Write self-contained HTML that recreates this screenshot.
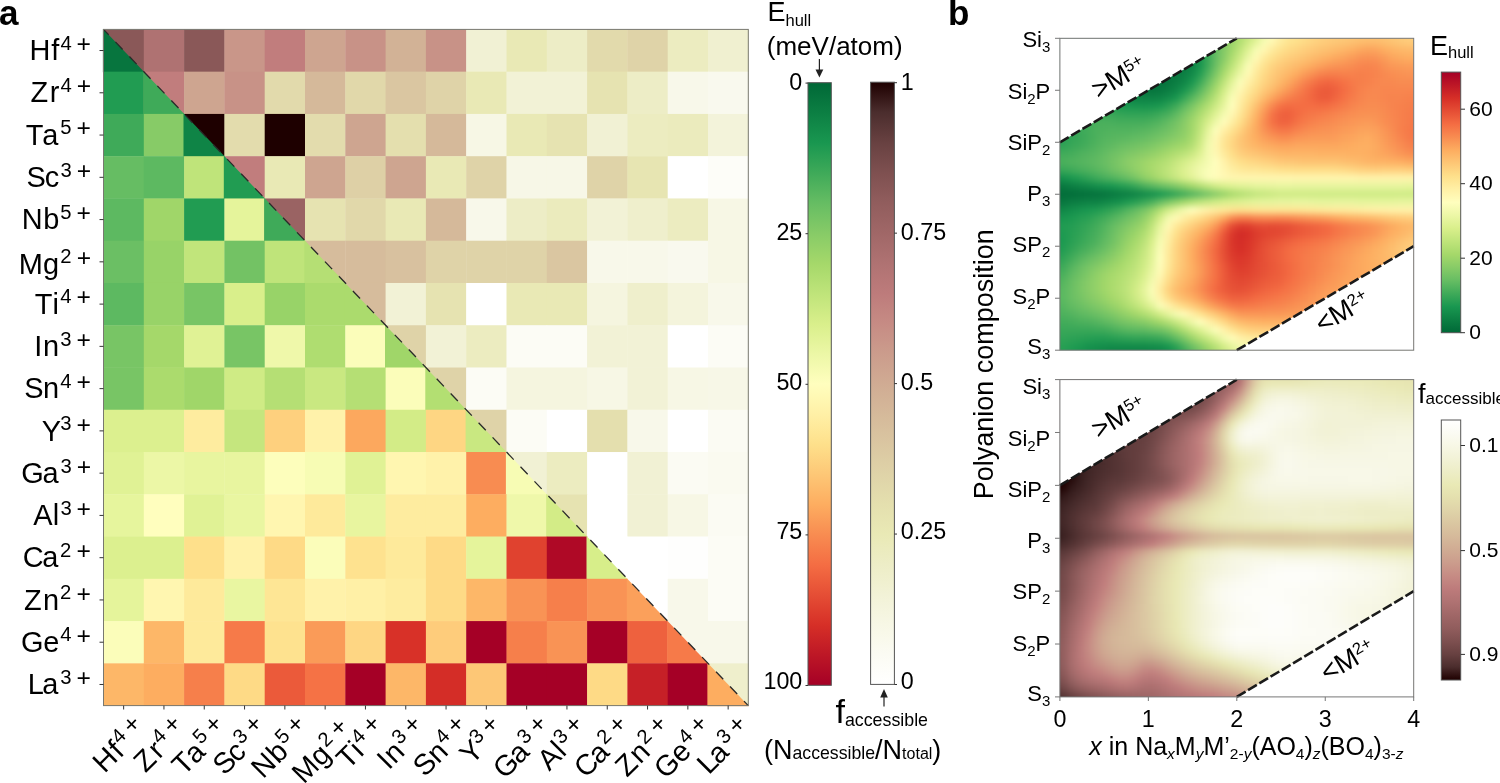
<!DOCTYPE html>
<html><head><meta charset="utf-8"><style>
html,body{margin:0;padding:0;background:#fff;width:1500px;height:783px;overflow:hidden}
svg{display:block;font-family:"Liberation Sans",sans-serif;will-change:transform}
.tl{font-size:27px;fill:#000}
.sp{font-size:19px}
.tk{stroke:#333;stroke-width:1;fill:none}
.cb{font-size:23.3px;fill:#000}
.bl{font-size:22px;fill:#000}
.sb{font-size:15px}
</style></head><body>
<svg width="1500" height="783" viewBox="0 0 1500 783">
<defs><linearGradient id="gE" x1="0" y1="0" x2="0" y2="1"><stop offset="0" stop-color="#006837"/><stop offset="0.05" stop-color="#0c7f43"/><stop offset="0.1" stop-color="#199750"/><stop offset="0.15" stop-color="#3faa59"/><stop offset="0.2" stop-color="#66bd63"/><stop offset="0.25" stop-color="#87cb67"/><stop offset="0.3" stop-color="#a5d86a"/><stop offset="0.35" stop-color="#bfe47a"/><stop offset="0.4" stop-color="#d9ef8b"/><stop offset="0.45" stop-color="#ecf7a6"/><stop offset="0.5" stop-color="#fffebe"/><stop offset="0.55" stop-color="#fff0a6"/><stop offset="0.6" stop-color="#fee08b"/><stop offset="0.65" stop-color="#fdc776"/><stop offset="0.7" stop-color="#fdad60"/><stop offset="0.75" stop-color="#f88c51"/><stop offset="0.8" stop-color="#f46d43"/><stop offset="0.85" stop-color="#e54e35"/><stop offset="0.9" stop-color="#d62f27"/><stop offset="0.95" stop-color="#bd1726"/><stop offset="1" stop-color="#a50026"/></linearGradient><linearGradient id="gF" x1="0" y1="0" x2="0" y2="1"><stop offset="0" stop-color="#1e0000"/><stop offset="0.05" stop-color="#4b2d2d"/><stop offset="0.1" stop-color="#684141"/><stop offset="0.15" stop-color="#7e5050"/><stop offset="0.2" stop-color="#915d5d"/><stop offset="0.25" stop-color="#a06767"/><stop offset="0.3" stop-color="#af7272"/><stop offset="0.35" stop-color="#bd7b7b"/><stop offset="0.4" stop-color="#c68b84"/><stop offset="0.45" stop-color="#cb9c8c"/><stop offset="0.5" stop-color="#d0ab93"/><stop offset="0.55" stop-color="#d5b99a"/><stop offset="0.6" stop-color="#dac6a1"/><stop offset="0.65" stop-color="#dfd3a8"/><stop offset="0.7" stop-color="#e4dfae"/><stop offset="0.75" stop-color="#e9e9b5"/><stop offset="0.8" stop-color="#ededc6"/><stop offset="0.85" stop-color="#f2f2d6"/><stop offset="0.9" stop-color="#f7f7e5"/><stop offset="0.95" stop-color="#fbfbf3"/><stop offset="1" stop-color="#ffffff"/></linearGradient><linearGradient id="gE2" x1="0" y1="0" x2="0" y2="1"><stop offset="0" stop-color="#a50026"/><stop offset="0.05" stop-color="#bd1726"/><stop offset="0.1" stop-color="#d62f27"/><stop offset="0.15" stop-color="#e54e35"/><stop offset="0.2" stop-color="#f46d43"/><stop offset="0.25" stop-color="#f88c51"/><stop offset="0.3" stop-color="#fdad60"/><stop offset="0.35" stop-color="#fdc776"/><stop offset="0.4" stop-color="#fee08b"/><stop offset="0.45" stop-color="#fff0a6"/><stop offset="0.5" stop-color="#fffebe"/><stop offset="0.55" stop-color="#ecf7a6"/><stop offset="0.6" stop-color="#d9ef8b"/><stop offset="0.65" stop-color="#bfe47a"/><stop offset="0.7" stop-color="#a5d86a"/><stop offset="0.75" stop-color="#87cb67"/><stop offset="0.8" stop-color="#66bd63"/><stop offset="0.85" stop-color="#3faa59"/><stop offset="0.9" stop-color="#199750"/><stop offset="0.95" stop-color="#0c7f43"/><stop offset="1" stop-color="#006837"/></linearGradient><linearGradient id="gF2" x1="0" y1="0" x2="0" y2="1"><stop offset="0" stop-color="#ffffff"/><stop offset="0.05" stop-color="#fbfbf3"/><stop offset="0.1" stop-color="#f7f7e5"/><stop offset="0.15" stop-color="#f2f2d6"/><stop offset="0.2" stop-color="#ededc6"/><stop offset="0.25" stop-color="#e9e9b5"/><stop offset="0.3" stop-color="#e4dfae"/><stop offset="0.35" stop-color="#dfd3a8"/><stop offset="0.4" stop-color="#dac6a1"/><stop offset="0.45" stop-color="#d5b99a"/><stop offset="0.5" stop-color="#d0ab93"/><stop offset="0.55" stop-color="#cb9c8c"/><stop offset="0.6" stop-color="#c68b84"/><stop offset="0.65" stop-color="#bd7b7b"/><stop offset="0.7" stop-color="#af7272"/><stop offset="0.75" stop-color="#a06767"/><stop offset="0.8" stop-color="#915d5d"/><stop offset="0.85" stop-color="#7e5050"/><stop offset="0.9" stop-color="#684141"/><stop offset="0.95" stop-color="#4b2d2d"/><stop offset="1" stop-color="#1e0000"/></linearGradient>
<filter id="bl" x="-5%" y="-5%" width="110%" height="110%" color-interpolation-filters="sRGB"><feGaussianBlur stdDeviation="3"/></filter>
<clipPath id="cpt"><rect x="1059.9" y="38.3" width="353.8" height="311.9"/></clipPath>
<clipPath id="cpb"><rect x="1059.9" y="379.6" width="353.8" height="317.3"/></clipPath>
</defs>
<text x="-1" y="24.5" style="font-size:35px;font-weight:bold">a</text>
<text x="948" y="24.5" style="font-size:35px;font-weight:bold">b</text>

<g><rect x="103.5" y="29.4" width="40.7" height="42.66" fill="#8a5858"/>
<path d="M102.9 28.8L144.4 72.26L102.9 72.26Z" fill="#07753e"/>
<rect x="143.8" y="29.4" width="40.7" height="42.66" fill="#af7272"/>
<rect x="184.1" y="29.4" width="40.7" height="42.66" fill="#8a5858"/>
<rect x="224.4" y="29.4" width="40.7" height="42.66" fill="#c99689"/>
<rect x="264.7" y="29.4" width="40.7" height="42.66" fill="#c17d7d"/>
<rect x="305" y="29.4" width="40.7" height="42.66" fill="#cea590"/>
<rect x="345.3" y="29.4" width="40.7" height="42.66" fill="#c89287"/>
<rect x="385.6" y="29.4" width="40.7" height="42.66" fill="#d2b296"/>
<rect x="425.9" y="29.4" width="40.7" height="42.66" fill="#c89287"/>
<rect x="466.2" y="29.4" width="40.7" height="42.66" fill="#f1f1d4"/>
<rect x="506.5" y="29.4" width="40.7" height="42.66" fill="#e9e9b5"/>
<rect x="546.8" y="29.4" width="40.7" height="42.66" fill="#ededc6"/>
<rect x="587.1" y="29.4" width="40.7" height="42.66" fill="#e2daac"/>
<rect x="627.4" y="29.4" width="40.7" height="42.66" fill="#dfd3a8"/>
<rect x="667.7" y="29.4" width="40.7" height="42.66" fill="#ececc0"/>
<rect x="708" y="29.4" width="40.7" height="42.66" fill="#f0f0d0"/>
<rect x="103.5" y="71.66" width="40.7" height="42.66" fill="#219c52"/>
<rect x="143.8" y="71.66" width="40.7" height="42.66" fill="#c17d7d"/>
<path d="M143.2 71.06L184.7 114.52L143.2 114.52Z" fill="#3faa59"/>
<rect x="184.1" y="71.66" width="40.7" height="42.66" fill="#cea590"/>
<rect x="224.4" y="71.66" width="40.7" height="42.66" fill="#c89287"/>
<rect x="264.7" y="71.66" width="40.7" height="42.66" fill="#e2daac"/>
<rect x="305" y="71.66" width="40.7" height="42.66" fill="#d5b99a"/>
<rect x="345.3" y="71.66" width="40.7" height="42.66" fill="#e1d8aa"/>
<rect x="385.6" y="71.66" width="40.7" height="42.66" fill="#dac6a1"/>
<rect x="425.9" y="71.66" width="40.7" height="42.66" fill="#dfd3a8"/>
<rect x="466.2" y="71.66" width="40.7" height="42.66" fill="#e9e9b5"/>
<rect x="506.5" y="71.66" width="40.7" height="42.66" fill="#f2f2d6"/>
<rect x="546.8" y="71.66" width="40.7" height="42.66" fill="#f2f2d6"/>
<rect x="587.1" y="71.66" width="40.7" height="42.66" fill="#e6e3b1"/>
<rect x="627.4" y="71.66" width="40.7" height="42.66" fill="#ededc6"/>
<rect x="667.7" y="71.66" width="40.7" height="42.66" fill="#f8f8ea"/>
<rect x="708" y="71.66" width="40.7" height="42.66" fill="#f9f9ee"/>
<rect x="103.5" y="113.93" width="40.7" height="42.66" fill="#3faa59"/>
<rect x="143.8" y="113.93" width="40.7" height="42.66" fill="#87cb67"/>
<rect x="184.1" y="113.93" width="40.7" height="42.66" fill="#1e0000"/>
<path d="M183.5 113.33L225 156.79L183.5 156.79Z" fill="#0f8446"/>
<rect x="224.4" y="113.93" width="40.7" height="42.66" fill="#e3dcad"/>
<rect x="264.7" y="113.93" width="40.7" height="42.66" fill="#1e0000"/>
<rect x="305" y="113.93" width="40.7" height="42.66" fill="#e3dcad"/>
<rect x="345.3" y="113.93" width="40.7" height="42.66" fill="#cea590"/>
<rect x="385.6" y="113.93" width="40.7" height="42.66" fill="#e4dfae"/>
<rect x="425.9" y="113.93" width="40.7" height="42.66" fill="#d5b99a"/>
<rect x="466.2" y="113.93" width="40.7" height="42.66" fill="#f7f7e5"/>
<rect x="506.5" y="113.93" width="40.7" height="42.66" fill="#e9e9b5"/>
<rect x="546.8" y="113.93" width="40.7" height="42.66" fill="#e6e3b1"/>
<rect x="587.1" y="113.93" width="40.7" height="42.66" fill="#f1f1d4"/>
<rect x="627.4" y="113.93" width="40.7" height="42.66" fill="#ececc0"/>
<rect x="667.7" y="113.93" width="40.7" height="42.66" fill="#ebebbd"/>
<rect x="708" y="113.93" width="40.7" height="42.66" fill="#f3f3da"/>
<rect x="103.5" y="156.19" width="40.7" height="42.66" fill="#66bd63"/>
<rect x="143.8" y="156.19" width="40.7" height="42.66" fill="#5db961"/>
<rect x="184.1" y="156.19" width="40.7" height="42.66" fill="#bfe47a"/>
<rect x="224.4" y="156.19" width="40.7" height="42.66" fill="#c17d7d"/>
<path d="M223.8 155.59L265.3 199.05L223.8 199.05Z" fill="#219c52"/>
<rect x="264.7" y="156.19" width="40.7" height="42.66" fill="#e9e9b5"/>
<rect x="305" y="156.19" width="40.7" height="42.66" fill="#cea590"/>
<rect x="345.3" y="156.19" width="40.7" height="42.66" fill="#ded0a6"/>
<rect x="385.6" y="156.19" width="40.7" height="42.66" fill="#cea590"/>
<rect x="425.9" y="156.19" width="40.7" height="42.66" fill="#e9e9b5"/>
<rect x="466.2" y="156.19" width="40.7" height="42.66" fill="#dfd3a8"/>
<rect x="506.5" y="156.19" width="40.7" height="42.66" fill="#f7f7e7"/>
<rect x="546.8" y="156.19" width="40.7" height="42.66" fill="#f7f7e7"/>
<rect x="587.1" y="156.19" width="40.7" height="42.66" fill="#dfd3a8"/>
<rect x="627.4" y="156.19" width="40.7" height="42.66" fill="#e7e5b2"/>
<rect x="667.7" y="156.19" width="40.7" height="42.66" fill="#ffffff"/>
<rect x="708" y="156.19" width="40.7" height="42.66" fill="#fdfdf8"/>
<rect x="103.5" y="198.45" width="40.7" height="42.66" fill="#5db961"/>
<rect x="143.8" y="198.45" width="40.7" height="42.66" fill="#a0d669"/>
<rect x="184.1" y="198.45" width="40.7" height="42.66" fill="#219c52"/>
<rect x="224.4" y="198.45" width="40.7" height="42.66" fill="#e5f49b"/>
<rect x="264.7" y="198.45" width="40.7" height="42.66" fill="#9a6363"/>
<path d="M264.1 197.85L305.6 241.31L264.1 241.31Z" fill="#3faa59"/>
<rect x="305" y="198.45" width="40.7" height="42.66" fill="#e6e3b1"/>
<rect x="345.3" y="198.45" width="40.7" height="42.66" fill="#e1d8aa"/>
<rect x="385.6" y="198.45" width="40.7" height="42.66" fill="#e9e9b5"/>
<rect x="425.9" y="198.45" width="40.7" height="42.66" fill="#d5b99a"/>
<rect x="466.2" y="198.45" width="40.7" height="42.66" fill="#f8f8ea"/>
<rect x="506.5" y="198.45" width="40.7" height="42.66" fill="#ededc6"/>
<rect x="546.8" y="198.45" width="40.7" height="42.66" fill="#ebebbd"/>
<rect x="587.1" y="198.45" width="40.7" height="42.66" fill="#f2f2d6"/>
<rect x="627.4" y="198.45" width="40.7" height="42.66" fill="#efefcc"/>
<rect x="667.7" y="198.45" width="40.7" height="42.66" fill="#ececc0"/>
<rect x="708" y="198.45" width="40.7" height="42.66" fill="#f7f7e5"/>
<rect x="103.5" y="240.71" width="40.7" height="42.66" fill="#6bbf64"/>
<rect x="143.8" y="240.71" width="40.7" height="42.66" fill="#98d368"/>
<rect x="184.1" y="240.71" width="40.7" height="42.66" fill="#c1e57b"/>
<rect x="224.4" y="240.71" width="40.7" height="42.66" fill="#73c264"/>
<rect x="264.7" y="240.71" width="40.7" height="42.66" fill="#bfe47a"/>
<rect x="305" y="240.71" width="40.7" height="42.66" fill="#d6bc9c"/>
<path d="M304.4 240.11L345.9 283.58L304.4 283.58Z" fill="#b5df74"/>
<rect x="345.3" y="240.71" width="40.7" height="42.66" fill="#d6bc9c"/>
<rect x="385.6" y="240.71" width="40.7" height="42.66" fill="#d8c19f"/>
<rect x="425.9" y="240.71" width="40.7" height="42.66" fill="#dfd3a8"/>
<rect x="466.2" y="240.71" width="40.7" height="42.66" fill="#dfd3a8"/>
<rect x="506.5" y="240.71" width="40.7" height="42.66" fill="#dfd3a8"/>
<rect x="546.8" y="240.71" width="40.7" height="42.66" fill="#dac6a1"/>
<rect x="587.1" y="240.71" width="40.7" height="42.66" fill="#f8f8ea"/>
<rect x="627.4" y="240.71" width="40.7" height="42.66" fill="#f8f8ea"/>
<rect x="667.7" y="240.71" width="40.7" height="42.66" fill="#f9f9ee"/>
<rect x="708" y="240.71" width="40.7" height="42.66" fill="#f7f7e5"/>
<rect x="103.5" y="282.98" width="40.7" height="42.66" fill="#5db961"/>
<rect x="143.8" y="282.98" width="40.7" height="42.66" fill="#98d368"/>
<rect x="184.1" y="282.98" width="40.7" height="42.66" fill="#78c565"/>
<rect x="224.4" y="282.98" width="40.7" height="42.66" fill="#d9ef8b"/>
<rect x="264.7" y="282.98" width="40.7" height="42.66" fill="#98d368"/>
<rect x="305" y="282.98" width="40.7" height="42.66" fill="#abdb6d"/>
<rect x="345.3" y="282.98" width="40.7" height="42.66" fill="#d6bc9c"/>
<path d="M344.7 282.38L386.2 325.84L344.7 325.84Z" fill="#abdb6d"/>
<rect x="385.6" y="282.98" width="40.7" height="42.66" fill="#f2f2d6"/>
<rect x="425.9" y="282.98" width="40.7" height="42.66" fill="#e6e3b1"/>
<rect x="466.2" y="282.98" width="40.7" height="42.66" fill="#ffffff"/>
<rect x="506.5" y="282.98" width="40.7" height="42.66" fill="#e9e9b5"/>
<rect x="546.8" y="282.98" width="40.7" height="42.66" fill="#e9e9b5"/>
<rect x="587.1" y="282.98" width="40.7" height="42.66" fill="#f5f5df"/>
<rect x="627.4" y="282.98" width="40.7" height="42.66" fill="#efefcc"/>
<rect x="667.7" y="282.98" width="40.7" height="42.66" fill="#f4f4dc"/>
<rect x="708" y="282.98" width="40.7" height="42.66" fill="#f8f8ea"/>
<rect x="103.5" y="325.24" width="40.7" height="42.66" fill="#78c565"/>
<rect x="143.8" y="325.24" width="40.7" height="42.66" fill="#a5d86a"/>
<rect x="184.1" y="325.24" width="40.7" height="42.66" fill="#e0f295"/>
<rect x="224.4" y="325.24" width="40.7" height="42.66" fill="#78c565"/>
<rect x="264.7" y="325.24" width="40.7" height="42.66" fill="#eff8aa"/>
<rect x="305" y="325.24" width="40.7" height="42.66" fill="#afdd70"/>
<rect x="345.3" y="325.24" width="40.7" height="42.66" fill="#fbfdba"/>
<rect x="385.6" y="325.24" width="40.7" height="42.66" fill="#dfd3a8"/>
<path d="M385 324.64L426.5 368.1L385 368.1Z" fill="#a0d669"/>
<rect x="425.9" y="325.24" width="40.7" height="42.66" fill="#f2f2d6"/>
<rect x="466.2" y="325.24" width="40.7" height="42.66" fill="#ececc0"/>
<rect x="506.5" y="325.24" width="40.7" height="42.66" fill="#fcfcf5"/>
<rect x="546.8" y="325.24" width="40.7" height="42.66" fill="#fcfcf5"/>
<rect x="587.1" y="325.24" width="40.7" height="42.66" fill="#f2f2d6"/>
<rect x="627.4" y="325.24" width="40.7" height="42.66" fill="#f2f2d6"/>
<rect x="667.7" y="325.24" width="40.7" height="42.66" fill="#ffffff"/>
<rect x="708" y="325.24" width="40.7" height="42.66" fill="#fcfcf5"/>
<rect x="103.5" y="367.5" width="40.7" height="42.66" fill="#78c565"/>
<rect x="143.8" y="367.5" width="40.7" height="42.66" fill="#abdb6d"/>
<rect x="184.1" y="367.5" width="40.7" height="42.66" fill="#a0d669"/>
<rect x="224.4" y="367.5" width="40.7" height="42.66" fill="#cfeb85"/>
<rect x="264.7" y="367.5" width="40.7" height="42.66" fill="#b5df74"/>
<rect x="305" y="367.5" width="40.7" height="42.66" fill="#c9e881"/>
<rect x="345.3" y="367.5" width="40.7" height="42.66" fill="#b5df74"/>
<rect x="385.6" y="367.5" width="40.7" height="42.66" fill="#fbfdba"/>
<rect x="425.9" y="367.5" width="40.7" height="42.66" fill="#dfd3a8"/>
<path d="M425.3 366.9L466.8 410.36L425.3 410.36Z" fill="#b3df72"/>
<rect x="466.2" y="367.5" width="40.7" height="42.66" fill="#fcfcf5"/>
<rect x="506.5" y="367.5" width="40.7" height="42.66" fill="#f5f5df"/>
<rect x="546.8" y="367.5" width="40.7" height="42.66" fill="#f5f5df"/>
<rect x="587.1" y="367.5" width="40.7" height="42.66" fill="#f7f7e5"/>
<rect x="627.4" y="367.5" width="40.7" height="42.66" fill="#f2f2d6"/>
<rect x="667.7" y="367.5" width="40.7" height="42.66" fill="#f7f7e5"/>
<rect x="708" y="367.5" width="40.7" height="42.66" fill="#f7f7e7"/>
<rect x="103.5" y="409.76" width="40.7" height="42.66" fill="#dcf08f"/>
<rect x="143.8" y="409.76" width="40.7" height="42.66" fill="#dcf08f"/>
<rect x="184.1" y="409.76" width="40.7" height="42.66" fill="#feec9f"/>
<rect x="224.4" y="409.76" width="40.7" height="42.66" fill="#c5e67e"/>
<rect x="264.7" y="409.76" width="40.7" height="42.66" fill="#fed07e"/>
<rect x="305" y="409.76" width="40.7" height="42.66" fill="#fff2aa"/>
<rect x="345.3" y="409.76" width="40.7" height="42.66" fill="#fca85e"/>
<rect x="385.6" y="409.76" width="40.7" height="42.66" fill="#d3ec87"/>
<rect x="425.9" y="409.76" width="40.7" height="42.66" fill="#fed683"/>
<rect x="466.2" y="409.76" width="40.7" height="42.66" fill="#dfd3a8"/>
<path d="M465.6 409.16L507.1 452.62L465.6 452.62Z" fill="#c9e881"/>
<rect x="506.5" y="409.76" width="40.7" height="42.66" fill="#fcfcf5"/>
<rect x="546.8" y="409.76" width="40.7" height="42.66" fill="#ffffff"/>
<rect x="587.1" y="409.76" width="40.7" height="42.66" fill="#e4dfae"/>
<rect x="627.4" y="409.76" width="40.7" height="42.66" fill="#f8f8ea"/>
<rect x="667.7" y="409.76" width="40.7" height="42.66" fill="#ffffff"/>
<rect x="708" y="409.76" width="40.7" height="42.66" fill="#fbfbf3"/>
<rect x="103.5" y="452.02" width="40.7" height="42.66" fill="#e0f295"/>
<rect x="143.8" y="452.02" width="40.7" height="42.66" fill="#ecf7a6"/>
<rect x="184.1" y="452.02" width="40.7" height="42.66" fill="#e8f59f"/>
<rect x="224.4" y="452.02" width="40.7" height="42.66" fill="#e8f59f"/>
<rect x="264.7" y="452.02" width="40.7" height="42.66" fill="#fdfebc"/>
<rect x="305" y="452.02" width="40.7" height="42.66" fill="#f7fcb4"/>
<rect x="345.3" y="452.02" width="40.7" height="42.66" fill="#e0f295"/>
<rect x="385.6" y="452.02" width="40.7" height="42.66" fill="#fff6b0"/>
<rect x="425.9" y="452.02" width="40.7" height="42.66" fill="#fff2aa"/>
<rect x="466.2" y="452.02" width="40.7" height="42.66" fill="#f88c51"/>
<rect x="506.5" y="452.02" width="40.7" height="42.66" fill="#f1f1d4"/>
<path d="M505.9 451.42L547.4 494.89L505.9 494.89Z" fill="#f7fcb4"/>
<rect x="546.8" y="452.02" width="40.7" height="42.66" fill="#ececc0"/>
<rect x="587.1" y="452.02" width="40.7" height="42.66" fill="#ffffff"/>
<rect x="627.4" y="452.02" width="40.7" height="42.66" fill="#f1f1d4"/>
<rect x="667.7" y="452.02" width="40.7" height="42.66" fill="#fbfbf3"/>
<rect x="708" y="452.02" width="40.7" height="42.66" fill="#fafaf0"/>
<rect x="103.5" y="494.29" width="40.7" height="42.66" fill="#e6f59d"/>
<rect x="143.8" y="494.29" width="40.7" height="42.66" fill="#fffebe"/>
<rect x="184.1" y="494.29" width="40.7" height="42.66" fill="#e0f295"/>
<rect x="224.4" y="494.29" width="40.7" height="42.66" fill="#e9f6a1"/>
<rect x="264.7" y="494.29" width="40.7" height="42.66" fill="#fff6b0"/>
<rect x="305" y="494.29" width="40.7" height="42.66" fill="#feea9b"/>
<rect x="345.3" y="494.29" width="40.7" height="42.66" fill="#e8f59f"/>
<rect x="385.6" y="494.29" width="40.7" height="42.66" fill="#feec9f"/>
<rect x="425.9" y="494.29" width="40.7" height="42.66" fill="#feec9f"/>
<rect x="466.2" y="494.29" width="40.7" height="42.66" fill="#fdad60"/>
<rect x="506.5" y="494.29" width="40.7" height="42.66" fill="#eff8aa"/>
<rect x="546.8" y="494.29" width="40.7" height="42.66" fill="#e6e3b1"/>
<path d="M546.2 493.69L587.7 537.15L546.2 537.15Z" fill="#d3ec87"/>
<rect x="587.1" y="494.29" width="40.7" height="42.66" fill="#ffffff"/>
<rect x="627.4" y="494.29" width="40.7" height="42.66" fill="#f1f1d4"/>
<rect x="667.7" y="494.29" width="40.7" height="42.66" fill="#f7f7e5"/>
<rect x="708" y="494.29" width="40.7" height="42.66" fill="#fbfbf3"/>
<rect x="103.5" y="536.55" width="40.7" height="42.66" fill="#dcf08f"/>
<rect x="143.8" y="536.55" width="40.7" height="42.66" fill="#dcf08f"/>
<rect x="184.1" y="536.55" width="40.7" height="42.66" fill="#fee08b"/>
<rect x="224.4" y="536.55" width="40.7" height="42.66" fill="#fff2aa"/>
<rect x="264.7" y="536.55" width="40.7" height="42.66" fill="#feda86"/>
<rect x="305" y="536.55" width="40.7" height="42.66" fill="#fbfdba"/>
<rect x="345.3" y="536.55" width="40.7" height="42.66" fill="#fee28f"/>
<rect x="385.6" y="536.55" width="40.7" height="42.66" fill="#feea9b"/>
<rect x="425.9" y="536.55" width="40.7" height="42.66" fill="#feda86"/>
<rect x="466.2" y="536.55" width="40.7" height="42.66" fill="#e5f49b"/>
<rect x="506.5" y="536.55" width="40.7" height="42.66" fill="#e0422f"/>
<rect x="546.8" y="536.55" width="40.7" height="42.66" fill="#af0926"/>
<rect x="587.1" y="536.55" width="40.7" height="42.66" fill="#ffffff"/>
<path d="M586.5 535.95L628 579.41L586.5 579.41Z" fill="#d7ee8a"/>
<rect x="627.4" y="536.55" width="40.7" height="42.66" fill="#ffffff"/>
<rect x="667.7" y="536.55" width="40.7" height="42.66" fill="#fefefd"/>
<rect x="708" y="536.55" width="40.7" height="42.66" fill="#fcfcf5"/>
<rect x="103.5" y="578.81" width="40.7" height="42.66" fill="#e5f49b"/>
<rect x="143.8" y="578.81" width="40.7" height="42.66" fill="#fff6b0"/>
<rect x="184.1" y="578.81" width="40.7" height="42.66" fill="#feea9b"/>
<rect x="224.4" y="578.81" width="40.7" height="42.66" fill="#e9f6a1"/>
<rect x="264.7" y="578.81" width="40.7" height="42.66" fill="#fee695"/>
<rect x="305" y="578.81" width="40.7" height="42.66" fill="#fff2aa"/>
<rect x="345.3" y="578.81" width="40.7" height="42.66" fill="#fff0a6"/>
<rect x="385.6" y="578.81" width="40.7" height="42.66" fill="#feec9f"/>
<rect x="425.9" y="578.81" width="40.7" height="42.66" fill="#feda86"/>
<rect x="466.2" y="578.81" width="40.7" height="42.66" fill="#fdb768"/>
<rect x="506.5" y="578.81" width="40.7" height="42.66" fill="#f99355"/>
<rect x="546.8" y="578.81" width="40.7" height="42.66" fill="#f67f4b"/>
<rect x="587.1" y="578.81" width="40.7" height="42.66" fill="#f99355"/>
<rect x="627.4" y="578.81" width="40.7" height="42.66" fill="#ffffff"/>
<path d="M626.8 578.21L668.3 621.68L626.8 621.68Z" fill="#fba05b"/>
<rect x="667.7" y="578.81" width="40.7" height="42.66" fill="#f8f8ea"/>
<rect x="708" y="578.81" width="40.7" height="42.66" fill="#fcfcf5"/>
<rect x="103.5" y="621.08" width="40.7" height="42.66" fill="#fbfdba"/>
<rect x="143.8" y="621.08" width="40.7" height="42.66" fill="#fdb768"/>
<rect x="184.1" y="621.08" width="40.7" height="42.66" fill="#feea9b"/>
<rect x="224.4" y="621.08" width="40.7" height="42.66" fill="#f67a49"/>
<rect x="264.7" y="621.08" width="40.7" height="42.66" fill="#fee28f"/>
<rect x="305" y="621.08" width="40.7" height="42.66" fill="#fa9b58"/>
<rect x="345.3" y="621.08" width="40.7" height="42.66" fill="#fed683"/>
<rect x="385.6" y="621.08" width="40.7" height="42.66" fill="#d83128"/>
<rect x="425.9" y="621.08" width="40.7" height="42.66" fill="#fecc7b"/>
<rect x="466.2" y="621.08" width="40.7" height="42.66" fill="#a50026"/>
<rect x="506.5" y="621.08" width="40.7" height="42.66" fill="#f67f4b"/>
<rect x="546.8" y="621.08" width="40.7" height="42.66" fill="#f99355"/>
<rect x="587.1" y="621.08" width="40.7" height="42.66" fill="#a50026"/>
<rect x="627.4" y="621.08" width="40.7" height="42.66" fill="#ee613e"/>
<rect x="667.7" y="621.08" width="40.7" height="42.66" fill="#f8f8ea"/>
<path d="M667.1 620.48L708.6 663.94L667.1 663.94Z" fill="#f67a49"/>
<rect x="708" y="621.08" width="40.7" height="42.66" fill="#f8f8ea"/>
<rect x="103.5" y="663.34" width="40.7" height="42.66" fill="#fdb768"/>
<rect x="143.8" y="663.34" width="40.7" height="42.66" fill="#fdad60"/>
<rect x="184.1" y="663.34" width="40.7" height="42.66" fill="#f67f4b"/>
<rect x="224.4" y="663.34" width="40.7" height="42.66" fill="#feda86"/>
<rect x="264.7" y="663.34" width="40.7" height="42.66" fill="#eb5a3a"/>
<rect x="305" y="663.34" width="40.7" height="42.66" fill="#f57245"/>
<rect x="345.3" y="663.34" width="40.7" height="42.66" fill="#a50026"/>
<rect x="385.6" y="663.34" width="40.7" height="42.66" fill="#fdb768"/>
<rect x="425.9" y="663.34" width="40.7" height="42.66" fill="#d42d27"/>
<rect x="466.2" y="663.34" width="40.7" height="42.66" fill="#fdc776"/>
<rect x="506.5" y="663.34" width="40.7" height="42.66" fill="#a50026"/>
<rect x="546.8" y="663.34" width="40.7" height="42.66" fill="#a50026"/>
<rect x="587.1" y="663.34" width="40.7" height="42.66" fill="#feda86"/>
<rect x="627.4" y="663.34" width="40.7" height="42.66" fill="#c62027"/>
<rect x="667.7" y="663.34" width="40.7" height="42.66" fill="#a50026"/>
<rect x="708" y="663.34" width="40.7" height="42.66" fill="#efefcc"/>
<path d="M707.4 662.74L748.9 706.2L707.4 706.2Z" fill="#fdad60"/></g>
<path d="M103.5 29.4L748.3 705.6" stroke="#2a2a2a" stroke-width="1.3" stroke-dasharray="10.4 9.84" stroke-dashoffset="2.94" fill="none"/>
<rect x="103.5" y="29.4" width="644.8" height="676.2" fill="none" stroke="#787870" stroke-width="1"/>
<text transform="translate(29.61 60.9)"><tspan x="-0.2" y="-0.88" style="font-size:28.94px">H</tspan><tspan x="21.63" y="-0.88" style="font-size:28.94px">f</tspan><tspan x="30.78" y="-11.22" style="font-size:20.26px">4</tspan><tspan x="47.01" y="-9.02" style="font-size:24.63px">+</tspan></text>
<text transform="translate(29.89 103.17)"><tspan x="0.5" y="-0.88" style="font-size:28.94px">Z</tspan><tspan x="19.99" y="-0.88" style="font-size:28.94px">r</tspan><tspan x="30.57" y="-11.22" style="font-size:20.26px">4</tspan><tspan x="46.8" y="-9.02" style="font-size:24.63px">+</tspan></text>
<text transform="translate(26.34 145.43)"><tspan x="-0.49" y="-0.88" style="font-size:28.94px">T</tspan><tspan x="15.94" y="-0.88" style="font-size:28.94px">a</tspan><tspan x="33.97" y="-11.22" style="font-size:20.26px">5</tspan><tspan x="50.27" y="-9.02" style="font-size:24.63px">+</tspan></text>
<text transform="translate(27.43 187.69)"><tspan x="-0.85" y="-0.63" style="font-size:28.94px">S</tspan><tspan x="17.24" y="-0.63" style="font-size:28.94px">c</tspan><tspan x="33.01" y="-10.97" style="font-size:20.26px">3</tspan><tspan x="49.21" y="-8.77" style="font-size:24.63px">+</tspan></text>
<text transform="translate(21.97 229.95)"><tspan x="-0.25" y="-0.88" style="font-size:28.94px">N</tspan><tspan x="21.17" y="-0.88" style="font-size:28.94px">b</tspan><tspan x="38.31" y="-11.22" style="font-size:20.26px">5</tspan><tspan x="54.61" y="-9.02" style="font-size:24.63px">+</tspan></text>
<text transform="translate(18.97 274.27)"><tspan x="-0.27" y="-0.63" style="font-size:28.94px">M</tspan><tspan x="23.96" y="-0.63" style="font-size:28.94px">g</tspan><tspan x="41.26" y="-10.97" style="font-size:20.26px">2</tspan><tspan x="57.74" y="-8.77" style="font-size:24.63px">+</tspan></text>
<text transform="translate(35.35 314.48)"><tspan x="-0.49" y="-0.88" style="font-size:28.94px">T</tspan><tspan x="17.23" y="-0.88" style="font-size:28.94px">i</tspan><tspan x="24.91" y="-11.22" style="font-size:20.26px">4</tspan><tspan x="41.15" y="-9.02" style="font-size:24.63px">+</tspan></text>
<text transform="translate(34.26 356.74)"><tspan x="0.01" y="-0.63" style="font-size:28.94px">I</tspan><tspan x="8.71" y="-0.63" style="font-size:28.94px">n</tspan><tspan x="26.03" y="-10.97" style="font-size:20.26px">3</tspan><tspan x="42.24" y="-8.77" style="font-size:24.63px">+</tspan></text>
<text transform="translate(24.97 399)"><tspan x="-0.85" y="-0.88" style="font-size:28.94px">S</tspan><tspan x="17.97" y="-0.88" style="font-size:28.94px">n</tspan><tspan x="35.27" y="-11.22" style="font-size:20.26px">4</tspan><tspan x="51.5" y="-9.02" style="font-size:24.63px">+</tspan></text>
<text transform="translate(42.99 441.27)"><tspan x="-1.32" y="-0.63" style="font-size:28.94px">Y</tspan><tspan x="17.37" y="-10.97" style="font-size:20.26px">3</tspan><tspan x="33.58" y="-8.77" style="font-size:24.63px">+</tspan></text>
<text transform="translate(21.97 483.53)"><tspan x="-0.67" y="-0.63" style="font-size:28.94px">G</tspan><tspan x="20.41" y="-0.63" style="font-size:28.94px">a</tspan><tspan x="38.54" y="-10.97" style="font-size:20.26px">3</tspan><tspan x="54.74" y="-8.77" style="font-size:24.63px">+</tspan></text>
<text transform="translate(33.44 525.79)"><tspan x="-0.31" y="-0.63" style="font-size:28.94px">A</tspan><tspan x="19.22" y="-0.63" style="font-size:28.94px">l</tspan><tspan x="26.94" y="-10.97" style="font-size:20.26px">3</tspan><tspan x="43.14" y="-8.77" style="font-size:24.63px">+</tspan></text>
<text transform="translate(23.88 568.05)"><tspan x="-1.08" y="-0.63" style="font-size:28.94px">C</tspan><tspan x="18.32" y="-0.63" style="font-size:28.94px">a</tspan><tspan x="36.17" y="-10.97" style="font-size:20.26px">2</tspan><tspan x="52.66" y="-8.77" style="font-size:24.63px">+</tspan></text>
<text transform="translate(23.61 610.32)"><tspan x="0.5" y="-0.63" style="font-size:28.94px">Z</tspan><tspan x="19.35" y="-0.63" style="font-size:28.94px">n</tspan><tspan x="36.39" y="-10.97" style="font-size:20.26px">2</tspan><tspan x="52.87" y="-8.77" style="font-size:24.63px">+</tspan></text>
<text transform="translate(21.7 652.58)"><tspan x="-0.67" y="-0.88" style="font-size:28.94px">G</tspan><tspan x="21.52" y="-0.88" style="font-size:28.94px">e</tspan><tspan x="38.58" y="-11.22" style="font-size:20.26px">4</tspan><tspan x="54.81" y="-9.02" style="font-size:24.63px">+</tspan></text>
<text transform="translate(27.7 694.84)"><tspan x="0.12" y="-0.63" style="font-size:28.94px">L</tspan><tspan x="14.47" y="-0.63" style="font-size:28.94px">a</tspan><tspan x="32.61" y="-10.97" style="font-size:20.26px">3</tspan><tspan x="48.81" y="-8.77" style="font-size:24.63px">+</tspan></text>
<path d="M99.5 50.53H103.5" class="tk"/>
<path d="M99.5 92.79H103.5" class="tk"/>
<path d="M99.5 135.06H103.5" class="tk"/>
<path d="M99.5 177.32H103.5" class="tk"/>
<path d="M99.5 219.58H103.5" class="tk"/>
<path d="M99.5 261.84H103.5" class="tk"/>
<path d="M99.5 304.11H103.5" class="tk"/>
<path d="M99.5 346.37H103.5" class="tk"/>
<path d="M99.5 388.63H103.5" class="tk"/>
<path d="M99.5 430.89H103.5" class="tk"/>
<path d="M99.5 473.16H103.5" class="tk"/>
<path d="M99.5 515.42H103.5" class="tk"/>
<path d="M99.5 557.68H103.5" class="tk"/>
<path d="M99.5 599.94H103.5" class="tk"/>
<path d="M99.5 642.21H103.5" class="tk"/>
<path d="M99.5 684.47H103.5" class="tk"/>
<text transform="translate(105.33 774.56) rotate(-45)"><tspan x="-0.2" y="-0.88" style="font-size:28.94px">H</tspan><tspan x="21.63" y="-0.88" style="font-size:28.94px">f</tspan><tspan x="30.78" y="-11.22" style="font-size:20.26px">4</tspan><tspan x="47.01" y="-9.02" style="font-size:24.63px">+</tspan></text>
<text transform="translate(145.73 774.37) rotate(-45)"><tspan x="0.5" y="-0.88" style="font-size:28.94px">Z</tspan><tspan x="19.99" y="-0.88" style="font-size:28.94px">r</tspan><tspan x="30.57" y="-11.22" style="font-size:20.26px">4</tspan><tspan x="46.8" y="-9.02" style="font-size:24.63px">+</tspan></text>
<text transform="translate(184.77 776.88) rotate(-45)"><tspan x="-0.49" y="-0.88" style="font-size:28.94px">T</tspan><tspan x="15.94" y="-0.88" style="font-size:28.94px">a</tspan><tspan x="33.97" y="-11.22" style="font-size:20.26px">5</tspan><tspan x="50.27" y="-9.02" style="font-size:24.63px">+</tspan></text>
<text transform="translate(225.46 776.11) rotate(-45)"><tspan x="-0.85" y="-0.63" style="font-size:28.94px">S</tspan><tspan x="17.24" y="-0.63" style="font-size:28.94px">c</tspan><tspan x="33.01" y="-10.97" style="font-size:20.26px">3</tspan><tspan x="49.21" y="-8.77" style="font-size:24.63px">+</tspan></text>
<text transform="translate(263.83 779.97) rotate(-45)"><tspan x="-0.25" y="-0.88" style="font-size:28.94px">N</tspan><tspan x="21.17" y="-0.88" style="font-size:28.94px">b</tspan><tspan x="38.31" y="-11.22" style="font-size:20.26px">5</tspan><tspan x="54.61" y="-9.02" style="font-size:24.63px">+</tspan></text>
<text transform="translate(304.49 784.99) rotate(-45)"><tspan x="-0.27" y="-0.63" style="font-size:28.94px">M</tspan><tspan x="23.96" y="-0.63" style="font-size:28.94px">g</tspan><tspan x="41.26" y="-10.97" style="font-size:20.26px">2</tspan><tspan x="57.74" y="-8.77" style="font-size:24.63px">+</tspan></text>
<text transform="translate(349.16 770.51) rotate(-45)"><tspan x="-0.49" y="-0.88" style="font-size:28.94px">T</tspan><tspan x="17.23" y="-0.88" style="font-size:28.94px">i</tspan><tspan x="24.91" y="-11.22" style="font-size:20.26px">4</tspan><tspan x="41.15" y="-9.02" style="font-size:24.63px">+</tspan></text>
<text transform="translate(389.07 771.28) rotate(-45)"><tspan x="0.01" y="-0.63" style="font-size:28.94px">I</tspan><tspan x="8.71" y="-0.63" style="font-size:28.94px">n</tspan><tspan x="26.03" y="-10.97" style="font-size:20.26px">3</tspan><tspan x="42.24" y="-8.77" style="font-size:24.63px">+</tspan></text>
<text transform="translate(426.09 777.84) rotate(-45)"><tspan x="-0.85" y="-0.88" style="font-size:28.94px">S</tspan><tspan x="17.97" y="-0.88" style="font-size:28.94px">n</tspan><tspan x="35.27" y="-11.22" style="font-size:20.26px">4</tspan><tspan x="51.5" y="-9.02" style="font-size:24.63px">+</tspan></text>
<text transform="translate(472.76 765.1) rotate(-45)"><tspan x="-1.32" y="-0.63" style="font-size:28.94px">Y</tspan><tspan x="17.37" y="-10.97" style="font-size:20.26px">3</tspan><tspan x="33.58" y="-8.77" style="font-size:24.63px">+</tspan></text>
<text transform="translate(505.63 779.97) rotate(-45)"><tspan x="-0.67" y="-0.63" style="font-size:28.94px">G</tspan><tspan x="20.41" y="-0.63" style="font-size:28.94px">a</tspan><tspan x="38.54" y="-10.97" style="font-size:20.26px">3</tspan><tspan x="54.74" y="-8.77" style="font-size:24.63px">+</tspan></text>
<text transform="translate(549.98 771.86) rotate(-45)"><tspan x="-0.31" y="-0.63" style="font-size:28.94px">A</tspan><tspan x="19.22" y="-0.63" style="font-size:28.94px">l</tspan><tspan x="26.94" y="-10.97" style="font-size:20.26px">3</tspan><tspan x="43.14" y="-8.77" style="font-size:24.63px">+</tspan></text>
<text transform="translate(586.9 778.62) rotate(-45)"><tspan x="-1.08" y="-0.63" style="font-size:28.94px">C</tspan><tspan x="18.32" y="-0.63" style="font-size:28.94px">a</tspan><tspan x="36.17" y="-10.97" style="font-size:20.26px">2</tspan><tspan x="52.66" y="-8.77" style="font-size:24.63px">+</tspan></text>
<text transform="translate(627.11 778.81) rotate(-45)"><tspan x="0.5" y="-0.63" style="font-size:28.94px">Z</tspan><tspan x="19.35" y="-0.63" style="font-size:28.94px">n</tspan><tspan x="36.39" y="-10.97" style="font-size:20.26px">2</tspan><tspan x="52.87" y="-8.77" style="font-size:24.63px">+</tspan></text>
<text transform="translate(666.73 780.16) rotate(-45)"><tspan x="-0.67" y="-0.88" style="font-size:28.94px">G</tspan><tspan x="21.52" y="-0.88" style="font-size:28.94px">e</tspan><tspan x="38.58" y="-11.22" style="font-size:20.26px">4</tspan><tspan x="54.81" y="-9.02" style="font-size:24.63px">+</tspan></text>
<text transform="translate(709.15 775.91) rotate(-45)"><tspan x="0.12" y="-0.63" style="font-size:28.94px">L</tspan><tspan x="14.47" y="-0.63" style="font-size:28.94px">a</tspan><tspan x="32.61" y="-10.97" style="font-size:20.26px">3</tspan><tspan x="48.81" y="-8.77" style="font-size:24.63px">+</tspan></text>
<path d="M123.65 705.6V709.5" class="tk"/>
<path d="M163.95 705.6V709.5" class="tk"/>
<path d="M204.25 705.6V709.5" class="tk"/>
<path d="M244.55 705.6V709.5" class="tk"/>
<path d="M284.85 705.6V709.5" class="tk"/>
<path d="M325.15 705.6V709.5" class="tk"/>
<path d="M365.45 705.6V709.5" class="tk"/>
<path d="M405.75 705.6V709.5" class="tk"/>
<path d="M446.05 705.6V709.5" class="tk"/>
<path d="M486.35 705.6V709.5" class="tk"/>
<path d="M526.65 705.6V709.5" class="tk"/>
<path d="M566.95 705.6V709.5" class="tk"/>
<path d="M607.25 705.6V709.5" class="tk"/>
<path d="M647.55 705.6V709.5" class="tk"/>
<path d="M687.85 705.6V709.5" class="tk"/>
<path d="M728.15 705.6V709.5" class="tk"/>
<rect x="808" y="82.7" width="23.3" height="602.6" fill="url(#gE)" stroke="#555" stroke-width="1"/>
<rect x="870.6" y="82.2" width="23.8" height="602.2" fill="url(#gF)" stroke="#555" stroke-width="1"/>
<path d="M805.5 83.1H808" class="tk"/>
<text x="802.3" y="90.1" text-anchor="end" class="cb">0</text>
<path d="M805.5 233.7H808" class="tk"/>
<text x="802.3" y="239.85" text-anchor="end" class="cb">25</text>
<path d="M805.5 384.3H808" class="tk"/>
<text x="802.3" y="389.6" text-anchor="end" class="cb">50</text>
<path d="M805.5 534.9H808" class="tk"/>
<text x="802.3" y="539.35" text-anchor="end" class="cb">75</text>
<path d="M805.5 685.5H808" class="tk"/>
<text x="802.3" y="689.1" text-anchor="end" class="cb">100</text>
<path d="M894.4 82.7H897" class="tk"/>
<text x="900.8" y="90.1" class="cb">1</text>
<path d="M894.4 233.15H897" class="tk"/>
<text x="900.8" y="239.85" class="cb">0.75</text>
<path d="M894.4 383.6H897" class="tk"/>
<text x="900.8" y="389.6" class="cb">0.5</text>
<path d="M894.4 534.05H897" class="tk"/>
<text x="900.8" y="539.35" class="cb">0.25</text>
<path d="M894.4 684.5H897" class="tk"/>
<text x="900.8" y="689.1" class="cb">0</text>
<text x="767.5" y="21.4" style="font-size:27px">E<tspan style="font-size:16.5px" dy="4.6">hull</tspan></text>
<text x="766.8" y="55.2" style="font-size:26px">(meV/atom)</text>
<path d="M819.4 59V74" stroke="#222" stroke-width="1.2"/><path d="M815.5 69.5L819.4 77.5L823.3 69.5Z" fill="#222"/>
<path d="M884 706.5V693" stroke="#222" stroke-width="1.2"/><path d="M880.2 697.5L884 689L887.8 697.5Z" fill="#222"/>
<text x="835.5" y="722.7" style="font-size:34px">f<tspan style="font-size:17.8px" dy="2.8">accessible</tspan></text>
<text x="764" y="758.6" style="font-size:27px">(N<tspan style="font-size:17.7px">accessible</tspan>/N<tspan style="font-size:16px">total</tspan>)</text>
<g clip-path="url(#cpt)"><g filter="url(#bl)"><rect x="1036" y="14" width="9" height="9" fill="#0c7f43"/>
<rect x="1044" y="14" width="9" height="9" fill="#0c7f43"/>
<rect x="1052" y="14" width="9" height="9" fill="#0c7f43"/>
<rect x="1060" y="14" width="9" height="9" fill="#0c7f43"/>
<rect x="1068" y="14" width="9" height="9" fill="#0c7f43"/>
<rect x="1076" y="14" width="9" height="9" fill="#0c7f43"/>
<rect x="1084" y="14" width="9" height="9" fill="#0c7f43"/>
<rect x="1092" y="14" width="9" height="9" fill="#0c7f43"/>
<rect x="1100" y="14" width="9" height="9" fill="#0c7f43"/>
<rect x="1108" y="14" width="9" height="9" fill="#0c7f43"/>
<rect x="1116" y="14" width="9" height="9" fill="#0c7f43"/>
<rect x="1124" y="14" width="9" height="9" fill="#0c7f43"/>
<rect x="1132" y="14" width="9" height="9" fill="#0c7f43"/>
<rect x="1140" y="14" width="9" height="9" fill="#0c7f43"/>
<rect x="1148" y="14" width="9" height="9" fill="#0d8044"/>
<rect x="1156" y="14" width="9" height="9" fill="#0f8446"/>
<rect x="1164" y="14" width="9" height="9" fill="#138c4a"/>
<rect x="1172" y="14" width="9" height="9" fill="#18954f"/>
<rect x="1180" y="14" width="9" height="9" fill="#279f53"/>
<rect x="1188" y="14" width="9" height="9" fill="#3ca959"/>
<rect x="1196" y="14" width="9" height="9" fill="#51b35e"/>
<rect x="1204" y="14" width="9" height="9" fill="#63bc62"/>
<rect x="1212" y="14" width="9" height="9" fill="#75c465"/>
<rect x="1220" y="14" width="9" height="9" fill="#87cb67"/>
<rect x="1228" y="14" width="9" height="9" fill="#98d368"/>
<rect x="1236" y="14" width="9" height="9" fill="#addc6f"/>
<rect x="1244" y="14" width="9" height="9" fill="#c3e67d"/>
<rect x="1252" y="14" width="9" height="9" fill="#d9ef8b"/>
<rect x="1260" y="14" width="9" height="9" fill="#ecf7a6"/>
<rect x="1268" y="14" width="9" height="9" fill="#fffebe"/>
<rect x="1276" y="14" width="9" height="9" fill="#fff1a8"/>
<rect x="1284" y="14" width="9" height="9" fill="#fee999"/>
<rect x="1292" y="14" width="9" height="9" fill="#fee491"/>
<rect x="1300" y="14" width="9" height="9" fill="#fee08b"/>
<rect x="1308" y="14" width="9" height="9" fill="#fed884"/>
<rect x="1316" y="14" width="9" height="9" fill="#fed481"/>
<rect x="1324" y="14" width="9" height="9" fill="#fed07e"/>
<rect x="1332" y="14" width="9" height="9" fill="#fece7c"/>
<rect x="1340" y="14" width="9" height="9" fill="#fecc7b"/>
<rect x="1348" y="14" width="9" height="9" fill="#feca79"/>
<rect x="1356" y="14" width="9" height="9" fill="#fec877"/>
<rect x="1364" y="14" width="9" height="9" fill="#fdc776"/>
<rect x="1372" y="14" width="9" height="9" fill="#fdc776"/>
<rect x="1380" y="14" width="9" height="9" fill="#fec877"/>
<rect x="1388" y="14" width="9" height="9" fill="#fecc7b"/>
<rect x="1396" y="14" width="9" height="9" fill="#fece7c"/>
<rect x="1404" y="14" width="9" height="9" fill="#fed27f"/>
<rect x="1412" y="14" width="9" height="9" fill="#fed683"/>
<rect x="1420" y="14" width="9" height="9" fill="#fed683"/>
<rect x="1428" y="14" width="9" height="9" fill="#fed683"/>
<rect x="1436" y="14" width="9" height="9" fill="#fed683"/>
<rect x="1036" y="22" width="9" height="9" fill="#0c7f43"/>
<rect x="1044" y="22" width="9" height="9" fill="#0c7f43"/>
<rect x="1052" y="22" width="9" height="9" fill="#0c7f43"/>
<rect x="1060" y="22" width="9" height="9" fill="#0c7f43"/>
<rect x="1068" y="22" width="9" height="9" fill="#0c7f43"/>
<rect x="1076" y="22" width="9" height="9" fill="#0c7f43"/>
<rect x="1084" y="22" width="9" height="9" fill="#0c7f43"/>
<rect x="1092" y="22" width="9" height="9" fill="#0c7f43"/>
<rect x="1100" y="22" width="9" height="9" fill="#0c7f43"/>
<rect x="1108" y="22" width="9" height="9" fill="#0c7f43"/>
<rect x="1116" y="22" width="9" height="9" fill="#0c7f43"/>
<rect x="1124" y="22" width="9" height="9" fill="#0c7f43"/>
<rect x="1132" y="22" width="9" height="9" fill="#0c7f43"/>
<rect x="1140" y="22" width="9" height="9" fill="#0c7f43"/>
<rect x="1148" y="22" width="9" height="9" fill="#0d8044"/>
<rect x="1156" y="22" width="9" height="9" fill="#0f8446"/>
<rect x="1164" y="22" width="9" height="9" fill="#138c4a"/>
<rect x="1172" y="22" width="9" height="9" fill="#18954f"/>
<rect x="1180" y="22" width="9" height="9" fill="#279f53"/>
<rect x="1188" y="22" width="9" height="9" fill="#3ca959"/>
<rect x="1196" y="22" width="9" height="9" fill="#51b35e"/>
<rect x="1204" y="22" width="9" height="9" fill="#63bc62"/>
<rect x="1212" y="22" width="9" height="9" fill="#75c465"/>
<rect x="1220" y="22" width="9" height="9" fill="#87cb67"/>
<rect x="1228" y="22" width="9" height="9" fill="#98d368"/>
<rect x="1236" y="22" width="9" height="9" fill="#addc6f"/>
<rect x="1244" y="22" width="9" height="9" fill="#c3e67d"/>
<rect x="1252" y="22" width="9" height="9" fill="#d9ef8b"/>
<rect x="1260" y="22" width="9" height="9" fill="#ecf7a6"/>
<rect x="1268" y="22" width="9" height="9" fill="#fffebe"/>
<rect x="1276" y="22" width="9" height="9" fill="#fff1a8"/>
<rect x="1284" y="22" width="9" height="9" fill="#fee999"/>
<rect x="1292" y="22" width="9" height="9" fill="#fee491"/>
<rect x="1300" y="22" width="9" height="9" fill="#fee08b"/>
<rect x="1308" y="22" width="9" height="9" fill="#fed884"/>
<rect x="1316" y="22" width="9" height="9" fill="#fed481"/>
<rect x="1324" y="22" width="9" height="9" fill="#fed07e"/>
<rect x="1332" y="22" width="9" height="9" fill="#fece7c"/>
<rect x="1340" y="22" width="9" height="9" fill="#fecc7b"/>
<rect x="1348" y="22" width="9" height="9" fill="#feca79"/>
<rect x="1356" y="22" width="9" height="9" fill="#fec877"/>
<rect x="1364" y="22" width="9" height="9" fill="#fdc776"/>
<rect x="1372" y="22" width="9" height="9" fill="#fdc776"/>
<rect x="1380" y="22" width="9" height="9" fill="#fec877"/>
<rect x="1388" y="22" width="9" height="9" fill="#fecc7b"/>
<rect x="1396" y="22" width="9" height="9" fill="#fece7c"/>
<rect x="1404" y="22" width="9" height="9" fill="#fed27f"/>
<rect x="1412" y="22" width="9" height="9" fill="#fed683"/>
<rect x="1420" y="22" width="9" height="9" fill="#fed683"/>
<rect x="1428" y="22" width="9" height="9" fill="#fed683"/>
<rect x="1436" y="22" width="9" height="9" fill="#fed683"/>
<rect x="1036" y="30" width="9" height="9" fill="#0c7f43"/>
<rect x="1044" y="30" width="9" height="9" fill="#0c7f43"/>
<rect x="1052" y="30" width="9" height="9" fill="#0c7f43"/>
<rect x="1060" y="30" width="9" height="9" fill="#0c7f43"/>
<rect x="1068" y="30" width="9" height="9" fill="#0c7f43"/>
<rect x="1076" y="30" width="9" height="9" fill="#0c7f43"/>
<rect x="1084" y="30" width="9" height="9" fill="#0c7f43"/>
<rect x="1092" y="30" width="9" height="9" fill="#0c7f43"/>
<rect x="1100" y="30" width="9" height="9" fill="#0c7f43"/>
<rect x="1108" y="30" width="9" height="9" fill="#0c7f43"/>
<rect x="1116" y="30" width="9" height="9" fill="#0c7f43"/>
<rect x="1124" y="30" width="9" height="9" fill="#0c7f43"/>
<rect x="1132" y="30" width="9" height="9" fill="#0c7f43"/>
<rect x="1140" y="30" width="9" height="9" fill="#0c7f43"/>
<rect x="1148" y="30" width="9" height="9" fill="#0d8044"/>
<rect x="1156" y="30" width="9" height="9" fill="#0f8446"/>
<rect x="1164" y="30" width="9" height="9" fill="#138c4a"/>
<rect x="1172" y="30" width="9" height="9" fill="#18954f"/>
<rect x="1180" y="30" width="9" height="9" fill="#279f53"/>
<rect x="1188" y="30" width="9" height="9" fill="#3ca959"/>
<rect x="1196" y="30" width="9" height="9" fill="#51b35e"/>
<rect x="1204" y="30" width="9" height="9" fill="#63bc62"/>
<rect x="1212" y="30" width="9" height="9" fill="#75c465"/>
<rect x="1220" y="30" width="9" height="9" fill="#87cb67"/>
<rect x="1228" y="30" width="9" height="9" fill="#98d368"/>
<rect x="1236" y="30" width="9" height="9" fill="#addc6f"/>
<rect x="1244" y="30" width="9" height="9" fill="#c3e67d"/>
<rect x="1252" y="30" width="9" height="9" fill="#d9ef8b"/>
<rect x="1260" y="30" width="9" height="9" fill="#ecf7a6"/>
<rect x="1268" y="30" width="9" height="9" fill="#fffebe"/>
<rect x="1276" y="30" width="9" height="9" fill="#fff1a8"/>
<rect x="1284" y="30" width="9" height="9" fill="#fee999"/>
<rect x="1292" y="30" width="9" height="9" fill="#fee491"/>
<rect x="1300" y="30" width="9" height="9" fill="#fee08b"/>
<rect x="1308" y="30" width="9" height="9" fill="#fed884"/>
<rect x="1316" y="30" width="9" height="9" fill="#fed481"/>
<rect x="1324" y="30" width="9" height="9" fill="#fed07e"/>
<rect x="1332" y="30" width="9" height="9" fill="#fece7c"/>
<rect x="1340" y="30" width="9" height="9" fill="#fecc7b"/>
<rect x="1348" y="30" width="9" height="9" fill="#feca79"/>
<rect x="1356" y="30" width="9" height="9" fill="#fec877"/>
<rect x="1364" y="30" width="9" height="9" fill="#fdc776"/>
<rect x="1372" y="30" width="9" height="9" fill="#fdc776"/>
<rect x="1380" y="30" width="9" height="9" fill="#fec877"/>
<rect x="1388" y="30" width="9" height="9" fill="#fecc7b"/>
<rect x="1396" y="30" width="9" height="9" fill="#fece7c"/>
<rect x="1404" y="30" width="9" height="9" fill="#fed27f"/>
<rect x="1412" y="30" width="9" height="9" fill="#fed683"/>
<rect x="1420" y="30" width="9" height="9" fill="#fed683"/>
<rect x="1428" y="30" width="9" height="9" fill="#fed683"/>
<rect x="1436" y="30" width="9" height="9" fill="#fed683"/>
<rect x="1036" y="38" width="9" height="9" fill="#0d8044"/>
<rect x="1044" y="38" width="9" height="9" fill="#0d8044"/>
<rect x="1052" y="38" width="9" height="9" fill="#0d8044"/>
<rect x="1060" y="38" width="9" height="9" fill="#0d8044"/>
<rect x="1068" y="38" width="9" height="9" fill="#0d8044"/>
<rect x="1076" y="38" width="9" height="9" fill="#0d8044"/>
<rect x="1084" y="38" width="9" height="9" fill="#0d8044"/>
<rect x="1092" y="38" width="9" height="9" fill="#0d8044"/>
<rect x="1100" y="38" width="9" height="9" fill="#0d8044"/>
<rect x="1108" y="38" width="9" height="9" fill="#0d8044"/>
<rect x="1116" y="38" width="9" height="9" fill="#0d8044"/>
<rect x="1124" y="38" width="9" height="9" fill="#0d8044"/>
<rect x="1132" y="38" width="9" height="9" fill="#0c7f43"/>
<rect x="1140" y="38" width="9" height="9" fill="#0c7f43"/>
<rect x="1148" y="38" width="9" height="9" fill="#0d8044"/>
<rect x="1156" y="38" width="9" height="9" fill="#0e8245"/>
<rect x="1164" y="38" width="9" height="9" fill="#118848"/>
<rect x="1172" y="38" width="9" height="9" fill="#148e4b"/>
<rect x="1180" y="38" width="9" height="9" fill="#199750"/>
<rect x="1188" y="38" width="9" height="9" fill="#2aa054"/>
<rect x="1196" y="38" width="9" height="9" fill="#3faa59"/>
<rect x="1204" y="38" width="9" height="9" fill="#57b65f"/>
<rect x="1212" y="38" width="9" height="9" fill="#6ec064"/>
<rect x="1220" y="38" width="9" height="9" fill="#84ca66"/>
<rect x="1228" y="38" width="9" height="9" fill="#9bd469"/>
<rect x="1236" y="38" width="9" height="9" fill="#b3df72"/>
<rect x="1244" y="38" width="9" height="9" fill="#cdea83"/>
<rect x="1252" y="38" width="9" height="9" fill="#e3f399"/>
<rect x="1260" y="38" width="9" height="9" fill="#f7fcb4"/>
<rect x="1268" y="38" width="9" height="9" fill="#fff7b2"/>
<rect x="1276" y="38" width="9" height="9" fill="#feec9f"/>
<rect x="1284" y="38" width="9" height="9" fill="#fee491"/>
<rect x="1292" y="38" width="9" height="9" fill="#fee08b"/>
<rect x="1300" y="38" width="9" height="9" fill="#feda86"/>
<rect x="1308" y="38" width="9" height="9" fill="#fed481"/>
<rect x="1316" y="38" width="9" height="9" fill="#fece7c"/>
<rect x="1324" y="38" width="9" height="9" fill="#feca79"/>
<rect x="1332" y="38" width="9" height="9" fill="#fdc776"/>
<rect x="1340" y="38" width="9" height="9" fill="#fdc574"/>
<rect x="1348" y="38" width="9" height="9" fill="#fdc171"/>
<rect x="1356" y="38" width="9" height="9" fill="#fdbd6d"/>
<rect x="1364" y="38" width="9" height="9" fill="#fdbb6c"/>
<rect x="1372" y="38" width="9" height="9" fill="#fdbb6c"/>
<rect x="1380" y="38" width="9" height="9" fill="#fdbf6f"/>
<rect x="1388" y="38" width="9" height="9" fill="#fdc372"/>
<rect x="1396" y="38" width="9" height="9" fill="#fdc776"/>
<rect x="1404" y="38" width="9" height="9" fill="#feca79"/>
<rect x="1412" y="38" width="9" height="9" fill="#fecc7b"/>
<rect x="1420" y="38" width="9" height="9" fill="#fecc7b"/>
<rect x="1428" y="38" width="9" height="9" fill="#fecc7b"/>
<rect x="1436" y="38" width="9" height="9" fill="#fecc7b"/>
<rect x="1036" y="46" width="9" height="9" fill="#0d8044"/>
<rect x="1044" y="46" width="9" height="9" fill="#0d8044"/>
<rect x="1052" y="46" width="9" height="9" fill="#0d8044"/>
<rect x="1060" y="46" width="9" height="9" fill="#0d8044"/>
<rect x="1068" y="46" width="9" height="9" fill="#0d8044"/>
<rect x="1076" y="46" width="9" height="9" fill="#0d8044"/>
<rect x="1084" y="46" width="9" height="9" fill="#0d8044"/>
<rect x="1092" y="46" width="9" height="9" fill="#0d8044"/>
<rect x="1100" y="46" width="9" height="9" fill="#0e8245"/>
<rect x="1108" y="46" width="9" height="9" fill="#0e8245"/>
<rect x="1116" y="46" width="9" height="9" fill="#0e8245"/>
<rect x="1124" y="46" width="9" height="9" fill="#0d8044"/>
<rect x="1132" y="46" width="9" height="9" fill="#0d8044"/>
<rect x="1140" y="46" width="9" height="9" fill="#0c7f43"/>
<rect x="1148" y="46" width="9" height="9" fill="#0c7f43"/>
<rect x="1156" y="46" width="9" height="9" fill="#0d8044"/>
<rect x="1164" y="46" width="9" height="9" fill="#0e8245"/>
<rect x="1172" y="46" width="9" height="9" fill="#0f8446"/>
<rect x="1180" y="46" width="9" height="9" fill="#118848"/>
<rect x="1188" y="46" width="9" height="9" fill="#15904c"/>
<rect x="1196" y="46" width="9" height="9" fill="#249d53"/>
<rect x="1204" y="46" width="9" height="9" fill="#42ac5a"/>
<rect x="1212" y="46" width="9" height="9" fill="#66bd63"/>
<rect x="1220" y="46" width="9" height="9" fill="#84ca66"/>
<rect x="1228" y="46" width="9" height="9" fill="#a2d76a"/>
<rect x="1236" y="46" width="9" height="9" fill="#c1e57b"/>
<rect x="1244" y="46" width="9" height="9" fill="#dff293"/>
<rect x="1252" y="46" width="9" height="9" fill="#f7fcb4"/>
<rect x="1260" y="46" width="9" height="9" fill="#fff7b2"/>
<rect x="1268" y="46" width="9" height="9" fill="#feeb9d"/>
<rect x="1276" y="46" width="9" height="9" fill="#fee28f"/>
<rect x="1284" y="46" width="9" height="9" fill="#feda86"/>
<rect x="1292" y="46" width="9" height="9" fill="#fed481"/>
<rect x="1300" y="46" width="9" height="9" fill="#fece7c"/>
<rect x="1308" y="46" width="9" height="9" fill="#fec877"/>
<rect x="1316" y="46" width="9" height="9" fill="#fdc372"/>
<rect x="1324" y="46" width="9" height="9" fill="#fdbf6f"/>
<rect x="1332" y="46" width="9" height="9" fill="#fdb96a"/>
<rect x="1340" y="46" width="9" height="9" fill="#fdb567"/>
<rect x="1348" y="46" width="9" height="9" fill="#fdaf62"/>
<rect x="1356" y="46" width="9" height="9" fill="#fca85e"/>
<rect x="1364" y="46" width="9" height="9" fill="#fba35c"/>
<rect x="1372" y="46" width="9" height="9" fill="#fca55d"/>
<rect x="1380" y="46" width="9" height="9" fill="#fdad60"/>
<rect x="1388" y="46" width="9" height="9" fill="#fdb365"/>
<rect x="1396" y="46" width="9" height="9" fill="#fdb768"/>
<rect x="1404" y="46" width="9" height="9" fill="#fdb96a"/>
<rect x="1412" y="46" width="9" height="9" fill="#fdbb6c"/>
<rect x="1420" y="46" width="9" height="9" fill="#fdbb6c"/>
<rect x="1428" y="46" width="9" height="9" fill="#fdbb6c"/>
<rect x="1436" y="46" width="9" height="9" fill="#fdbb6c"/>
<rect x="1036" y="54" width="9" height="9" fill="#0d8044"/>
<rect x="1044" y="54" width="9" height="9" fill="#0d8044"/>
<rect x="1052" y="54" width="9" height="9" fill="#0d8044"/>
<rect x="1060" y="54" width="9" height="9" fill="#0d8044"/>
<rect x="1068" y="54" width="9" height="9" fill="#0d8044"/>
<rect x="1076" y="54" width="9" height="9" fill="#0d8044"/>
<rect x="1084" y="54" width="9" height="9" fill="#0d8044"/>
<rect x="1092" y="54" width="9" height="9" fill="#0d8044"/>
<rect x="1100" y="54" width="9" height="9" fill="#0d8044"/>
<rect x="1108" y="54" width="9" height="9" fill="#0d8044"/>
<rect x="1116" y="54" width="9" height="9" fill="#0d8044"/>
<rect x="1124" y="54" width="9" height="9" fill="#0d8044"/>
<rect x="1132" y="54" width="9" height="9" fill="#0c7f43"/>
<rect x="1140" y="54" width="9" height="9" fill="#0b7d42"/>
<rect x="1148" y="54" width="9" height="9" fill="#0b7d42"/>
<rect x="1156" y="54" width="9" height="9" fill="#0b7d42"/>
<rect x="1164" y="54" width="9" height="9" fill="#0b7d42"/>
<rect x="1172" y="54" width="9" height="9" fill="#0b7d42"/>
<rect x="1180" y="54" width="9" height="9" fill="#0c7f43"/>
<rect x="1188" y="54" width="9" height="9" fill="#0f8446"/>
<rect x="1196" y="54" width="9" height="9" fill="#18954f"/>
<rect x="1204" y="54" width="9" height="9" fill="#3ca959"/>
<rect x="1212" y="54" width="9" height="9" fill="#66bd63"/>
<rect x="1220" y="54" width="9" height="9" fill="#89cc67"/>
<rect x="1228" y="54" width="9" height="9" fill="#afdd70"/>
<rect x="1236" y="54" width="9" height="9" fill="#cfeb85"/>
<rect x="1244" y="54" width="9" height="9" fill="#ecf7a6"/>
<rect x="1252" y="54" width="9" height="9" fill="#fffab6"/>
<rect x="1260" y="54" width="9" height="9" fill="#feeb9d"/>
<rect x="1268" y="54" width="9" height="9" fill="#fee18d"/>
<rect x="1276" y="54" width="9" height="9" fill="#fed683"/>
<rect x="1284" y="54" width="9" height="9" fill="#fece7c"/>
<rect x="1292" y="54" width="9" height="9" fill="#fec877"/>
<rect x="1300" y="54" width="9" height="9" fill="#fdc372"/>
<rect x="1308" y="54" width="9" height="9" fill="#fdbb6c"/>
<rect x="1316" y="54" width="9" height="9" fill="#fdb567"/>
<rect x="1324" y="54" width="9" height="9" fill="#fdaf62"/>
<rect x="1332" y="54" width="9" height="9" fill="#fca85e"/>
<rect x="1340" y="54" width="9" height="9" fill="#fba35c"/>
<rect x="1348" y="54" width="9" height="9" fill="#fa9b58"/>
<rect x="1356" y="54" width="9" height="9" fill="#f99355"/>
<rect x="1364" y="54" width="9" height="9" fill="#f99153"/>
<rect x="1372" y="54" width="9" height="9" fill="#f99355"/>
<rect x="1380" y="54" width="9" height="9" fill="#fa9b58"/>
<rect x="1388" y="54" width="9" height="9" fill="#fca55d"/>
<rect x="1396" y="54" width="9" height="9" fill="#fcaa5f"/>
<rect x="1404" y="54" width="9" height="9" fill="#fdad60"/>
<rect x="1412" y="54" width="9" height="9" fill="#fdad60"/>
<rect x="1420" y="54" width="9" height="9" fill="#fdad60"/>
<rect x="1428" y="54" width="9" height="9" fill="#fdad60"/>
<rect x="1436" y="54" width="9" height="9" fill="#fdad60"/>
<rect x="1036" y="62" width="9" height="9" fill="#0c7f43"/>
<rect x="1044" y="62" width="9" height="9" fill="#0c7f43"/>
<rect x="1052" y="62" width="9" height="9" fill="#0c7f43"/>
<rect x="1060" y="62" width="9" height="9" fill="#0c7f43"/>
<rect x="1068" y="62" width="9" height="9" fill="#0c7f43"/>
<rect x="1076" y="62" width="9" height="9" fill="#0c7f43"/>
<rect x="1084" y="62" width="9" height="9" fill="#0c7f43"/>
<rect x="1092" y="62" width="9" height="9" fill="#0c7f43"/>
<rect x="1100" y="62" width="9" height="9" fill="#0c7f43"/>
<rect x="1108" y="62" width="9" height="9" fill="#0c7f43"/>
<rect x="1116" y="62" width="9" height="9" fill="#0c7f43"/>
<rect x="1124" y="62" width="9" height="9" fill="#0c7f43"/>
<rect x="1132" y="62" width="9" height="9" fill="#0b7d42"/>
<rect x="1140" y="62" width="9" height="9" fill="#0a7b41"/>
<rect x="1148" y="62" width="9" height="9" fill="#097940"/>
<rect x="1156" y="62" width="9" height="9" fill="#097940"/>
<rect x="1164" y="62" width="9" height="9" fill="#097940"/>
<rect x="1172" y="62" width="9" height="9" fill="#097940"/>
<rect x="1180" y="62" width="9" height="9" fill="#0a7b41"/>
<rect x="1188" y="62" width="9" height="9" fill="#0e8245"/>
<rect x="1196" y="62" width="9" height="9" fill="#18954f"/>
<rect x="1204" y="62" width="9" height="9" fill="#3faa59"/>
<rect x="1212" y="62" width="9" height="9" fill="#6ec064"/>
<rect x="1220" y="62" width="9" height="9" fill="#98d368"/>
<rect x="1228" y="62" width="9" height="9" fill="#bde379"/>
<rect x="1236" y="62" width="9" height="9" fill="#dff293"/>
<rect x="1244" y="62" width="9" height="9" fill="#fafdb8"/>
<rect x="1252" y="62" width="9" height="9" fill="#fff0a6"/>
<rect x="1260" y="62" width="9" height="9" fill="#fee28f"/>
<rect x="1268" y="62" width="9" height="9" fill="#fed481"/>
<rect x="1276" y="62" width="9" height="9" fill="#feca79"/>
<rect x="1284" y="62" width="9" height="9" fill="#fdc372"/>
<rect x="1292" y="62" width="9" height="9" fill="#fdbb6c"/>
<rect x="1300" y="62" width="9" height="9" fill="#fdb365"/>
<rect x="1308" y="62" width="9" height="9" fill="#fcaa5f"/>
<rect x="1316" y="62" width="9" height="9" fill="#fba05b"/>
<rect x="1324" y="62" width="9" height="9" fill="#fa9857"/>
<rect x="1332" y="62" width="9" height="9" fill="#f99355"/>
<rect x="1340" y="62" width="9" height="9" fill="#f99153"/>
<rect x="1348" y="62" width="9" height="9" fill="#f88c51"/>
<rect x="1356" y="62" width="9" height="9" fill="#f8864f"/>
<rect x="1364" y="62" width="9" height="9" fill="#f7844e"/>
<rect x="1372" y="62" width="9" height="9" fill="#f8864f"/>
<rect x="1380" y="62" width="9" height="9" fill="#f99153"/>
<rect x="1388" y="62" width="9" height="9" fill="#fa9857"/>
<rect x="1396" y="62" width="9" height="9" fill="#fa9b58"/>
<rect x="1404" y="62" width="9" height="9" fill="#fb9d59"/>
<rect x="1412" y="62" width="9" height="9" fill="#fb9d59"/>
<rect x="1420" y="62" width="9" height="9" fill="#fb9d59"/>
<rect x="1428" y="62" width="9" height="9" fill="#fb9d59"/>
<rect x="1436" y="62" width="9" height="9" fill="#fb9d59"/>
<rect x="1036" y="70" width="9" height="9" fill="#0b7d42"/>
<rect x="1044" y="70" width="9" height="9" fill="#0b7d42"/>
<rect x="1052" y="70" width="9" height="9" fill="#0b7d42"/>
<rect x="1060" y="70" width="9" height="9" fill="#0b7d42"/>
<rect x="1068" y="70" width="9" height="9" fill="#0b7d42"/>
<rect x="1076" y="70" width="9" height="9" fill="#0b7d42"/>
<rect x="1084" y="70" width="9" height="9" fill="#0b7d42"/>
<rect x="1092" y="70" width="9" height="9" fill="#0a7b41"/>
<rect x="1100" y="70" width="9" height="9" fill="#0a7b41"/>
<rect x="1108" y="70" width="9" height="9" fill="#0a7b41"/>
<rect x="1116" y="70" width="9" height="9" fill="#0a7b41"/>
<rect x="1124" y="70" width="9" height="9" fill="#0a7b41"/>
<rect x="1132" y="70" width="9" height="9" fill="#097940"/>
<rect x="1140" y="70" width="9" height="9" fill="#07753e"/>
<rect x="1148" y="70" width="9" height="9" fill="#07753e"/>
<rect x="1156" y="70" width="9" height="9" fill="#07753e"/>
<rect x="1164" y="70" width="9" height="9" fill="#08773f"/>
<rect x="1172" y="70" width="9" height="9" fill="#097940"/>
<rect x="1180" y="70" width="9" height="9" fill="#0c7f43"/>
<rect x="1188" y="70" width="9" height="9" fill="#128a49"/>
<rect x="1196" y="70" width="9" height="9" fill="#249d53"/>
<rect x="1204" y="70" width="9" height="9" fill="#51b35e"/>
<rect x="1212" y="70" width="9" height="9" fill="#7fc866"/>
<rect x="1220" y="70" width="9" height="9" fill="#abdb6d"/>
<rect x="1228" y="70" width="9" height="9" fill="#d1ec86"/>
<rect x="1236" y="70" width="9" height="9" fill="#ecf7a6"/>
<rect x="1244" y="70" width="9" height="9" fill="#fffab6"/>
<rect x="1252" y="70" width="9" height="9" fill="#feea9b"/>
<rect x="1260" y="70" width="9" height="9" fill="#feda86"/>
<rect x="1268" y="70" width="9" height="9" fill="#fecc7b"/>
<rect x="1276" y="70" width="9" height="9" fill="#fdc171"/>
<rect x="1284" y="70" width="9" height="9" fill="#fdb768"/>
<rect x="1292" y="70" width="9" height="9" fill="#fdad60"/>
<rect x="1300" y="70" width="9" height="9" fill="#fb9d59"/>
<rect x="1308" y="70" width="9" height="9" fill="#f99153"/>
<rect x="1316" y="70" width="9" height="9" fill="#f7844e"/>
<rect x="1324" y="70" width="9" height="9" fill="#f67f4b"/>
<rect x="1332" y="70" width="9" height="9" fill="#f67f4b"/>
<rect x="1340" y="70" width="9" height="9" fill="#f7814c"/>
<rect x="1348" y="70" width="9" height="9" fill="#f7814c"/>
<rect x="1356" y="70" width="9" height="9" fill="#f67f4b"/>
<rect x="1364" y="70" width="9" height="9" fill="#f7814c"/>
<rect x="1372" y="70" width="9" height="9" fill="#f7844e"/>
<rect x="1380" y="70" width="9" height="9" fill="#f88950"/>
<rect x="1388" y="70" width="9" height="9" fill="#f98e52"/>
<rect x="1396" y="70" width="9" height="9" fill="#f99153"/>
<rect x="1404" y="70" width="9" height="9" fill="#f99355"/>
<rect x="1412" y="70" width="9" height="9" fill="#f99355"/>
<rect x="1420" y="70" width="9" height="9" fill="#f99355"/>
<rect x="1428" y="70" width="9" height="9" fill="#f99355"/>
<rect x="1436" y="70" width="9" height="9" fill="#f99355"/>
<rect x="1036" y="78" width="9" height="9" fill="#0a7b41"/>
<rect x="1044" y="78" width="9" height="9" fill="#0a7b41"/>
<rect x="1052" y="78" width="9" height="9" fill="#0a7b41"/>
<rect x="1060" y="78" width="9" height="9" fill="#0b7d42"/>
<rect x="1068" y="78" width="9" height="9" fill="#0b7d42"/>
<rect x="1076" y="78" width="9" height="9" fill="#0a7b41"/>
<rect x="1084" y="78" width="9" height="9" fill="#097940"/>
<rect x="1092" y="78" width="9" height="9" fill="#08773f"/>
<rect x="1100" y="78" width="9" height="9" fill="#08773f"/>
<rect x="1108" y="78" width="9" height="9" fill="#08773f"/>
<rect x="1116" y="78" width="9" height="9" fill="#08773f"/>
<rect x="1124" y="78" width="9" height="9" fill="#08773f"/>
<rect x="1132" y="78" width="9" height="9" fill="#07753e"/>
<rect x="1140" y="78" width="9" height="9" fill="#05713c"/>
<rect x="1148" y="78" width="9" height="9" fill="#05713c"/>
<rect x="1156" y="78" width="9" height="9" fill="#05713c"/>
<rect x="1164" y="78" width="9" height="9" fill="#07753e"/>
<rect x="1172" y="78" width="9" height="9" fill="#0b7d42"/>
<rect x="1180" y="78" width="9" height="9" fill="#108647"/>
<rect x="1188" y="78" width="9" height="9" fill="#199750"/>
<rect x="1196" y="78" width="9" height="9" fill="#3ca959"/>
<rect x="1204" y="78" width="9" height="9" fill="#69be63"/>
<rect x="1212" y="78" width="9" height="9" fill="#96d268"/>
<rect x="1220" y="78" width="9" height="9" fill="#bfe47a"/>
<rect x="1228" y="78" width="9" height="9" fill="#e3f399"/>
<rect x="1236" y="78" width="9" height="9" fill="#fbfdba"/>
<rect x="1244" y="78" width="9" height="9" fill="#fff1a8"/>
<rect x="1252" y="78" width="9" height="9" fill="#fee593"/>
<rect x="1260" y="78" width="9" height="9" fill="#fed481"/>
<rect x="1268" y="78" width="9" height="9" fill="#fdc776"/>
<rect x="1276" y="78" width="9" height="9" fill="#fdb96a"/>
<rect x="1284" y="78" width="9" height="9" fill="#fcaa5f"/>
<rect x="1292" y="78" width="9" height="9" fill="#fa9857"/>
<rect x="1300" y="78" width="9" height="9" fill="#f8864f"/>
<rect x="1308" y="78" width="9" height="9" fill="#f57748"/>
<rect x="1316" y="78" width="9" height="9" fill="#f36b42"/>
<rect x="1324" y="78" width="9" height="9" fill="#f16640"/>
<rect x="1332" y="78" width="9" height="9" fill="#f36b42"/>
<rect x="1340" y="78" width="9" height="9" fill="#f57245"/>
<rect x="1348" y="78" width="9" height="9" fill="#f67a49"/>
<rect x="1356" y="78" width="9" height="9" fill="#f67f4b"/>
<rect x="1364" y="78" width="9" height="9" fill="#f7814c"/>
<rect x="1372" y="78" width="9" height="9" fill="#f8864f"/>
<rect x="1380" y="78" width="9" height="9" fill="#f88950"/>
<rect x="1388" y="78" width="9" height="9" fill="#f88950"/>
<rect x="1396" y="78" width="9" height="9" fill="#f88c51"/>
<rect x="1404" y="78" width="9" height="9" fill="#f88c51"/>
<rect x="1412" y="78" width="9" height="9" fill="#f88c51"/>
<rect x="1420" y="78" width="9" height="9" fill="#f88c51"/>
<rect x="1428" y="78" width="9" height="9" fill="#f88c51"/>
<rect x="1436" y="78" width="9" height="9" fill="#f88c51"/>
<rect x="1036" y="86" width="9" height="9" fill="#0c7f43"/>
<rect x="1044" y="86" width="9" height="9" fill="#0c7f43"/>
<rect x="1052" y="86" width="9" height="9" fill="#0c7f43"/>
<rect x="1060" y="86" width="9" height="9" fill="#0d8044"/>
<rect x="1068" y="86" width="9" height="9" fill="#0d8044"/>
<rect x="1076" y="86" width="9" height="9" fill="#0c7f43"/>
<rect x="1084" y="86" width="9" height="9" fill="#0c7f43"/>
<rect x="1092" y="86" width="9" height="9" fill="#0b7d42"/>
<rect x="1100" y="86" width="9" height="9" fill="#0a7b41"/>
<rect x="1108" y="86" width="9" height="9" fill="#0a7b41"/>
<rect x="1116" y="86" width="9" height="9" fill="#0a7b41"/>
<rect x="1124" y="86" width="9" height="9" fill="#0a7b41"/>
<rect x="1132" y="86" width="9" height="9" fill="#097940"/>
<rect x="1140" y="86" width="9" height="9" fill="#07753e"/>
<rect x="1148" y="86" width="9" height="9" fill="#07753e"/>
<rect x="1156" y="86" width="9" height="9" fill="#08773f"/>
<rect x="1164" y="86" width="9" height="9" fill="#0b7d42"/>
<rect x="1172" y="86" width="9" height="9" fill="#108647"/>
<rect x="1180" y="86" width="9" height="9" fill="#18954f"/>
<rect x="1188" y="86" width="9" height="9" fill="#33a456"/>
<rect x="1196" y="86" width="9" height="9" fill="#5ab760"/>
<rect x="1204" y="86" width="9" height="9" fill="#82c966"/>
<rect x="1212" y="86" width="9" height="9" fill="#abdb6d"/>
<rect x="1220" y="86" width="9" height="9" fill="#d1ec86"/>
<rect x="1228" y="86" width="9" height="9" fill="#eff8aa"/>
<rect x="1236" y="86" width="9" height="9" fill="#fff8b4"/>
<rect x="1244" y="86" width="9" height="9" fill="#feea9b"/>
<rect x="1252" y="86" width="9" height="9" fill="#fedc88"/>
<rect x="1260" y="86" width="9" height="9" fill="#feca79"/>
<rect x="1268" y="86" width="9" height="9" fill="#fdbb6c"/>
<rect x="1276" y="86" width="9" height="9" fill="#fcaa5f"/>
<rect x="1284" y="86" width="9" height="9" fill="#fa9857"/>
<rect x="1292" y="86" width="9" height="9" fill="#f8864f"/>
<rect x="1300" y="86" width="9" height="9" fill="#f57748"/>
<rect x="1308" y="86" width="9" height="9" fill="#f26841"/>
<rect x="1316" y="86" width="9" height="9" fill="#ec5c3b"/>
<rect x="1324" y="86" width="9" height="9" fill="#eb5a3a"/>
<rect x="1332" y="86" width="9" height="9" fill="#ee613e"/>
<rect x="1340" y="86" width="9" height="9" fill="#f46d43"/>
<rect x="1348" y="86" width="9" height="9" fill="#f57748"/>
<rect x="1356" y="86" width="9" height="9" fill="#f7814c"/>
<rect x="1364" y="86" width="9" height="9" fill="#f8864f"/>
<rect x="1372" y="86" width="9" height="9" fill="#f88950"/>
<rect x="1380" y="86" width="9" height="9" fill="#f8864f"/>
<rect x="1388" y="86" width="9" height="9" fill="#f8864f"/>
<rect x="1396" y="86" width="9" height="9" fill="#f8864f"/>
<rect x="1404" y="86" width="9" height="9" fill="#f8864f"/>
<rect x="1412" y="86" width="9" height="9" fill="#f8864f"/>
<rect x="1420" y="86" width="9" height="9" fill="#f8864f"/>
<rect x="1428" y="86" width="9" height="9" fill="#f8864f"/>
<rect x="1436" y="86" width="9" height="9" fill="#f8864f"/>
<rect x="1036" y="94" width="9" height="9" fill="#118848"/>
<rect x="1044" y="94" width="9" height="9" fill="#118848"/>
<rect x="1052" y="94" width="9" height="9" fill="#118848"/>
<rect x="1060" y="94" width="9" height="9" fill="#128a49"/>
<rect x="1068" y="94" width="9" height="9" fill="#128a49"/>
<rect x="1076" y="94" width="9" height="9" fill="#128a49"/>
<rect x="1084" y="94" width="9" height="9" fill="#128a49"/>
<rect x="1092" y="94" width="9" height="9" fill="#118848"/>
<rect x="1100" y="94" width="9" height="9" fill="#118848"/>
<rect x="1108" y="94" width="9" height="9" fill="#108647"/>
<rect x="1116" y="94" width="9" height="9" fill="#108647"/>
<rect x="1124" y="94" width="9" height="9" fill="#0f8446"/>
<rect x="1132" y="94" width="9" height="9" fill="#0e8245"/>
<rect x="1140" y="94" width="9" height="9" fill="#0e8245"/>
<rect x="1148" y="94" width="9" height="9" fill="#0e8245"/>
<rect x="1156" y="94" width="9" height="9" fill="#0f8446"/>
<rect x="1164" y="94" width="9" height="9" fill="#138c4a"/>
<rect x="1172" y="94" width="9" height="9" fill="#199750"/>
<rect x="1180" y="94" width="9" height="9" fill="#36a657"/>
<rect x="1188" y="94" width="9" height="9" fill="#57b65f"/>
<rect x="1196" y="94" width="9" height="9" fill="#78c565"/>
<rect x="1204" y="94" width="9" height="9" fill="#9bd469"/>
<rect x="1212" y="94" width="9" height="9" fill="#bde379"/>
<rect x="1220" y="94" width="9" height="9" fill="#dff293"/>
<rect x="1228" y="94" width="9" height="9" fill="#fafdb8"/>
<rect x="1236" y="94" width="9" height="9" fill="#fff1a8"/>
<rect x="1244" y="94" width="9" height="9" fill="#fee28f"/>
<rect x="1252" y="94" width="9" height="9" fill="#fed07e"/>
<rect x="1260" y="94" width="9" height="9" fill="#fdbb6c"/>
<rect x="1268" y="94" width="9" height="9" fill="#fca55d"/>
<rect x="1276" y="94" width="9" height="9" fill="#f99153"/>
<rect x="1284" y="94" width="9" height="9" fill="#f7814c"/>
<rect x="1292" y="94" width="9" height="9" fill="#f57748"/>
<rect x="1300" y="94" width="9" height="9" fill="#f47044"/>
<rect x="1308" y="94" width="9" height="9" fill="#f16640"/>
<rect x="1316" y="94" width="9" height="9" fill="#ec5c3b"/>
<rect x="1324" y="94" width="9" height="9" fill="#ec5c3b"/>
<rect x="1332" y="94" width="9" height="9" fill="#f16640"/>
<rect x="1340" y="94" width="9" height="9" fill="#f57245"/>
<rect x="1348" y="94" width="9" height="9" fill="#f67c4a"/>
<rect x="1356" y="94" width="9" height="9" fill="#f7844e"/>
<rect x="1364" y="94" width="9" height="9" fill="#f88950"/>
<rect x="1372" y="94" width="9" height="9" fill="#f88950"/>
<rect x="1380" y="94" width="9" height="9" fill="#f8864f"/>
<rect x="1388" y="94" width="9" height="9" fill="#f7844e"/>
<rect x="1396" y="94" width="9" height="9" fill="#f7844e"/>
<rect x="1404" y="94" width="9" height="9" fill="#f7814c"/>
<rect x="1412" y="94" width="9" height="9" fill="#f7814c"/>
<rect x="1420" y="94" width="9" height="9" fill="#f7814c"/>
<rect x="1428" y="94" width="9" height="9" fill="#f7814c"/>
<rect x="1436" y="94" width="9" height="9" fill="#f7814c"/>
<rect x="1036" y="102" width="9" height="9" fill="#18954f"/>
<rect x="1044" y="102" width="9" height="9" fill="#18954f"/>
<rect x="1052" y="102" width="9" height="9" fill="#18954f"/>
<rect x="1060" y="102" width="9" height="9" fill="#199750"/>
<rect x="1068" y="102" width="9" height="9" fill="#1b9950"/>
<rect x="1076" y="102" width="9" height="9" fill="#1e9a51"/>
<rect x="1084" y="102" width="9" height="9" fill="#219c52"/>
<rect x="1092" y="102" width="9" height="9" fill="#219c52"/>
<rect x="1100" y="102" width="9" height="9" fill="#1e9a51"/>
<rect x="1108" y="102" width="9" height="9" fill="#1e9a51"/>
<rect x="1116" y="102" width="9" height="9" fill="#1b9950"/>
<rect x="1124" y="102" width="9" height="9" fill="#199750"/>
<rect x="1132" y="102" width="9" height="9" fill="#18954f"/>
<rect x="1140" y="102" width="9" height="9" fill="#17934e"/>
<rect x="1148" y="102" width="9" height="9" fill="#18954f"/>
<rect x="1156" y="102" width="9" height="9" fill="#1b9950"/>
<rect x="1164" y="102" width="9" height="9" fill="#2aa054"/>
<rect x="1172" y="102" width="9" height="9" fill="#3faa59"/>
<rect x="1180" y="102" width="9" height="9" fill="#5db961"/>
<rect x="1188" y="102" width="9" height="9" fill="#7ac665"/>
<rect x="1196" y="102" width="9" height="9" fill="#98d368"/>
<rect x="1204" y="102" width="9" height="9" fill="#b3df72"/>
<rect x="1212" y="102" width="9" height="9" fill="#cfeb85"/>
<rect x="1220" y="102" width="9" height="9" fill="#e8f59f"/>
<rect x="1228" y="102" width="9" height="9" fill="#fffebe"/>
<rect x="1236" y="102" width="9" height="9" fill="#feeda1"/>
<rect x="1244" y="102" width="9" height="9" fill="#feda86"/>
<rect x="1252" y="102" width="9" height="9" fill="#fdc171"/>
<rect x="1260" y="102" width="9" height="9" fill="#fca55d"/>
<rect x="1268" y="102" width="9" height="9" fill="#f88950"/>
<rect x="1276" y="102" width="9" height="9" fill="#f57245"/>
<rect x="1284" y="102" width="9" height="9" fill="#f36b42"/>
<rect x="1292" y="102" width="9" height="9" fill="#f46d43"/>
<rect x="1300" y="102" width="9" height="9" fill="#f46d43"/>
<rect x="1308" y="102" width="9" height="9" fill="#f46d43"/>
<rect x="1316" y="102" width="9" height="9" fill="#f36b42"/>
<rect x="1324" y="102" width="9" height="9" fill="#f46d43"/>
<rect x="1332" y="102" width="9" height="9" fill="#f57547"/>
<rect x="1340" y="102" width="9" height="9" fill="#f67c4a"/>
<rect x="1348" y="102" width="9" height="9" fill="#f7844e"/>
<rect x="1356" y="102" width="9" height="9" fill="#f88950"/>
<rect x="1364" y="102" width="9" height="9" fill="#f88c51"/>
<rect x="1372" y="102" width="9" height="9" fill="#f88c51"/>
<rect x="1380" y="102" width="9" height="9" fill="#f88950"/>
<rect x="1388" y="102" width="9" height="9" fill="#f7844e"/>
<rect x="1396" y="102" width="9" height="9" fill="#f7814c"/>
<rect x="1404" y="102" width="9" height="9" fill="#f67f4b"/>
<rect x="1412" y="102" width="9" height="9" fill="#f67c4a"/>
<rect x="1420" y="102" width="9" height="9" fill="#f67c4a"/>
<rect x="1428" y="102" width="9" height="9" fill="#f67c4a"/>
<rect x="1436" y="102" width="9" height="9" fill="#f67c4a"/>
<rect x="1036" y="110" width="9" height="9" fill="#249d53"/>
<rect x="1044" y="110" width="9" height="9" fill="#249d53"/>
<rect x="1052" y="110" width="9" height="9" fill="#249d53"/>
<rect x="1060" y="110" width="9" height="9" fill="#279f53"/>
<rect x="1068" y="110" width="9" height="9" fill="#2da155"/>
<rect x="1076" y="110" width="9" height="9" fill="#33a456"/>
<rect x="1084" y="110" width="9" height="9" fill="#36a657"/>
<rect x="1092" y="110" width="9" height="9" fill="#39a758"/>
<rect x="1100" y="110" width="9" height="9" fill="#39a758"/>
<rect x="1108" y="110" width="9" height="9" fill="#39a758"/>
<rect x="1116" y="110" width="9" height="9" fill="#33a456"/>
<rect x="1124" y="110" width="9" height="9" fill="#30a356"/>
<rect x="1132" y="110" width="9" height="9" fill="#30a356"/>
<rect x="1140" y="110" width="9" height="9" fill="#30a356"/>
<rect x="1148" y="110" width="9" height="9" fill="#33a456"/>
<rect x="1156" y="110" width="9" height="9" fill="#3ca959"/>
<rect x="1164" y="110" width="9" height="9" fill="#48ae5c"/>
<rect x="1172" y="110" width="9" height="9" fill="#5db961"/>
<rect x="1180" y="110" width="9" height="9" fill="#78c565"/>
<rect x="1188" y="110" width="9" height="9" fill="#91d068"/>
<rect x="1196" y="110" width="9" height="9" fill="#addc6f"/>
<rect x="1204" y="110" width="9" height="9" fill="#c7e77f"/>
<rect x="1212" y="110" width="9" height="9" fill="#e0f295"/>
<rect x="1220" y="110" width="9" height="9" fill="#f4fab0"/>
<rect x="1228" y="110" width="9" height="9" fill="#fff8b4"/>
<rect x="1236" y="110" width="9" height="9" fill="#fee797"/>
<rect x="1244" y="110" width="9" height="9" fill="#fed07e"/>
<rect x="1252" y="110" width="9" height="9" fill="#fdb567"/>
<rect x="1260" y="110" width="9" height="9" fill="#fa9656"/>
<rect x="1268" y="110" width="9" height="9" fill="#f57547"/>
<rect x="1276" y="110" width="9" height="9" fill="#ef633f"/>
<rect x="1284" y="110" width="9" height="9" fill="#ed5f3c"/>
<rect x="1292" y="110" width="9" height="9" fill="#f26841"/>
<rect x="1300" y="110" width="9" height="9" fill="#f57245"/>
<rect x="1308" y="110" width="9" height="9" fill="#f57748"/>
<rect x="1316" y="110" width="9" height="9" fill="#f67a49"/>
<rect x="1324" y="110" width="9" height="9" fill="#f67f4b"/>
<rect x="1332" y="110" width="9" height="9" fill="#f7844e"/>
<rect x="1340" y="110" width="9" height="9" fill="#f88950"/>
<rect x="1348" y="110" width="9" height="9" fill="#f98e52"/>
<rect x="1356" y="110" width="9" height="9" fill="#f99153"/>
<rect x="1364" y="110" width="9" height="9" fill="#f99153"/>
<rect x="1372" y="110" width="9" height="9" fill="#f99153"/>
<rect x="1380" y="110" width="9" height="9" fill="#f88c51"/>
<rect x="1388" y="110" width="9" height="9" fill="#f8864f"/>
<rect x="1396" y="110" width="9" height="9" fill="#f7814c"/>
<rect x="1404" y="110" width="9" height="9" fill="#f67c4a"/>
<rect x="1412" y="110" width="9" height="9" fill="#f67a49"/>
<rect x="1420" y="110" width="9" height="9" fill="#f67a49"/>
<rect x="1428" y="110" width="9" height="9" fill="#f67a49"/>
<rect x="1436" y="110" width="9" height="9" fill="#f67a49"/>
<rect x="1036" y="118" width="9" height="9" fill="#2aa054"/>
<rect x="1044" y="118" width="9" height="9" fill="#2aa054"/>
<rect x="1052" y="118" width="9" height="9" fill="#2aa054"/>
<rect x="1060" y="118" width="9" height="9" fill="#30a356"/>
<rect x="1068" y="118" width="9" height="9" fill="#36a657"/>
<rect x="1076" y="118" width="9" height="9" fill="#3ca959"/>
<rect x="1084" y="118" width="9" height="9" fill="#42ac5a"/>
<rect x="1092" y="118" width="9" height="9" fill="#48ae5c"/>
<rect x="1100" y="118" width="9" height="9" fill="#4bb05c"/>
<rect x="1108" y="118" width="9" height="9" fill="#48ae5c"/>
<rect x="1116" y="118" width="9" height="9" fill="#45ad5b"/>
<rect x="1124" y="118" width="9" height="9" fill="#45ad5b"/>
<rect x="1132" y="118" width="9" height="9" fill="#45ad5b"/>
<rect x="1140" y="118" width="9" height="9" fill="#45ad5b"/>
<rect x="1148" y="118" width="9" height="9" fill="#4bb05c"/>
<rect x="1156" y="118" width="9" height="9" fill="#54b45f"/>
<rect x="1164" y="118" width="9" height="9" fill="#63bc62"/>
<rect x="1172" y="118" width="9" height="9" fill="#73c264"/>
<rect x="1180" y="118" width="9" height="9" fill="#87cb67"/>
<rect x="1188" y="118" width="9" height="9" fill="#a0d669"/>
<rect x="1196" y="118" width="9" height="9" fill="#bbe278"/>
<rect x="1204" y="118" width="9" height="9" fill="#d9ef8b"/>
<rect x="1212" y="118" width="9" height="9" fill="#eef8a8"/>
<rect x="1220" y="118" width="9" height="9" fill="#fffdbc"/>
<rect x="1228" y="118" width="9" height="9" fill="#feefa3"/>
<rect x="1236" y="118" width="9" height="9" fill="#fee08b"/>
<rect x="1244" y="118" width="9" height="9" fill="#fdc776"/>
<rect x="1252" y="118" width="9" height="9" fill="#fdad60"/>
<rect x="1260" y="118" width="9" height="9" fill="#f98e52"/>
<rect x="1268" y="118" width="9" height="9" fill="#f57245"/>
<rect x="1276" y="118" width="9" height="9" fill="#ef633f"/>
<rect x="1284" y="118" width="9" height="9" fill="#ef633f"/>
<rect x="1292" y="118" width="9" height="9" fill="#f47044"/>
<rect x="1300" y="118" width="9" height="9" fill="#f67a49"/>
<rect x="1308" y="118" width="9" height="9" fill="#f7814c"/>
<rect x="1316" y="118" width="9" height="9" fill="#f8864f"/>
<rect x="1324" y="118" width="9" height="9" fill="#f88950"/>
<rect x="1332" y="118" width="9" height="9" fill="#f98e52"/>
<rect x="1340" y="118" width="9" height="9" fill="#f99355"/>
<rect x="1348" y="118" width="9" height="9" fill="#fa9656"/>
<rect x="1356" y="118" width="9" height="9" fill="#fa9857"/>
<rect x="1364" y="118" width="9" height="9" fill="#fa9b58"/>
<rect x="1372" y="118" width="9" height="9" fill="#fa9656"/>
<rect x="1380" y="118" width="9" height="9" fill="#f98e52"/>
<rect x="1388" y="118" width="9" height="9" fill="#f88950"/>
<rect x="1396" y="118" width="9" height="9" fill="#f7814c"/>
<rect x="1404" y="118" width="9" height="9" fill="#f67c4a"/>
<rect x="1412" y="118" width="9" height="9" fill="#f57748"/>
<rect x="1420" y="118" width="9" height="9" fill="#f57748"/>
<rect x="1428" y="118" width="9" height="9" fill="#f57748"/>
<rect x="1436" y="118" width="9" height="9" fill="#f57748"/>
<rect x="1036" y="126" width="9" height="9" fill="#279f53"/>
<rect x="1044" y="126" width="9" height="9" fill="#279f53"/>
<rect x="1052" y="126" width="9" height="9" fill="#279f53"/>
<rect x="1060" y="126" width="9" height="9" fill="#2aa054"/>
<rect x="1068" y="126" width="9" height="9" fill="#33a456"/>
<rect x="1076" y="126" width="9" height="9" fill="#3ca959"/>
<rect x="1084" y="126" width="9" height="9" fill="#42ac5a"/>
<rect x="1092" y="126" width="9" height="9" fill="#4bb05c"/>
<rect x="1100" y="126" width="9" height="9" fill="#4eb15d"/>
<rect x="1108" y="126" width="9" height="9" fill="#51b35e"/>
<rect x="1116" y="126" width="9" height="9" fill="#51b35e"/>
<rect x="1124" y="126" width="9" height="9" fill="#51b35e"/>
<rect x="1132" y="126" width="9" height="9" fill="#54b45f"/>
<rect x="1140" y="126" width="9" height="9" fill="#57b65f"/>
<rect x="1148" y="126" width="9" height="9" fill="#5db961"/>
<rect x="1156" y="126" width="9" height="9" fill="#66bd63"/>
<rect x="1164" y="126" width="9" height="9" fill="#70c164"/>
<rect x="1172" y="126" width="9" height="9" fill="#7dc765"/>
<rect x="1180" y="126" width="9" height="9" fill="#8ccd67"/>
<rect x="1188" y="126" width="9" height="9" fill="#a2d76a"/>
<rect x="1196" y="126" width="9" height="9" fill="#c1e57b"/>
<rect x="1204" y="126" width="9" height="9" fill="#e5f49b"/>
<rect x="1212" y="126" width="9" height="9" fill="#fdfebc"/>
<rect x="1220" y="126" width="9" height="9" fill="#fff0a6"/>
<rect x="1228" y="126" width="9" height="9" fill="#fee491"/>
<rect x="1236" y="126" width="9" height="9" fill="#fed27f"/>
<rect x="1244" y="126" width="9" height="9" fill="#fdbd6d"/>
<rect x="1252" y="126" width="9" height="9" fill="#fcaa5f"/>
<rect x="1260" y="126" width="9" height="9" fill="#f99355"/>
<rect x="1268" y="126" width="9" height="9" fill="#f7814c"/>
<rect x="1276" y="126" width="9" height="9" fill="#f57748"/>
<rect x="1284" y="126" width="9" height="9" fill="#f57748"/>
<rect x="1292" y="126" width="9" height="9" fill="#f7814c"/>
<rect x="1300" y="126" width="9" height="9" fill="#f88950"/>
<rect x="1308" y="126" width="9" height="9" fill="#f98e52"/>
<rect x="1316" y="126" width="9" height="9" fill="#f99153"/>
<rect x="1324" y="126" width="9" height="9" fill="#f99355"/>
<rect x="1332" y="126" width="9" height="9" fill="#fa9656"/>
<rect x="1340" y="126" width="9" height="9" fill="#fa9b58"/>
<rect x="1348" y="126" width="9" height="9" fill="#fb9d59"/>
<rect x="1356" y="126" width="9" height="9" fill="#fba35c"/>
<rect x="1364" y="126" width="9" height="9" fill="#fba35c"/>
<rect x="1372" y="126" width="9" height="9" fill="#fba05b"/>
<rect x="1380" y="126" width="9" height="9" fill="#fa9656"/>
<rect x="1388" y="126" width="9" height="9" fill="#f88c51"/>
<rect x="1396" y="126" width="9" height="9" fill="#f7814c"/>
<rect x="1404" y="126" width="9" height="9" fill="#f67a49"/>
<rect x="1412" y="126" width="9" height="9" fill="#f57547"/>
<rect x="1420" y="126" width="9" height="9" fill="#f57547"/>
<rect x="1428" y="126" width="9" height="9" fill="#f57547"/>
<rect x="1436" y="126" width="9" height="9" fill="#f57547"/>
<rect x="1036" y="134" width="9" height="9" fill="#249d53"/>
<rect x="1044" y="134" width="9" height="9" fill="#249d53"/>
<rect x="1052" y="134" width="9" height="9" fill="#249d53"/>
<rect x="1060" y="134" width="9" height="9" fill="#2aa054"/>
<rect x="1068" y="134" width="9" height="9" fill="#33a456"/>
<rect x="1076" y="134" width="9" height="9" fill="#39a758"/>
<rect x="1084" y="134" width="9" height="9" fill="#42ac5a"/>
<rect x="1092" y="134" width="9" height="9" fill="#4bb05c"/>
<rect x="1100" y="134" width="9" height="9" fill="#54b45f"/>
<rect x="1108" y="134" width="9" height="9" fill="#57b65f"/>
<rect x="1116" y="134" width="9" height="9" fill="#5ab760"/>
<rect x="1124" y="134" width="9" height="9" fill="#5db961"/>
<rect x="1132" y="134" width="9" height="9" fill="#63bc62"/>
<rect x="1140" y="134" width="9" height="9" fill="#66bd63"/>
<rect x="1148" y="134" width="9" height="9" fill="#6ec064"/>
<rect x="1156" y="134" width="9" height="9" fill="#75c465"/>
<rect x="1164" y="134" width="9" height="9" fill="#7fc866"/>
<rect x="1172" y="134" width="9" height="9" fill="#89cc67"/>
<rect x="1180" y="134" width="9" height="9" fill="#93d168"/>
<rect x="1188" y="134" width="9" height="9" fill="#a9da6c"/>
<rect x="1196" y="134" width="9" height="9" fill="#c9e881"/>
<rect x="1204" y="134" width="9" height="9" fill="#ecf7a6"/>
<rect x="1212" y="134" width="9" height="9" fill="#fff8b4"/>
<rect x="1220" y="134" width="9" height="9" fill="#fee797"/>
<rect x="1228" y="134" width="9" height="9" fill="#fed884"/>
<rect x="1236" y="134" width="9" height="9" fill="#fdc776"/>
<rect x="1244" y="134" width="9" height="9" fill="#fdb96a"/>
<rect x="1252" y="134" width="9" height="9" fill="#fdad60"/>
<rect x="1260" y="134" width="9" height="9" fill="#fba05b"/>
<rect x="1268" y="134" width="9" height="9" fill="#fa9656"/>
<rect x="1276" y="134" width="9" height="9" fill="#f98e52"/>
<rect x="1284" y="134" width="9" height="9" fill="#f98e52"/>
<rect x="1292" y="134" width="9" height="9" fill="#fa9656"/>
<rect x="1300" y="134" width="9" height="9" fill="#fa9857"/>
<rect x="1308" y="134" width="9" height="9" fill="#fa9b58"/>
<rect x="1316" y="134" width="9" height="9" fill="#fa9b58"/>
<rect x="1324" y="134" width="9" height="9" fill="#fa9b58"/>
<rect x="1332" y="134" width="9" height="9" fill="#fb9d59"/>
<rect x="1340" y="134" width="9" height="9" fill="#fba35c"/>
<rect x="1348" y="134" width="9" height="9" fill="#fca55d"/>
<rect x="1356" y="134" width="9" height="9" fill="#fcaa5f"/>
<rect x="1364" y="134" width="9" height="9" fill="#fdad60"/>
<rect x="1372" y="134" width="9" height="9" fill="#fca55d"/>
<rect x="1380" y="134" width="9" height="9" fill="#fa9b58"/>
<rect x="1388" y="134" width="9" height="9" fill="#f99153"/>
<rect x="1396" y="134" width="9" height="9" fill="#f8864f"/>
<rect x="1404" y="134" width="9" height="9" fill="#f67c4a"/>
<rect x="1412" y="134" width="9" height="9" fill="#f57748"/>
<rect x="1420" y="134" width="9" height="9" fill="#f57748"/>
<rect x="1428" y="134" width="9" height="9" fill="#f57748"/>
<rect x="1436" y="134" width="9" height="9" fill="#f57748"/>
<rect x="1036" y="142" width="9" height="9" fill="#2da155"/>
<rect x="1044" y="142" width="9" height="9" fill="#2da155"/>
<rect x="1052" y="142" width="9" height="9" fill="#2da155"/>
<rect x="1060" y="142" width="9" height="9" fill="#30a356"/>
<rect x="1068" y="142" width="9" height="9" fill="#39a758"/>
<rect x="1076" y="142" width="9" height="9" fill="#3faa59"/>
<rect x="1084" y="142" width="9" height="9" fill="#48ae5c"/>
<rect x="1092" y="142" width="9" height="9" fill="#51b35e"/>
<rect x="1100" y="142" width="9" height="9" fill="#5ab760"/>
<rect x="1108" y="142" width="9" height="9" fill="#60ba62"/>
<rect x="1116" y="142" width="9" height="9" fill="#69be63"/>
<rect x="1124" y="142" width="9" height="9" fill="#6ec064"/>
<rect x="1132" y="142" width="9" height="9" fill="#73c264"/>
<rect x="1140" y="142" width="9" height="9" fill="#78c565"/>
<rect x="1148" y="142" width="9" height="9" fill="#7fc866"/>
<rect x="1156" y="142" width="9" height="9" fill="#89cc67"/>
<rect x="1164" y="142" width="9" height="9" fill="#93d168"/>
<rect x="1172" y="142" width="9" height="9" fill="#9dd569"/>
<rect x="1180" y="142" width="9" height="9" fill="#a5d86a"/>
<rect x="1188" y="142" width="9" height="9" fill="#b5df74"/>
<rect x="1196" y="142" width="9" height="9" fill="#d3ec87"/>
<rect x="1204" y="142" width="9" height="9" fill="#f2faae"/>
<rect x="1212" y="142" width="9" height="9" fill="#fff6b0"/>
<rect x="1220" y="142" width="9" height="9" fill="#fee593"/>
<rect x="1228" y="142" width="9" height="9" fill="#fed683"/>
<rect x="1236" y="142" width="9" height="9" fill="#fdc776"/>
<rect x="1244" y="142" width="9" height="9" fill="#fdbd6d"/>
<rect x="1252" y="142" width="9" height="9" fill="#fdb567"/>
<rect x="1260" y="142" width="9" height="9" fill="#fdaf62"/>
<rect x="1268" y="142" width="9" height="9" fill="#fcaa5f"/>
<rect x="1276" y="142" width="9" height="9" fill="#fca55d"/>
<rect x="1284" y="142" width="9" height="9" fill="#fca55d"/>
<rect x="1292" y="142" width="9" height="9" fill="#fca85e"/>
<rect x="1300" y="142" width="9" height="9" fill="#fca85e"/>
<rect x="1308" y="142" width="9" height="9" fill="#fca85e"/>
<rect x="1316" y="142" width="9" height="9" fill="#fca85e"/>
<rect x="1324" y="142" width="9" height="9" fill="#fca85e"/>
<rect x="1332" y="142" width="9" height="9" fill="#fca85e"/>
<rect x="1340" y="142" width="9" height="9" fill="#fcaa5f"/>
<rect x="1348" y="142" width="9" height="9" fill="#fdad60"/>
<rect x="1356" y="142" width="9" height="9" fill="#fdaf62"/>
<rect x="1364" y="142" width="9" height="9" fill="#fdaf62"/>
<rect x="1372" y="142" width="9" height="9" fill="#fcaa5f"/>
<rect x="1380" y="142" width="9" height="9" fill="#fba05b"/>
<rect x="1388" y="142" width="9" height="9" fill="#fa9656"/>
<rect x="1396" y="142" width="9" height="9" fill="#f98e52"/>
<rect x="1404" y="142" width="9" height="9" fill="#f7844e"/>
<rect x="1412" y="142" width="9" height="9" fill="#f67f4b"/>
<rect x="1420" y="142" width="9" height="9" fill="#f67f4b"/>
<rect x="1428" y="142" width="9" height="9" fill="#f67f4b"/>
<rect x="1436" y="142" width="9" height="9" fill="#f67f4b"/>
<rect x="1036" y="150" width="9" height="9" fill="#3faa59"/>
<rect x="1044" y="150" width="9" height="9" fill="#3faa59"/>
<rect x="1052" y="150" width="9" height="9" fill="#3faa59"/>
<rect x="1060" y="150" width="9" height="9" fill="#42ac5a"/>
<rect x="1068" y="150" width="9" height="9" fill="#45ad5b"/>
<rect x="1076" y="150" width="9" height="9" fill="#4eb15d"/>
<rect x="1084" y="150" width="9" height="9" fill="#54b45f"/>
<rect x="1092" y="150" width="9" height="9" fill="#5ab760"/>
<rect x="1100" y="150" width="9" height="9" fill="#63bc62"/>
<rect x="1108" y="150" width="9" height="9" fill="#6ec064"/>
<rect x="1116" y="150" width="9" height="9" fill="#75c465"/>
<rect x="1124" y="150" width="9" height="9" fill="#7fc866"/>
<rect x="1132" y="150" width="9" height="9" fill="#84ca66"/>
<rect x="1140" y="150" width="9" height="9" fill="#8ccd67"/>
<rect x="1148" y="150" width="9" height="9" fill="#93d168"/>
<rect x="1156" y="150" width="9" height="9" fill="#9dd569"/>
<rect x="1164" y="150" width="9" height="9" fill="#a9da6c"/>
<rect x="1172" y="150" width="9" height="9" fill="#b3df72"/>
<rect x="1180" y="150" width="9" height="9" fill="#bde379"/>
<rect x="1188" y="150" width="9" height="9" fill="#cbe982"/>
<rect x="1196" y="150" width="9" height="9" fill="#dff293"/>
<rect x="1204" y="150" width="9" height="9" fill="#f4fab0"/>
<rect x="1212" y="150" width="9" height="9" fill="#fff8b4"/>
<rect x="1220" y="150" width="9" height="9" fill="#feeb9d"/>
<rect x="1228" y="150" width="9" height="9" fill="#fede89"/>
<rect x="1236" y="150" width="9" height="9" fill="#fed07e"/>
<rect x="1244" y="150" width="9" height="9" fill="#fec877"/>
<rect x="1252" y="150" width="9" height="9" fill="#fdc574"/>
<rect x="1260" y="150" width="9" height="9" fill="#fdbf6f"/>
<rect x="1268" y="150" width="9" height="9" fill="#fdbb6c"/>
<rect x="1276" y="150" width="9" height="9" fill="#fdb768"/>
<rect x="1284" y="150" width="9" height="9" fill="#fdb567"/>
<rect x="1292" y="150" width="9" height="9" fill="#fdb567"/>
<rect x="1300" y="150" width="9" height="9" fill="#fdb567"/>
<rect x="1308" y="150" width="9" height="9" fill="#fdb567"/>
<rect x="1316" y="150" width="9" height="9" fill="#fdb365"/>
<rect x="1324" y="150" width="9" height="9" fill="#fdb365"/>
<rect x="1332" y="150" width="9" height="9" fill="#fdb365"/>
<rect x="1340" y="150" width="9" height="9" fill="#fdb365"/>
<rect x="1348" y="150" width="9" height="9" fill="#fdb163"/>
<rect x="1356" y="150" width="9" height="9" fill="#fdb163"/>
<rect x="1364" y="150" width="9" height="9" fill="#fdaf62"/>
<rect x="1372" y="150" width="9" height="9" fill="#fcaa5f"/>
<rect x="1380" y="150" width="9" height="9" fill="#fca55d"/>
<rect x="1388" y="150" width="9" height="9" fill="#fba05b"/>
<rect x="1396" y="150" width="9" height="9" fill="#fa9857"/>
<rect x="1404" y="150" width="9" height="9" fill="#f99153"/>
<rect x="1412" y="150" width="9" height="9" fill="#f88c51"/>
<rect x="1420" y="150" width="9" height="9" fill="#f88c51"/>
<rect x="1428" y="150" width="9" height="9" fill="#f88c51"/>
<rect x="1436" y="150" width="9" height="9" fill="#f88c51"/>
<rect x="1036" y="158" width="9" height="9" fill="#4bb05c"/>
<rect x="1044" y="158" width="9" height="9" fill="#4bb05c"/>
<rect x="1052" y="158" width="9" height="9" fill="#4bb05c"/>
<rect x="1060" y="158" width="9" height="9" fill="#4bb05c"/>
<rect x="1068" y="158" width="9" height="9" fill="#51b35e"/>
<rect x="1076" y="158" width="9" height="9" fill="#54b45f"/>
<rect x="1084" y="158" width="9" height="9" fill="#5ab760"/>
<rect x="1092" y="158" width="9" height="9" fill="#60ba62"/>
<rect x="1100" y="158" width="9" height="9" fill="#69be63"/>
<rect x="1108" y="158" width="9" height="9" fill="#73c264"/>
<rect x="1116" y="158" width="9" height="9" fill="#7fc866"/>
<rect x="1124" y="158" width="9" height="9" fill="#8ccd67"/>
<rect x="1132" y="158" width="9" height="9" fill="#93d168"/>
<rect x="1140" y="158" width="9" height="9" fill="#9dd569"/>
<rect x="1148" y="158" width="9" height="9" fill="#a7d96b"/>
<rect x="1156" y="158" width="9" height="9" fill="#afdd70"/>
<rect x="1164" y="158" width="9" height="9" fill="#b9e176"/>
<rect x="1172" y="158" width="9" height="9" fill="#c7e77f"/>
<rect x="1180" y="158" width="9" height="9" fill="#d5ed88"/>
<rect x="1188" y="158" width="9" height="9" fill="#e0f295"/>
<rect x="1196" y="158" width="9" height="9" fill="#ebf7a3"/>
<rect x="1204" y="158" width="9" height="9" fill="#f5fbb2"/>
<rect x="1212" y="158" width="9" height="9" fill="#fffebe"/>
<rect x="1220" y="158" width="9" height="9" fill="#fff2aa"/>
<rect x="1228" y="158" width="9" height="9" fill="#fee797"/>
<rect x="1236" y="158" width="9" height="9" fill="#fee08b"/>
<rect x="1244" y="158" width="9" height="9" fill="#feda86"/>
<rect x="1252" y="158" width="9" height="9" fill="#fed683"/>
<rect x="1260" y="158" width="9" height="9" fill="#fed27f"/>
<rect x="1268" y="158" width="9" height="9" fill="#fece7c"/>
<rect x="1276" y="158" width="9" height="9" fill="#fec877"/>
<rect x="1284" y="158" width="9" height="9" fill="#fdc776"/>
<rect x="1292" y="158" width="9" height="9" fill="#fdc574"/>
<rect x="1300" y="158" width="9" height="9" fill="#fdc372"/>
<rect x="1308" y="158" width="9" height="9" fill="#fdc372"/>
<rect x="1316" y="158" width="9" height="9" fill="#fdc372"/>
<rect x="1324" y="158" width="9" height="9" fill="#fdc372"/>
<rect x="1332" y="158" width="9" height="9" fill="#fdc372"/>
<rect x="1340" y="158" width="9" height="9" fill="#fdbf6f"/>
<rect x="1348" y="158" width="9" height="9" fill="#fdbd6d"/>
<rect x="1356" y="158" width="9" height="9" fill="#fdb96a"/>
<rect x="1364" y="158" width="9" height="9" fill="#fdb567"/>
<rect x="1372" y="158" width="9" height="9" fill="#fdb365"/>
<rect x="1380" y="158" width="9" height="9" fill="#fdb365"/>
<rect x="1388" y="158" width="9" height="9" fill="#fdb163"/>
<rect x="1396" y="158" width="9" height="9" fill="#fdaf62"/>
<rect x="1404" y="158" width="9" height="9" fill="#fcaa5f"/>
<rect x="1412" y="158" width="9" height="9" fill="#fca85e"/>
<rect x="1420" y="158" width="9" height="9" fill="#fca85e"/>
<rect x="1428" y="158" width="9" height="9" fill="#fca85e"/>
<rect x="1436" y="158" width="9" height="9" fill="#fca85e"/>
<rect x="1036" y="166" width="9" height="9" fill="#36a657"/>
<rect x="1044" y="166" width="9" height="9" fill="#36a657"/>
<rect x="1052" y="166" width="9" height="9" fill="#36a657"/>
<rect x="1060" y="166" width="9" height="9" fill="#39a758"/>
<rect x="1068" y="166" width="9" height="9" fill="#3faa59"/>
<rect x="1076" y="166" width="9" height="9" fill="#48ae5c"/>
<rect x="1084" y="166" width="9" height="9" fill="#4eb15d"/>
<rect x="1092" y="166" width="9" height="9" fill="#57b65f"/>
<rect x="1100" y="166" width="9" height="9" fill="#60ba62"/>
<rect x="1108" y="166" width="9" height="9" fill="#6ec064"/>
<rect x="1116" y="166" width="9" height="9" fill="#78c565"/>
<rect x="1124" y="166" width="9" height="9" fill="#84ca66"/>
<rect x="1132" y="166" width="9" height="9" fill="#91d068"/>
<rect x="1140" y="166" width="9" height="9" fill="#9dd569"/>
<rect x="1148" y="166" width="9" height="9" fill="#a9da6c"/>
<rect x="1156" y="166" width="9" height="9" fill="#b5df74"/>
<rect x="1164" y="166" width="9" height="9" fill="#c1e57b"/>
<rect x="1172" y="166" width="9" height="9" fill="#cfeb85"/>
<rect x="1180" y="166" width="9" height="9" fill="#ddf191"/>
<rect x="1188" y="166" width="9" height="9" fill="#e8f59f"/>
<rect x="1196" y="166" width="9" height="9" fill="#f2faae"/>
<rect x="1204" y="166" width="9" height="9" fill="#fafdb8"/>
<rect x="1212" y="166" width="9" height="9" fill="#fffdbc"/>
<rect x="1220" y="166" width="9" height="9" fill="#fff6b0"/>
<rect x="1228" y="166" width="9" height="9" fill="#feefa3"/>
<rect x="1236" y="166" width="9" height="9" fill="#feea9b"/>
<rect x="1244" y="166" width="9" height="9" fill="#fee797"/>
<rect x="1252" y="166" width="9" height="9" fill="#fee797"/>
<rect x="1260" y="166" width="9" height="9" fill="#fee593"/>
<rect x="1268" y="166" width="9" height="9" fill="#fee491"/>
<rect x="1276" y="166" width="9" height="9" fill="#fee18d"/>
<rect x="1284" y="166" width="9" height="9" fill="#fee08b"/>
<rect x="1292" y="166" width="9" height="9" fill="#fede89"/>
<rect x="1300" y="166" width="9" height="9" fill="#fede89"/>
<rect x="1308" y="166" width="9" height="9" fill="#fede89"/>
<rect x="1316" y="166" width="9" height="9" fill="#fede89"/>
<rect x="1324" y="166" width="9" height="9" fill="#fede89"/>
<rect x="1332" y="166" width="9" height="9" fill="#fedc88"/>
<rect x="1340" y="166" width="9" height="9" fill="#feda86"/>
<rect x="1348" y="166" width="9" height="9" fill="#fed683"/>
<rect x="1356" y="166" width="9" height="9" fill="#fed27f"/>
<rect x="1364" y="166" width="9" height="9" fill="#fed07e"/>
<rect x="1372" y="166" width="9" height="9" fill="#fece7c"/>
<rect x="1380" y="166" width="9" height="9" fill="#fed07e"/>
<rect x="1388" y="166" width="9" height="9" fill="#fed07e"/>
<rect x="1396" y="166" width="9" height="9" fill="#fed07e"/>
<rect x="1404" y="166" width="9" height="9" fill="#fece7c"/>
<rect x="1412" y="166" width="9" height="9" fill="#fecc7b"/>
<rect x="1420" y="166" width="9" height="9" fill="#fecc7b"/>
<rect x="1428" y="166" width="9" height="9" fill="#fecc7b"/>
<rect x="1436" y="166" width="9" height="9" fill="#fecc7b"/>
<rect x="1036" y="174" width="9" height="9" fill="#148e4b"/>
<rect x="1044" y="174" width="9" height="9" fill="#148e4b"/>
<rect x="1052" y="174" width="9" height="9" fill="#148e4b"/>
<rect x="1060" y="174" width="9" height="9" fill="#16914d"/>
<rect x="1068" y="174" width="9" height="9" fill="#1b9950"/>
<rect x="1076" y="174" width="9" height="9" fill="#249d53"/>
<rect x="1084" y="174" width="9" height="9" fill="#30a356"/>
<rect x="1092" y="174" width="9" height="9" fill="#3ca959"/>
<rect x="1100" y="174" width="9" height="9" fill="#48ae5c"/>
<rect x="1108" y="174" width="9" height="9" fill="#51b35e"/>
<rect x="1116" y="174" width="9" height="9" fill="#5db961"/>
<rect x="1124" y="174" width="9" height="9" fill="#6bbf64"/>
<rect x="1132" y="174" width="9" height="9" fill="#7ac665"/>
<rect x="1140" y="174" width="9" height="9" fill="#8ecf67"/>
<rect x="1148" y="174" width="9" height="9" fill="#9dd569"/>
<rect x="1156" y="174" width="9" height="9" fill="#addc6f"/>
<rect x="1164" y="174" width="9" height="9" fill="#bbe278"/>
<rect x="1172" y="174" width="9" height="9" fill="#c9e881"/>
<rect x="1180" y="174" width="9" height="9" fill="#d9ef8b"/>
<rect x="1188" y="174" width="9" height="9" fill="#e3f399"/>
<rect x="1196" y="174" width="9" height="9" fill="#eff8aa"/>
<rect x="1204" y="174" width="9" height="9" fill="#fbfdba"/>
<rect x="1212" y="174" width="9" height="9" fill="#fffcba"/>
<rect x="1220" y="174" width="9" height="9" fill="#fff8b4"/>
<rect x="1228" y="174" width="9" height="9" fill="#fff6b0"/>
<rect x="1236" y="174" width="9" height="9" fill="#fff6b0"/>
<rect x="1244" y="174" width="9" height="9" fill="#fff6b0"/>
<rect x="1252" y="174" width="9" height="9" fill="#fff6b0"/>
<rect x="1260" y="174" width="9" height="9" fill="#fff6b0"/>
<rect x="1268" y="174" width="9" height="9" fill="#fff6b0"/>
<rect x="1276" y="174" width="9" height="9" fill="#fff6b0"/>
<rect x="1284" y="174" width="9" height="9" fill="#fff6b0"/>
<rect x="1292" y="174" width="9" height="9" fill="#fff5ae"/>
<rect x="1300" y="174" width="9" height="9" fill="#fff5ae"/>
<rect x="1308" y="174" width="9" height="9" fill="#fff5ae"/>
<rect x="1316" y="174" width="9" height="9" fill="#fff5ae"/>
<rect x="1324" y="174" width="9" height="9" fill="#fff5ae"/>
<rect x="1332" y="174" width="9" height="9" fill="#fff5ae"/>
<rect x="1340" y="174" width="9" height="9" fill="#fff5ae"/>
<rect x="1348" y="174" width="9" height="9" fill="#fff5ae"/>
<rect x="1356" y="174" width="9" height="9" fill="#fff3ac"/>
<rect x="1364" y="174" width="9" height="9" fill="#fff3ac"/>
<rect x="1372" y="174" width="9" height="9" fill="#fff3ac"/>
<rect x="1380" y="174" width="9" height="9" fill="#fff3ac"/>
<rect x="1388" y="174" width="9" height="9" fill="#fff3ac"/>
<rect x="1396" y="174" width="9" height="9" fill="#fff3ac"/>
<rect x="1404" y="174" width="9" height="9" fill="#fff3ac"/>
<rect x="1412" y="174" width="9" height="9" fill="#fff3ac"/>
<rect x="1420" y="174" width="9" height="9" fill="#fff3ac"/>
<rect x="1428" y="174" width="9" height="9" fill="#fff3ac"/>
<rect x="1436" y="174" width="9" height="9" fill="#fff3ac"/>
<rect x="1036" y="182" width="9" height="9" fill="#08773f"/>
<rect x="1044" y="182" width="9" height="9" fill="#08773f"/>
<rect x="1052" y="182" width="9" height="9" fill="#08773f"/>
<rect x="1060" y="182" width="9" height="9" fill="#097940"/>
<rect x="1068" y="182" width="9" height="9" fill="#0c7f43"/>
<rect x="1076" y="182" width="9" height="9" fill="#0f8446"/>
<rect x="1084" y="182" width="9" height="9" fill="#118848"/>
<rect x="1092" y="182" width="9" height="9" fill="#148e4b"/>
<rect x="1100" y="182" width="9" height="9" fill="#17934e"/>
<rect x="1108" y="182" width="9" height="9" fill="#199750"/>
<rect x="1116" y="182" width="9" height="9" fill="#219c52"/>
<rect x="1124" y="182" width="9" height="9" fill="#2aa054"/>
<rect x="1132" y="182" width="9" height="9" fill="#39a758"/>
<rect x="1140" y="182" width="9" height="9" fill="#4bb05c"/>
<rect x="1148" y="182" width="9" height="9" fill="#5ab760"/>
<rect x="1156" y="182" width="9" height="9" fill="#69be63"/>
<rect x="1164" y="182" width="9" height="9" fill="#75c465"/>
<rect x="1172" y="182" width="9" height="9" fill="#84ca66"/>
<rect x="1180" y="182" width="9" height="9" fill="#93d168"/>
<rect x="1188" y="182" width="9" height="9" fill="#a5d86a"/>
<rect x="1196" y="182" width="9" height="9" fill="#b5df74"/>
<rect x="1204" y="182" width="9" height="9" fill="#c5e67e"/>
<rect x="1212" y="182" width="9" height="9" fill="#d3ec87"/>
<rect x="1220" y="182" width="9" height="9" fill="#daf08d"/>
<rect x="1228" y="182" width="9" height="9" fill="#dff293"/>
<rect x="1236" y="182" width="9" height="9" fill="#e2f397"/>
<rect x="1244" y="182" width="9" height="9" fill="#e3f399"/>
<rect x="1252" y="182" width="9" height="9" fill="#e6f59d"/>
<rect x="1260" y="182" width="9" height="9" fill="#e6f59d"/>
<rect x="1268" y="182" width="9" height="9" fill="#e8f59f"/>
<rect x="1276" y="182" width="9" height="9" fill="#e9f6a1"/>
<rect x="1284" y="182" width="9" height="9" fill="#e9f6a1"/>
<rect x="1292" y="182" width="9" height="9" fill="#e8f59f"/>
<rect x="1300" y="182" width="9" height="9" fill="#e8f59f"/>
<rect x="1308" y="182" width="9" height="9" fill="#e8f59f"/>
<rect x="1316" y="182" width="9" height="9" fill="#e8f59f"/>
<rect x="1324" y="182" width="9" height="9" fill="#e8f59f"/>
<rect x="1332" y="182" width="9" height="9" fill="#e8f59f"/>
<rect x="1340" y="182" width="9" height="9" fill="#e8f59f"/>
<rect x="1348" y="182" width="9" height="9" fill="#e8f59f"/>
<rect x="1356" y="182" width="9" height="9" fill="#e8f59f"/>
<rect x="1364" y="182" width="9" height="9" fill="#e8f59f"/>
<rect x="1372" y="182" width="9" height="9" fill="#e8f59f"/>
<rect x="1380" y="182" width="9" height="9" fill="#e8f59f"/>
<rect x="1388" y="182" width="9" height="9" fill="#e8f59f"/>
<rect x="1396" y="182" width="9" height="9" fill="#e8f59f"/>
<rect x="1404" y="182" width="9" height="9" fill="#e6f59d"/>
<rect x="1412" y="182" width="9" height="9" fill="#e6f59d"/>
<rect x="1420" y="182" width="9" height="9" fill="#e6f59d"/>
<rect x="1428" y="182" width="9" height="9" fill="#e6f59d"/>
<rect x="1436" y="182" width="9" height="9" fill="#e6f59d"/>
<rect x="1036" y="190" width="9" height="9" fill="#026c39"/>
<rect x="1044" y="190" width="9" height="9" fill="#026c39"/>
<rect x="1052" y="190" width="9" height="9" fill="#026c39"/>
<rect x="1060" y="190" width="9" height="9" fill="#036e3a"/>
<rect x="1068" y="190" width="9" height="9" fill="#036e3a"/>
<rect x="1076" y="190" width="9" height="9" fill="#04703b"/>
<rect x="1084" y="190" width="9" height="9" fill="#05713c"/>
<rect x="1092" y="190" width="9" height="9" fill="#06733d"/>
<rect x="1100" y="190" width="9" height="9" fill="#07753e"/>
<rect x="1108" y="190" width="9" height="9" fill="#097940"/>
<rect x="1116" y="190" width="9" height="9" fill="#0b7d42"/>
<rect x="1124" y="190" width="9" height="9" fill="#0d8044"/>
<rect x="1132" y="190" width="9" height="9" fill="#0f8446"/>
<rect x="1140" y="190" width="9" height="9" fill="#128a49"/>
<rect x="1148" y="190" width="9" height="9" fill="#15904c"/>
<rect x="1156" y="190" width="9" height="9" fill="#199750"/>
<rect x="1164" y="190" width="9" height="9" fill="#249d53"/>
<rect x="1172" y="190" width="9" height="9" fill="#33a456"/>
<rect x="1180" y="190" width="9" height="9" fill="#42ac5a"/>
<rect x="1188" y="190" width="9" height="9" fill="#54b45f"/>
<rect x="1196" y="190" width="9" height="9" fill="#66bd63"/>
<rect x="1204" y="190" width="9" height="9" fill="#78c565"/>
<rect x="1212" y="190" width="9" height="9" fill="#89cc67"/>
<rect x="1220" y="190" width="9" height="9" fill="#98d368"/>
<rect x="1228" y="190" width="9" height="9" fill="#a9da6c"/>
<rect x="1236" y="190" width="9" height="9" fill="#b3df72"/>
<rect x="1244" y="190" width="9" height="9" fill="#bbe278"/>
<rect x="1252" y="190" width="9" height="9" fill="#c3e67d"/>
<rect x="1260" y="190" width="9" height="9" fill="#c7e77f"/>
<rect x="1268" y="190" width="9" height="9" fill="#cbe982"/>
<rect x="1276" y="190" width="9" height="9" fill="#cfeb85"/>
<rect x="1284" y="190" width="9" height="9" fill="#cfeb85"/>
<rect x="1292" y="190" width="9" height="9" fill="#cfeb85"/>
<rect x="1300" y="190" width="9" height="9" fill="#cfeb85"/>
<rect x="1308" y="190" width="9" height="9" fill="#cfeb85"/>
<rect x="1316" y="190" width="9" height="9" fill="#cfeb85"/>
<rect x="1324" y="190" width="9" height="9" fill="#cfeb85"/>
<rect x="1332" y="190" width="9" height="9" fill="#cfeb85"/>
<rect x="1340" y="190" width="9" height="9" fill="#cfeb85"/>
<rect x="1348" y="190" width="9" height="9" fill="#cfeb85"/>
<rect x="1356" y="190" width="9" height="9" fill="#cfeb85"/>
<rect x="1364" y="190" width="9" height="9" fill="#cfeb85"/>
<rect x="1372" y="190" width="9" height="9" fill="#cfeb85"/>
<rect x="1380" y="190" width="9" height="9" fill="#cfeb85"/>
<rect x="1388" y="190" width="9" height="9" fill="#cfeb85"/>
<rect x="1396" y="190" width="9" height="9" fill="#cfeb85"/>
<rect x="1404" y="190" width="9" height="9" fill="#cfeb85"/>
<rect x="1412" y="190" width="9" height="9" fill="#cfeb85"/>
<rect x="1420" y="190" width="9" height="9" fill="#cfeb85"/>
<rect x="1428" y="190" width="9" height="9" fill="#cfeb85"/>
<rect x="1436" y="190" width="9" height="9" fill="#cfeb85"/>
<rect x="1036" y="198" width="9" height="9" fill="#07753e"/>
<rect x="1044" y="198" width="9" height="9" fill="#07753e"/>
<rect x="1052" y="198" width="9" height="9" fill="#07753e"/>
<rect x="1060" y="198" width="9" height="9" fill="#08773f"/>
<rect x="1068" y="198" width="9" height="9" fill="#0b7d42"/>
<rect x="1076" y="198" width="9" height="9" fill="#0c7f43"/>
<rect x="1084" y="198" width="9" height="9" fill="#0e8245"/>
<rect x="1092" y="198" width="9" height="9" fill="#0e8245"/>
<rect x="1100" y="198" width="9" height="9" fill="#108647"/>
<rect x="1108" y="198" width="9" height="9" fill="#138c4a"/>
<rect x="1116" y="198" width="9" height="9" fill="#16914d"/>
<rect x="1124" y="198" width="9" height="9" fill="#1e9a51"/>
<rect x="1132" y="198" width="9" height="9" fill="#2aa054"/>
<rect x="1140" y="198" width="9" height="9" fill="#39a758"/>
<rect x="1148" y="198" width="9" height="9" fill="#4bb05c"/>
<rect x="1156" y="198" width="9" height="9" fill="#66bd63"/>
<rect x="1164" y="198" width="9" height="9" fill="#7dc765"/>
<rect x="1172" y="198" width="9" height="9" fill="#91d068"/>
<rect x="1180" y="198" width="9" height="9" fill="#a5d86a"/>
<rect x="1188" y="198" width="9" height="9" fill="#b5df74"/>
<rect x="1196" y="198" width="9" height="9" fill="#c1e57b"/>
<rect x="1204" y="198" width="9" height="9" fill="#c9e881"/>
<rect x="1212" y="198" width="9" height="9" fill="#d1ec86"/>
<rect x="1220" y="198" width="9" height="9" fill="#d9ef8b"/>
<rect x="1228" y="198" width="9" height="9" fill="#dcf08f"/>
<rect x="1236" y="198" width="9" height="9" fill="#dff293"/>
<rect x="1244" y="198" width="9" height="9" fill="#e2f397"/>
<rect x="1252" y="198" width="9" height="9" fill="#e5f49b"/>
<rect x="1260" y="198" width="9" height="9" fill="#e6f59d"/>
<rect x="1268" y="198" width="9" height="9" fill="#e6f59d"/>
<rect x="1276" y="198" width="9" height="9" fill="#e8f59f"/>
<rect x="1284" y="198" width="9" height="9" fill="#e8f59f"/>
<rect x="1292" y="198" width="9" height="9" fill="#e9f6a1"/>
<rect x="1300" y="198" width="9" height="9" fill="#e9f6a1"/>
<rect x="1308" y="198" width="9" height="9" fill="#e8f59f"/>
<rect x="1316" y="198" width="9" height="9" fill="#e6f59d"/>
<rect x="1324" y="198" width="9" height="9" fill="#e6f59d"/>
<rect x="1332" y="198" width="9" height="9" fill="#e8f59f"/>
<rect x="1340" y="198" width="9" height="9" fill="#e8f59f"/>
<rect x="1348" y="198" width="9" height="9" fill="#e8f59f"/>
<rect x="1356" y="198" width="9" height="9" fill="#e6f59d"/>
<rect x="1364" y="198" width="9" height="9" fill="#e6f59d"/>
<rect x="1372" y="198" width="9" height="9" fill="#e6f59d"/>
<rect x="1380" y="198" width="9" height="9" fill="#e6f59d"/>
<rect x="1388" y="198" width="9" height="9" fill="#e6f59d"/>
<rect x="1396" y="198" width="9" height="9" fill="#e8f59f"/>
<rect x="1404" y="198" width="9" height="9" fill="#e8f59f"/>
<rect x="1412" y="198" width="9" height="9" fill="#e8f59f"/>
<rect x="1420" y="198" width="9" height="9" fill="#e8f59f"/>
<rect x="1428" y="198" width="9" height="9" fill="#e8f59f"/>
<rect x="1436" y="198" width="9" height="9" fill="#e8f59f"/>
<rect x="1036" y="206" width="9" height="9" fill="#108647"/>
<rect x="1044" y="206" width="9" height="9" fill="#108647"/>
<rect x="1052" y="206" width="9" height="9" fill="#108647"/>
<rect x="1060" y="206" width="9" height="9" fill="#118848"/>
<rect x="1068" y="206" width="9" height="9" fill="#148e4b"/>
<rect x="1076" y="206" width="9" height="9" fill="#17934e"/>
<rect x="1084" y="206" width="9" height="9" fill="#199750"/>
<rect x="1092" y="206" width="9" height="9" fill="#1e9a51"/>
<rect x="1100" y="206" width="9" height="9" fill="#279f53"/>
<rect x="1108" y="206" width="9" height="9" fill="#33a456"/>
<rect x="1116" y="206" width="9" height="9" fill="#42ac5a"/>
<rect x="1124" y="206" width="9" height="9" fill="#54b45f"/>
<rect x="1132" y="206" width="9" height="9" fill="#66bd63"/>
<rect x="1140" y="206" width="9" height="9" fill="#78c565"/>
<rect x="1148" y="206" width="9" height="9" fill="#91d068"/>
<rect x="1156" y="206" width="9" height="9" fill="#b3df72"/>
<rect x="1164" y="206" width="9" height="9" fill="#d1ec86"/>
<rect x="1172" y="206" width="9" height="9" fill="#e5f49b"/>
<rect x="1180" y="206" width="9" height="9" fill="#f4fab0"/>
<rect x="1188" y="206" width="9" height="9" fill="#fffebe"/>
<rect x="1196" y="206" width="9" height="9" fill="#fff7b2"/>
<rect x="1204" y="206" width="9" height="9" fill="#fff1a8"/>
<rect x="1212" y="206" width="9" height="9" fill="#feec9f"/>
<rect x="1220" y="206" width="9" height="9" fill="#fee999"/>
<rect x="1228" y="206" width="9" height="9" fill="#fee593"/>
<rect x="1236" y="206" width="9" height="9" fill="#fee28f"/>
<rect x="1244" y="206" width="9" height="9" fill="#fee491"/>
<rect x="1252" y="206" width="9" height="9" fill="#fee593"/>
<rect x="1260" y="206" width="9" height="9" fill="#fee695"/>
<rect x="1268" y="206" width="9" height="9" fill="#fee695"/>
<rect x="1276" y="206" width="9" height="9" fill="#fee695"/>
<rect x="1284" y="206" width="9" height="9" fill="#fee695"/>
<rect x="1292" y="206" width="9" height="9" fill="#fee695"/>
<rect x="1300" y="206" width="9" height="9" fill="#fee797"/>
<rect x="1308" y="206" width="9" height="9" fill="#fee999"/>
<rect x="1316" y="206" width="9" height="9" fill="#feea9b"/>
<rect x="1324" y="206" width="9" height="9" fill="#feeb9d"/>
<rect x="1332" y="206" width="9" height="9" fill="#feec9f"/>
<rect x="1340" y="206" width="9" height="9" fill="#feec9f"/>
<rect x="1348" y="206" width="9" height="9" fill="#feeda1"/>
<rect x="1356" y="206" width="9" height="9" fill="#feefa3"/>
<rect x="1364" y="206" width="9" height="9" fill="#fff0a6"/>
<rect x="1372" y="206" width="9" height="9" fill="#fff1a8"/>
<rect x="1380" y="206" width="9" height="9" fill="#fff1a8"/>
<rect x="1388" y="206" width="9" height="9" fill="#fff2aa"/>
<rect x="1396" y="206" width="9" height="9" fill="#fff2aa"/>
<rect x="1404" y="206" width="9" height="9" fill="#fff2aa"/>
<rect x="1412" y="206" width="9" height="9" fill="#fff3ac"/>
<rect x="1420" y="206" width="9" height="9" fill="#fff3ac"/>
<rect x="1428" y="206" width="9" height="9" fill="#fff3ac"/>
<rect x="1436" y="206" width="9" height="9" fill="#fff3ac"/>
<rect x="1036" y="214" width="9" height="9" fill="#18954f"/>
<rect x="1044" y="214" width="9" height="9" fill="#18954f"/>
<rect x="1052" y="214" width="9" height="9" fill="#18954f"/>
<rect x="1060" y="214" width="9" height="9" fill="#18954f"/>
<rect x="1068" y="214" width="9" height="9" fill="#1b9950"/>
<rect x="1076" y="214" width="9" height="9" fill="#249d53"/>
<rect x="1084" y="214" width="9" height="9" fill="#2aa054"/>
<rect x="1092" y="214" width="9" height="9" fill="#36a657"/>
<rect x="1100" y="214" width="9" height="9" fill="#42ac5a"/>
<rect x="1108" y="214" width="9" height="9" fill="#51b35e"/>
<rect x="1116" y="214" width="9" height="9" fill="#60ba62"/>
<rect x="1124" y="214" width="9" height="9" fill="#70c164"/>
<rect x="1132" y="214" width="9" height="9" fill="#7dc765"/>
<rect x="1140" y="214" width="9" height="9" fill="#91d068"/>
<rect x="1148" y="214" width="9" height="9" fill="#afdd70"/>
<rect x="1156" y="214" width="9" height="9" fill="#d5ed88"/>
<rect x="1164" y="214" width="9" height="9" fill="#f2faae"/>
<rect x="1172" y="214" width="9" height="9" fill="#fffab6"/>
<rect x="1180" y="214" width="9" height="9" fill="#feefa3"/>
<rect x="1188" y="214" width="9" height="9" fill="#fee593"/>
<rect x="1196" y="214" width="9" height="9" fill="#fedc88"/>
<rect x="1204" y="214" width="9" height="9" fill="#fece7c"/>
<rect x="1212" y="214" width="9" height="9" fill="#fdbf6f"/>
<rect x="1220" y="214" width="9" height="9" fill="#fca85e"/>
<rect x="1228" y="214" width="9" height="9" fill="#f88c51"/>
<rect x="1236" y="214" width="9" height="9" fill="#f67f4b"/>
<rect x="1244" y="214" width="9" height="9" fill="#f67f4b"/>
<rect x="1252" y="214" width="9" height="9" fill="#f8864f"/>
<rect x="1260" y="214" width="9" height="9" fill="#f88950"/>
<rect x="1268" y="214" width="9" height="9" fill="#f88950"/>
<rect x="1276" y="214" width="9" height="9" fill="#f8864f"/>
<rect x="1284" y="214" width="9" height="9" fill="#f88950"/>
<rect x="1292" y="214" width="9" height="9" fill="#f98e52"/>
<rect x="1300" y="214" width="9" height="9" fill="#f99355"/>
<rect x="1308" y="214" width="9" height="9" fill="#fa9857"/>
<rect x="1316" y="214" width="9" height="9" fill="#fa9b58"/>
<rect x="1324" y="214" width="9" height="9" fill="#fba05b"/>
<rect x="1332" y="214" width="9" height="9" fill="#fca85e"/>
<rect x="1340" y="214" width="9" height="9" fill="#fdad60"/>
<rect x="1348" y="214" width="9" height="9" fill="#fdb365"/>
<rect x="1356" y="214" width="9" height="9" fill="#fdb567"/>
<rect x="1364" y="214" width="9" height="9" fill="#fdb96a"/>
<rect x="1372" y="214" width="9" height="9" fill="#fdbd6d"/>
<rect x="1380" y="214" width="9" height="9" fill="#fdc372"/>
<rect x="1388" y="214" width="9" height="9" fill="#fdc776"/>
<rect x="1396" y="214" width="9" height="9" fill="#feca79"/>
<rect x="1404" y="214" width="9" height="9" fill="#fecc7b"/>
<rect x="1412" y="214" width="9" height="9" fill="#fece7c"/>
<rect x="1420" y="214" width="9" height="9" fill="#fece7c"/>
<rect x="1428" y="214" width="9" height="9" fill="#fece7c"/>
<rect x="1436" y="214" width="9" height="9" fill="#fece7c"/>
<rect x="1036" y="222" width="9" height="9" fill="#1e9a51"/>
<rect x="1044" y="222" width="9" height="9" fill="#1e9a51"/>
<rect x="1052" y="222" width="9" height="9" fill="#1e9a51"/>
<rect x="1060" y="222" width="9" height="9" fill="#219c52"/>
<rect x="1068" y="222" width="9" height="9" fill="#249d53"/>
<rect x="1076" y="222" width="9" height="9" fill="#2da155"/>
<rect x="1084" y="222" width="9" height="9" fill="#36a657"/>
<rect x="1092" y="222" width="9" height="9" fill="#42ac5a"/>
<rect x="1100" y="222" width="9" height="9" fill="#51b35e"/>
<rect x="1108" y="222" width="9" height="9" fill="#63bc62"/>
<rect x="1116" y="222" width="9" height="9" fill="#73c264"/>
<rect x="1124" y="222" width="9" height="9" fill="#82c966"/>
<rect x="1132" y="222" width="9" height="9" fill="#91d068"/>
<rect x="1140" y="222" width="9" height="9" fill="#a2d76a"/>
<rect x="1148" y="222" width="9" height="9" fill="#c1e57b"/>
<rect x="1156" y="222" width="9" height="9" fill="#e6f59d"/>
<rect x="1164" y="222" width="9" height="9" fill="#fffab6"/>
<rect x="1172" y="222" width="9" height="9" fill="#fee999"/>
<rect x="1180" y="222" width="9" height="9" fill="#fedc88"/>
<rect x="1188" y="222" width="9" height="9" fill="#fece7c"/>
<rect x="1196" y="222" width="9" height="9" fill="#fdbf6f"/>
<rect x="1204" y="222" width="9" height="9" fill="#fdb163"/>
<rect x="1212" y="222" width="9" height="9" fill="#fa9656"/>
<rect x="1220" y="222" width="9" height="9" fill="#f47044"/>
<rect x="1228" y="222" width="9" height="9" fill="#e44c34"/>
<rect x="1236" y="222" width="9" height="9" fill="#dc3b2c"/>
<rect x="1244" y="222" width="9" height="9" fill="#dd3d2d"/>
<rect x="1252" y="222" width="9" height="9" fill="#e24731"/>
<rect x="1260" y="222" width="9" height="9" fill="#e44c34"/>
<rect x="1268" y="222" width="9" height="9" fill="#e34933"/>
<rect x="1276" y="222" width="9" height="9" fill="#e44c34"/>
<rect x="1284" y="222" width="9" height="9" fill="#e54e35"/>
<rect x="1292" y="222" width="9" height="9" fill="#e95538"/>
<rect x="1300" y="222" width="9" height="9" fill="#ec5c3b"/>
<rect x="1308" y="222" width="9" height="9" fill="#ee613e"/>
<rect x="1316" y="222" width="9" height="9" fill="#f16640"/>
<rect x="1324" y="222" width="9" height="9" fill="#f36b42"/>
<rect x="1332" y="222" width="9" height="9" fill="#f57547"/>
<rect x="1340" y="222" width="9" height="9" fill="#f67c4a"/>
<rect x="1348" y="222" width="9" height="9" fill="#f7844e"/>
<rect x="1356" y="222" width="9" height="9" fill="#f88950"/>
<rect x="1364" y="222" width="9" height="9" fill="#f98e52"/>
<rect x="1372" y="222" width="9" height="9" fill="#fa9656"/>
<rect x="1380" y="222" width="9" height="9" fill="#fba05b"/>
<rect x="1388" y="222" width="9" height="9" fill="#fcaa5f"/>
<rect x="1396" y="222" width="9" height="9" fill="#fdb163"/>
<rect x="1404" y="222" width="9" height="9" fill="#fdb768"/>
<rect x="1412" y="222" width="9" height="9" fill="#fdb96a"/>
<rect x="1420" y="222" width="9" height="9" fill="#fdb96a"/>
<rect x="1428" y="222" width="9" height="9" fill="#fdb96a"/>
<rect x="1436" y="222" width="9" height="9" fill="#fdb96a"/>
<rect x="1036" y="230" width="9" height="9" fill="#1b9950"/>
<rect x="1044" y="230" width="9" height="9" fill="#1b9950"/>
<rect x="1052" y="230" width="9" height="9" fill="#1b9950"/>
<rect x="1060" y="230" width="9" height="9" fill="#1e9a51"/>
<rect x="1068" y="230" width="9" height="9" fill="#279f53"/>
<rect x="1076" y="230" width="9" height="9" fill="#30a356"/>
<rect x="1084" y="230" width="9" height="9" fill="#3ca959"/>
<rect x="1092" y="230" width="9" height="9" fill="#48ae5c"/>
<rect x="1100" y="230" width="9" height="9" fill="#57b65f"/>
<rect x="1108" y="230" width="9" height="9" fill="#6bbf64"/>
<rect x="1116" y="230" width="9" height="9" fill="#7dc765"/>
<rect x="1124" y="230" width="9" height="9" fill="#8ecf67"/>
<rect x="1132" y="230" width="9" height="9" fill="#9dd569"/>
<rect x="1140" y="230" width="9" height="9" fill="#b1de71"/>
<rect x="1148" y="230" width="9" height="9" fill="#cdea83"/>
<rect x="1156" y="230" width="9" height="9" fill="#eff8aa"/>
<rect x="1164" y="230" width="9" height="9" fill="#fff2aa"/>
<rect x="1172" y="230" width="9" height="9" fill="#fee08b"/>
<rect x="1180" y="230" width="9" height="9" fill="#fecc7b"/>
<rect x="1188" y="230" width="9" height="9" fill="#fdbd6d"/>
<rect x="1196" y="230" width="9" height="9" fill="#fdad60"/>
<rect x="1204" y="230" width="9" height="9" fill="#fa9656"/>
<rect x="1212" y="230" width="9" height="9" fill="#f67a49"/>
<rect x="1220" y="230" width="9" height="9" fill="#ea5739"/>
<rect x="1228" y="230" width="9" height="9" fill="#db382b"/>
<rect x="1236" y="230" width="9" height="9" fill="#d22b27"/>
<rect x="1244" y="230" width="9" height="9" fill="#d62f27"/>
<rect x="1252" y="230" width="9" height="9" fill="#dc3b2c"/>
<rect x="1260" y="230" width="9" height="9" fill="#e0422f"/>
<rect x="1268" y="230" width="9" height="9" fill="#e24731"/>
<rect x="1276" y="230" width="9" height="9" fill="#e34933"/>
<rect x="1284" y="230" width="9" height="9" fill="#e65036"/>
<rect x="1292" y="230" width="9" height="9" fill="#ea5739"/>
<rect x="1300" y="230" width="9" height="9" fill="#ec5c3b"/>
<rect x="1308" y="230" width="9" height="9" fill="#ee613e"/>
<rect x="1316" y="230" width="9" height="9" fill="#f16640"/>
<rect x="1324" y="230" width="9" height="9" fill="#f36b42"/>
<rect x="1332" y="230" width="9" height="9" fill="#f57547"/>
<rect x="1340" y="230" width="9" height="9" fill="#f67c4a"/>
<rect x="1348" y="230" width="9" height="9" fill="#f7844e"/>
<rect x="1356" y="230" width="9" height="9" fill="#f88950"/>
<rect x="1364" y="230" width="9" height="9" fill="#f99153"/>
<rect x="1372" y="230" width="9" height="9" fill="#fa9857"/>
<rect x="1380" y="230" width="9" height="9" fill="#fca55d"/>
<rect x="1388" y="230" width="9" height="9" fill="#fdaf62"/>
<rect x="1396" y="230" width="9" height="9" fill="#fdb567"/>
<rect x="1404" y="230" width="9" height="9" fill="#fdbd6d"/>
<rect x="1412" y="230" width="9" height="9" fill="#fdc171"/>
<rect x="1420" y="230" width="9" height="9" fill="#fdc171"/>
<rect x="1428" y="230" width="9" height="9" fill="#fdc171"/>
<rect x="1436" y="230" width="9" height="9" fill="#fdc171"/>
<rect x="1036" y="238" width="9" height="9" fill="#199750"/>
<rect x="1044" y="238" width="9" height="9" fill="#199750"/>
<rect x="1052" y="238" width="9" height="9" fill="#199750"/>
<rect x="1060" y="238" width="9" height="9" fill="#1e9a51"/>
<rect x="1068" y="238" width="9" height="9" fill="#2aa054"/>
<rect x="1076" y="238" width="9" height="9" fill="#36a657"/>
<rect x="1084" y="238" width="9" height="9" fill="#42ac5a"/>
<rect x="1092" y="238" width="9" height="9" fill="#4eb15d"/>
<rect x="1100" y="238" width="9" height="9" fill="#60ba62"/>
<rect x="1108" y="238" width="9" height="9" fill="#70c164"/>
<rect x="1116" y="238" width="9" height="9" fill="#84ca66"/>
<rect x="1124" y="238" width="9" height="9" fill="#98d368"/>
<rect x="1132" y="238" width="9" height="9" fill="#a9da6c"/>
<rect x="1140" y="238" width="9" height="9" fill="#bbe278"/>
<rect x="1148" y="238" width="9" height="9" fill="#d9ef8b"/>
<rect x="1156" y="238" width="9" height="9" fill="#f7fcb4"/>
<rect x="1164" y="238" width="9" height="9" fill="#feefa3"/>
<rect x="1172" y="238" width="9" height="9" fill="#fed884"/>
<rect x="1180" y="238" width="9" height="9" fill="#fdc574"/>
<rect x="1188" y="238" width="9" height="9" fill="#fdb365"/>
<rect x="1196" y="238" width="9" height="9" fill="#fb9d59"/>
<rect x="1204" y="238" width="9" height="9" fill="#f8864f"/>
<rect x="1212" y="238" width="9" height="9" fill="#f46d43"/>
<rect x="1220" y="238" width="9" height="9" fill="#e65036"/>
<rect x="1228" y="238" width="9" height="9" fill="#da362a"/>
<rect x="1236" y="238" width="9" height="9" fill="#d42d27"/>
<rect x="1244" y="238" width="9" height="9" fill="#d93429"/>
<rect x="1252" y="238" width="9" height="9" fill="#de402e"/>
<rect x="1260" y="238" width="9" height="9" fill="#e44c34"/>
<rect x="1268" y="238" width="9" height="9" fill="#e75337"/>
<rect x="1276" y="238" width="9" height="9" fill="#eb5a3a"/>
<rect x="1284" y="238" width="9" height="9" fill="#ee613e"/>
<rect x="1292" y="238" width="9" height="9" fill="#f26841"/>
<rect x="1300" y="238" width="9" height="9" fill="#f46d43"/>
<rect x="1308" y="238" width="9" height="9" fill="#f57245"/>
<rect x="1316" y="238" width="9" height="9" fill="#f57748"/>
<rect x="1324" y="238" width="9" height="9" fill="#f67c4a"/>
<rect x="1332" y="238" width="9" height="9" fill="#f7844e"/>
<rect x="1340" y="238" width="9" height="9" fill="#f88c51"/>
<rect x="1348" y="238" width="9" height="9" fill="#f99355"/>
<rect x="1356" y="238" width="9" height="9" fill="#fa9857"/>
<rect x="1364" y="238" width="9" height="9" fill="#fba05b"/>
<rect x="1372" y="238" width="9" height="9" fill="#fca85e"/>
<rect x="1380" y="238" width="9" height="9" fill="#fdb163"/>
<rect x="1388" y="238" width="9" height="9" fill="#fdb96a"/>
<rect x="1396" y="238" width="9" height="9" fill="#fdc171"/>
<rect x="1404" y="238" width="9" height="9" fill="#fec877"/>
<rect x="1412" y="238" width="9" height="9" fill="#fecc7b"/>
<rect x="1420" y="238" width="9" height="9" fill="#fecc7b"/>
<rect x="1428" y="238" width="9" height="9" fill="#fecc7b"/>
<rect x="1436" y="238" width="9" height="9" fill="#fecc7b"/>
<rect x="1036" y="246" width="9" height="9" fill="#1b9950"/>
<rect x="1044" y="246" width="9" height="9" fill="#1b9950"/>
<rect x="1052" y="246" width="9" height="9" fill="#1b9950"/>
<rect x="1060" y="246" width="9" height="9" fill="#249d53"/>
<rect x="1068" y="246" width="9" height="9" fill="#33a456"/>
<rect x="1076" y="246" width="9" height="9" fill="#42ac5a"/>
<rect x="1084" y="246" width="9" height="9" fill="#4eb15d"/>
<rect x="1092" y="246" width="9" height="9" fill="#5db961"/>
<rect x="1100" y="246" width="9" height="9" fill="#6bbf64"/>
<rect x="1108" y="246" width="9" height="9" fill="#7dc765"/>
<rect x="1116" y="246" width="9" height="9" fill="#8ecf67"/>
<rect x="1124" y="246" width="9" height="9" fill="#a2d76a"/>
<rect x="1132" y="246" width="9" height="9" fill="#b1de71"/>
<rect x="1140" y="246" width="9" height="9" fill="#c5e67e"/>
<rect x="1148" y="246" width="9" height="9" fill="#dff293"/>
<rect x="1156" y="246" width="9" height="9" fill="#fbfdba"/>
<rect x="1164" y="246" width="9" height="9" fill="#feeb9d"/>
<rect x="1172" y="246" width="9" height="9" fill="#fed481"/>
<rect x="1180" y="246" width="9" height="9" fill="#fdc171"/>
<rect x="1188" y="246" width="9" height="9" fill="#fdad60"/>
<rect x="1196" y="246" width="9" height="9" fill="#fa9656"/>
<rect x="1204" y="246" width="9" height="9" fill="#f67f4b"/>
<rect x="1212" y="246" width="9" height="9" fill="#f16640"/>
<rect x="1220" y="246" width="9" height="9" fill="#e54e35"/>
<rect x="1228" y="246" width="9" height="9" fill="#db382b"/>
<rect x="1236" y="246" width="9" height="9" fill="#d62f27"/>
<rect x="1244" y="246" width="9" height="9" fill="#da362a"/>
<rect x="1252" y="246" width="9" height="9" fill="#e14430"/>
<rect x="1260" y="246" width="9" height="9" fill="#e65036"/>
<rect x="1268" y="246" width="9" height="9" fill="#eb5a3a"/>
<rect x="1276" y="246" width="9" height="9" fill="#ee613e"/>
<rect x="1284" y="246" width="9" height="9" fill="#f36b42"/>
<rect x="1292" y="246" width="9" height="9" fill="#f57245"/>
<rect x="1300" y="246" width="9" height="9" fill="#f57748"/>
<rect x="1308" y="246" width="9" height="9" fill="#f67c4a"/>
<rect x="1316" y="246" width="9" height="9" fill="#f7814c"/>
<rect x="1324" y="246" width="9" height="9" fill="#f8864f"/>
<rect x="1332" y="246" width="9" height="9" fill="#f98e52"/>
<rect x="1340" y="246" width="9" height="9" fill="#fa9656"/>
<rect x="1348" y="246" width="9" height="9" fill="#fa9b58"/>
<rect x="1356" y="246" width="9" height="9" fill="#fba35c"/>
<rect x="1364" y="246" width="9" height="9" fill="#fcaa5f"/>
<rect x="1372" y="246" width="9" height="9" fill="#fdb163"/>
<rect x="1380" y="246" width="9" height="9" fill="#fdb768"/>
<rect x="1388" y="246" width="9" height="9" fill="#fdbf6f"/>
<rect x="1396" y="246" width="9" height="9" fill="#fdc776"/>
<rect x="1404" y="246" width="9" height="9" fill="#fecc7b"/>
<rect x="1412" y="246" width="9" height="9" fill="#fed27f"/>
<rect x="1420" y="246" width="9" height="9" fill="#fed27f"/>
<rect x="1428" y="246" width="9" height="9" fill="#fed27f"/>
<rect x="1436" y="246" width="9" height="9" fill="#fed27f"/>
<rect x="1036" y="254" width="9" height="9" fill="#279f53"/>
<rect x="1044" y="254" width="9" height="9" fill="#279f53"/>
<rect x="1052" y="254" width="9" height="9" fill="#279f53"/>
<rect x="1060" y="254" width="9" height="9" fill="#30a356"/>
<rect x="1068" y="254" width="9" height="9" fill="#42ac5a"/>
<rect x="1076" y="254" width="9" height="9" fill="#54b45f"/>
<rect x="1084" y="254" width="9" height="9" fill="#63bc62"/>
<rect x="1092" y="254" width="9" height="9" fill="#70c164"/>
<rect x="1100" y="254" width="9" height="9" fill="#7dc765"/>
<rect x="1108" y="254" width="9" height="9" fill="#8ccd67"/>
<rect x="1116" y="254" width="9" height="9" fill="#9bd469"/>
<rect x="1124" y="254" width="9" height="9" fill="#abdb6d"/>
<rect x="1132" y="254" width="9" height="9" fill="#b9e176"/>
<rect x="1140" y="254" width="9" height="9" fill="#cbe982"/>
<rect x="1148" y="254" width="9" height="9" fill="#e2f397"/>
<rect x="1156" y="254" width="9" height="9" fill="#feffbe"/>
<rect x="1164" y="254" width="9" height="9" fill="#feea9b"/>
<rect x="1172" y="254" width="9" height="9" fill="#fed481"/>
<rect x="1180" y="254" width="9" height="9" fill="#fdc171"/>
<rect x="1188" y="254" width="9" height="9" fill="#fdad60"/>
<rect x="1196" y="254" width="9" height="9" fill="#fa9656"/>
<rect x="1204" y="254" width="9" height="9" fill="#f7814c"/>
<rect x="1212" y="254" width="9" height="9" fill="#f26841"/>
<rect x="1220" y="254" width="9" height="9" fill="#e65036"/>
<rect x="1228" y="254" width="9" height="9" fill="#dd3d2d"/>
<rect x="1236" y="254" width="9" height="9" fill="#da362a"/>
<rect x="1244" y="254" width="9" height="9" fill="#dc3b2c"/>
<rect x="1252" y="254" width="9" height="9" fill="#e24731"/>
<rect x="1260" y="254" width="9" height="9" fill="#e65036"/>
<rect x="1268" y="254" width="9" height="9" fill="#eb5a3a"/>
<rect x="1276" y="254" width="9" height="9" fill="#ee613e"/>
<rect x="1284" y="254" width="9" height="9" fill="#f36b42"/>
<rect x="1292" y="254" width="9" height="9" fill="#f57245"/>
<rect x="1300" y="254" width="9" height="9" fill="#f67a49"/>
<rect x="1308" y="254" width="9" height="9" fill="#f67f4b"/>
<rect x="1316" y="254" width="9" height="9" fill="#f7844e"/>
<rect x="1324" y="254" width="9" height="9" fill="#f88c51"/>
<rect x="1332" y="254" width="9" height="9" fill="#f99355"/>
<rect x="1340" y="254" width="9" height="9" fill="#fa9b58"/>
<rect x="1348" y="254" width="9" height="9" fill="#fba05b"/>
<rect x="1356" y="254" width="9" height="9" fill="#fca85e"/>
<rect x="1364" y="254" width="9" height="9" fill="#fdad60"/>
<rect x="1372" y="254" width="9" height="9" fill="#fdb365"/>
<rect x="1380" y="254" width="9" height="9" fill="#fdb768"/>
<rect x="1388" y="254" width="9" height="9" fill="#fdbd6d"/>
<rect x="1396" y="254" width="9" height="9" fill="#fdc574"/>
<rect x="1404" y="254" width="9" height="9" fill="#feca79"/>
<rect x="1412" y="254" width="9" height="9" fill="#fed07e"/>
<rect x="1420" y="254" width="9" height="9" fill="#fed07e"/>
<rect x="1428" y="254" width="9" height="9" fill="#fed07e"/>
<rect x="1436" y="254" width="9" height="9" fill="#fed07e"/>
<rect x="1036" y="262" width="9" height="9" fill="#36a657"/>
<rect x="1044" y="262" width="9" height="9" fill="#36a657"/>
<rect x="1052" y="262" width="9" height="9" fill="#36a657"/>
<rect x="1060" y="262" width="9" height="9" fill="#3faa59"/>
<rect x="1068" y="262" width="9" height="9" fill="#54b45f"/>
<rect x="1076" y="262" width="9" height="9" fill="#66bd63"/>
<rect x="1084" y="262" width="9" height="9" fill="#75c465"/>
<rect x="1092" y="262" width="9" height="9" fill="#82c966"/>
<rect x="1100" y="262" width="9" height="9" fill="#8ecf67"/>
<rect x="1108" y="262" width="9" height="9" fill="#9bd469"/>
<rect x="1116" y="262" width="9" height="9" fill="#a7d96b"/>
<rect x="1124" y="262" width="9" height="9" fill="#b3df72"/>
<rect x="1132" y="262" width="9" height="9" fill="#bfe47a"/>
<rect x="1140" y="262" width="9" height="9" fill="#d1ec86"/>
<rect x="1148" y="262" width="9" height="9" fill="#e6f59d"/>
<rect x="1156" y="262" width="9" height="9" fill="#fffdbc"/>
<rect x="1164" y="262" width="9" height="9" fill="#fee999"/>
<rect x="1172" y="262" width="9" height="9" fill="#fed27f"/>
<rect x="1180" y="262" width="9" height="9" fill="#fdc171"/>
<rect x="1188" y="262" width="9" height="9" fill="#fdaf62"/>
<rect x="1196" y="262" width="9" height="9" fill="#fa9b58"/>
<rect x="1204" y="262" width="9" height="9" fill="#f7844e"/>
<rect x="1212" y="262" width="9" height="9" fill="#f46d43"/>
<rect x="1220" y="262" width="9" height="9" fill="#ea5739"/>
<rect x="1228" y="262" width="9" height="9" fill="#e14430"/>
<rect x="1236" y="262" width="9" height="9" fill="#dc3b2c"/>
<rect x="1244" y="262" width="9" height="9" fill="#de402e"/>
<rect x="1252" y="262" width="9" height="9" fill="#e34933"/>
<rect x="1260" y="262" width="9" height="9" fill="#e65036"/>
<rect x="1268" y="262" width="9" height="9" fill="#ea5739"/>
<rect x="1276" y="262" width="9" height="9" fill="#ed5f3c"/>
<rect x="1284" y="262" width="9" height="9" fill="#f26841"/>
<rect x="1292" y="262" width="9" height="9" fill="#f47044"/>
<rect x="1300" y="262" width="9" height="9" fill="#f67a49"/>
<rect x="1308" y="262" width="9" height="9" fill="#f67f4b"/>
<rect x="1316" y="262" width="9" height="9" fill="#f8864f"/>
<rect x="1324" y="262" width="9" height="9" fill="#f88c51"/>
<rect x="1332" y="262" width="9" height="9" fill="#f99355"/>
<rect x="1340" y="262" width="9" height="9" fill="#fa9b58"/>
<rect x="1348" y="262" width="9" height="9" fill="#fba35c"/>
<rect x="1356" y="262" width="9" height="9" fill="#fca85e"/>
<rect x="1364" y="262" width="9" height="9" fill="#fdad60"/>
<rect x="1372" y="262" width="9" height="9" fill="#fdb163"/>
<rect x="1380" y="262" width="9" height="9" fill="#fdb567"/>
<rect x="1388" y="262" width="9" height="9" fill="#fdb96a"/>
<rect x="1396" y="262" width="9" height="9" fill="#fdbf6f"/>
<rect x="1404" y="262" width="9" height="9" fill="#fdc574"/>
<rect x="1412" y="262" width="9" height="9" fill="#fec877"/>
<rect x="1420" y="262" width="9" height="9" fill="#fec877"/>
<rect x="1428" y="262" width="9" height="9" fill="#fec877"/>
<rect x="1436" y="262" width="9" height="9" fill="#fec877"/>
<rect x="1036" y="270" width="9" height="9" fill="#42ac5a"/>
<rect x="1044" y="270" width="9" height="9" fill="#42ac5a"/>
<rect x="1052" y="270" width="9" height="9" fill="#42ac5a"/>
<rect x="1060" y="270" width="9" height="9" fill="#4bb05c"/>
<rect x="1068" y="270" width="9" height="9" fill="#60ba62"/>
<rect x="1076" y="270" width="9" height="9" fill="#70c164"/>
<rect x="1084" y="270" width="9" height="9" fill="#7fc866"/>
<rect x="1092" y="270" width="9" height="9" fill="#8ecf67"/>
<rect x="1100" y="270" width="9" height="9" fill="#9bd469"/>
<rect x="1108" y="270" width="9" height="9" fill="#a7d96b"/>
<rect x="1116" y="270" width="9" height="9" fill="#afdd70"/>
<rect x="1124" y="270" width="9" height="9" fill="#b9e176"/>
<rect x="1132" y="270" width="9" height="9" fill="#c5e67e"/>
<rect x="1140" y="270" width="9" height="9" fill="#d7ee8a"/>
<rect x="1148" y="270" width="9" height="9" fill="#ecf7a6"/>
<rect x="1156" y="270" width="9" height="9" fill="#fffab6"/>
<rect x="1164" y="270" width="9" height="9" fill="#fee491"/>
<rect x="1172" y="270" width="9" height="9" fill="#fece7c"/>
<rect x="1180" y="270" width="9" height="9" fill="#fdbd6d"/>
<rect x="1188" y="270" width="9" height="9" fill="#fdaf62"/>
<rect x="1196" y="270" width="9" height="9" fill="#fa9b58"/>
<rect x="1204" y="270" width="9" height="9" fill="#f7844e"/>
<rect x="1212" y="270" width="9" height="9" fill="#f47044"/>
<rect x="1220" y="270" width="9" height="9" fill="#eb5a3a"/>
<rect x="1228" y="270" width="9" height="9" fill="#e34933"/>
<rect x="1236" y="270" width="9" height="9" fill="#e0422f"/>
<rect x="1244" y="270" width="9" height="9" fill="#e14430"/>
<rect x="1252" y="270" width="9" height="9" fill="#e44c34"/>
<rect x="1260" y="270" width="9" height="9" fill="#e75337"/>
<rect x="1268" y="270" width="9" height="9" fill="#eb5a3a"/>
<rect x="1276" y="270" width="9" height="9" fill="#ed5f3c"/>
<rect x="1284" y="270" width="9" height="9" fill="#f26841"/>
<rect x="1292" y="270" width="9" height="9" fill="#f57245"/>
<rect x="1300" y="270" width="9" height="9" fill="#f67a49"/>
<rect x="1308" y="270" width="9" height="9" fill="#f7814c"/>
<rect x="1316" y="270" width="9" height="9" fill="#f88950"/>
<rect x="1324" y="270" width="9" height="9" fill="#f99153"/>
<rect x="1332" y="270" width="9" height="9" fill="#fa9857"/>
<rect x="1340" y="270" width="9" height="9" fill="#fb9d59"/>
<rect x="1348" y="270" width="9" height="9" fill="#fca55d"/>
<rect x="1356" y="270" width="9" height="9" fill="#fca85e"/>
<rect x="1364" y="270" width="9" height="9" fill="#fdad60"/>
<rect x="1372" y="270" width="9" height="9" fill="#fdb163"/>
<rect x="1380" y="270" width="9" height="9" fill="#fdb365"/>
<rect x="1388" y="270" width="9" height="9" fill="#fdb768"/>
<rect x="1396" y="270" width="9" height="9" fill="#fdbd6d"/>
<rect x="1404" y="270" width="9" height="9" fill="#fdc372"/>
<rect x="1412" y="270" width="9" height="9" fill="#fdc776"/>
<rect x="1420" y="270" width="9" height="9" fill="#fdc776"/>
<rect x="1428" y="270" width="9" height="9" fill="#fdc776"/>
<rect x="1436" y="270" width="9" height="9" fill="#fdc776"/>
<rect x="1036" y="278" width="9" height="9" fill="#4bb05c"/>
<rect x="1044" y="278" width="9" height="9" fill="#4bb05c"/>
<rect x="1052" y="278" width="9" height="9" fill="#4bb05c"/>
<rect x="1060" y="278" width="9" height="9" fill="#57b65f"/>
<rect x="1068" y="278" width="9" height="9" fill="#69be63"/>
<rect x="1076" y="278" width="9" height="9" fill="#78c565"/>
<rect x="1084" y="278" width="9" height="9" fill="#87cb67"/>
<rect x="1092" y="278" width="9" height="9" fill="#93d168"/>
<rect x="1100" y="278" width="9" height="9" fill="#a0d669"/>
<rect x="1108" y="278" width="9" height="9" fill="#abdb6d"/>
<rect x="1116" y="278" width="9" height="9" fill="#b3df72"/>
<rect x="1124" y="278" width="9" height="9" fill="#bfe47a"/>
<rect x="1132" y="278" width="9" height="9" fill="#cdea83"/>
<rect x="1140" y="278" width="9" height="9" fill="#dff293"/>
<rect x="1148" y="278" width="9" height="9" fill="#f4fab0"/>
<rect x="1156" y="278" width="9" height="9" fill="#fff2aa"/>
<rect x="1164" y="278" width="9" height="9" fill="#fedc88"/>
<rect x="1172" y="278" width="9" height="9" fill="#fdc574"/>
<rect x="1180" y="278" width="9" height="9" fill="#fdb768"/>
<rect x="1188" y="278" width="9" height="9" fill="#fca85e"/>
<rect x="1196" y="278" width="9" height="9" fill="#f99355"/>
<rect x="1204" y="278" width="9" height="9" fill="#f67f4b"/>
<rect x="1212" y="278" width="9" height="9" fill="#f46d43"/>
<rect x="1220" y="278" width="9" height="9" fill="#eb5a3a"/>
<rect x="1228" y="278" width="9" height="9" fill="#e54e35"/>
<rect x="1236" y="278" width="9" height="9" fill="#e34933"/>
<rect x="1244" y="278" width="9" height="9" fill="#e44c34"/>
<rect x="1252" y="278" width="9" height="9" fill="#e75337"/>
<rect x="1260" y="278" width="9" height="9" fill="#eb5a3a"/>
<rect x="1268" y="278" width="9" height="9" fill="#ed5f3c"/>
<rect x="1276" y="278" width="9" height="9" fill="#ef633f"/>
<rect x="1284" y="278" width="9" height="9" fill="#f46d43"/>
<rect x="1292" y="278" width="9" height="9" fill="#f57547"/>
<rect x="1300" y="278" width="9" height="9" fill="#f67f4b"/>
<rect x="1308" y="278" width="9" height="9" fill="#f8864f"/>
<rect x="1316" y="278" width="9" height="9" fill="#f98e52"/>
<rect x="1324" y="278" width="9" height="9" fill="#fa9656"/>
<rect x="1332" y="278" width="9" height="9" fill="#fa9b58"/>
<rect x="1340" y="278" width="9" height="9" fill="#fba35c"/>
<rect x="1348" y="278" width="9" height="9" fill="#fca55d"/>
<rect x="1356" y="278" width="9" height="9" fill="#fcaa5f"/>
<rect x="1364" y="278" width="9" height="9" fill="#fdad60"/>
<rect x="1372" y="278" width="9" height="9" fill="#fdb163"/>
<rect x="1380" y="278" width="9" height="9" fill="#fdb365"/>
<rect x="1388" y="278" width="9" height="9" fill="#fdb768"/>
<rect x="1396" y="278" width="9" height="9" fill="#fdbd6d"/>
<rect x="1404" y="278" width="9" height="9" fill="#fdc372"/>
<rect x="1412" y="278" width="9" height="9" fill="#fdc776"/>
<rect x="1420" y="278" width="9" height="9" fill="#fdc776"/>
<rect x="1428" y="278" width="9" height="9" fill="#fdc776"/>
<rect x="1436" y="278" width="9" height="9" fill="#fdc776"/>
<rect x="1036" y="286" width="9" height="9" fill="#54b45f"/>
<rect x="1044" y="286" width="9" height="9" fill="#54b45f"/>
<rect x="1052" y="286" width="9" height="9" fill="#54b45f"/>
<rect x="1060" y="286" width="9" height="9" fill="#5db961"/>
<rect x="1068" y="286" width="9" height="9" fill="#6bbf64"/>
<rect x="1076" y="286" width="9" height="9" fill="#7ac665"/>
<rect x="1084" y="286" width="9" height="9" fill="#87cb67"/>
<rect x="1092" y="286" width="9" height="9" fill="#93d168"/>
<rect x="1100" y="286" width="9" height="9" fill="#a0d669"/>
<rect x="1108" y="286" width="9" height="9" fill="#abdb6d"/>
<rect x="1116" y="286" width="9" height="9" fill="#b5df74"/>
<rect x="1124" y="286" width="9" height="9" fill="#c1e57b"/>
<rect x="1132" y="286" width="9" height="9" fill="#d3ec87"/>
<rect x="1140" y="286" width="9" height="9" fill="#e5f49b"/>
<rect x="1148" y="286" width="9" height="9" fill="#fafdb8"/>
<rect x="1156" y="286" width="9" height="9" fill="#feec9f"/>
<rect x="1164" y="286" width="9" height="9" fill="#fed27f"/>
<rect x="1172" y="286" width="9" height="9" fill="#fdbd6d"/>
<rect x="1180" y="286" width="9" height="9" fill="#fdaf62"/>
<rect x="1188" y="286" width="9" height="9" fill="#fba05b"/>
<rect x="1196" y="286" width="9" height="9" fill="#f98e52"/>
<rect x="1204" y="286" width="9" height="9" fill="#f67a49"/>
<rect x="1212" y="286" width="9" height="9" fill="#f26841"/>
<rect x="1220" y="286" width="9" height="9" fill="#ec5c3b"/>
<rect x="1228" y="286" width="9" height="9" fill="#e75337"/>
<rect x="1236" y="286" width="9" height="9" fill="#e65036"/>
<rect x="1244" y="286" width="9" height="9" fill="#e95538"/>
<rect x="1252" y="286" width="9" height="9" fill="#ec5c3b"/>
<rect x="1260" y="286" width="9" height="9" fill="#ef633f"/>
<rect x="1268" y="286" width="9" height="9" fill="#f26841"/>
<rect x="1276" y="286" width="9" height="9" fill="#f46d43"/>
<rect x="1284" y="286" width="9" height="9" fill="#f57547"/>
<rect x="1292" y="286" width="9" height="9" fill="#f67c4a"/>
<rect x="1300" y="286" width="9" height="9" fill="#f8864f"/>
<rect x="1308" y="286" width="9" height="9" fill="#f98e52"/>
<rect x="1316" y="286" width="9" height="9" fill="#fa9656"/>
<rect x="1324" y="286" width="9" height="9" fill="#fb9d59"/>
<rect x="1332" y="286" width="9" height="9" fill="#fba05b"/>
<rect x="1340" y="286" width="9" height="9" fill="#fca55d"/>
<rect x="1348" y="286" width="9" height="9" fill="#fca85e"/>
<rect x="1356" y="286" width="9" height="9" fill="#fcaa5f"/>
<rect x="1364" y="286" width="9" height="9" fill="#fdad60"/>
<rect x="1372" y="286" width="9" height="9" fill="#fdb163"/>
<rect x="1380" y="286" width="9" height="9" fill="#fdb567"/>
<rect x="1388" y="286" width="9" height="9" fill="#fdb96a"/>
<rect x="1396" y="286" width="9" height="9" fill="#fdbf6f"/>
<rect x="1404" y="286" width="9" height="9" fill="#fdc574"/>
<rect x="1412" y="286" width="9" height="9" fill="#fec877"/>
<rect x="1420" y="286" width="9" height="9" fill="#fec877"/>
<rect x="1428" y="286" width="9" height="9" fill="#fec877"/>
<rect x="1436" y="286" width="9" height="9" fill="#fec877"/>
<rect x="1036" y="294" width="9" height="9" fill="#57b65f"/>
<rect x="1044" y="294" width="9" height="9" fill="#57b65f"/>
<rect x="1052" y="294" width="9" height="9" fill="#57b65f"/>
<rect x="1060" y="294" width="9" height="9" fill="#5db961"/>
<rect x="1068" y="294" width="9" height="9" fill="#6bbf64"/>
<rect x="1076" y="294" width="9" height="9" fill="#75c465"/>
<rect x="1084" y="294" width="9" height="9" fill="#82c966"/>
<rect x="1092" y="294" width="9" height="9" fill="#8ccd67"/>
<rect x="1100" y="294" width="9" height="9" fill="#98d368"/>
<rect x="1108" y="294" width="9" height="9" fill="#a5d86a"/>
<rect x="1116" y="294" width="9" height="9" fill="#afdd70"/>
<rect x="1124" y="294" width="9" height="9" fill="#bde379"/>
<rect x="1132" y="294" width="9" height="9" fill="#cfeb85"/>
<rect x="1140" y="294" width="9" height="9" fill="#e0f295"/>
<rect x="1148" y="294" width="9" height="9" fill="#f5fbb2"/>
<rect x="1156" y="294" width="9" height="9" fill="#fff2aa"/>
<rect x="1164" y="294" width="9" height="9" fill="#fede89"/>
<rect x="1172" y="294" width="9" height="9" fill="#fec877"/>
<rect x="1180" y="294" width="9" height="9" fill="#fdbb6c"/>
<rect x="1188" y="294" width="9" height="9" fill="#fdaf62"/>
<rect x="1196" y="294" width="9" height="9" fill="#fb9d59"/>
<rect x="1204" y="294" width="9" height="9" fill="#f88950"/>
<rect x="1212" y="294" width="9" height="9" fill="#f57748"/>
<rect x="1220" y="294" width="9" height="9" fill="#f36b42"/>
<rect x="1228" y="294" width="9" height="9" fill="#ee613e"/>
<rect x="1236" y="294" width="9" height="9" fill="#ee613e"/>
<rect x="1244" y="294" width="9" height="9" fill="#ef633f"/>
<rect x="1252" y="294" width="9" height="9" fill="#f36b42"/>
<rect x="1260" y="294" width="9" height="9" fill="#f47044"/>
<rect x="1268" y="294" width="9" height="9" fill="#f57547"/>
<rect x="1276" y="294" width="9" height="9" fill="#f67a49"/>
<rect x="1284" y="294" width="9" height="9" fill="#f67f4b"/>
<rect x="1292" y="294" width="9" height="9" fill="#f8864f"/>
<rect x="1300" y="294" width="9" height="9" fill="#f98e52"/>
<rect x="1308" y="294" width="9" height="9" fill="#fa9656"/>
<rect x="1316" y="294" width="9" height="9" fill="#fb9d59"/>
<rect x="1324" y="294" width="9" height="9" fill="#fba35c"/>
<rect x="1332" y="294" width="9" height="9" fill="#fca55d"/>
<rect x="1340" y="294" width="9" height="9" fill="#fca55d"/>
<rect x="1348" y="294" width="9" height="9" fill="#fca85e"/>
<rect x="1356" y="294" width="9" height="9" fill="#fcaa5f"/>
<rect x="1364" y="294" width="9" height="9" fill="#fdad60"/>
<rect x="1372" y="294" width="9" height="9" fill="#fdaf62"/>
<rect x="1380" y="294" width="9" height="9" fill="#fdb365"/>
<rect x="1388" y="294" width="9" height="9" fill="#fdb768"/>
<rect x="1396" y="294" width="9" height="9" fill="#fdbd6d"/>
<rect x="1404" y="294" width="9" height="9" fill="#fdc372"/>
<rect x="1412" y="294" width="9" height="9" fill="#fdc776"/>
<rect x="1420" y="294" width="9" height="9" fill="#fdc776"/>
<rect x="1428" y="294" width="9" height="9" fill="#fdc776"/>
<rect x="1436" y="294" width="9" height="9" fill="#fdc776"/>
<rect x="1036" y="302" width="9" height="9" fill="#51b35e"/>
<rect x="1044" y="302" width="9" height="9" fill="#51b35e"/>
<rect x="1052" y="302" width="9" height="9" fill="#51b35e"/>
<rect x="1060" y="302" width="9" height="9" fill="#57b65f"/>
<rect x="1068" y="302" width="9" height="9" fill="#63bc62"/>
<rect x="1076" y="302" width="9" height="9" fill="#6bbf64"/>
<rect x="1084" y="302" width="9" height="9" fill="#75c465"/>
<rect x="1092" y="302" width="9" height="9" fill="#7fc866"/>
<rect x="1100" y="302" width="9" height="9" fill="#89cc67"/>
<rect x="1108" y="302" width="9" height="9" fill="#96d268"/>
<rect x="1116" y="302" width="9" height="9" fill="#a2d76a"/>
<rect x="1124" y="302" width="9" height="9" fill="#b1de71"/>
<rect x="1132" y="302" width="9" height="9" fill="#bfe47a"/>
<rect x="1140" y="302" width="9" height="9" fill="#d1ec86"/>
<rect x="1148" y="302" width="9" height="9" fill="#e3f399"/>
<rect x="1156" y="302" width="9" height="9" fill="#fafdb8"/>
<rect x="1164" y="302" width="9" height="9" fill="#fff3ac"/>
<rect x="1172" y="302" width="9" height="9" fill="#fee695"/>
<rect x="1180" y="302" width="9" height="9" fill="#feda86"/>
<rect x="1188" y="302" width="9" height="9" fill="#fecc7b"/>
<rect x="1196" y="302" width="9" height="9" fill="#fdbd6d"/>
<rect x="1204" y="302" width="9" height="9" fill="#fcaa5f"/>
<rect x="1212" y="302" width="9" height="9" fill="#fa9857"/>
<rect x="1220" y="302" width="9" height="9" fill="#f88950"/>
<rect x="1228" y="302" width="9" height="9" fill="#f67c4a"/>
<rect x="1236" y="302" width="9" height="9" fill="#f57748"/>
<rect x="1244" y="302" width="9" height="9" fill="#f67a49"/>
<rect x="1252" y="302" width="9" height="9" fill="#f67c4a"/>
<rect x="1260" y="302" width="9" height="9" fill="#f7814c"/>
<rect x="1268" y="302" width="9" height="9" fill="#f7844e"/>
<rect x="1276" y="302" width="9" height="9" fill="#f8864f"/>
<rect x="1284" y="302" width="9" height="9" fill="#f88c51"/>
<rect x="1292" y="302" width="9" height="9" fill="#f99153"/>
<rect x="1300" y="302" width="9" height="9" fill="#fa9656"/>
<rect x="1308" y="302" width="9" height="9" fill="#fa9b58"/>
<rect x="1316" y="302" width="9" height="9" fill="#fba35c"/>
<rect x="1324" y="302" width="9" height="9" fill="#fca55d"/>
<rect x="1332" y="302" width="9" height="9" fill="#fca85e"/>
<rect x="1340" y="302" width="9" height="9" fill="#fca85e"/>
<rect x="1348" y="302" width="9" height="9" fill="#fca85e"/>
<rect x="1356" y="302" width="9" height="9" fill="#fcaa5f"/>
<rect x="1364" y="302" width="9" height="9" fill="#fdad60"/>
<rect x="1372" y="302" width="9" height="9" fill="#fdaf62"/>
<rect x="1380" y="302" width="9" height="9" fill="#fdb163"/>
<rect x="1388" y="302" width="9" height="9" fill="#fdb567"/>
<rect x="1396" y="302" width="9" height="9" fill="#fdb96a"/>
<rect x="1404" y="302" width="9" height="9" fill="#fdbd6d"/>
<rect x="1412" y="302" width="9" height="9" fill="#fdbf6f"/>
<rect x="1420" y="302" width="9" height="9" fill="#fdbf6f"/>
<rect x="1428" y="302" width="9" height="9" fill="#fdbf6f"/>
<rect x="1436" y="302" width="9" height="9" fill="#fdbf6f"/>
<rect x="1036" y="310" width="9" height="9" fill="#4bb05c"/>
<rect x="1044" y="310" width="9" height="9" fill="#4bb05c"/>
<rect x="1052" y="310" width="9" height="9" fill="#4bb05c"/>
<rect x="1060" y="310" width="9" height="9" fill="#4eb15d"/>
<rect x="1068" y="310" width="9" height="9" fill="#54b45f"/>
<rect x="1076" y="310" width="9" height="9" fill="#5db961"/>
<rect x="1084" y="310" width="9" height="9" fill="#63bc62"/>
<rect x="1092" y="310" width="9" height="9" fill="#6bbf64"/>
<rect x="1100" y="310" width="9" height="9" fill="#75c465"/>
<rect x="1108" y="310" width="9" height="9" fill="#7fc866"/>
<rect x="1116" y="310" width="9" height="9" fill="#8ccd67"/>
<rect x="1124" y="310" width="9" height="9" fill="#98d368"/>
<rect x="1132" y="310" width="9" height="9" fill="#a5d86a"/>
<rect x="1140" y="310" width="9" height="9" fill="#b1de71"/>
<rect x="1148" y="310" width="9" height="9" fill="#c1e57b"/>
<rect x="1156" y="310" width="9" height="9" fill="#d5ed88"/>
<rect x="1164" y="310" width="9" height="9" fill="#e6f59d"/>
<rect x="1172" y="310" width="9" height="9" fill="#f5fbb2"/>
<rect x="1180" y="310" width="9" height="9" fill="#fffbb8"/>
<rect x="1188" y="310" width="9" height="9" fill="#fff0a6"/>
<rect x="1196" y="310" width="9" height="9" fill="#fee491"/>
<rect x="1204" y="310" width="9" height="9" fill="#fed481"/>
<rect x="1212" y="310" width="9" height="9" fill="#fdc574"/>
<rect x="1220" y="310" width="9" height="9" fill="#fdb567"/>
<rect x="1228" y="310" width="9" height="9" fill="#fca55d"/>
<rect x="1236" y="310" width="9" height="9" fill="#fa9857"/>
<rect x="1244" y="310" width="9" height="9" fill="#fa9656"/>
<rect x="1252" y="310" width="9" height="9" fill="#fa9656"/>
<rect x="1260" y="310" width="9" height="9" fill="#fa9656"/>
<rect x="1268" y="310" width="9" height="9" fill="#fa9857"/>
<rect x="1276" y="310" width="9" height="9" fill="#fa9857"/>
<rect x="1284" y="310" width="9" height="9" fill="#fa9b58"/>
<rect x="1292" y="310" width="9" height="9" fill="#fb9d59"/>
<rect x="1300" y="310" width="9" height="9" fill="#fba05b"/>
<rect x="1308" y="310" width="9" height="9" fill="#fba35c"/>
<rect x="1316" y="310" width="9" height="9" fill="#fca55d"/>
<rect x="1324" y="310" width="9" height="9" fill="#fca85e"/>
<rect x="1332" y="310" width="9" height="9" fill="#fca85e"/>
<rect x="1340" y="310" width="9" height="9" fill="#fca85e"/>
<rect x="1348" y="310" width="9" height="9" fill="#fcaa5f"/>
<rect x="1356" y="310" width="9" height="9" fill="#fcaa5f"/>
<rect x="1364" y="310" width="9" height="9" fill="#fcaa5f"/>
<rect x="1372" y="310" width="9" height="9" fill="#fdad60"/>
<rect x="1380" y="310" width="9" height="9" fill="#fdad60"/>
<rect x="1388" y="310" width="9" height="9" fill="#fdaf62"/>
<rect x="1396" y="310" width="9" height="9" fill="#fdb163"/>
<rect x="1404" y="310" width="9" height="9" fill="#fdb365"/>
<rect x="1412" y="310" width="9" height="9" fill="#fdb567"/>
<rect x="1420" y="310" width="9" height="9" fill="#fdb567"/>
<rect x="1428" y="310" width="9" height="9" fill="#fdb567"/>
<rect x="1436" y="310" width="9" height="9" fill="#fdb567"/>
<rect x="1036" y="318" width="9" height="9" fill="#42ac5a"/>
<rect x="1044" y="318" width="9" height="9" fill="#42ac5a"/>
<rect x="1052" y="318" width="9" height="9" fill="#42ac5a"/>
<rect x="1060" y="318" width="9" height="9" fill="#42ac5a"/>
<rect x="1068" y="318" width="9" height="9" fill="#45ad5b"/>
<rect x="1076" y="318" width="9" height="9" fill="#4bb05c"/>
<rect x="1084" y="318" width="9" height="9" fill="#4eb15d"/>
<rect x="1092" y="318" width="9" height="9" fill="#54b45f"/>
<rect x="1100" y="318" width="9" height="9" fill="#5db961"/>
<rect x="1108" y="318" width="9" height="9" fill="#66bd63"/>
<rect x="1116" y="318" width="9" height="9" fill="#73c264"/>
<rect x="1124" y="318" width="9" height="9" fill="#7ac665"/>
<rect x="1132" y="318" width="9" height="9" fill="#82c966"/>
<rect x="1140" y="318" width="9" height="9" fill="#89cc67"/>
<rect x="1148" y="318" width="9" height="9" fill="#96d268"/>
<rect x="1156" y="318" width="9" height="9" fill="#a5d86a"/>
<rect x="1164" y="318" width="9" height="9" fill="#b5df74"/>
<rect x="1172" y="318" width="9" height="9" fill="#c9e881"/>
<rect x="1180" y="318" width="9" height="9" fill="#ddf191"/>
<rect x="1188" y="318" width="9" height="9" fill="#eff8aa"/>
<rect x="1196" y="318" width="9" height="9" fill="#feffbe"/>
<rect x="1204" y="318" width="9" height="9" fill="#fff3ac"/>
<rect x="1212" y="318" width="9" height="9" fill="#fee797"/>
<rect x="1220" y="318" width="9" height="9" fill="#fed884"/>
<rect x="1228" y="318" width="9" height="9" fill="#fdc776"/>
<rect x="1236" y="318" width="9" height="9" fill="#fdbb6c"/>
<rect x="1244" y="318" width="9" height="9" fill="#fdb567"/>
<rect x="1252" y="318" width="9" height="9" fill="#fdb365"/>
<rect x="1260" y="318" width="9" height="9" fill="#fdb163"/>
<rect x="1268" y="318" width="9" height="9" fill="#fdb163"/>
<rect x="1276" y="318" width="9" height="9" fill="#fdb163"/>
<rect x="1284" y="318" width="9" height="9" fill="#fdb365"/>
<rect x="1292" y="318" width="9" height="9" fill="#fdb365"/>
<rect x="1300" y="318" width="9" height="9" fill="#fdb365"/>
<rect x="1308" y="318" width="9" height="9" fill="#fdb365"/>
<rect x="1316" y="318" width="9" height="9" fill="#fdb365"/>
<rect x="1324" y="318" width="9" height="9" fill="#fdb365"/>
<rect x="1332" y="318" width="9" height="9" fill="#fdb365"/>
<rect x="1340" y="318" width="9" height="9" fill="#fdb365"/>
<rect x="1348" y="318" width="9" height="9" fill="#fdb365"/>
<rect x="1356" y="318" width="9" height="9" fill="#fdb365"/>
<rect x="1364" y="318" width="9" height="9" fill="#fdb567"/>
<rect x="1372" y="318" width="9" height="9" fill="#fdb567"/>
<rect x="1380" y="318" width="9" height="9" fill="#fdb567"/>
<rect x="1388" y="318" width="9" height="9" fill="#fdb567"/>
<rect x="1396" y="318" width="9" height="9" fill="#fdb567"/>
<rect x="1404" y="318" width="9" height="9" fill="#fdb567"/>
<rect x="1412" y="318" width="9" height="9" fill="#fdb567"/>
<rect x="1420" y="318" width="9" height="9" fill="#fdb567"/>
<rect x="1428" y="318" width="9" height="9" fill="#fdb567"/>
<rect x="1436" y="318" width="9" height="9" fill="#fdb567"/>
<rect x="1036" y="326" width="9" height="9" fill="#39a758"/>
<rect x="1044" y="326" width="9" height="9" fill="#39a758"/>
<rect x="1052" y="326" width="9" height="9" fill="#39a758"/>
<rect x="1060" y="326" width="9" height="9" fill="#39a758"/>
<rect x="1068" y="326" width="9" height="9" fill="#39a758"/>
<rect x="1076" y="326" width="9" height="9" fill="#39a758"/>
<rect x="1084" y="326" width="9" height="9" fill="#39a758"/>
<rect x="1092" y="326" width="9" height="9" fill="#3ca959"/>
<rect x="1100" y="326" width="9" height="9" fill="#3faa59"/>
<rect x="1108" y="326" width="9" height="9" fill="#48ae5c"/>
<rect x="1116" y="326" width="9" height="9" fill="#51b35e"/>
<rect x="1124" y="326" width="9" height="9" fill="#5ab760"/>
<rect x="1132" y="326" width="9" height="9" fill="#5db961"/>
<rect x="1140" y="326" width="9" height="9" fill="#60ba62"/>
<rect x="1148" y="326" width="9" height="9" fill="#69be63"/>
<rect x="1156" y="326" width="9" height="9" fill="#70c164"/>
<rect x="1164" y="326" width="9" height="9" fill="#7fc866"/>
<rect x="1172" y="326" width="9" height="9" fill="#96d268"/>
<rect x="1180" y="326" width="9" height="9" fill="#b1de71"/>
<rect x="1188" y="326" width="9" height="9" fill="#c9e881"/>
<rect x="1196" y="326" width="9" height="9" fill="#ddf191"/>
<rect x="1204" y="326" width="9" height="9" fill="#eef8a8"/>
<rect x="1212" y="326" width="9" height="9" fill="#fdfebc"/>
<rect x="1220" y="326" width="9" height="9" fill="#fff2aa"/>
<rect x="1228" y="326" width="9" height="9" fill="#fee695"/>
<rect x="1236" y="326" width="9" height="9" fill="#feda86"/>
<rect x="1244" y="326" width="9" height="9" fill="#fed27f"/>
<rect x="1252" y="326" width="9" height="9" fill="#fece7c"/>
<rect x="1260" y="326" width="9" height="9" fill="#fecc7b"/>
<rect x="1268" y="326" width="9" height="9" fill="#fecc7b"/>
<rect x="1276" y="326" width="9" height="9" fill="#fecc7b"/>
<rect x="1284" y="326" width="9" height="9" fill="#fecc7b"/>
<rect x="1292" y="326" width="9" height="9" fill="#feca79"/>
<rect x="1300" y="326" width="9" height="9" fill="#feca79"/>
<rect x="1308" y="326" width="9" height="9" fill="#feca79"/>
<rect x="1316" y="326" width="9" height="9" fill="#fec877"/>
<rect x="1324" y="326" width="9" height="9" fill="#fec877"/>
<rect x="1332" y="326" width="9" height="9" fill="#fec877"/>
<rect x="1340" y="326" width="9" height="9" fill="#fec877"/>
<rect x="1348" y="326" width="9" height="9" fill="#fec877"/>
<rect x="1356" y="326" width="9" height="9" fill="#fec877"/>
<rect x="1364" y="326" width="9" height="9" fill="#fec877"/>
<rect x="1372" y="326" width="9" height="9" fill="#fec877"/>
<rect x="1380" y="326" width="9" height="9" fill="#fdc776"/>
<rect x="1388" y="326" width="9" height="9" fill="#fdc776"/>
<rect x="1396" y="326" width="9" height="9" fill="#fdc776"/>
<rect x="1404" y="326" width="9" height="9" fill="#fdc574"/>
<rect x="1412" y="326" width="9" height="9" fill="#fdc574"/>
<rect x="1420" y="326" width="9" height="9" fill="#fdc574"/>
<rect x="1428" y="326" width="9" height="9" fill="#fdc574"/>
<rect x="1436" y="326" width="9" height="9" fill="#fdc574"/>
<rect x="1036" y="334" width="9" height="9" fill="#30a356"/>
<rect x="1044" y="334" width="9" height="9" fill="#30a356"/>
<rect x="1052" y="334" width="9" height="9" fill="#30a356"/>
<rect x="1060" y="334" width="9" height="9" fill="#30a356"/>
<rect x="1068" y="334" width="9" height="9" fill="#2da155"/>
<rect x="1076" y="334" width="9" height="9" fill="#2aa054"/>
<rect x="1084" y="334" width="9" height="9" fill="#279f53"/>
<rect x="1092" y="334" width="9" height="9" fill="#249d53"/>
<rect x="1100" y="334" width="9" height="9" fill="#249d53"/>
<rect x="1108" y="334" width="9" height="9" fill="#279f53"/>
<rect x="1116" y="334" width="9" height="9" fill="#2da155"/>
<rect x="1124" y="334" width="9" height="9" fill="#30a356"/>
<rect x="1132" y="334" width="9" height="9" fill="#33a456"/>
<rect x="1140" y="334" width="9" height="9" fill="#33a456"/>
<rect x="1148" y="334" width="9" height="9" fill="#36a657"/>
<rect x="1156" y="334" width="9" height="9" fill="#3ca959"/>
<rect x="1164" y="334" width="9" height="9" fill="#4bb05c"/>
<rect x="1172" y="334" width="9" height="9" fill="#63bc62"/>
<rect x="1180" y="334" width="9" height="9" fill="#7fc866"/>
<rect x="1188" y="334" width="9" height="9" fill="#9dd569"/>
<rect x="1196" y="334" width="9" height="9" fill="#b7e075"/>
<rect x="1204" y="334" width="9" height="9" fill="#cbe982"/>
<rect x="1212" y="334" width="9" height="9" fill="#e0f295"/>
<rect x="1220" y="334" width="9" height="9" fill="#f2faae"/>
<rect x="1228" y="334" width="9" height="9" fill="#fffcba"/>
<rect x="1236" y="334" width="9" height="9" fill="#fff2aa"/>
<rect x="1244" y="334" width="9" height="9" fill="#feec9f"/>
<rect x="1252" y="334" width="9" height="9" fill="#feea9b"/>
<rect x="1260" y="334" width="9" height="9" fill="#fee999"/>
<rect x="1268" y="334" width="9" height="9" fill="#fee999"/>
<rect x="1276" y="334" width="9" height="9" fill="#fee999"/>
<rect x="1284" y="334" width="9" height="9" fill="#fee999"/>
<rect x="1292" y="334" width="9" height="9" fill="#fee797"/>
<rect x="1300" y="334" width="9" height="9" fill="#fee797"/>
<rect x="1308" y="334" width="9" height="9" fill="#fee695"/>
<rect x="1316" y="334" width="9" height="9" fill="#fee695"/>
<rect x="1324" y="334" width="9" height="9" fill="#fee593"/>
<rect x="1332" y="334" width="9" height="9" fill="#fee593"/>
<rect x="1340" y="334" width="9" height="9" fill="#fee593"/>
<rect x="1348" y="334" width="9" height="9" fill="#fee593"/>
<rect x="1356" y="334" width="9" height="9" fill="#fee593"/>
<rect x="1364" y="334" width="9" height="9" fill="#fee593"/>
<rect x="1372" y="334" width="9" height="9" fill="#fee491"/>
<rect x="1380" y="334" width="9" height="9" fill="#fee491"/>
<rect x="1388" y="334" width="9" height="9" fill="#fee491"/>
<rect x="1396" y="334" width="9" height="9" fill="#fee28f"/>
<rect x="1404" y="334" width="9" height="9" fill="#fee28f"/>
<rect x="1412" y="334" width="9" height="9" fill="#fee18d"/>
<rect x="1420" y="334" width="9" height="9" fill="#fee18d"/>
<rect x="1428" y="334" width="9" height="9" fill="#fee18d"/>
<rect x="1436" y="334" width="9" height="9" fill="#fee18d"/>
<rect x="1036" y="342" width="9" height="9" fill="#2aa054"/>
<rect x="1044" y="342" width="9" height="9" fill="#2aa054"/>
<rect x="1052" y="342" width="9" height="9" fill="#2aa054"/>
<rect x="1060" y="342" width="9" height="9" fill="#279f53"/>
<rect x="1068" y="342" width="9" height="9" fill="#219c52"/>
<rect x="1076" y="342" width="9" height="9" fill="#1b9950"/>
<rect x="1084" y="342" width="9" height="9" fill="#17934e"/>
<rect x="1092" y="342" width="9" height="9" fill="#15904c"/>
<rect x="1100" y="342" width="9" height="9" fill="#148e4b"/>
<rect x="1108" y="342" width="9" height="9" fill="#138c4a"/>
<rect x="1116" y="342" width="9" height="9" fill="#138c4a"/>
<rect x="1124" y="342" width="9" height="9" fill="#138c4a"/>
<rect x="1132" y="342" width="9" height="9" fill="#138c4a"/>
<rect x="1140" y="342" width="9" height="9" fill="#138c4a"/>
<rect x="1148" y="342" width="9" height="9" fill="#148e4b"/>
<rect x="1156" y="342" width="9" height="9" fill="#15904c"/>
<rect x="1164" y="342" width="9" height="9" fill="#199750"/>
<rect x="1172" y="342" width="9" height="9" fill="#2da155"/>
<rect x="1180" y="342" width="9" height="9" fill="#4eb15d"/>
<rect x="1188" y="342" width="9" height="9" fill="#6ec064"/>
<rect x="1196" y="342" width="9" height="9" fill="#89cc67"/>
<rect x="1204" y="342" width="9" height="9" fill="#a5d86a"/>
<rect x="1212" y="342" width="9" height="9" fill="#bbe278"/>
<rect x="1220" y="342" width="9" height="9" fill="#d5ed88"/>
<rect x="1228" y="342" width="9" height="9" fill="#e6f59d"/>
<rect x="1236" y="342" width="9" height="9" fill="#f2faae"/>
<rect x="1244" y="342" width="9" height="9" fill="#f8fcb6"/>
<rect x="1252" y="342" width="9" height="9" fill="#fbfdba"/>
<rect x="1260" y="342" width="9" height="9" fill="#fdfebc"/>
<rect x="1268" y="342" width="9" height="9" fill="#fdfebc"/>
<rect x="1276" y="342" width="9" height="9" fill="#fdfebc"/>
<rect x="1284" y="342" width="9" height="9" fill="#fdfebc"/>
<rect x="1292" y="342" width="9" height="9" fill="#fdfebc"/>
<rect x="1300" y="342" width="9" height="9" fill="#feffbe"/>
<rect x="1308" y="342" width="9" height="9" fill="#feffbe"/>
<rect x="1316" y="342" width="9" height="9" fill="#feffbe"/>
<rect x="1324" y="342" width="9" height="9" fill="#feffbe"/>
<rect x="1332" y="342" width="9" height="9" fill="#feffbe"/>
<rect x="1340" y="342" width="9" height="9" fill="#feffbe"/>
<rect x="1348" y="342" width="9" height="9" fill="#feffbe"/>
<rect x="1356" y="342" width="9" height="9" fill="#feffbe"/>
<rect x="1364" y="342" width="9" height="9" fill="#feffbe"/>
<rect x="1372" y="342" width="9" height="9" fill="#fffebe"/>
<rect x="1380" y="342" width="9" height="9" fill="#fffebe"/>
<rect x="1388" y="342" width="9" height="9" fill="#fffebe"/>
<rect x="1396" y="342" width="9" height="9" fill="#fffebe"/>
<rect x="1404" y="342" width="9" height="9" fill="#fffebe"/>
<rect x="1412" y="342" width="9" height="9" fill="#fffdbc"/>
<rect x="1420" y="342" width="9" height="9" fill="#fffdbc"/>
<rect x="1428" y="342" width="9" height="9" fill="#fffdbc"/>
<rect x="1436" y="342" width="9" height="9" fill="#fffdbc"/>
<rect x="1036" y="350" width="9" height="9" fill="#279f53"/>
<rect x="1044" y="350" width="9" height="9" fill="#279f53"/>
<rect x="1052" y="350" width="9" height="9" fill="#279f53"/>
<rect x="1060" y="350" width="9" height="9" fill="#249d53"/>
<rect x="1068" y="350" width="9" height="9" fill="#1b9950"/>
<rect x="1076" y="350" width="9" height="9" fill="#17934e"/>
<rect x="1084" y="350" width="9" height="9" fill="#148e4b"/>
<rect x="1092" y="350" width="9" height="9" fill="#118848"/>
<rect x="1100" y="350" width="9" height="9" fill="#0f8446"/>
<rect x="1108" y="350" width="9" height="9" fill="#0d8044"/>
<rect x="1116" y="350" width="9" height="9" fill="#0d8044"/>
<rect x="1124" y="350" width="9" height="9" fill="#0c7f43"/>
<rect x="1132" y="350" width="9" height="9" fill="#0c7f43"/>
<rect x="1140" y="350" width="9" height="9" fill="#0c7f43"/>
<rect x="1148" y="350" width="9" height="9" fill="#0d8044"/>
<rect x="1156" y="350" width="9" height="9" fill="#0e8245"/>
<rect x="1164" y="350" width="9" height="9" fill="#128a49"/>
<rect x="1172" y="350" width="9" height="9" fill="#199750"/>
<rect x="1180" y="350" width="9" height="9" fill="#33a456"/>
<rect x="1188" y="350" width="9" height="9" fill="#54b45f"/>
<rect x="1196" y="350" width="9" height="9" fill="#70c164"/>
<rect x="1204" y="350" width="9" height="9" fill="#8ccd67"/>
<rect x="1212" y="350" width="9" height="9" fill="#a9da6c"/>
<rect x="1220" y="350" width="9" height="9" fill="#c1e57b"/>
<rect x="1228" y="350" width="9" height="9" fill="#d9ef8b"/>
<rect x="1236" y="350" width="9" height="9" fill="#e3f399"/>
<rect x="1244" y="350" width="9" height="9" fill="#e9f6a1"/>
<rect x="1252" y="350" width="9" height="9" fill="#ebf7a3"/>
<rect x="1260" y="350" width="9" height="9" fill="#ecf7a6"/>
<rect x="1268" y="350" width="9" height="9" fill="#ecf7a6"/>
<rect x="1276" y="350" width="9" height="9" fill="#ecf7a6"/>
<rect x="1284" y="350" width="9" height="9" fill="#ecf7a6"/>
<rect x="1292" y="350" width="9" height="9" fill="#ecf7a6"/>
<rect x="1300" y="350" width="9" height="9" fill="#ecf7a6"/>
<rect x="1308" y="350" width="9" height="9" fill="#ecf7a6"/>
<rect x="1316" y="350" width="9" height="9" fill="#ecf7a6"/>
<rect x="1324" y="350" width="9" height="9" fill="#ecf7a6"/>
<rect x="1332" y="350" width="9" height="9" fill="#ecf7a6"/>
<rect x="1340" y="350" width="9" height="9" fill="#ecf7a6"/>
<rect x="1348" y="350" width="9" height="9" fill="#ecf7a6"/>
<rect x="1356" y="350" width="9" height="9" fill="#ecf7a6"/>
<rect x="1364" y="350" width="9" height="9" fill="#ecf7a6"/>
<rect x="1372" y="350" width="9" height="9" fill="#ecf7a6"/>
<rect x="1380" y="350" width="9" height="9" fill="#ecf7a6"/>
<rect x="1388" y="350" width="9" height="9" fill="#ecf7a6"/>
<rect x="1396" y="350" width="9" height="9" fill="#ecf7a6"/>
<rect x="1404" y="350" width="9" height="9" fill="#ecf7a6"/>
<rect x="1412" y="350" width="9" height="9" fill="#ecf7a6"/>
<rect x="1420" y="350" width="9" height="9" fill="#ecf7a6"/>
<rect x="1428" y="350" width="9" height="9" fill="#ecf7a6"/>
<rect x="1436" y="350" width="9" height="9" fill="#ecf7a6"/>
<rect x="1036" y="358" width="9" height="9" fill="#279f53"/>
<rect x="1044" y="358" width="9" height="9" fill="#279f53"/>
<rect x="1052" y="358" width="9" height="9" fill="#279f53"/>
<rect x="1060" y="358" width="9" height="9" fill="#249d53"/>
<rect x="1068" y="358" width="9" height="9" fill="#1b9950"/>
<rect x="1076" y="358" width="9" height="9" fill="#17934e"/>
<rect x="1084" y="358" width="9" height="9" fill="#148e4b"/>
<rect x="1092" y="358" width="9" height="9" fill="#118848"/>
<rect x="1100" y="358" width="9" height="9" fill="#0f8446"/>
<rect x="1108" y="358" width="9" height="9" fill="#0d8044"/>
<rect x="1116" y="358" width="9" height="9" fill="#0d8044"/>
<rect x="1124" y="358" width="9" height="9" fill="#0c7f43"/>
<rect x="1132" y="358" width="9" height="9" fill="#0c7f43"/>
<rect x="1140" y="358" width="9" height="9" fill="#0c7f43"/>
<rect x="1148" y="358" width="9" height="9" fill="#0d8044"/>
<rect x="1156" y="358" width="9" height="9" fill="#0e8245"/>
<rect x="1164" y="358" width="9" height="9" fill="#128a49"/>
<rect x="1172" y="358" width="9" height="9" fill="#199750"/>
<rect x="1180" y="358" width="9" height="9" fill="#33a456"/>
<rect x="1188" y="358" width="9" height="9" fill="#54b45f"/>
<rect x="1196" y="358" width="9" height="9" fill="#70c164"/>
<rect x="1204" y="358" width="9" height="9" fill="#8ccd67"/>
<rect x="1212" y="358" width="9" height="9" fill="#a9da6c"/>
<rect x="1220" y="358" width="9" height="9" fill="#c1e57b"/>
<rect x="1228" y="358" width="9" height="9" fill="#d9ef8b"/>
<rect x="1236" y="358" width="9" height="9" fill="#e3f399"/>
<rect x="1244" y="358" width="9" height="9" fill="#e9f6a1"/>
<rect x="1252" y="358" width="9" height="9" fill="#ebf7a3"/>
<rect x="1260" y="358" width="9" height="9" fill="#ecf7a6"/>
<rect x="1268" y="358" width="9" height="9" fill="#ecf7a6"/>
<rect x="1276" y="358" width="9" height="9" fill="#ecf7a6"/>
<rect x="1284" y="358" width="9" height="9" fill="#ecf7a6"/>
<rect x="1292" y="358" width="9" height="9" fill="#ecf7a6"/>
<rect x="1300" y="358" width="9" height="9" fill="#ecf7a6"/>
<rect x="1308" y="358" width="9" height="9" fill="#ecf7a6"/>
<rect x="1316" y="358" width="9" height="9" fill="#ecf7a6"/>
<rect x="1324" y="358" width="9" height="9" fill="#ecf7a6"/>
<rect x="1332" y="358" width="9" height="9" fill="#ecf7a6"/>
<rect x="1340" y="358" width="9" height="9" fill="#ecf7a6"/>
<rect x="1348" y="358" width="9" height="9" fill="#ecf7a6"/>
<rect x="1356" y="358" width="9" height="9" fill="#ecf7a6"/>
<rect x="1364" y="358" width="9" height="9" fill="#ecf7a6"/>
<rect x="1372" y="358" width="9" height="9" fill="#ecf7a6"/>
<rect x="1380" y="358" width="9" height="9" fill="#ecf7a6"/>
<rect x="1388" y="358" width="9" height="9" fill="#ecf7a6"/>
<rect x="1396" y="358" width="9" height="9" fill="#ecf7a6"/>
<rect x="1404" y="358" width="9" height="9" fill="#ecf7a6"/>
<rect x="1412" y="358" width="9" height="9" fill="#ecf7a6"/>
<rect x="1420" y="358" width="9" height="9" fill="#ecf7a6"/>
<rect x="1428" y="358" width="9" height="9" fill="#ecf7a6"/>
<rect x="1436" y="358" width="9" height="9" fill="#ecf7a6"/>
<rect x="1036" y="366" width="9" height="9" fill="#279f53"/>
<rect x="1044" y="366" width="9" height="9" fill="#279f53"/>
<rect x="1052" y="366" width="9" height="9" fill="#279f53"/>
<rect x="1060" y="366" width="9" height="9" fill="#249d53"/>
<rect x="1068" y="366" width="9" height="9" fill="#1b9950"/>
<rect x="1076" y="366" width="9" height="9" fill="#17934e"/>
<rect x="1084" y="366" width="9" height="9" fill="#148e4b"/>
<rect x="1092" y="366" width="9" height="9" fill="#118848"/>
<rect x="1100" y="366" width="9" height="9" fill="#0f8446"/>
<rect x="1108" y="366" width="9" height="9" fill="#0d8044"/>
<rect x="1116" y="366" width="9" height="9" fill="#0d8044"/>
<rect x="1124" y="366" width="9" height="9" fill="#0c7f43"/>
<rect x="1132" y="366" width="9" height="9" fill="#0c7f43"/>
<rect x="1140" y="366" width="9" height="9" fill="#0c7f43"/>
<rect x="1148" y="366" width="9" height="9" fill="#0d8044"/>
<rect x="1156" y="366" width="9" height="9" fill="#0e8245"/>
<rect x="1164" y="366" width="9" height="9" fill="#128a49"/>
<rect x="1172" y="366" width="9" height="9" fill="#199750"/>
<rect x="1180" y="366" width="9" height="9" fill="#33a456"/>
<rect x="1188" y="366" width="9" height="9" fill="#54b45f"/>
<rect x="1196" y="366" width="9" height="9" fill="#70c164"/>
<rect x="1204" y="366" width="9" height="9" fill="#8ccd67"/>
<rect x="1212" y="366" width="9" height="9" fill="#a9da6c"/>
<rect x="1220" y="366" width="9" height="9" fill="#c1e57b"/>
<rect x="1228" y="366" width="9" height="9" fill="#d9ef8b"/>
<rect x="1236" y="366" width="9" height="9" fill="#e3f399"/>
<rect x="1244" y="366" width="9" height="9" fill="#e9f6a1"/>
<rect x="1252" y="366" width="9" height="9" fill="#ebf7a3"/>
<rect x="1260" y="366" width="9" height="9" fill="#ecf7a6"/>
<rect x="1268" y="366" width="9" height="9" fill="#ecf7a6"/>
<rect x="1276" y="366" width="9" height="9" fill="#ecf7a6"/>
<rect x="1284" y="366" width="9" height="9" fill="#ecf7a6"/>
<rect x="1292" y="366" width="9" height="9" fill="#ecf7a6"/>
<rect x="1300" y="366" width="9" height="9" fill="#ecf7a6"/>
<rect x="1308" y="366" width="9" height="9" fill="#ecf7a6"/>
<rect x="1316" y="366" width="9" height="9" fill="#ecf7a6"/>
<rect x="1324" y="366" width="9" height="9" fill="#ecf7a6"/>
<rect x="1332" y="366" width="9" height="9" fill="#ecf7a6"/>
<rect x="1340" y="366" width="9" height="9" fill="#ecf7a6"/>
<rect x="1348" y="366" width="9" height="9" fill="#ecf7a6"/>
<rect x="1356" y="366" width="9" height="9" fill="#ecf7a6"/>
<rect x="1364" y="366" width="9" height="9" fill="#ecf7a6"/>
<rect x="1372" y="366" width="9" height="9" fill="#ecf7a6"/>
<rect x="1380" y="366" width="9" height="9" fill="#ecf7a6"/>
<rect x="1388" y="366" width="9" height="9" fill="#ecf7a6"/>
<rect x="1396" y="366" width="9" height="9" fill="#ecf7a6"/>
<rect x="1404" y="366" width="9" height="9" fill="#ecf7a6"/>
<rect x="1412" y="366" width="9" height="9" fill="#ecf7a6"/>
<rect x="1420" y="366" width="9" height="9" fill="#ecf7a6"/>
<rect x="1428" y="366" width="9" height="9" fill="#ecf7a6"/>
<rect x="1436" y="366" width="9" height="9" fill="#ecf7a6"/></g></g>
<g clip-path="url(#cpb)"><g filter="url(#bl)"><rect x="1036" y="356" width="9" height="9" fill="#4b2d2d"/>
<rect x="1044" y="356" width="9" height="9" fill="#4b2d2d"/>
<rect x="1052" y="356" width="9" height="9" fill="#4b2d2d"/>
<rect x="1060" y="356" width="9" height="9" fill="#4d2f2f"/>
<rect x="1068" y="356" width="9" height="9" fill="#4d2f2f"/>
<rect x="1076" y="356" width="9" height="9" fill="#503131"/>
<rect x="1084" y="356" width="9" height="9" fill="#553434"/>
<rect x="1092" y="356" width="9" height="9" fill="#593737"/>
<rect x="1100" y="356" width="9" height="9" fill="#5e3a3a"/>
<rect x="1108" y="356" width="9" height="9" fill="#603c3c"/>
<rect x="1116" y="356" width="9" height="9" fill="#623d3d"/>
<rect x="1124" y="356" width="9" height="9" fill="#643e3e"/>
<rect x="1132" y="356" width="9" height="9" fill="#643e3e"/>
<rect x="1140" y="356" width="9" height="9" fill="#664040"/>
<rect x="1148" y="356" width="9" height="9" fill="#694242"/>
<rect x="1156" y="356" width="9" height="9" fill="#6d4545"/>
<rect x="1164" y="356" width="9" height="9" fill="#714747"/>
<rect x="1172" y="356" width="9" height="9" fill="#744a4a"/>
<rect x="1180" y="356" width="9" height="9" fill="#774c4c"/>
<rect x="1188" y="356" width="9" height="9" fill="#7e5050"/>
<rect x="1196" y="356" width="9" height="9" fill="#845454"/>
<rect x="1204" y="356" width="9" height="9" fill="#8d5a5a"/>
<rect x="1212" y="356" width="9" height="9" fill="#915d5d"/>
<rect x="1220" y="356" width="9" height="9" fill="#8f5c5c"/>
<rect x="1228" y="356" width="9" height="9" fill="#935f5f"/>
<rect x="1236" y="356" width="9" height="9" fill="#ad7070"/>
<rect x="1244" y="356" width="9" height="9" fill="#cb9c8c"/>
<rect x="1252" y="356" width="9" height="9" fill="#dcc9a3"/>
<rect x="1260" y="356" width="9" height="9" fill="#e4ddad"/>
<rect x="1268" y="356" width="9" height="9" fill="#e5e0af"/>
<rect x="1276" y="356" width="9" height="9" fill="#e4dfae"/>
<rect x="1284" y="356" width="9" height="9" fill="#e4dfae"/>
<rect x="1292" y="356" width="9" height="9" fill="#e5e0af"/>
<rect x="1300" y="356" width="9" height="9" fill="#e6e3b1"/>
<rect x="1308" y="356" width="9" height="9" fill="#e7e6b2"/>
<rect x="1316" y="356" width="9" height="9" fill="#e8e8b4"/>
<rect x="1324" y="356" width="9" height="9" fill="#e9e9b6"/>
<rect x="1332" y="356" width="9" height="9" fill="#e9e9b6"/>
<rect x="1340" y="356" width="9" height="9" fill="#e9e9b6"/>
<rect x="1348" y="356" width="9" height="9" fill="#e9e9b6"/>
<rect x="1356" y="356" width="9" height="9" fill="#e9e9b6"/>
<rect x="1364" y="356" width="9" height="9" fill="#e9e9b6"/>
<rect x="1372" y="356" width="9" height="9" fill="#e8e8b4"/>
<rect x="1380" y="356" width="9" height="9" fill="#e8e7b3"/>
<rect x="1388" y="356" width="9" height="9" fill="#e7e5b2"/>
<rect x="1396" y="356" width="9" height="9" fill="#e6e4b1"/>
<rect x="1404" y="356" width="9" height="9" fill="#e6e3b1"/>
<rect x="1412" y="356" width="9" height="9" fill="#e6e3b1"/>
<rect x="1420" y="356" width="9" height="9" fill="#e6e3b1"/>
<rect x="1428" y="356" width="9" height="9" fill="#e6e3b1"/>
<rect x="1436" y="356" width="9" height="9" fill="#e6e3b1"/>
<rect x="1036" y="364" width="9" height="9" fill="#4b2d2d"/>
<rect x="1044" y="364" width="9" height="9" fill="#4b2d2d"/>
<rect x="1052" y="364" width="9" height="9" fill="#4b2d2d"/>
<rect x="1060" y="364" width="9" height="9" fill="#4d2f2f"/>
<rect x="1068" y="364" width="9" height="9" fill="#4d2f2f"/>
<rect x="1076" y="364" width="9" height="9" fill="#503131"/>
<rect x="1084" y="364" width="9" height="9" fill="#553434"/>
<rect x="1092" y="364" width="9" height="9" fill="#593737"/>
<rect x="1100" y="364" width="9" height="9" fill="#5e3a3a"/>
<rect x="1108" y="364" width="9" height="9" fill="#603c3c"/>
<rect x="1116" y="364" width="9" height="9" fill="#623d3d"/>
<rect x="1124" y="364" width="9" height="9" fill="#643e3e"/>
<rect x="1132" y="364" width="9" height="9" fill="#643e3e"/>
<rect x="1140" y="364" width="9" height="9" fill="#664040"/>
<rect x="1148" y="364" width="9" height="9" fill="#694242"/>
<rect x="1156" y="364" width="9" height="9" fill="#6d4545"/>
<rect x="1164" y="364" width="9" height="9" fill="#714747"/>
<rect x="1172" y="364" width="9" height="9" fill="#744a4a"/>
<rect x="1180" y="364" width="9" height="9" fill="#774c4c"/>
<rect x="1188" y="364" width="9" height="9" fill="#7e5050"/>
<rect x="1196" y="364" width="9" height="9" fill="#845454"/>
<rect x="1204" y="364" width="9" height="9" fill="#8d5a5a"/>
<rect x="1212" y="364" width="9" height="9" fill="#915d5d"/>
<rect x="1220" y="364" width="9" height="9" fill="#8f5c5c"/>
<rect x="1228" y="364" width="9" height="9" fill="#935f5f"/>
<rect x="1236" y="364" width="9" height="9" fill="#ad7070"/>
<rect x="1244" y="364" width="9" height="9" fill="#cb9c8c"/>
<rect x="1252" y="364" width="9" height="9" fill="#dcc9a3"/>
<rect x="1260" y="364" width="9" height="9" fill="#e4ddad"/>
<rect x="1268" y="364" width="9" height="9" fill="#e5e0af"/>
<rect x="1276" y="364" width="9" height="9" fill="#e4dfae"/>
<rect x="1284" y="364" width="9" height="9" fill="#e4dfae"/>
<rect x="1292" y="364" width="9" height="9" fill="#e5e0af"/>
<rect x="1300" y="364" width="9" height="9" fill="#e6e3b1"/>
<rect x="1308" y="364" width="9" height="9" fill="#e7e6b2"/>
<rect x="1316" y="364" width="9" height="9" fill="#e8e8b4"/>
<rect x="1324" y="364" width="9" height="9" fill="#e9e9b6"/>
<rect x="1332" y="364" width="9" height="9" fill="#e9e9b6"/>
<rect x="1340" y="364" width="9" height="9" fill="#e9e9b6"/>
<rect x="1348" y="364" width="9" height="9" fill="#e9e9b6"/>
<rect x="1356" y="364" width="9" height="9" fill="#e9e9b6"/>
<rect x="1364" y="364" width="9" height="9" fill="#e9e9b6"/>
<rect x="1372" y="364" width="9" height="9" fill="#e8e8b4"/>
<rect x="1380" y="364" width="9" height="9" fill="#e8e7b3"/>
<rect x="1388" y="364" width="9" height="9" fill="#e7e5b2"/>
<rect x="1396" y="364" width="9" height="9" fill="#e6e4b1"/>
<rect x="1404" y="364" width="9" height="9" fill="#e6e3b1"/>
<rect x="1412" y="364" width="9" height="9" fill="#e6e3b1"/>
<rect x="1420" y="364" width="9" height="9" fill="#e6e3b1"/>
<rect x="1428" y="364" width="9" height="9" fill="#e6e3b1"/>
<rect x="1436" y="364" width="9" height="9" fill="#e6e3b1"/>
<rect x="1036" y="372" width="9" height="9" fill="#4b2d2d"/>
<rect x="1044" y="372" width="9" height="9" fill="#4b2d2d"/>
<rect x="1052" y="372" width="9" height="9" fill="#4b2d2d"/>
<rect x="1060" y="372" width="9" height="9" fill="#4d2f2f"/>
<rect x="1068" y="372" width="9" height="9" fill="#4d2f2f"/>
<rect x="1076" y="372" width="9" height="9" fill="#503131"/>
<rect x="1084" y="372" width="9" height="9" fill="#553434"/>
<rect x="1092" y="372" width="9" height="9" fill="#593737"/>
<rect x="1100" y="372" width="9" height="9" fill="#5e3a3a"/>
<rect x="1108" y="372" width="9" height="9" fill="#603c3c"/>
<rect x="1116" y="372" width="9" height="9" fill="#623d3d"/>
<rect x="1124" y="372" width="9" height="9" fill="#643e3e"/>
<rect x="1132" y="372" width="9" height="9" fill="#643e3e"/>
<rect x="1140" y="372" width="9" height="9" fill="#664040"/>
<rect x="1148" y="372" width="9" height="9" fill="#694242"/>
<rect x="1156" y="372" width="9" height="9" fill="#6d4545"/>
<rect x="1164" y="372" width="9" height="9" fill="#714747"/>
<rect x="1172" y="372" width="9" height="9" fill="#744a4a"/>
<rect x="1180" y="372" width="9" height="9" fill="#774c4c"/>
<rect x="1188" y="372" width="9" height="9" fill="#7e5050"/>
<rect x="1196" y="372" width="9" height="9" fill="#845454"/>
<rect x="1204" y="372" width="9" height="9" fill="#8d5a5a"/>
<rect x="1212" y="372" width="9" height="9" fill="#915d5d"/>
<rect x="1220" y="372" width="9" height="9" fill="#8f5c5c"/>
<rect x="1228" y="372" width="9" height="9" fill="#935f5f"/>
<rect x="1236" y="372" width="9" height="9" fill="#ad7070"/>
<rect x="1244" y="372" width="9" height="9" fill="#cb9c8c"/>
<rect x="1252" y="372" width="9" height="9" fill="#dcc9a3"/>
<rect x="1260" y="372" width="9" height="9" fill="#e4ddad"/>
<rect x="1268" y="372" width="9" height="9" fill="#e5e0af"/>
<rect x="1276" y="372" width="9" height="9" fill="#e4dfae"/>
<rect x="1284" y="372" width="9" height="9" fill="#e4dfae"/>
<rect x="1292" y="372" width="9" height="9" fill="#e5e0af"/>
<rect x="1300" y="372" width="9" height="9" fill="#e6e3b1"/>
<rect x="1308" y="372" width="9" height="9" fill="#e7e6b2"/>
<rect x="1316" y="372" width="9" height="9" fill="#e8e8b4"/>
<rect x="1324" y="372" width="9" height="9" fill="#e9e9b6"/>
<rect x="1332" y="372" width="9" height="9" fill="#e9e9b6"/>
<rect x="1340" y="372" width="9" height="9" fill="#e9e9b6"/>
<rect x="1348" y="372" width="9" height="9" fill="#e9e9b6"/>
<rect x="1356" y="372" width="9" height="9" fill="#e9e9b6"/>
<rect x="1364" y="372" width="9" height="9" fill="#e9e9b6"/>
<rect x="1372" y="372" width="9" height="9" fill="#e8e8b4"/>
<rect x="1380" y="372" width="9" height="9" fill="#e8e7b3"/>
<rect x="1388" y="372" width="9" height="9" fill="#e7e5b2"/>
<rect x="1396" y="372" width="9" height="9" fill="#e6e4b1"/>
<rect x="1404" y="372" width="9" height="9" fill="#e6e3b1"/>
<rect x="1412" y="372" width="9" height="9" fill="#e6e3b1"/>
<rect x="1420" y="372" width="9" height="9" fill="#e6e3b1"/>
<rect x="1428" y="372" width="9" height="9" fill="#e6e3b1"/>
<rect x="1436" y="372" width="9" height="9" fill="#e6e3b1"/>
<rect x="1036" y="380" width="9" height="9" fill="#4b2d2d"/>
<rect x="1044" y="380" width="9" height="9" fill="#4b2d2d"/>
<rect x="1052" y="380" width="9" height="9" fill="#4b2d2d"/>
<rect x="1060" y="380" width="9" height="9" fill="#4b2d2d"/>
<rect x="1068" y="380" width="9" height="9" fill="#4d2f2f"/>
<rect x="1076" y="380" width="9" height="9" fill="#503131"/>
<rect x="1084" y="380" width="9" height="9" fill="#553434"/>
<rect x="1092" y="380" width="9" height="9" fill="#593737"/>
<rect x="1100" y="380" width="9" height="9" fill="#5e3a3a"/>
<rect x="1108" y="380" width="9" height="9" fill="#603c3c"/>
<rect x="1116" y="380" width="9" height="9" fill="#623d3d"/>
<rect x="1124" y="380" width="9" height="9" fill="#643e3e"/>
<rect x="1132" y="380" width="9" height="9" fill="#664040"/>
<rect x="1140" y="380" width="9" height="9" fill="#684141"/>
<rect x="1148" y="380" width="9" height="9" fill="#694242"/>
<rect x="1156" y="380" width="9" height="9" fill="#6b4444"/>
<rect x="1164" y="380" width="9" height="9" fill="#6f4646"/>
<rect x="1172" y="380" width="9" height="9" fill="#714747"/>
<rect x="1180" y="380" width="9" height="9" fill="#714747"/>
<rect x="1188" y="380" width="9" height="9" fill="#744a4a"/>
<rect x="1196" y="380" width="9" height="9" fill="#7c4f4f"/>
<rect x="1204" y="380" width="9" height="9" fill="#855555"/>
<rect x="1212" y="380" width="9" height="9" fill="#8e5b5b"/>
<rect x="1220" y="380" width="9" height="9" fill="#935f5f"/>
<rect x="1228" y="380" width="9" height="9" fill="#9c6565"/>
<rect x="1236" y="380" width="9" height="9" fill="#b87777"/>
<rect x="1244" y="380" width="9" height="9" fill="#cfa892"/>
<rect x="1252" y="380" width="9" height="9" fill="#dfd2a7"/>
<rect x="1260" y="380" width="9" height="9" fill="#e7e6b2"/>
<rect x="1268" y="380" width="9" height="9" fill="#e9e9b6"/>
<rect x="1276" y="380" width="9" height="9" fill="#e9e9b6"/>
<rect x="1284" y="380" width="9" height="9" fill="#e9e9b6"/>
<rect x="1292" y="380" width="9" height="9" fill="#e9e9b8"/>
<rect x="1300" y="380" width="9" height="9" fill="#eaeab9"/>
<rect x="1308" y="380" width="9" height="9" fill="#ebebbc"/>
<rect x="1316" y="380" width="9" height="9" fill="#ebebbd"/>
<rect x="1324" y="380" width="9" height="9" fill="#ebebbe"/>
<rect x="1332" y="380" width="9" height="9" fill="#ebebbd"/>
<rect x="1340" y="380" width="9" height="9" fill="#ebebbd"/>
<rect x="1348" y="380" width="9" height="9" fill="#ebebbc"/>
<rect x="1356" y="380" width="9" height="9" fill="#ebebbc"/>
<rect x="1364" y="380" width="9" height="9" fill="#eaeaba"/>
<rect x="1372" y="380" width="9" height="9" fill="#e9e9b8"/>
<rect x="1380" y="380" width="9" height="9" fill="#e9e9b5"/>
<rect x="1388" y="380" width="9" height="9" fill="#e8e7b3"/>
<rect x="1396" y="380" width="9" height="9" fill="#e8e7b3"/>
<rect x="1404" y="380" width="9" height="9" fill="#e7e6b2"/>
<rect x="1412" y="380" width="9" height="9" fill="#e7e6b2"/>
<rect x="1420" y="380" width="9" height="9" fill="#e7e6b2"/>
<rect x="1428" y="380" width="9" height="9" fill="#e7e6b2"/>
<rect x="1436" y="380" width="9" height="9" fill="#e7e6b2"/>
<rect x="1036" y="388" width="9" height="9" fill="#4b2d2d"/>
<rect x="1044" y="388" width="9" height="9" fill="#4b2d2d"/>
<rect x="1052" y="388" width="9" height="9" fill="#4b2d2d"/>
<rect x="1060" y="388" width="9" height="9" fill="#4b2d2d"/>
<rect x="1068" y="388" width="9" height="9" fill="#4d2f2f"/>
<rect x="1076" y="388" width="9" height="9" fill="#503131"/>
<rect x="1084" y="388" width="9" height="9" fill="#553434"/>
<rect x="1092" y="388" width="9" height="9" fill="#593737"/>
<rect x="1100" y="388" width="9" height="9" fill="#5e3a3a"/>
<rect x="1108" y="388" width="9" height="9" fill="#603c3c"/>
<rect x="1116" y="388" width="9" height="9" fill="#623d3d"/>
<rect x="1124" y="388" width="9" height="9" fill="#643e3e"/>
<rect x="1132" y="388" width="9" height="9" fill="#664040"/>
<rect x="1140" y="388" width="9" height="9" fill="#684141"/>
<rect x="1148" y="388" width="9" height="9" fill="#694242"/>
<rect x="1156" y="388" width="9" height="9" fill="#6b4444"/>
<rect x="1164" y="388" width="9" height="9" fill="#6d4545"/>
<rect x="1172" y="388" width="9" height="9" fill="#6b4444"/>
<rect x="1180" y="388" width="9" height="9" fill="#684141"/>
<rect x="1188" y="388" width="9" height="9" fill="#684141"/>
<rect x="1196" y="388" width="9" height="9" fill="#714747"/>
<rect x="1204" y="388" width="9" height="9" fill="#7f5151"/>
<rect x="1212" y="388" width="9" height="9" fill="#8e5b5b"/>
<rect x="1220" y="388" width="9" height="9" fill="#9f6767"/>
<rect x="1228" y="388" width="9" height="9" fill="#b27373"/>
<rect x="1236" y="388" width="9" height="9" fill="#c79186"/>
<rect x="1244" y="388" width="9" height="9" fill="#d7be9d"/>
<rect x="1252" y="388" width="9" height="9" fill="#e5e1b0"/>
<rect x="1260" y="388" width="9" height="9" fill="#ededc6"/>
<rect x="1268" y="388" width="9" height="9" fill="#f0f0cf"/>
<rect x="1276" y="388" width="9" height="9" fill="#f1f1d1"/>
<rect x="1284" y="388" width="9" height="9" fill="#f1f1d1"/>
<rect x="1292" y="388" width="9" height="9" fill="#f0f0d0"/>
<rect x="1300" y="388" width="9" height="9" fill="#f0f0ce"/>
<rect x="1308" y="388" width="9" height="9" fill="#efefcc"/>
<rect x="1316" y="388" width="9" height="9" fill="#efefcb"/>
<rect x="1324" y="388" width="9" height="9" fill="#eeeeca"/>
<rect x="1332" y="388" width="9" height="9" fill="#eeeec9"/>
<rect x="1340" y="388" width="9" height="9" fill="#eeeec7"/>
<rect x="1348" y="388" width="9" height="9" fill="#ededc6"/>
<rect x="1356" y="388" width="9" height="9" fill="#ededc4"/>
<rect x="1364" y="388" width="9" height="9" fill="#ececc2"/>
<rect x="1372" y="388" width="9" height="9" fill="#ececc0"/>
<rect x="1380" y="388" width="9" height="9" fill="#ebebbd"/>
<rect x="1388" y="388" width="9" height="9" fill="#ebebbc"/>
<rect x="1396" y="388" width="9" height="9" fill="#eaeab9"/>
<rect x="1404" y="388" width="9" height="9" fill="#e9e9b8"/>
<rect x="1412" y="388" width="9" height="9" fill="#e9e9b8"/>
<rect x="1420" y="388" width="9" height="9" fill="#e9e9b8"/>
<rect x="1428" y="388" width="9" height="9" fill="#e9e9b8"/>
<rect x="1436" y="388" width="9" height="9" fill="#e9e9b8"/>
<rect x="1036" y="396" width="9" height="9" fill="#4b2d2d"/>
<rect x="1044" y="396" width="9" height="9" fill="#4b2d2d"/>
<rect x="1052" y="396" width="9" height="9" fill="#4b2d2d"/>
<rect x="1060" y="396" width="9" height="9" fill="#4b2d2d"/>
<rect x="1068" y="396" width="9" height="9" fill="#4d2f2f"/>
<rect x="1076" y="396" width="9" height="9" fill="#503131"/>
<rect x="1084" y="396" width="9" height="9" fill="#553434"/>
<rect x="1092" y="396" width="9" height="9" fill="#593737"/>
<rect x="1100" y="396" width="9" height="9" fill="#5e3a3a"/>
<rect x="1108" y="396" width="9" height="9" fill="#603c3c"/>
<rect x="1116" y="396" width="9" height="9" fill="#623d3d"/>
<rect x="1124" y="396" width="9" height="9" fill="#643e3e"/>
<rect x="1132" y="396" width="9" height="9" fill="#643e3e"/>
<rect x="1140" y="396" width="9" height="9" fill="#664040"/>
<rect x="1148" y="396" width="9" height="9" fill="#694242"/>
<rect x="1156" y="396" width="9" height="9" fill="#6d4545"/>
<rect x="1164" y="396" width="9" height="9" fill="#6f4646"/>
<rect x="1172" y="396" width="9" height="9" fill="#6d4545"/>
<rect x="1180" y="396" width="9" height="9" fill="#684141"/>
<rect x="1188" y="396" width="9" height="9" fill="#684141"/>
<rect x="1196" y="396" width="9" height="9" fill="#724949"/>
<rect x="1204" y="396" width="9" height="9" fill="#825353"/>
<rect x="1212" y="396" width="9" height="9" fill="#976262"/>
<rect x="1220" y="396" width="9" height="9" fill="#af7272"/>
<rect x="1228" y="396" width="9" height="9" fill="#c58a83"/>
<rect x="1236" y="396" width="9" height="9" fill="#d2af95"/>
<rect x="1244" y="396" width="9" height="9" fill="#dfd3a8"/>
<rect x="1252" y="396" width="9" height="9" fill="#ebebbe"/>
<rect x="1260" y="396" width="9" height="9" fill="#f2f2d6"/>
<rect x="1268" y="396" width="9" height="9" fill="#f5f5df"/>
<rect x="1276" y="396" width="9" height="9" fill="#f6f6e3"/>
<rect x="1284" y="396" width="9" height="9" fill="#f6f6e3"/>
<rect x="1292" y="396" width="9" height="9" fill="#f5f5df"/>
<rect x="1300" y="396" width="9" height="9" fill="#f4f4dc"/>
<rect x="1308" y="396" width="9" height="9" fill="#f2f2d7"/>
<rect x="1316" y="396" width="9" height="9" fill="#f1f1d4"/>
<rect x="1324" y="396" width="9" height="9" fill="#f1f1d1"/>
<rect x="1332" y="396" width="9" height="9" fill="#f0f0d0"/>
<rect x="1340" y="396" width="9" height="9" fill="#f0f0d0"/>
<rect x="1348" y="396" width="9" height="9" fill="#f0f0ce"/>
<rect x="1356" y="396" width="9" height="9" fill="#efefcb"/>
<rect x="1364" y="396" width="9" height="9" fill="#eeeec9"/>
<rect x="1372" y="396" width="9" height="9" fill="#ededc6"/>
<rect x="1380" y="396" width="9" height="9" fill="#ededc5"/>
<rect x="1388" y="396" width="9" height="9" fill="#ededc4"/>
<rect x="1396" y="396" width="9" height="9" fill="#ececc2"/>
<rect x="1404" y="396" width="9" height="9" fill="#ececc1"/>
<rect x="1412" y="396" width="9" height="9" fill="#ececc0"/>
<rect x="1420" y="396" width="9" height="9" fill="#ececc0"/>
<rect x="1428" y="396" width="9" height="9" fill="#ececc0"/>
<rect x="1436" y="396" width="9" height="9" fill="#ececc0"/>
<rect x="1036" y="404" width="9" height="9" fill="#4b2d2d"/>
<rect x="1044" y="404" width="9" height="9" fill="#4b2d2d"/>
<rect x="1052" y="404" width="9" height="9" fill="#4b2d2d"/>
<rect x="1060" y="404" width="9" height="9" fill="#4d2f2f"/>
<rect x="1068" y="404" width="9" height="9" fill="#4d2f2f"/>
<rect x="1076" y="404" width="9" height="9" fill="#523232"/>
<rect x="1084" y="404" width="9" height="9" fill="#553434"/>
<rect x="1092" y="404" width="9" height="9" fill="#593737"/>
<rect x="1100" y="404" width="9" height="9" fill="#5e3a3a"/>
<rect x="1108" y="404" width="9" height="9" fill="#603c3c"/>
<rect x="1116" y="404" width="9" height="9" fill="#623d3d"/>
<rect x="1124" y="404" width="9" height="9" fill="#643e3e"/>
<rect x="1132" y="404" width="9" height="9" fill="#643e3e"/>
<rect x="1140" y="404" width="9" height="9" fill="#664040"/>
<rect x="1148" y="404" width="9" height="9" fill="#694242"/>
<rect x="1156" y="404" width="9" height="9" fill="#6f4646"/>
<rect x="1164" y="404" width="9" height="9" fill="#724949"/>
<rect x="1172" y="404" width="9" height="9" fill="#724949"/>
<rect x="1180" y="404" width="9" height="9" fill="#714747"/>
<rect x="1188" y="404" width="9" height="9" fill="#744a4a"/>
<rect x="1196" y="404" width="9" height="9" fill="#7f5151"/>
<rect x="1204" y="404" width="9" height="9" fill="#915d5d"/>
<rect x="1212" y="404" width="9" height="9" fill="#a96d6d"/>
<rect x="1220" y="404" width="9" height="9" fill="#c38280"/>
<rect x="1228" y="404" width="9" height="9" fill="#d0ab93"/>
<rect x="1236" y="404" width="9" height="9" fill="#dccba4"/>
<rect x="1244" y="404" width="9" height="9" fill="#e8e7b3"/>
<rect x="1252" y="404" width="9" height="9" fill="#f1f1d1"/>
<rect x="1260" y="404" width="9" height="9" fill="#f6f6e3"/>
<rect x="1268" y="404" width="9" height="9" fill="#f8f8e9"/>
<rect x="1276" y="404" width="9" height="9" fill="#f9f9eb"/>
<rect x="1284" y="404" width="9" height="9" fill="#f8f8ea"/>
<rect x="1292" y="404" width="9" height="9" fill="#f7f7e7"/>
<rect x="1300" y="404" width="9" height="9" fill="#f6f6e3"/>
<rect x="1308" y="404" width="9" height="9" fill="#f4f4de"/>
<rect x="1316" y="404" width="9" height="9" fill="#f3f3d8"/>
<rect x="1324" y="404" width="9" height="9" fill="#f2f2d6"/>
<rect x="1332" y="404" width="9" height="9" fill="#f2f2d5"/>
<rect x="1340" y="404" width="9" height="9" fill="#f2f2d5"/>
<rect x="1348" y="404" width="9" height="9" fill="#f1f1d3"/>
<rect x="1356" y="404" width="9" height="9" fill="#f0f0d0"/>
<rect x="1364" y="404" width="9" height="9" fill="#f0f0cf"/>
<rect x="1372" y="404" width="9" height="9" fill="#efefcc"/>
<rect x="1380" y="404" width="9" height="9" fill="#efefcc"/>
<rect x="1388" y="404" width="9" height="9" fill="#efefcb"/>
<rect x="1396" y="404" width="9" height="9" fill="#eeeeca"/>
<rect x="1404" y="404" width="9" height="9" fill="#eeeec9"/>
<rect x="1412" y="404" width="9" height="9" fill="#eeeec9"/>
<rect x="1420" y="404" width="9" height="9" fill="#eeeec9"/>
<rect x="1428" y="404" width="9" height="9" fill="#eeeec9"/>
<rect x="1436" y="404" width="9" height="9" fill="#eeeec9"/>
<rect x="1036" y="412" width="9" height="9" fill="#4d2f2f"/>
<rect x="1044" y="412" width="9" height="9" fill="#4d2f2f"/>
<rect x="1052" y="412" width="9" height="9" fill="#4d2f2f"/>
<rect x="1060" y="412" width="9" height="9" fill="#4d2f2f"/>
<rect x="1068" y="412" width="9" height="9" fill="#503131"/>
<rect x="1076" y="412" width="9" height="9" fill="#523232"/>
<rect x="1084" y="412" width="9" height="9" fill="#573636"/>
<rect x="1092" y="412" width="9" height="9" fill="#5b3939"/>
<rect x="1100" y="412" width="9" height="9" fill="#5e3a3a"/>
<rect x="1108" y="412" width="9" height="9" fill="#623d3d"/>
<rect x="1116" y="412" width="9" height="9" fill="#623d3d"/>
<rect x="1124" y="412" width="9" height="9" fill="#643e3e"/>
<rect x="1132" y="412" width="9" height="9" fill="#643e3e"/>
<rect x="1140" y="412" width="9" height="9" fill="#664040"/>
<rect x="1148" y="412" width="9" height="9" fill="#694242"/>
<rect x="1156" y="412" width="9" height="9" fill="#714747"/>
<rect x="1164" y="412" width="9" height="9" fill="#774c4c"/>
<rect x="1172" y="412" width="9" height="9" fill="#7c4f4f"/>
<rect x="1180" y="412" width="9" height="9" fill="#7f5151"/>
<rect x="1188" y="412" width="9" height="9" fill="#875656"/>
<rect x="1196" y="412" width="9" height="9" fill="#956060"/>
<rect x="1204" y="412" width="9" height="9" fill="#a66c6c"/>
<rect x="1212" y="412" width="9" height="9" fill="#be7c7c"/>
<rect x="1220" y="412" width="9" height="9" fill="#cea590"/>
<rect x="1228" y="412" width="9" height="9" fill="#dccba4"/>
<rect x="1236" y="412" width="9" height="9" fill="#e7e6b2"/>
<rect x="1244" y="412" width="9" height="9" fill="#f0f0ce"/>
<rect x="1252" y="412" width="9" height="9" fill="#f5f5e0"/>
<rect x="1260" y="412" width="9" height="9" fill="#f8f8ea"/>
<rect x="1268" y="412" width="9" height="9" fill="#f9f9ee"/>
<rect x="1276" y="412" width="9" height="9" fill="#f9f9ed"/>
<rect x="1284" y="412" width="9" height="9" fill="#f8f8ea"/>
<rect x="1292" y="412" width="9" height="9" fill="#f8f8e8"/>
<rect x="1300" y="412" width="9" height="9" fill="#f6f6e4"/>
<rect x="1308" y="412" width="9" height="9" fill="#f4f4de"/>
<rect x="1316" y="412" width="9" height="9" fill="#f3f3da"/>
<rect x="1324" y="412" width="9" height="9" fill="#f2f2d7"/>
<rect x="1332" y="412" width="9" height="9" fill="#f2f2d6"/>
<rect x="1340" y="412" width="9" height="9" fill="#f2f2d7"/>
<rect x="1348" y="412" width="9" height="9" fill="#f2f2d6"/>
<rect x="1356" y="412" width="9" height="9" fill="#f2f2d5"/>
<rect x="1364" y="412" width="9" height="9" fill="#f1f1d4"/>
<rect x="1372" y="412" width="9" height="9" fill="#f1f1d3"/>
<rect x="1380" y="412" width="9" height="9" fill="#f1f1d3"/>
<rect x="1388" y="412" width="9" height="9" fill="#f1f1d3"/>
<rect x="1396" y="412" width="9" height="9" fill="#f1f1d3"/>
<rect x="1404" y="412" width="9" height="9" fill="#f1f1d1"/>
<rect x="1412" y="412" width="9" height="9" fill="#f0f0d0"/>
<rect x="1420" y="412" width="9" height="9" fill="#f0f0d0"/>
<rect x="1428" y="412" width="9" height="9" fill="#f0f0d0"/>
<rect x="1436" y="412" width="9" height="9" fill="#f0f0d0"/>
<rect x="1036" y="420" width="9" height="9" fill="#503131"/>
<rect x="1044" y="420" width="9" height="9" fill="#503131"/>
<rect x="1052" y="420" width="9" height="9" fill="#503131"/>
<rect x="1060" y="420" width="9" height="9" fill="#503131"/>
<rect x="1068" y="420" width="9" height="9" fill="#503131"/>
<rect x="1076" y="420" width="9" height="9" fill="#523232"/>
<rect x="1084" y="420" width="9" height="9" fill="#573636"/>
<rect x="1092" y="420" width="9" height="9" fill="#5b3939"/>
<rect x="1100" y="420" width="9" height="9" fill="#603c3c"/>
<rect x="1108" y="420" width="9" height="9" fill="#623d3d"/>
<rect x="1116" y="420" width="9" height="9" fill="#643e3e"/>
<rect x="1124" y="420" width="9" height="9" fill="#643e3e"/>
<rect x="1132" y="420" width="9" height="9" fill="#643e3e"/>
<rect x="1140" y="420" width="9" height="9" fill="#643e3e"/>
<rect x="1148" y="420" width="9" height="9" fill="#694242"/>
<rect x="1156" y="420" width="9" height="9" fill="#724949"/>
<rect x="1164" y="420" width="9" height="9" fill="#7e5050"/>
<rect x="1172" y="420" width="9" height="9" fill="#885757"/>
<rect x="1180" y="420" width="9" height="9" fill="#925e5e"/>
<rect x="1188" y="420" width="9" height="9" fill="#9f6767"/>
<rect x="1196" y="420" width="9" height="9" fill="#ad7070"/>
<rect x="1204" y="420" width="9" height="9" fill="#be7c7c"/>
<rect x="1212" y="420" width="9" height="9" fill="#cb9c8c"/>
<rect x="1220" y="420" width="9" height="9" fill="#d9c3a0"/>
<rect x="1228" y="420" width="9" height="9" fill="#e8e7b3"/>
<rect x="1236" y="420" width="9" height="9" fill="#f2f2d5"/>
<rect x="1244" y="420" width="9" height="9" fill="#f7f7e6"/>
<rect x="1252" y="420" width="9" height="9" fill="#f9f9ee"/>
<rect x="1260" y="420" width="9" height="9" fill="#fafaf0"/>
<rect x="1268" y="420" width="9" height="9" fill="#f9f9ed"/>
<rect x="1276" y="420" width="9" height="9" fill="#f8f8e8"/>
<rect x="1284" y="420" width="9" height="9" fill="#f7f7e6"/>
<rect x="1292" y="420" width="9" height="9" fill="#f6f6e4"/>
<rect x="1300" y="420" width="9" height="9" fill="#f5f5e0"/>
<rect x="1308" y="420" width="9" height="9" fill="#f4f4dc"/>
<rect x="1316" y="420" width="9" height="9" fill="#f2f2d7"/>
<rect x="1324" y="420" width="9" height="9" fill="#f2f2d5"/>
<rect x="1332" y="420" width="9" height="9" fill="#f2f2d6"/>
<rect x="1340" y="420" width="9" height="9" fill="#f2f2d7"/>
<rect x="1348" y="420" width="9" height="9" fill="#f2f2d7"/>
<rect x="1356" y="420" width="9" height="9" fill="#f2f2d7"/>
<rect x="1364" y="420" width="9" height="9" fill="#f2f2d7"/>
<rect x="1372" y="420" width="9" height="9" fill="#f3f3d8"/>
<rect x="1380" y="420" width="9" height="9" fill="#f3f3da"/>
<rect x="1388" y="420" width="9" height="9" fill="#f3f3da"/>
<rect x="1396" y="420" width="9" height="9" fill="#f3f3da"/>
<rect x="1404" y="420" width="9" height="9" fill="#f3f3da"/>
<rect x="1412" y="420" width="9" height="9" fill="#f3f3d8"/>
<rect x="1420" y="420" width="9" height="9" fill="#f3f3d8"/>
<rect x="1428" y="420" width="9" height="9" fill="#f3f3d8"/>
<rect x="1436" y="420" width="9" height="9" fill="#f3f3d8"/>
<rect x="1036" y="428" width="9" height="9" fill="#4d2f2f"/>
<rect x="1044" y="428" width="9" height="9" fill="#4d2f2f"/>
<rect x="1052" y="428" width="9" height="9" fill="#4d2f2f"/>
<rect x="1060" y="428" width="9" height="9" fill="#4d2f2f"/>
<rect x="1068" y="428" width="9" height="9" fill="#4d2f2f"/>
<rect x="1076" y="428" width="9" height="9" fill="#523232"/>
<rect x="1084" y="428" width="9" height="9" fill="#553434"/>
<rect x="1092" y="428" width="9" height="9" fill="#593737"/>
<rect x="1100" y="428" width="9" height="9" fill="#5e3a3a"/>
<rect x="1108" y="428" width="9" height="9" fill="#603c3c"/>
<rect x="1116" y="428" width="9" height="9" fill="#623d3d"/>
<rect x="1124" y="428" width="9" height="9" fill="#643e3e"/>
<rect x="1132" y="428" width="9" height="9" fill="#643e3e"/>
<rect x="1140" y="428" width="9" height="9" fill="#643e3e"/>
<rect x="1148" y="428" width="9" height="9" fill="#6b4444"/>
<rect x="1156" y="428" width="9" height="9" fill="#774c4c"/>
<rect x="1164" y="428" width="9" height="9" fill="#845454"/>
<rect x="1172" y="428" width="9" height="9" fill="#925e5e"/>
<rect x="1180" y="428" width="9" height="9" fill="#9f6767"/>
<rect x="1188" y="428" width="9" height="9" fill="#ad7070"/>
<rect x="1196" y="428" width="9" height="9" fill="#bc7a7a"/>
<rect x="1204" y="428" width="9" height="9" fill="#c78f86"/>
<rect x="1212" y="428" width="9" height="9" fill="#d2af95"/>
<rect x="1220" y="428" width="9" height="9" fill="#e0d5a9"/>
<rect x="1228" y="428" width="9" height="9" fill="#eeeeca"/>
<rect x="1236" y="428" width="9" height="9" fill="#f7f7e7"/>
<rect x="1244" y="428" width="9" height="9" fill="#fafaf1"/>
<rect x="1252" y="428" width="9" height="9" fill="#fafaf1"/>
<rect x="1260" y="428" width="9" height="9" fill="#fafaef"/>
<rect x="1268" y="428" width="9" height="9" fill="#f8f8e9"/>
<rect x="1276" y="428" width="9" height="9" fill="#f7f7e5"/>
<rect x="1284" y="428" width="9" height="9" fill="#f6f6e3"/>
<rect x="1292" y="428" width="9" height="9" fill="#f5f5e2"/>
<rect x="1300" y="428" width="9" height="9" fill="#f5f5df"/>
<rect x="1308" y="428" width="9" height="9" fill="#f3f3db"/>
<rect x="1316" y="428" width="9" height="9" fill="#f2f2d7"/>
<rect x="1324" y="428" width="9" height="9" fill="#f2f2d6"/>
<rect x="1332" y="428" width="9" height="9" fill="#f2f2d6"/>
<rect x="1340" y="428" width="9" height="9" fill="#f3f3d8"/>
<rect x="1348" y="428" width="9" height="9" fill="#f3f3da"/>
<rect x="1356" y="428" width="9" height="9" fill="#f3f3db"/>
<rect x="1364" y="428" width="9" height="9" fill="#f4f4dc"/>
<rect x="1372" y="428" width="9" height="9" fill="#f4f4dd"/>
<rect x="1380" y="428" width="9" height="9" fill="#f4f4de"/>
<rect x="1388" y="428" width="9" height="9" fill="#f4f4de"/>
<rect x="1396" y="428" width="9" height="9" fill="#f5f5df"/>
<rect x="1404" y="428" width="9" height="9" fill="#f5f5df"/>
<rect x="1412" y="428" width="9" height="9" fill="#f4f4de"/>
<rect x="1420" y="428" width="9" height="9" fill="#f4f4de"/>
<rect x="1428" y="428" width="9" height="9" fill="#f4f4de"/>
<rect x="1436" y="428" width="9" height="9" fill="#f4f4de"/>
<rect x="1036" y="436" width="9" height="9" fill="#452929"/>
<rect x="1044" y="436" width="9" height="9" fill="#452929"/>
<rect x="1052" y="436" width="9" height="9" fill="#452929"/>
<rect x="1060" y="436" width="9" height="9" fill="#452929"/>
<rect x="1068" y="436" width="9" height="9" fill="#482b2b"/>
<rect x="1076" y="436" width="9" height="9" fill="#4d2f2f"/>
<rect x="1084" y="436" width="9" height="9" fill="#503131"/>
<rect x="1092" y="436" width="9" height="9" fill="#553434"/>
<rect x="1100" y="436" width="9" height="9" fill="#593737"/>
<rect x="1108" y="436" width="9" height="9" fill="#5e3a3a"/>
<rect x="1116" y="436" width="9" height="9" fill="#603c3c"/>
<rect x="1124" y="436" width="9" height="9" fill="#623d3d"/>
<rect x="1132" y="436" width="9" height="9" fill="#643e3e"/>
<rect x="1140" y="436" width="9" height="9" fill="#664040"/>
<rect x="1148" y="436" width="9" height="9" fill="#6f4646"/>
<rect x="1156" y="436" width="9" height="9" fill="#7c4f4f"/>
<rect x="1164" y="436" width="9" height="9" fill="#8b5959"/>
<rect x="1172" y="436" width="9" height="9" fill="#996262"/>
<rect x="1180" y="436" width="9" height="9" fill="#a66c6c"/>
<rect x="1188" y="436" width="9" height="9" fill="#b47575"/>
<rect x="1196" y="436" width="9" height="9" fill="#c2817f"/>
<rect x="1204" y="436" width="9" height="9" fill="#ca988a"/>
<rect x="1212" y="436" width="9" height="9" fill="#d4b699"/>
<rect x="1220" y="436" width="9" height="9" fill="#e2d8ab"/>
<rect x="1228" y="436" width="9" height="9" fill="#efefcc"/>
<rect x="1236" y="436" width="9" height="9" fill="#f7f7e6"/>
<rect x="1244" y="436" width="9" height="9" fill="#f9f9ed"/>
<rect x="1252" y="436" width="9" height="9" fill="#f8f8ea"/>
<rect x="1260" y="436" width="9" height="9" fill="#f8f8e8"/>
<rect x="1268" y="436" width="9" height="9" fill="#f7f7e7"/>
<rect x="1276" y="436" width="9" height="9" fill="#f7f7e5"/>
<rect x="1284" y="436" width="9" height="9" fill="#f6f6e4"/>
<rect x="1292" y="436" width="9" height="9" fill="#f5f5e2"/>
<rect x="1300" y="436" width="9" height="9" fill="#f5f5df"/>
<rect x="1308" y="436" width="9" height="9" fill="#f4f4dd"/>
<rect x="1316" y="436" width="9" height="9" fill="#f3f3da"/>
<rect x="1324" y="436" width="9" height="9" fill="#f3f3d8"/>
<rect x="1332" y="436" width="9" height="9" fill="#f3f3da"/>
<rect x="1340" y="436" width="9" height="9" fill="#f3f3db"/>
<rect x="1348" y="436" width="9" height="9" fill="#f4f4dd"/>
<rect x="1356" y="436" width="9" height="9" fill="#f4f4de"/>
<rect x="1364" y="436" width="9" height="9" fill="#f5f5df"/>
<rect x="1372" y="436" width="9" height="9" fill="#f5f5e0"/>
<rect x="1380" y="436" width="9" height="9" fill="#f5f5e2"/>
<rect x="1388" y="436" width="9" height="9" fill="#f5f5e2"/>
<rect x="1396" y="436" width="9" height="9" fill="#f6f6e3"/>
<rect x="1404" y="436" width="9" height="9" fill="#f6f6e3"/>
<rect x="1412" y="436" width="9" height="9" fill="#f6f6e3"/>
<rect x="1420" y="436" width="9" height="9" fill="#f6f6e3"/>
<rect x="1428" y="436" width="9" height="9" fill="#f6f6e3"/>
<rect x="1436" y="436" width="9" height="9" fill="#f6f6e3"/>
<rect x="1036" y="444" width="9" height="9" fill="#351d1d"/>
<rect x="1044" y="444" width="9" height="9" fill="#351d1d"/>
<rect x="1052" y="444" width="9" height="9" fill="#351d1d"/>
<rect x="1060" y="444" width="9" height="9" fill="#391f1f"/>
<rect x="1068" y="444" width="9" height="9" fill="#402525"/>
<rect x="1076" y="444" width="9" height="9" fill="#452929"/>
<rect x="1084" y="444" width="9" height="9" fill="#4b2d2d"/>
<rect x="1092" y="444" width="9" height="9" fill="#4d2f2f"/>
<rect x="1100" y="444" width="9" height="9" fill="#523232"/>
<rect x="1108" y="444" width="9" height="9" fill="#573636"/>
<rect x="1116" y="444" width="9" height="9" fill="#5b3939"/>
<rect x="1124" y="444" width="9" height="9" fill="#603c3c"/>
<rect x="1132" y="444" width="9" height="9" fill="#643e3e"/>
<rect x="1140" y="444" width="9" height="9" fill="#684141"/>
<rect x="1148" y="444" width="9" height="9" fill="#724949"/>
<rect x="1156" y="444" width="9" height="9" fill="#825353"/>
<rect x="1164" y="444" width="9" height="9" fill="#915d5d"/>
<rect x="1172" y="444" width="9" height="9" fill="#9e6666"/>
<rect x="1180" y="444" width="9" height="9" fill="#a96d6d"/>
<rect x="1188" y="444" width="9" height="9" fill="#b57575"/>
<rect x="1196" y="444" width="9" height="9" fill="#c27f7e"/>
<rect x="1204" y="444" width="9" height="9" fill="#c99789"/>
<rect x="1212" y="444" width="9" height="9" fill="#d3b397"/>
<rect x="1220" y="444" width="9" height="9" fill="#dfd1a7"/>
<rect x="1228" y="444" width="9" height="9" fill="#ebebbc"/>
<rect x="1236" y="444" width="9" height="9" fill="#f1f1d4"/>
<rect x="1244" y="444" width="9" height="9" fill="#f3f3da"/>
<rect x="1252" y="444" width="9" height="9" fill="#f3f3da"/>
<rect x="1260" y="444" width="9" height="9" fill="#f4f4dd"/>
<rect x="1268" y="444" width="9" height="9" fill="#f6f6e3"/>
<rect x="1276" y="444" width="9" height="9" fill="#f7f7e7"/>
<rect x="1284" y="444" width="9" height="9" fill="#f8f8e8"/>
<rect x="1292" y="444" width="9" height="9" fill="#f7f7e6"/>
<rect x="1300" y="444" width="9" height="9" fill="#f6f6e3"/>
<rect x="1308" y="444" width="9" height="9" fill="#f5f5e0"/>
<rect x="1316" y="444" width="9" height="9" fill="#f5f5df"/>
<rect x="1324" y="444" width="9" height="9" fill="#f4f4de"/>
<rect x="1332" y="444" width="9" height="9" fill="#f4f4de"/>
<rect x="1340" y="444" width="9" height="9" fill="#f5f5df"/>
<rect x="1348" y="444" width="9" height="9" fill="#f5f5e0"/>
<rect x="1356" y="444" width="9" height="9" fill="#f5f5e0"/>
<rect x="1364" y="444" width="9" height="9" fill="#f5f5e2"/>
<rect x="1372" y="444" width="9" height="9" fill="#f6f6e3"/>
<rect x="1380" y="444" width="9" height="9" fill="#f6f6e3"/>
<rect x="1388" y="444" width="9" height="9" fill="#f6f6e4"/>
<rect x="1396" y="444" width="9" height="9" fill="#f6f6e4"/>
<rect x="1404" y="444" width="9" height="9" fill="#f6f6e4"/>
<rect x="1412" y="444" width="9" height="9" fill="#f6f6e4"/>
<rect x="1420" y="444" width="9" height="9" fill="#f6f6e4"/>
<rect x="1428" y="444" width="9" height="9" fill="#f6f6e4"/>
<rect x="1436" y="444" width="9" height="9" fill="#f6f6e4"/>
<rect x="1036" y="452" width="9" height="9" fill="#230606"/>
<rect x="1044" y="452" width="9" height="9" fill="#230606"/>
<rect x="1052" y="452" width="9" height="9" fill="#230606"/>
<rect x="1060" y="452" width="9" height="9" fill="#280d0d"/>
<rect x="1068" y="452" width="9" height="9" fill="#351d1d"/>
<rect x="1076" y="452" width="9" height="9" fill="#3c2222"/>
<rect x="1084" y="452" width="9" height="9" fill="#422727"/>
<rect x="1092" y="452" width="9" height="9" fill="#482b2b"/>
<rect x="1100" y="452" width="9" height="9" fill="#4d2f2f"/>
<rect x="1108" y="452" width="9" height="9" fill="#523232"/>
<rect x="1116" y="452" width="9" height="9" fill="#593737"/>
<rect x="1124" y="452" width="9" height="9" fill="#603c3c"/>
<rect x="1132" y="452" width="9" height="9" fill="#643e3e"/>
<rect x="1140" y="452" width="9" height="9" fill="#6b4444"/>
<rect x="1148" y="452" width="9" height="9" fill="#764b4b"/>
<rect x="1156" y="452" width="9" height="9" fill="#855555"/>
<rect x="1164" y="452" width="9" height="9" fill="#935f5f"/>
<rect x="1172" y="452" width="9" height="9" fill="#9f6767"/>
<rect x="1180" y="452" width="9" height="9" fill="#a96d6d"/>
<rect x="1188" y="452" width="9" height="9" fill="#b47575"/>
<rect x="1196" y="452" width="9" height="9" fill="#c27e7e"/>
<rect x="1204" y="452" width="9" height="9" fill="#c99689"/>
<rect x="1212" y="452" width="9" height="9" fill="#d2af95"/>
<rect x="1220" y="452" width="9" height="9" fill="#dccaa3"/>
<rect x="1228" y="452" width="9" height="9" fill="#e6e3b1"/>
<rect x="1236" y="452" width="9" height="9" fill="#ececc1"/>
<rect x="1244" y="452" width="9" height="9" fill="#eeeec9"/>
<rect x="1252" y="452" width="9" height="9" fill="#efefcc"/>
<rect x="1260" y="452" width="9" height="9" fill="#f2f2d5"/>
<rect x="1268" y="452" width="9" height="9" fill="#f5f5e0"/>
<rect x="1276" y="452" width="9" height="9" fill="#f8f8e9"/>
<rect x="1284" y="452" width="9" height="9" fill="#f9f9eb"/>
<rect x="1292" y="452" width="9" height="9" fill="#f8f8e9"/>
<rect x="1300" y="452" width="9" height="9" fill="#f7f7e6"/>
<rect x="1308" y="452" width="9" height="9" fill="#f7f7e5"/>
<rect x="1316" y="452" width="9" height="9" fill="#f6f6e4"/>
<rect x="1324" y="452" width="9" height="9" fill="#f6f6e3"/>
<rect x="1332" y="452" width="9" height="9" fill="#f6f6e3"/>
<rect x="1340" y="452" width="9" height="9" fill="#f6f6e4"/>
<rect x="1348" y="452" width="9" height="9" fill="#f6f6e4"/>
<rect x="1356" y="452" width="9" height="9" fill="#f6f6e4"/>
<rect x="1364" y="452" width="9" height="9" fill="#f6f6e4"/>
<rect x="1372" y="452" width="9" height="9" fill="#f6f6e4"/>
<rect x="1380" y="452" width="9" height="9" fill="#f6f6e4"/>
<rect x="1388" y="452" width="9" height="9" fill="#f7f7e5"/>
<rect x="1396" y="452" width="9" height="9" fill="#f7f7e5"/>
<rect x="1404" y="452" width="9" height="9" fill="#f7f7e5"/>
<rect x="1412" y="452" width="9" height="9" fill="#f7f7e5"/>
<rect x="1420" y="452" width="9" height="9" fill="#f7f7e5"/>
<rect x="1428" y="452" width="9" height="9" fill="#f7f7e5"/>
<rect x="1436" y="452" width="9" height="9" fill="#f7f7e5"/>
<rect x="1036" y="460" width="9" height="9" fill="#1e0000"/>
<rect x="1044" y="460" width="9" height="9" fill="#1e0000"/>
<rect x="1052" y="460" width="9" height="9" fill="#1e0000"/>
<rect x="1060" y="460" width="9" height="9" fill="#1e0000"/>
<rect x="1068" y="460" width="9" height="9" fill="#2d1313"/>
<rect x="1076" y="460" width="9" height="9" fill="#391f1f"/>
<rect x="1084" y="460" width="9" height="9" fill="#402525"/>
<rect x="1092" y="460" width="9" height="9" fill="#452929"/>
<rect x="1100" y="460" width="9" height="9" fill="#4b2d2d"/>
<rect x="1108" y="460" width="9" height="9" fill="#523232"/>
<rect x="1116" y="460" width="9" height="9" fill="#573636"/>
<rect x="1124" y="460" width="9" height="9" fill="#5e3a3a"/>
<rect x="1132" y="460" width="9" height="9" fill="#643e3e"/>
<rect x="1140" y="460" width="9" height="9" fill="#6b4444"/>
<rect x="1148" y="460" width="9" height="9" fill="#764b4b"/>
<rect x="1156" y="460" width="9" height="9" fill="#845454"/>
<rect x="1164" y="460" width="9" height="9" fill="#925e5e"/>
<rect x="1172" y="460" width="9" height="9" fill="#9e6666"/>
<rect x="1180" y="460" width="9" height="9" fill="#a96d6d"/>
<rect x="1188" y="460" width="9" height="9" fill="#b57575"/>
<rect x="1196" y="460" width="9" height="9" fill="#c2817f"/>
<rect x="1204" y="460" width="9" height="9" fill="#ca988a"/>
<rect x="1212" y="460" width="9" height="9" fill="#d2b096"/>
<rect x="1220" y="460" width="9" height="9" fill="#dcc9a3"/>
<rect x="1228" y="460" width="9" height="9" fill="#e4dfae"/>
<rect x="1236" y="460" width="9" height="9" fill="#eaeab9"/>
<rect x="1244" y="460" width="9" height="9" fill="#ececc2"/>
<rect x="1252" y="460" width="9" height="9" fill="#eeeeca"/>
<rect x="1260" y="460" width="9" height="9" fill="#f1f1d4"/>
<rect x="1268" y="460" width="9" height="9" fill="#f5f5e0"/>
<rect x="1276" y="460" width="9" height="9" fill="#f8f8ea"/>
<rect x="1284" y="460" width="9" height="9" fill="#f9f9ed"/>
<rect x="1292" y="460" width="9" height="9" fill="#f8f8ea"/>
<rect x="1300" y="460" width="9" height="9" fill="#f8f8e8"/>
<rect x="1308" y="460" width="9" height="9" fill="#f7f7e7"/>
<rect x="1316" y="460" width="9" height="9" fill="#f7f7e7"/>
<rect x="1324" y="460" width="9" height="9" fill="#f7f7e6"/>
<rect x="1332" y="460" width="9" height="9" fill="#f7f7e6"/>
<rect x="1340" y="460" width="9" height="9" fill="#f7f7e6"/>
<rect x="1348" y="460" width="9" height="9" fill="#f7f7e6"/>
<rect x="1356" y="460" width="9" height="9" fill="#f7f7e6"/>
<rect x="1364" y="460" width="9" height="9" fill="#f7f7e6"/>
<rect x="1372" y="460" width="9" height="9" fill="#f7f7e6"/>
<rect x="1380" y="460" width="9" height="9" fill="#f7f7e6"/>
<rect x="1388" y="460" width="9" height="9" fill="#f7f7e5"/>
<rect x="1396" y="460" width="9" height="9" fill="#f7f7e5"/>
<rect x="1404" y="460" width="9" height="9" fill="#f7f7e5"/>
<rect x="1412" y="460" width="9" height="9" fill="#f7f7e5"/>
<rect x="1420" y="460" width="9" height="9" fill="#f7f7e5"/>
<rect x="1428" y="460" width="9" height="9" fill="#f7f7e5"/>
<rect x="1436" y="460" width="9" height="9" fill="#f7f7e5"/>
<rect x="1036" y="468" width="9" height="9" fill="#1e0000"/>
<rect x="1044" y="468" width="9" height="9" fill="#1e0000"/>
<rect x="1052" y="468" width="9" height="9" fill="#1e0000"/>
<rect x="1060" y="468" width="9" height="9" fill="#1e0000"/>
<rect x="1068" y="468" width="9" height="9" fill="#280d0d"/>
<rect x="1076" y="468" width="9" height="9" fill="#351d1d"/>
<rect x="1084" y="468" width="9" height="9" fill="#402525"/>
<rect x="1092" y="468" width="9" height="9" fill="#482b2b"/>
<rect x="1100" y="468" width="9" height="9" fill="#4d2f2f"/>
<rect x="1108" y="468" width="9" height="9" fill="#523232"/>
<rect x="1116" y="468" width="9" height="9" fill="#573636"/>
<rect x="1124" y="468" width="9" height="9" fill="#5e3a3a"/>
<rect x="1132" y="468" width="9" height="9" fill="#643e3e"/>
<rect x="1140" y="468" width="9" height="9" fill="#6b4444"/>
<rect x="1148" y="468" width="9" height="9" fill="#744a4a"/>
<rect x="1156" y="468" width="9" height="9" fill="#7f5151"/>
<rect x="1164" y="468" width="9" height="9" fill="#8b5959"/>
<rect x="1172" y="468" width="9" height="9" fill="#996262"/>
<rect x="1180" y="468" width="9" height="9" fill="#a76c6c"/>
<rect x="1188" y="468" width="9" height="9" fill="#b87777"/>
<rect x="1196" y="468" width="9" height="9" fill="#c58882"/>
<rect x="1204" y="468" width="9" height="9" fill="#cda18e"/>
<rect x="1212" y="468" width="9" height="9" fill="#d5b89a"/>
<rect x="1220" y="468" width="9" height="9" fill="#ddcda5"/>
<rect x="1228" y="468" width="9" height="9" fill="#e5e0af"/>
<rect x="1236" y="468" width="9" height="9" fill="#ebebbc"/>
<rect x="1244" y="468" width="9" height="9" fill="#eeeec9"/>
<rect x="1252" y="468" width="9" height="9" fill="#f1f1d1"/>
<rect x="1260" y="468" width="9" height="9" fill="#f3f3da"/>
<rect x="1268" y="468" width="9" height="9" fill="#f6f6e4"/>
<rect x="1276" y="468" width="9" height="9" fill="#f8f8ea"/>
<rect x="1284" y="468" width="9" height="9" fill="#f9f9eb"/>
<rect x="1292" y="468" width="9" height="9" fill="#f8f8ea"/>
<rect x="1300" y="468" width="9" height="9" fill="#f8f8e9"/>
<rect x="1308" y="468" width="9" height="9" fill="#f8f8e8"/>
<rect x="1316" y="468" width="9" height="9" fill="#f8f8e8"/>
<rect x="1324" y="468" width="9" height="9" fill="#f8f8e8"/>
<rect x="1332" y="468" width="9" height="9" fill="#f8f8e8"/>
<rect x="1340" y="468" width="9" height="9" fill="#f8f8e8"/>
<rect x="1348" y="468" width="9" height="9" fill="#f8f8e8"/>
<rect x="1356" y="468" width="9" height="9" fill="#f8f8e8"/>
<rect x="1364" y="468" width="9" height="9" fill="#f8f8e8"/>
<rect x="1372" y="468" width="9" height="9" fill="#f7f7e7"/>
<rect x="1380" y="468" width="9" height="9" fill="#f7f7e7"/>
<rect x="1388" y="468" width="9" height="9" fill="#f7f7e6"/>
<rect x="1396" y="468" width="9" height="9" fill="#f7f7e5"/>
<rect x="1404" y="468" width="9" height="9" fill="#f7f7e5"/>
<rect x="1412" y="468" width="9" height="9" fill="#f6f6e4"/>
<rect x="1420" y="468" width="9" height="9" fill="#f6f6e4"/>
<rect x="1428" y="468" width="9" height="9" fill="#f6f6e4"/>
<rect x="1436" y="468" width="9" height="9" fill="#f6f6e4"/>
<rect x="1036" y="476" width="9" height="9" fill="#1e0000"/>
<rect x="1044" y="476" width="9" height="9" fill="#1e0000"/>
<rect x="1052" y="476" width="9" height="9" fill="#1e0000"/>
<rect x="1060" y="476" width="9" height="9" fill="#1e0000"/>
<rect x="1068" y="476" width="9" height="9" fill="#280d0d"/>
<rect x="1076" y="476" width="9" height="9" fill="#351d1d"/>
<rect x="1084" y="476" width="9" height="9" fill="#422727"/>
<rect x="1092" y="476" width="9" height="9" fill="#4b2d2d"/>
<rect x="1100" y="476" width="9" height="9" fill="#523232"/>
<rect x="1108" y="476" width="9" height="9" fill="#593737"/>
<rect x="1116" y="476" width="9" height="9" fill="#5b3939"/>
<rect x="1124" y="476" width="9" height="9" fill="#623d3d"/>
<rect x="1132" y="476" width="9" height="9" fill="#684141"/>
<rect x="1140" y="476" width="9" height="9" fill="#714747"/>
<rect x="1148" y="476" width="9" height="9" fill="#774c4c"/>
<rect x="1156" y="476" width="9" height="9" fill="#7e5050"/>
<rect x="1164" y="476" width="9" height="9" fill="#885757"/>
<rect x="1172" y="476" width="9" height="9" fill="#996262"/>
<rect x="1180" y="476" width="9" height="9" fill="#ac6f6f"/>
<rect x="1188" y="476" width="9" height="9" fill="#c07c7c"/>
<rect x="1196" y="476" width="9" height="9" fill="#c99588"/>
<rect x="1204" y="476" width="9" height="9" fill="#d0ac94"/>
<rect x="1212" y="476" width="9" height="9" fill="#d8c19f"/>
<rect x="1220" y="476" width="9" height="9" fill="#e0d5a9"/>
<rect x="1228" y="476" width="9" height="9" fill="#e7e6b2"/>
<rect x="1236" y="476" width="9" height="9" fill="#ededc4"/>
<rect x="1244" y="476" width="9" height="9" fill="#f1f1d1"/>
<rect x="1252" y="476" width="9" height="9" fill="#f3f3db"/>
<rect x="1260" y="476" width="9" height="9" fill="#f5f5e2"/>
<rect x="1268" y="476" width="9" height="9" fill="#f7f7e5"/>
<rect x="1276" y="476" width="9" height="9" fill="#f8f8e8"/>
<rect x="1284" y="476" width="9" height="9" fill="#f8f8e8"/>
<rect x="1292" y="476" width="9" height="9" fill="#f8f8e8"/>
<rect x="1300" y="476" width="9" height="9" fill="#f8f8e8"/>
<rect x="1308" y="476" width="9" height="9" fill="#f7f7e7"/>
<rect x="1316" y="476" width="9" height="9" fill="#f7f7e7"/>
<rect x="1324" y="476" width="9" height="9" fill="#f7f7e7"/>
<rect x="1332" y="476" width="9" height="9" fill="#f7f7e7"/>
<rect x="1340" y="476" width="9" height="9" fill="#f7f7e7"/>
<rect x="1348" y="476" width="9" height="9" fill="#f8f8e8"/>
<rect x="1356" y="476" width="9" height="9" fill="#f8f8e8"/>
<rect x="1364" y="476" width="9" height="9" fill="#f8f8e8"/>
<rect x="1372" y="476" width="9" height="9" fill="#f7f7e7"/>
<rect x="1380" y="476" width="9" height="9" fill="#f7f7e6"/>
<rect x="1388" y="476" width="9" height="9" fill="#f7f7e5"/>
<rect x="1396" y="476" width="9" height="9" fill="#f6f6e4"/>
<rect x="1404" y="476" width="9" height="9" fill="#f6f6e3"/>
<rect x="1412" y="476" width="9" height="9" fill="#f5f5e2"/>
<rect x="1420" y="476" width="9" height="9" fill="#f5f5e2"/>
<rect x="1428" y="476" width="9" height="9" fill="#f5f5e2"/>
<rect x="1436" y="476" width="9" height="9" fill="#f5f5e2"/>
<rect x="1036" y="484" width="9" height="9" fill="#1e0000"/>
<rect x="1044" y="484" width="9" height="9" fill="#1e0000"/>
<rect x="1052" y="484" width="9" height="9" fill="#1e0000"/>
<rect x="1060" y="484" width="9" height="9" fill="#230606"/>
<rect x="1068" y="484" width="9" height="9" fill="#321a1a"/>
<rect x="1076" y="484" width="9" height="9" fill="#3c2222"/>
<rect x="1084" y="484" width="9" height="9" fill="#452929"/>
<rect x="1092" y="484" width="9" height="9" fill="#503131"/>
<rect x="1100" y="484" width="9" height="9" fill="#593737"/>
<rect x="1108" y="484" width="9" height="9" fill="#603c3c"/>
<rect x="1116" y="484" width="9" height="9" fill="#664040"/>
<rect x="1124" y="484" width="9" height="9" fill="#6d4545"/>
<rect x="1132" y="484" width="9" height="9" fill="#764b4b"/>
<rect x="1140" y="484" width="9" height="9" fill="#7e5050"/>
<rect x="1148" y="484" width="9" height="9" fill="#875656"/>
<rect x="1156" y="484" width="9" height="9" fill="#8e5b5b"/>
<rect x="1164" y="484" width="9" height="9" fill="#996262"/>
<rect x="1172" y="484" width="9" height="9" fill="#a96d6d"/>
<rect x="1180" y="484" width="9" height="9" fill="#bb7a7a"/>
<rect x="1188" y="484" width="9" height="9" fill="#c78f86"/>
<rect x="1196" y="484" width="9" height="9" fill="#cea691"/>
<rect x="1204" y="484" width="9" height="9" fill="#d6bb9b"/>
<rect x="1212" y="484" width="9" height="9" fill="#ddcca4"/>
<rect x="1220" y="484" width="9" height="9" fill="#e3dcad"/>
<rect x="1228" y="484" width="9" height="9" fill="#e9e9b6"/>
<rect x="1236" y="484" width="9" height="9" fill="#eeeec7"/>
<rect x="1244" y="484" width="9" height="9" fill="#f1f1d4"/>
<rect x="1252" y="484" width="9" height="9" fill="#f4f4dc"/>
<rect x="1260" y="484" width="9" height="9" fill="#f5f5e2"/>
<rect x="1268" y="484" width="9" height="9" fill="#f6f6e3"/>
<rect x="1276" y="484" width="9" height="9" fill="#f6f6e3"/>
<rect x="1284" y="484" width="9" height="9" fill="#f6f6e4"/>
<rect x="1292" y="484" width="9" height="9" fill="#f6f6e3"/>
<rect x="1300" y="484" width="9" height="9" fill="#f6f6e3"/>
<rect x="1308" y="484" width="9" height="9" fill="#f6f6e3"/>
<rect x="1316" y="484" width="9" height="9" fill="#f6f6e3"/>
<rect x="1324" y="484" width="9" height="9" fill="#f6f6e3"/>
<rect x="1332" y="484" width="9" height="9" fill="#f6f6e3"/>
<rect x="1340" y="484" width="9" height="9" fill="#f6f6e3"/>
<rect x="1348" y="484" width="9" height="9" fill="#f6f6e3"/>
<rect x="1356" y="484" width="9" height="9" fill="#f6f6e3"/>
<rect x="1364" y="484" width="9" height="9" fill="#f6f6e3"/>
<rect x="1372" y="484" width="9" height="9" fill="#f6f6e3"/>
<rect x="1380" y="484" width="9" height="9" fill="#f5f5e2"/>
<rect x="1388" y="484" width="9" height="9" fill="#f5f5e0"/>
<rect x="1396" y="484" width="9" height="9" fill="#f5f5df"/>
<rect x="1404" y="484" width="9" height="9" fill="#f4f4de"/>
<rect x="1412" y="484" width="9" height="9" fill="#f4f4dd"/>
<rect x="1420" y="484" width="9" height="9" fill="#f4f4dd"/>
<rect x="1428" y="484" width="9" height="9" fill="#f4f4dd"/>
<rect x="1436" y="484" width="9" height="9" fill="#f4f4dd"/>
<rect x="1036" y="492" width="9" height="9" fill="#280d0d"/>
<rect x="1044" y="492" width="9" height="9" fill="#280d0d"/>
<rect x="1052" y="492" width="9" height="9" fill="#280d0d"/>
<rect x="1060" y="492" width="9" height="9" fill="#321a1a"/>
<rect x="1068" y="492" width="9" height="9" fill="#3c2222"/>
<rect x="1076" y="492" width="9" height="9" fill="#452929"/>
<rect x="1084" y="492" width="9" height="9" fill="#4d2f2f"/>
<rect x="1092" y="492" width="9" height="9" fill="#573636"/>
<rect x="1100" y="492" width="9" height="9" fill="#603c3c"/>
<rect x="1108" y="492" width="9" height="9" fill="#694242"/>
<rect x="1116" y="492" width="9" height="9" fill="#764b4b"/>
<rect x="1124" y="492" width="9" height="9" fill="#7f5151"/>
<rect x="1132" y="492" width="9" height="9" fill="#8a5858"/>
<rect x="1140" y="492" width="9" height="9" fill="#935f5f"/>
<rect x="1148" y="492" width="9" height="9" fill="#9e6666"/>
<rect x="1156" y="492" width="9" height="9" fill="#a96d6d"/>
<rect x="1164" y="492" width="9" height="9" fill="#b57575"/>
<rect x="1172" y="492" width="9" height="9" fill="#c2817f"/>
<rect x="1180" y="492" width="9" height="9" fill="#c99789"/>
<rect x="1188" y="492" width="9" height="9" fill="#d0ac94"/>
<rect x="1196" y="492" width="9" height="9" fill="#d6bc9c"/>
<rect x="1204" y="492" width="9" height="9" fill="#dccba4"/>
<rect x="1212" y="492" width="9" height="9" fill="#e2d8ab"/>
<rect x="1220" y="492" width="9" height="9" fill="#e6e3b1"/>
<rect x="1228" y="492" width="9" height="9" fill="#eaeaba"/>
<rect x="1236" y="492" width="9" height="9" fill="#ededc6"/>
<rect x="1244" y="492" width="9" height="9" fill="#f0f0d0"/>
<rect x="1252" y="492" width="9" height="9" fill="#f2f2d6"/>
<rect x="1260" y="492" width="9" height="9" fill="#f3f3db"/>
<rect x="1268" y="492" width="9" height="9" fill="#f4f4dc"/>
<rect x="1276" y="492" width="9" height="9" fill="#f4f4dc"/>
<rect x="1284" y="492" width="9" height="9" fill="#f4f4dc"/>
<rect x="1292" y="492" width="9" height="9" fill="#f4f4dc"/>
<rect x="1300" y="492" width="9" height="9" fill="#f3f3db"/>
<rect x="1308" y="492" width="9" height="9" fill="#f3f3db"/>
<rect x="1316" y="492" width="9" height="9" fill="#f3f3db"/>
<rect x="1324" y="492" width="9" height="9" fill="#f3f3db"/>
<rect x="1332" y="492" width="9" height="9" fill="#f3f3db"/>
<rect x="1340" y="492" width="9" height="9" fill="#f3f3db"/>
<rect x="1348" y="492" width="9" height="9" fill="#f3f3da"/>
<rect x="1356" y="492" width="9" height="9" fill="#f3f3da"/>
<rect x="1364" y="492" width="9" height="9" fill="#f3f3da"/>
<rect x="1372" y="492" width="9" height="9" fill="#f3f3d8"/>
<rect x="1380" y="492" width="9" height="9" fill="#f3f3d8"/>
<rect x="1388" y="492" width="9" height="9" fill="#f3f3d8"/>
<rect x="1396" y="492" width="9" height="9" fill="#f2f2d7"/>
<rect x="1404" y="492" width="9" height="9" fill="#f2f2d7"/>
<rect x="1412" y="492" width="9" height="9" fill="#f2f2d6"/>
<rect x="1420" y="492" width="9" height="9" fill="#f2f2d6"/>
<rect x="1428" y="492" width="9" height="9" fill="#f2f2d6"/>
<rect x="1436" y="492" width="9" height="9" fill="#f2f2d6"/>
<rect x="1036" y="500" width="9" height="9" fill="#351d1d"/>
<rect x="1044" y="500" width="9" height="9" fill="#351d1d"/>
<rect x="1052" y="500" width="9" height="9" fill="#351d1d"/>
<rect x="1060" y="500" width="9" height="9" fill="#3c2222"/>
<rect x="1068" y="500" width="9" height="9" fill="#452929"/>
<rect x="1076" y="500" width="9" height="9" fill="#4d2f2f"/>
<rect x="1084" y="500" width="9" height="9" fill="#553434"/>
<rect x="1092" y="500" width="9" height="9" fill="#5b3939"/>
<rect x="1100" y="500" width="9" height="9" fill="#684141"/>
<rect x="1108" y="500" width="9" height="9" fill="#764b4b"/>
<rect x="1116" y="500" width="9" height="9" fill="#875656"/>
<rect x="1124" y="500" width="9" height="9" fill="#956060"/>
<rect x="1132" y="500" width="9" height="9" fill="#a06767"/>
<rect x="1140" y="500" width="9" height="9" fill="#ab6f6f"/>
<rect x="1148" y="500" width="9" height="9" fill="#b87777"/>
<rect x="1156" y="500" width="9" height="9" fill="#c48782"/>
<rect x="1164" y="500" width="9" height="9" fill="#cb9b8b"/>
<rect x="1172" y="500" width="9" height="9" fill="#d0ac94"/>
<rect x="1180" y="500" width="9" height="9" fill="#d6ba9b"/>
<rect x="1188" y="500" width="9" height="9" fill="#dbc7a2"/>
<rect x="1196" y="500" width="9" height="9" fill="#dfd2a7"/>
<rect x="1204" y="500" width="9" height="9" fill="#e3dcad"/>
<rect x="1212" y="500" width="9" height="9" fill="#e6e4b1"/>
<rect x="1220" y="500" width="9" height="9" fill="#e9e9b5"/>
<rect x="1228" y="500" width="9" height="9" fill="#ebebbc"/>
<rect x="1236" y="500" width="9" height="9" fill="#ececc2"/>
<rect x="1244" y="500" width="9" height="9" fill="#eeeec7"/>
<rect x="1252" y="500" width="9" height="9" fill="#efefcb"/>
<rect x="1260" y="500" width="9" height="9" fill="#f0f0cf"/>
<rect x="1268" y="500" width="9" height="9" fill="#f1f1d1"/>
<rect x="1276" y="500" width="9" height="9" fill="#f1f1d3"/>
<rect x="1284" y="500" width="9" height="9" fill="#f1f1d3"/>
<rect x="1292" y="500" width="9" height="9" fill="#f1f1d3"/>
<rect x="1300" y="500" width="9" height="9" fill="#f1f1d1"/>
<rect x="1308" y="500" width="9" height="9" fill="#f1f1d1"/>
<rect x="1316" y="500" width="9" height="9" fill="#f1f1d1"/>
<rect x="1324" y="500" width="9" height="9" fill="#f0f0d0"/>
<rect x="1332" y="500" width="9" height="9" fill="#f0f0d0"/>
<rect x="1340" y="500" width="9" height="9" fill="#f0f0cf"/>
<rect x="1348" y="500" width="9" height="9" fill="#f0f0ce"/>
<rect x="1356" y="500" width="9" height="9" fill="#efefcc"/>
<rect x="1364" y="500" width="9" height="9" fill="#efefcc"/>
<rect x="1372" y="500" width="9" height="9" fill="#efefcc"/>
<rect x="1380" y="500" width="9" height="9" fill="#efefcc"/>
<rect x="1388" y="500" width="9" height="9" fill="#f0f0ce"/>
<rect x="1396" y="500" width="9" height="9" fill="#f0f0ce"/>
<rect x="1404" y="500" width="9" height="9" fill="#f0f0ce"/>
<rect x="1412" y="500" width="9" height="9" fill="#f0f0ce"/>
<rect x="1420" y="500" width="9" height="9" fill="#f0f0ce"/>
<rect x="1428" y="500" width="9" height="9" fill="#f0f0ce"/>
<rect x="1436" y="500" width="9" height="9" fill="#f0f0ce"/>
<rect x="1036" y="508" width="9" height="9" fill="#3c2222"/>
<rect x="1044" y="508" width="9" height="9" fill="#3c2222"/>
<rect x="1052" y="508" width="9" height="9" fill="#3c2222"/>
<rect x="1060" y="508" width="9" height="9" fill="#422727"/>
<rect x="1068" y="508" width="9" height="9" fill="#4d2f2f"/>
<rect x="1076" y="508" width="9" height="9" fill="#553434"/>
<rect x="1084" y="508" width="9" height="9" fill="#5e3a3a"/>
<rect x="1092" y="508" width="9" height="9" fill="#643e3e"/>
<rect x="1100" y="508" width="9" height="9" fill="#714747"/>
<rect x="1108" y="508" width="9" height="9" fill="#815252"/>
<rect x="1116" y="508" width="9" height="9" fill="#935f5f"/>
<rect x="1124" y="508" width="9" height="9" fill="#a46a6a"/>
<rect x="1132" y="508" width="9" height="9" fill="#b17272"/>
<rect x="1140" y="508" width="9" height="9" fill="#bd7b7b"/>
<rect x="1148" y="508" width="9" height="9" fill="#c68c84"/>
<rect x="1156" y="508" width="9" height="9" fill="#cda18e"/>
<rect x="1164" y="508" width="9" height="9" fill="#d3b497"/>
<rect x="1172" y="508" width="9" height="9" fill="#d9c29f"/>
<rect x="1180" y="508" width="9" height="9" fill="#ddcda5"/>
<rect x="1188" y="508" width="9" height="9" fill="#e1d7aa"/>
<rect x="1196" y="508" width="9" height="9" fill="#e4dfae"/>
<rect x="1204" y="508" width="9" height="9" fill="#e7e5b2"/>
<rect x="1212" y="508" width="9" height="9" fill="#e9e9b6"/>
<rect x="1220" y="508" width="9" height="9" fill="#ebebbc"/>
<rect x="1228" y="508" width="9" height="9" fill="#ebebbe"/>
<rect x="1236" y="508" width="9" height="9" fill="#ececc1"/>
<rect x="1244" y="508" width="9" height="9" fill="#ededc4"/>
<rect x="1252" y="508" width="9" height="9" fill="#ededc6"/>
<rect x="1260" y="508" width="9" height="9" fill="#eeeec9"/>
<rect x="1268" y="508" width="9" height="9" fill="#efefcb"/>
<rect x="1276" y="508" width="9" height="9" fill="#efefcc"/>
<rect x="1284" y="508" width="9" height="9" fill="#f0f0ce"/>
<rect x="1292" y="508" width="9" height="9" fill="#f0f0ce"/>
<rect x="1300" y="508" width="9" height="9" fill="#efefcc"/>
<rect x="1308" y="508" width="9" height="9" fill="#efefcc"/>
<rect x="1316" y="508" width="9" height="9" fill="#f0f0ce"/>
<rect x="1324" y="508" width="9" height="9" fill="#efefcc"/>
<rect x="1332" y="508" width="9" height="9" fill="#efefcb"/>
<rect x="1340" y="508" width="9" height="9" fill="#eeeeca"/>
<rect x="1348" y="508" width="9" height="9" fill="#eeeec9"/>
<rect x="1356" y="508" width="9" height="9" fill="#eeeec7"/>
<rect x="1364" y="508" width="9" height="9" fill="#ededc6"/>
<rect x="1372" y="508" width="9" height="9" fill="#ededc6"/>
<rect x="1380" y="508" width="9" height="9" fill="#ededc6"/>
<rect x="1388" y="508" width="9" height="9" fill="#ededc6"/>
<rect x="1396" y="508" width="9" height="9" fill="#ededc6"/>
<rect x="1404" y="508" width="9" height="9" fill="#ededc6"/>
<rect x="1412" y="508" width="9" height="9" fill="#ededc6"/>
<rect x="1420" y="508" width="9" height="9" fill="#ededc6"/>
<rect x="1428" y="508" width="9" height="9" fill="#ededc6"/>
<rect x="1436" y="508" width="9" height="9" fill="#ededc6"/>
<rect x="1036" y="516" width="9" height="9" fill="#402525"/>
<rect x="1044" y="516" width="9" height="9" fill="#402525"/>
<rect x="1052" y="516" width="9" height="9" fill="#402525"/>
<rect x="1060" y="516" width="9" height="9" fill="#452929"/>
<rect x="1068" y="516" width="9" height="9" fill="#503131"/>
<rect x="1076" y="516" width="9" height="9" fill="#5b3939"/>
<rect x="1084" y="516" width="9" height="9" fill="#643e3e"/>
<rect x="1092" y="516" width="9" height="9" fill="#6f4646"/>
<rect x="1100" y="516" width="9" height="9" fill="#7b4e4e"/>
<rect x="1108" y="516" width="9" height="9" fill="#8d5a5a"/>
<rect x="1116" y="516" width="9" height="9" fill="#9e6666"/>
<rect x="1124" y="516" width="9" height="9" fill="#ae7171"/>
<rect x="1132" y="516" width="9" height="9" fill="#bc7a7a"/>
<rect x="1140" y="516" width="9" height="9" fill="#c68b84"/>
<rect x="1148" y="516" width="9" height="9" fill="#cb9e8c"/>
<rect x="1156" y="516" width="9" height="9" fill="#d1ae95"/>
<rect x="1164" y="516" width="9" height="9" fill="#d7bd9c"/>
<rect x="1172" y="516" width="9" height="9" fill="#dcc9a3"/>
<rect x="1180" y="516" width="9" height="9" fill="#dfd2a7"/>
<rect x="1188" y="516" width="9" height="9" fill="#e2daac"/>
<rect x="1196" y="516" width="9" height="9" fill="#e5e1b0"/>
<rect x="1204" y="516" width="9" height="9" fill="#e8e7b3"/>
<rect x="1212" y="516" width="9" height="9" fill="#eaeab9"/>
<rect x="1220" y="516" width="9" height="9" fill="#ebebbd"/>
<rect x="1228" y="516" width="9" height="9" fill="#ececc0"/>
<rect x="1236" y="516" width="9" height="9" fill="#ececc2"/>
<rect x="1244" y="516" width="9" height="9" fill="#ededc5"/>
<rect x="1252" y="516" width="9" height="9" fill="#ededc6"/>
<rect x="1260" y="516" width="9" height="9" fill="#eeeec9"/>
<rect x="1268" y="516" width="9" height="9" fill="#efefcb"/>
<rect x="1276" y="516" width="9" height="9" fill="#efefcc"/>
<rect x="1284" y="516" width="9" height="9" fill="#efefcc"/>
<rect x="1292" y="516" width="9" height="9" fill="#f0f0ce"/>
<rect x="1300" y="516" width="9" height="9" fill="#f0f0ce"/>
<rect x="1308" y="516" width="9" height="9" fill="#f0f0cf"/>
<rect x="1316" y="516" width="9" height="9" fill="#f0f0d0"/>
<rect x="1324" y="516" width="9" height="9" fill="#f0f0d0"/>
<rect x="1332" y="516" width="9" height="9" fill="#f0f0cf"/>
<rect x="1340" y="516" width="9" height="9" fill="#f0f0ce"/>
<rect x="1348" y="516" width="9" height="9" fill="#efefcc"/>
<rect x="1356" y="516" width="9" height="9" fill="#efefcb"/>
<rect x="1364" y="516" width="9" height="9" fill="#eeeeca"/>
<rect x="1372" y="516" width="9" height="9" fill="#eeeec9"/>
<rect x="1380" y="516" width="9" height="9" fill="#ededc6"/>
<rect x="1388" y="516" width="9" height="9" fill="#ededc5"/>
<rect x="1396" y="516" width="9" height="9" fill="#ededc4"/>
<rect x="1404" y="516" width="9" height="9" fill="#ececc2"/>
<rect x="1412" y="516" width="9" height="9" fill="#ececc2"/>
<rect x="1420" y="516" width="9" height="9" fill="#ececc2"/>
<rect x="1428" y="516" width="9" height="9" fill="#ececc2"/>
<rect x="1436" y="516" width="9" height="9" fill="#ececc2"/>
<rect x="1036" y="524" width="9" height="9" fill="#391f1f"/>
<rect x="1044" y="524" width="9" height="9" fill="#391f1f"/>
<rect x="1052" y="524" width="9" height="9" fill="#391f1f"/>
<rect x="1060" y="524" width="9" height="9" fill="#422727"/>
<rect x="1068" y="524" width="9" height="9" fill="#4d2f2f"/>
<rect x="1076" y="524" width="9" height="9" fill="#593737"/>
<rect x="1084" y="524" width="9" height="9" fill="#643e3e"/>
<rect x="1092" y="524" width="9" height="9" fill="#6f4646"/>
<rect x="1100" y="524" width="9" height="9" fill="#7b4e4e"/>
<rect x="1108" y="524" width="9" height="9" fill="#8a5858"/>
<rect x="1116" y="524" width="9" height="9" fill="#9a6363"/>
<rect x="1124" y="524" width="9" height="9" fill="#a96d6d"/>
<rect x="1132" y="524" width="9" height="9" fill="#b67676"/>
<rect x="1140" y="524" width="9" height="9" fill="#c27f7e"/>
<rect x="1148" y="524" width="9" height="9" fill="#c79186"/>
<rect x="1156" y="524" width="9" height="9" fill="#cca08e"/>
<rect x="1164" y="524" width="9" height="9" fill="#d1ad94"/>
<rect x="1172" y="524" width="9" height="9" fill="#d5b89a"/>
<rect x="1180" y="524" width="9" height="9" fill="#d8c19f"/>
<rect x="1188" y="524" width="9" height="9" fill="#dcc9a3"/>
<rect x="1196" y="524" width="9" height="9" fill="#dfd1a7"/>
<rect x="1204" y="524" width="9" height="9" fill="#e1d8aa"/>
<rect x="1212" y="524" width="9" height="9" fill="#e3dcad"/>
<rect x="1220" y="524" width="9" height="9" fill="#e4dfae"/>
<rect x="1228" y="524" width="9" height="9" fill="#e5e1b0"/>
<rect x="1236" y="524" width="9" height="9" fill="#e6e3b1"/>
<rect x="1244" y="524" width="9" height="9" fill="#e6e4b1"/>
<rect x="1252" y="524" width="9" height="9" fill="#e7e6b2"/>
<rect x="1260" y="524" width="9" height="9" fill="#e8e7b3"/>
<rect x="1268" y="524" width="9" height="9" fill="#e8e7b3"/>
<rect x="1276" y="524" width="9" height="9" fill="#e8e7b3"/>
<rect x="1284" y="524" width="9" height="9" fill="#e8e8b4"/>
<rect x="1292" y="524" width="9" height="9" fill="#e9e9b5"/>
<rect x="1300" y="524" width="9" height="9" fill="#e9e9b8"/>
<rect x="1308" y="524" width="9" height="9" fill="#eaeab9"/>
<rect x="1316" y="524" width="9" height="9" fill="#eaeaba"/>
<rect x="1324" y="524" width="9" height="9" fill="#eaeaba"/>
<rect x="1332" y="524" width="9" height="9" fill="#eaeab9"/>
<rect x="1340" y="524" width="9" height="9" fill="#e9e9b8"/>
<rect x="1348" y="524" width="9" height="9" fill="#e9e9b6"/>
<rect x="1356" y="524" width="9" height="9" fill="#e9e9b5"/>
<rect x="1364" y="524" width="9" height="9" fill="#e9e9b5"/>
<rect x="1372" y="524" width="9" height="9" fill="#e8e7b3"/>
<rect x="1380" y="524" width="9" height="9" fill="#e7e6b2"/>
<rect x="1388" y="524" width="9" height="9" fill="#e7e5b2"/>
<rect x="1396" y="524" width="9" height="9" fill="#e6e3b1"/>
<rect x="1404" y="524" width="9" height="9" fill="#e6e3b1"/>
<rect x="1412" y="524" width="9" height="9" fill="#e6e2b0"/>
<rect x="1420" y="524" width="9" height="9" fill="#e6e2b0"/>
<rect x="1428" y="524" width="9" height="9" fill="#e6e2b0"/>
<rect x="1436" y="524" width="9" height="9" fill="#e6e2b0"/>
<rect x="1036" y="532" width="9" height="9" fill="#321a1a"/>
<rect x="1044" y="532" width="9" height="9" fill="#321a1a"/>
<rect x="1052" y="532" width="9" height="9" fill="#321a1a"/>
<rect x="1060" y="532" width="9" height="9" fill="#3c2222"/>
<rect x="1068" y="532" width="9" height="9" fill="#482b2b"/>
<rect x="1076" y="532" width="9" height="9" fill="#553434"/>
<rect x="1084" y="532" width="9" height="9" fill="#5e3a3a"/>
<rect x="1092" y="532" width="9" height="9" fill="#664040"/>
<rect x="1100" y="532" width="9" height="9" fill="#6f4646"/>
<rect x="1108" y="532" width="9" height="9" fill="#7b4e4e"/>
<rect x="1116" y="532" width="9" height="9" fill="#875656"/>
<rect x="1124" y="532" width="9" height="9" fill="#925e5e"/>
<rect x="1132" y="532" width="9" height="9" fill="#9c6565"/>
<rect x="1140" y="532" width="9" height="9" fill="#a66c6c"/>
<rect x="1148" y="532" width="9" height="9" fill="#af7272"/>
<rect x="1156" y="532" width="9" height="9" fill="#ba7979"/>
<rect x="1164" y="532" width="9" height="9" fill="#c2817f"/>
<rect x="1172" y="532" width="9" height="9" fill="#c78f86"/>
<rect x="1180" y="532" width="9" height="9" fill="#cb9b8b"/>
<rect x="1188" y="532" width="9" height="9" fill="#cea590"/>
<rect x="1196" y="532" width="9" height="9" fill="#d1ae95"/>
<rect x="1204" y="532" width="9" height="9" fill="#d4b699"/>
<rect x="1212" y="532" width="9" height="9" fill="#d6bb9b"/>
<rect x="1220" y="532" width="9" height="9" fill="#d7be9d"/>
<rect x="1228" y="532" width="9" height="9" fill="#d8c19f"/>
<rect x="1236" y="532" width="9" height="9" fill="#d9c29f"/>
<rect x="1244" y="532" width="9" height="9" fill="#d9c3a0"/>
<rect x="1252" y="532" width="9" height="9" fill="#d9c3a0"/>
<rect x="1260" y="532" width="9" height="9" fill="#d9c3a0"/>
<rect x="1268" y="532" width="9" height="9" fill="#d9c3a0"/>
<rect x="1276" y="532" width="9" height="9" fill="#d9c3a0"/>
<rect x="1284" y="532" width="9" height="9" fill="#dac4a0"/>
<rect x="1292" y="532" width="9" height="9" fill="#dac5a1"/>
<rect x="1300" y="532" width="9" height="9" fill="#dbc7a2"/>
<rect x="1308" y="532" width="9" height="9" fill="#dbc8a2"/>
<rect x="1316" y="532" width="9" height="9" fill="#dcc9a3"/>
<rect x="1324" y="532" width="9" height="9" fill="#dcc9a3"/>
<rect x="1332" y="532" width="9" height="9" fill="#dcc9a3"/>
<rect x="1340" y="532" width="9" height="9" fill="#dbc8a2"/>
<rect x="1348" y="532" width="9" height="9" fill="#dac6a1"/>
<rect x="1356" y="532" width="9" height="9" fill="#dac6a1"/>
<rect x="1364" y="532" width="9" height="9" fill="#dac5a1"/>
<rect x="1372" y="532" width="9" height="9" fill="#dac4a0"/>
<rect x="1380" y="532" width="9" height="9" fill="#dac4a0"/>
<rect x="1388" y="532" width="9" height="9" fill="#dac4a0"/>
<rect x="1396" y="532" width="9" height="9" fill="#dac4a0"/>
<rect x="1404" y="532" width="9" height="9" fill="#dac4a0"/>
<rect x="1412" y="532" width="9" height="9" fill="#dac4a0"/>
<rect x="1420" y="532" width="9" height="9" fill="#dac4a0"/>
<rect x="1428" y="532" width="9" height="9" fill="#dac4a0"/>
<rect x="1436" y="532" width="9" height="9" fill="#dac4a0"/>
<rect x="1036" y="540" width="9" height="9" fill="#422727"/>
<rect x="1044" y="540" width="9" height="9" fill="#422727"/>
<rect x="1052" y="540" width="9" height="9" fill="#422727"/>
<rect x="1060" y="540" width="9" height="9" fill="#482b2b"/>
<rect x="1068" y="540" width="9" height="9" fill="#523232"/>
<rect x="1076" y="540" width="9" height="9" fill="#5e3a3a"/>
<rect x="1084" y="540" width="9" height="9" fill="#694242"/>
<rect x="1092" y="540" width="9" height="9" fill="#764b4b"/>
<rect x="1100" y="540" width="9" height="9" fill="#815252"/>
<rect x="1108" y="540" width="9" height="9" fill="#8d5a5a"/>
<rect x="1116" y="540" width="9" height="9" fill="#996262"/>
<rect x="1124" y="540" width="9" height="9" fill="#a36969"/>
<rect x="1132" y="540" width="9" height="9" fill="#ad7070"/>
<rect x="1140" y="540" width="9" height="9" fill="#b67676"/>
<rect x="1148" y="540" width="9" height="9" fill="#c07c7c"/>
<rect x="1156" y="540" width="9" height="9" fill="#c58a83"/>
<rect x="1164" y="540" width="9" height="9" fill="#c99789"/>
<rect x="1172" y="540" width="9" height="9" fill="#cea48f"/>
<rect x="1180" y="540" width="9" height="9" fill="#d2b296"/>
<rect x="1188" y="540" width="9" height="9" fill="#d6bb9b"/>
<rect x="1196" y="540" width="9" height="9" fill="#d9c3a0"/>
<rect x="1204" y="540" width="9" height="9" fill="#dcc9a3"/>
<rect x="1212" y="540" width="9" height="9" fill="#ddcea5"/>
<rect x="1220" y="540" width="9" height="9" fill="#dfd2a7"/>
<rect x="1228" y="540" width="9" height="9" fill="#e0d5a9"/>
<rect x="1236" y="540" width="9" height="9" fill="#e1d6a9"/>
<rect x="1244" y="540" width="9" height="9" fill="#e0d5a9"/>
<rect x="1252" y="540" width="9" height="9" fill="#e0d4a8"/>
<rect x="1260" y="540" width="9" height="9" fill="#dfd3a8"/>
<rect x="1268" y="540" width="9" height="9" fill="#dfd2a7"/>
<rect x="1276" y="540" width="9" height="9" fill="#dfd2a7"/>
<rect x="1284" y="540" width="9" height="9" fill="#dfd2a7"/>
<rect x="1292" y="540" width="9" height="9" fill="#dfd2a7"/>
<rect x="1300" y="540" width="9" height="9" fill="#dfd2a7"/>
<rect x="1308" y="540" width="9" height="9" fill="#dfd3a8"/>
<rect x="1316" y="540" width="9" height="9" fill="#e0d4a8"/>
<rect x="1324" y="540" width="9" height="9" fill="#e0d4a8"/>
<rect x="1332" y="540" width="9" height="9" fill="#dfd3a8"/>
<rect x="1340" y="540" width="9" height="9" fill="#dfd1a7"/>
<rect x="1348" y="540" width="9" height="9" fill="#ded0a6"/>
<rect x="1356" y="540" width="9" height="9" fill="#ddcea5"/>
<rect x="1364" y="540" width="9" height="9" fill="#ddcda5"/>
<rect x="1372" y="540" width="9" height="9" fill="#ddcca4"/>
<rect x="1380" y="540" width="9" height="9" fill="#ddcca4"/>
<rect x="1388" y="540" width="9" height="9" fill="#ddcca4"/>
<rect x="1396" y="540" width="9" height="9" fill="#ddcca4"/>
<rect x="1404" y="540" width="9" height="9" fill="#dccba4"/>
<rect x="1412" y="540" width="9" height="9" fill="#dccba4"/>
<rect x="1420" y="540" width="9" height="9" fill="#dccba4"/>
<rect x="1428" y="540" width="9" height="9" fill="#dccba4"/>
<rect x="1436" y="540" width="9" height="9" fill="#dccba4"/>
<rect x="1036" y="548" width="9" height="9" fill="#593737"/>
<rect x="1044" y="548" width="9" height="9" fill="#593737"/>
<rect x="1052" y="548" width="9" height="9" fill="#593737"/>
<rect x="1060" y="548" width="9" height="9" fill="#5b3939"/>
<rect x="1068" y="548" width="9" height="9" fill="#664040"/>
<rect x="1076" y="548" width="9" height="9" fill="#724949"/>
<rect x="1084" y="548" width="9" height="9" fill="#815252"/>
<rect x="1092" y="548" width="9" height="9" fill="#925e5e"/>
<rect x="1100" y="548" width="9" height="9" fill="#a06767"/>
<rect x="1108" y="548" width="9" height="9" fill="#ae7171"/>
<rect x="1116" y="548" width="9" height="9" fill="#ba7979"/>
<rect x="1124" y="548" width="9" height="9" fill="#c38480"/>
<rect x="1132" y="548" width="9" height="9" fill="#c99588"/>
<rect x="1140" y="548" width="9" height="9" fill="#cea48f"/>
<rect x="1148" y="548" width="9" height="9" fill="#d2b296"/>
<rect x="1156" y="548" width="9" height="9" fill="#d7bd9c"/>
<rect x="1164" y="548" width="9" height="9" fill="#dbc8a2"/>
<rect x="1172" y="548" width="9" height="9" fill="#e0d4a8"/>
<rect x="1180" y="548" width="9" height="9" fill="#e5e0af"/>
<rect x="1188" y="548" width="9" height="9" fill="#e9e9b5"/>
<rect x="1196" y="548" width="9" height="9" fill="#ececc0"/>
<rect x="1204" y="548" width="9" height="9" fill="#ededc6"/>
<rect x="1212" y="548" width="9" height="9" fill="#efefcb"/>
<rect x="1220" y="548" width="9" height="9" fill="#f1f1d1"/>
<rect x="1228" y="548" width="9" height="9" fill="#f2f2d5"/>
<rect x="1236" y="548" width="9" height="9" fill="#f2f2d7"/>
<rect x="1244" y="548" width="9" height="9" fill="#f2f2d6"/>
<rect x="1252" y="548" width="9" height="9" fill="#f2f2d5"/>
<rect x="1260" y="548" width="9" height="9" fill="#f1f1d3"/>
<rect x="1268" y="548" width="9" height="9" fill="#f1f1d3"/>
<rect x="1276" y="548" width="9" height="9" fill="#f1f1d1"/>
<rect x="1284" y="548" width="9" height="9" fill="#f0f0d0"/>
<rect x="1292" y="548" width="9" height="9" fill="#f0f0cf"/>
<rect x="1300" y="548" width="9" height="9" fill="#f0f0ce"/>
<rect x="1308" y="548" width="9" height="9" fill="#f0f0ce"/>
<rect x="1316" y="548" width="9" height="9" fill="#f0f0ce"/>
<rect x="1324" y="548" width="9" height="9" fill="#f0f0ce"/>
<rect x="1332" y="548" width="9" height="9" fill="#efefcb"/>
<rect x="1340" y="548" width="9" height="9" fill="#eeeec9"/>
<rect x="1348" y="548" width="9" height="9" fill="#ededc6"/>
<rect x="1356" y="548" width="9" height="9" fill="#ededc4"/>
<rect x="1364" y="548" width="9" height="9" fill="#ececc1"/>
<rect x="1372" y="548" width="9" height="9" fill="#ebebbe"/>
<rect x="1380" y="548" width="9" height="9" fill="#ebebbc"/>
<rect x="1388" y="548" width="9" height="9" fill="#eaeab9"/>
<rect x="1396" y="548" width="9" height="9" fill="#e9e9b8"/>
<rect x="1404" y="548" width="9" height="9" fill="#e9e9b6"/>
<rect x="1412" y="548" width="9" height="9" fill="#e9e9b6"/>
<rect x="1420" y="548" width="9" height="9" fill="#e9e9b6"/>
<rect x="1428" y="548" width="9" height="9" fill="#e9e9b6"/>
<rect x="1436" y="548" width="9" height="9" fill="#e9e9b6"/>
<rect x="1036" y="556" width="9" height="9" fill="#643e3e"/>
<rect x="1044" y="556" width="9" height="9" fill="#643e3e"/>
<rect x="1052" y="556" width="9" height="9" fill="#643e3e"/>
<rect x="1060" y="556" width="9" height="9" fill="#694242"/>
<rect x="1068" y="556" width="9" height="9" fill="#764b4b"/>
<rect x="1076" y="556" width="9" height="9" fill="#845454"/>
<rect x="1084" y="556" width="9" height="9" fill="#925e5e"/>
<rect x="1092" y="556" width="9" height="9" fill="#a16868"/>
<rect x="1100" y="556" width="9" height="9" fill="#af7272"/>
<rect x="1108" y="556" width="9" height="9" fill="#bc7a7a"/>
<rect x="1116" y="556" width="9" height="9" fill="#c58882"/>
<rect x="1124" y="556" width="9" height="9" fill="#ca988a"/>
<rect x="1132" y="556" width="9" height="9" fill="#cfa892"/>
<rect x="1140" y="556" width="9" height="9" fill="#d4b699"/>
<rect x="1148" y="556" width="9" height="9" fill="#d9c29f"/>
<rect x="1156" y="556" width="9" height="9" fill="#ddcda5"/>
<rect x="1164" y="556" width="9" height="9" fill="#e2d8ab"/>
<rect x="1172" y="556" width="9" height="9" fill="#e6e2b0"/>
<rect x="1180" y="556" width="9" height="9" fill="#eaeab9"/>
<rect x="1188" y="556" width="9" height="9" fill="#ededc6"/>
<rect x="1196" y="556" width="9" height="9" fill="#f0f0cf"/>
<rect x="1204" y="556" width="9" height="9" fill="#f1f1d4"/>
<rect x="1212" y="556" width="9" height="9" fill="#f3f3da"/>
<rect x="1220" y="556" width="9" height="9" fill="#f4f4de"/>
<rect x="1228" y="556" width="9" height="9" fill="#f6f6e3"/>
<rect x="1236" y="556" width="9" height="9" fill="#f7f7e5"/>
<rect x="1244" y="556" width="9" height="9" fill="#f7f7e7"/>
<rect x="1252" y="556" width="9" height="9" fill="#f8f8e8"/>
<rect x="1260" y="556" width="9" height="9" fill="#f8f8e9"/>
<rect x="1268" y="556" width="9" height="9" fill="#f8f8ea"/>
<rect x="1276" y="556" width="9" height="9" fill="#f9f9eb"/>
<rect x="1284" y="556" width="9" height="9" fill="#f8f8ea"/>
<rect x="1292" y="556" width="9" height="9" fill="#f8f8ea"/>
<rect x="1300" y="556" width="9" height="9" fill="#f8f8e9"/>
<rect x="1308" y="556" width="9" height="9" fill="#f8f8e9"/>
<rect x="1316" y="556" width="9" height="9" fill="#f8f8e8"/>
<rect x="1324" y="556" width="9" height="9" fill="#f7f7e7"/>
<rect x="1332" y="556" width="9" height="9" fill="#f7f7e5"/>
<rect x="1340" y="556" width="9" height="9" fill="#f6f6e3"/>
<rect x="1348" y="556" width="9" height="9" fill="#f5f5e0"/>
<rect x="1356" y="556" width="9" height="9" fill="#f4f4de"/>
<rect x="1364" y="556" width="9" height="9" fill="#f4f4dc"/>
<rect x="1372" y="556" width="9" height="9" fill="#f3f3da"/>
<rect x="1380" y="556" width="9" height="9" fill="#f2f2d7"/>
<rect x="1388" y="556" width="9" height="9" fill="#f2f2d5"/>
<rect x="1396" y="556" width="9" height="9" fill="#f1f1d3"/>
<rect x="1404" y="556" width="9" height="9" fill="#f0f0d0"/>
<rect x="1412" y="556" width="9" height="9" fill="#f0f0cf"/>
<rect x="1420" y="556" width="9" height="9" fill="#f0f0cf"/>
<rect x="1428" y="556" width="9" height="9" fill="#f0f0cf"/>
<rect x="1436" y="556" width="9" height="9" fill="#f0f0cf"/>
<rect x="1036" y="564" width="9" height="9" fill="#694242"/>
<rect x="1044" y="564" width="9" height="9" fill="#694242"/>
<rect x="1052" y="564" width="9" height="9" fill="#694242"/>
<rect x="1060" y="564" width="9" height="9" fill="#724949"/>
<rect x="1068" y="564" width="9" height="9" fill="#815252"/>
<rect x="1076" y="564" width="9" height="9" fill="#915d5d"/>
<rect x="1084" y="564" width="9" height="9" fill="#9e6666"/>
<rect x="1092" y="564" width="9" height="9" fill="#ab6f6f"/>
<rect x="1100" y="564" width="9" height="9" fill="#b87777"/>
<rect x="1108" y="564" width="9" height="9" fill="#c2817f"/>
<rect x="1116" y="564" width="9" height="9" fill="#c89387"/>
<rect x="1124" y="564" width="9" height="9" fill="#cda28f"/>
<rect x="1132" y="564" width="9" height="9" fill="#d2b096"/>
<rect x="1140" y="564" width="9" height="9" fill="#d6bc9c"/>
<rect x="1148" y="564" width="9" height="9" fill="#dbc8a2"/>
<rect x="1156" y="564" width="9" height="9" fill="#dfd3a8"/>
<rect x="1164" y="564" width="9" height="9" fill="#e4ddad"/>
<rect x="1172" y="564" width="9" height="9" fill="#e7e6b2"/>
<rect x="1180" y="564" width="9" height="9" fill="#ebebbc"/>
<rect x="1188" y="564" width="9" height="9" fill="#ededc6"/>
<rect x="1196" y="564" width="9" height="9" fill="#f0f0cf"/>
<rect x="1204" y="564" width="9" height="9" fill="#f2f2d5"/>
<rect x="1212" y="564" width="9" height="9" fill="#f3f3db"/>
<rect x="1220" y="564" width="9" height="9" fill="#f5f5df"/>
<rect x="1228" y="564" width="9" height="9" fill="#f6f6e4"/>
<rect x="1236" y="564" width="9" height="9" fill="#f7f7e7"/>
<rect x="1244" y="564" width="9" height="9" fill="#f8f8ea"/>
<rect x="1252" y="564" width="9" height="9" fill="#fafaef"/>
<rect x="1260" y="564" width="9" height="9" fill="#fafaf1"/>
<rect x="1268" y="564" width="9" height="9" fill="#fbfbf4"/>
<rect x="1276" y="564" width="9" height="9" fill="#fcfcf5"/>
<rect x="1284" y="564" width="9" height="9" fill="#fcfcf6"/>
<rect x="1292" y="564" width="9" height="9" fill="#fcfcf6"/>
<rect x="1300" y="564" width="9" height="9" fill="#fcfcf6"/>
<rect x="1308" y="564" width="9" height="9" fill="#fcfcf5"/>
<rect x="1316" y="564" width="9" height="9" fill="#fbfbf4"/>
<rect x="1324" y="564" width="9" height="9" fill="#fbfbf3"/>
<rect x="1332" y="564" width="9" height="9" fill="#fafaf1"/>
<rect x="1340" y="564" width="9" height="9" fill="#fafaef"/>
<rect x="1348" y="564" width="9" height="9" fill="#f9f9ed"/>
<rect x="1356" y="564" width="9" height="9" fill="#f8f8ea"/>
<rect x="1364" y="564" width="9" height="9" fill="#f8f8e9"/>
<rect x="1372" y="564" width="9" height="9" fill="#f7f7e7"/>
<rect x="1380" y="564" width="9" height="9" fill="#f7f7e5"/>
<rect x="1388" y="564" width="9" height="9" fill="#f6f6e3"/>
<rect x="1396" y="564" width="9" height="9" fill="#f5f5df"/>
<rect x="1404" y="564" width="9" height="9" fill="#f4f4dc"/>
<rect x="1412" y="564" width="9" height="9" fill="#f3f3d8"/>
<rect x="1420" y="564" width="9" height="9" fill="#f3f3d8"/>
<rect x="1428" y="564" width="9" height="9" fill="#f3f3d8"/>
<rect x="1436" y="564" width="9" height="9" fill="#f3f3d8"/>
<rect x="1036" y="572" width="9" height="9" fill="#6d4545"/>
<rect x="1044" y="572" width="9" height="9" fill="#6d4545"/>
<rect x="1052" y="572" width="9" height="9" fill="#6d4545"/>
<rect x="1060" y="572" width="9" height="9" fill="#764b4b"/>
<rect x="1068" y="572" width="9" height="9" fill="#875656"/>
<rect x="1076" y="572" width="9" height="9" fill="#966161"/>
<rect x="1084" y="572" width="9" height="9" fill="#a46a6a"/>
<rect x="1092" y="572" width="9" height="9" fill="#b17272"/>
<rect x="1100" y="572" width="9" height="9" fill="#bd7b7b"/>
<rect x="1108" y="572" width="9" height="9" fill="#c58a83"/>
<rect x="1116" y="572" width="9" height="9" fill="#ca9a8b"/>
<rect x="1124" y="572" width="9" height="9" fill="#cfa791"/>
<rect x="1132" y="572" width="9" height="9" fill="#d4b598"/>
<rect x="1140" y="572" width="9" height="9" fill="#d8c19f"/>
<rect x="1148" y="572" width="9" height="9" fill="#ddcca4"/>
<rect x="1156" y="572" width="9" height="9" fill="#e1d7aa"/>
<rect x="1164" y="572" width="9" height="9" fill="#e5e0af"/>
<rect x="1172" y="572" width="9" height="9" fill="#e8e8b4"/>
<rect x="1180" y="572" width="9" height="9" fill="#ebebbe"/>
<rect x="1188" y="572" width="9" height="9" fill="#eeeec7"/>
<rect x="1196" y="572" width="9" height="9" fill="#f1f1d1"/>
<rect x="1204" y="572" width="9" height="9" fill="#f3f3da"/>
<rect x="1212" y="572" width="9" height="9" fill="#f5f5e0"/>
<rect x="1220" y="572" width="9" height="9" fill="#f7f7e5"/>
<rect x="1228" y="572" width="9" height="9" fill="#f8f8e9"/>
<rect x="1236" y="572" width="9" height="9" fill="#f9f9ed"/>
<rect x="1244" y="572" width="9" height="9" fill="#fafaf0"/>
<rect x="1252" y="572" width="9" height="9" fill="#fbfbf3"/>
<rect x="1260" y="572" width="9" height="9" fill="#fcfcf5"/>
<rect x="1268" y="572" width="9" height="9" fill="#fdfdf8"/>
<rect x="1276" y="572" width="9" height="9" fill="#fdfdf9"/>
<rect x="1284" y="572" width="9" height="9" fill="#fdfdfa"/>
<rect x="1292" y="572" width="9" height="9" fill="#fdfdfa"/>
<rect x="1300" y="572" width="9" height="9" fill="#fdfdf9"/>
<rect x="1308" y="572" width="9" height="9" fill="#fdfdf9"/>
<rect x="1316" y="572" width="9" height="9" fill="#fcfcf7"/>
<rect x="1324" y="572" width="9" height="9" fill="#fcfcf6"/>
<rect x="1332" y="572" width="9" height="9" fill="#fbfbf4"/>
<rect x="1340" y="572" width="9" height="9" fill="#fbfbf2"/>
<rect x="1348" y="572" width="9" height="9" fill="#fafaf1"/>
<rect x="1356" y="572" width="9" height="9" fill="#fafaef"/>
<rect x="1364" y="572" width="9" height="9" fill="#f9f9ee"/>
<rect x="1372" y="572" width="9" height="9" fill="#f9f9eb"/>
<rect x="1380" y="572" width="9" height="9" fill="#f8f8e9"/>
<rect x="1388" y="572" width="9" height="9" fill="#f7f7e6"/>
<rect x="1396" y="572" width="9" height="9" fill="#f6f6e3"/>
<rect x="1404" y="572" width="9" height="9" fill="#f4f4de"/>
<rect x="1412" y="572" width="9" height="9" fill="#f3f3db"/>
<rect x="1420" y="572" width="9" height="9" fill="#f3f3db"/>
<rect x="1428" y="572" width="9" height="9" fill="#f3f3db"/>
<rect x="1436" y="572" width="9" height="9" fill="#f3f3db"/>
<rect x="1036" y="580" width="9" height="9" fill="#6f4646"/>
<rect x="1044" y="580" width="9" height="9" fill="#6f4646"/>
<rect x="1052" y="580" width="9" height="9" fill="#6f4646"/>
<rect x="1060" y="580" width="9" height="9" fill="#774c4c"/>
<rect x="1068" y="580" width="9" height="9" fill="#875656"/>
<rect x="1076" y="580" width="9" height="9" fill="#976262"/>
<rect x="1084" y="580" width="9" height="9" fill="#a66c6c"/>
<rect x="1092" y="580" width="9" height="9" fill="#b47575"/>
<rect x="1100" y="580" width="9" height="9" fill="#c17d7d"/>
<rect x="1108" y="580" width="9" height="9" fill="#c68e85"/>
<rect x="1116" y="580" width="9" height="9" fill="#cb9e8c"/>
<rect x="1124" y="580" width="9" height="9" fill="#d0ab93"/>
<rect x="1132" y="580" width="9" height="9" fill="#d5b89a"/>
<rect x="1140" y="580" width="9" height="9" fill="#d9c3a0"/>
<rect x="1148" y="580" width="9" height="9" fill="#decfa6"/>
<rect x="1156" y="580" width="9" height="9" fill="#e2d9ab"/>
<rect x="1164" y="580" width="9" height="9" fill="#e6e2b0"/>
<rect x="1172" y="580" width="9" height="9" fill="#e9e9b5"/>
<rect x="1180" y="580" width="9" height="9" fill="#ececc0"/>
<rect x="1188" y="580" width="9" height="9" fill="#eeeeca"/>
<rect x="1196" y="580" width="9" height="9" fill="#f2f2d5"/>
<rect x="1204" y="580" width="9" height="9" fill="#f5f5e0"/>
<rect x="1212" y="580" width="9" height="9" fill="#f8f8e8"/>
<rect x="1220" y="580" width="9" height="9" fill="#f9f9ed"/>
<rect x="1228" y="580" width="9" height="9" fill="#fafaf0"/>
<rect x="1236" y="580" width="9" height="9" fill="#fbfbf3"/>
<rect x="1244" y="580" width="9" height="9" fill="#fcfcf5"/>
<rect x="1252" y="580" width="9" height="9" fill="#fcfcf6"/>
<rect x="1260" y="580" width="9" height="9" fill="#fcfcf7"/>
<rect x="1268" y="580" width="9" height="9" fill="#fdfdf8"/>
<rect x="1276" y="580" width="9" height="9" fill="#fdfdf8"/>
<rect x="1284" y="580" width="9" height="9" fill="#fdfdf8"/>
<rect x="1292" y="580" width="9" height="9" fill="#fdfdf8"/>
<rect x="1300" y="580" width="9" height="9" fill="#fcfcf7"/>
<rect x="1308" y="580" width="9" height="9" fill="#fcfcf6"/>
<rect x="1316" y="580" width="9" height="9" fill="#fcfcf5"/>
<rect x="1324" y="580" width="9" height="9" fill="#fbfbf4"/>
<rect x="1332" y="580" width="9" height="9" fill="#fbfbf2"/>
<rect x="1340" y="580" width="9" height="9" fill="#fafaf0"/>
<rect x="1348" y="580" width="9" height="9" fill="#fafaef"/>
<rect x="1356" y="580" width="9" height="9" fill="#f9f9ee"/>
<rect x="1364" y="580" width="9" height="9" fill="#f9f9ed"/>
<rect x="1372" y="580" width="9" height="9" fill="#f8f8ea"/>
<rect x="1380" y="580" width="9" height="9" fill="#f7f7e7"/>
<rect x="1388" y="580" width="9" height="9" fill="#f6f6e4"/>
<rect x="1396" y="580" width="9" height="9" fill="#f5f5df"/>
<rect x="1404" y="580" width="9" height="9" fill="#f3f3db"/>
<rect x="1412" y="580" width="9" height="9" fill="#f2f2d7"/>
<rect x="1420" y="580" width="9" height="9" fill="#f2f2d7"/>
<rect x="1428" y="580" width="9" height="9" fill="#f2f2d7"/>
<rect x="1436" y="580" width="9" height="9" fill="#f2f2d7"/>
<rect x="1036" y="588" width="9" height="9" fill="#714747"/>
<rect x="1044" y="588" width="9" height="9" fill="#714747"/>
<rect x="1052" y="588" width="9" height="9" fill="#714747"/>
<rect x="1060" y="588" width="9" height="9" fill="#794d4d"/>
<rect x="1068" y="588" width="9" height="9" fill="#8a5858"/>
<rect x="1076" y="588" width="9" height="9" fill="#9a6363"/>
<rect x="1084" y="588" width="9" height="9" fill="#aa6e6e"/>
<rect x="1092" y="588" width="9" height="9" fill="#b87777"/>
<rect x="1100" y="588" width="9" height="9" fill="#c38480"/>
<rect x="1108" y="588" width="9" height="9" fill="#c89387"/>
<rect x="1116" y="588" width="9" height="9" fill="#cda18e"/>
<rect x="1124" y="588" width="9" height="9" fill="#d1ae95"/>
<rect x="1132" y="588" width="9" height="9" fill="#d6ba9b"/>
<rect x="1140" y="588" width="9" height="9" fill="#dac5a1"/>
<rect x="1148" y="588" width="9" height="9" fill="#ded0a6"/>
<rect x="1156" y="588" width="9" height="9" fill="#e2daac"/>
<rect x="1164" y="588" width="9" height="9" fill="#e6e2b0"/>
<rect x="1172" y="588" width="9" height="9" fill="#e9e9b6"/>
<rect x="1180" y="588" width="9" height="9" fill="#ececc1"/>
<rect x="1188" y="588" width="9" height="9" fill="#efefcc"/>
<rect x="1196" y="588" width="9" height="9" fill="#f2f2d7"/>
<rect x="1204" y="588" width="9" height="9" fill="#f6f6e3"/>
<rect x="1212" y="588" width="9" height="9" fill="#f9f9eb"/>
<rect x="1220" y="588" width="9" height="9" fill="#fafaf1"/>
<rect x="1228" y="588" width="9" height="9" fill="#fbfbf4"/>
<rect x="1236" y="588" width="9" height="9" fill="#fcfcf6"/>
<rect x="1244" y="588" width="9" height="9" fill="#fcfcf7"/>
<rect x="1252" y="588" width="9" height="9" fill="#fdfdf8"/>
<rect x="1260" y="588" width="9" height="9" fill="#fdfdf8"/>
<rect x="1268" y="588" width="9" height="9" fill="#fdfdf8"/>
<rect x="1276" y="588" width="9" height="9" fill="#fdfdf8"/>
<rect x="1284" y="588" width="9" height="9" fill="#fcfcf7"/>
<rect x="1292" y="588" width="9" height="9" fill="#fcfcf6"/>
<rect x="1300" y="588" width="9" height="9" fill="#fcfcf5"/>
<rect x="1308" y="588" width="9" height="9" fill="#fbfbf4"/>
<rect x="1316" y="588" width="9" height="9" fill="#fbfbf3"/>
<rect x="1324" y="588" width="9" height="9" fill="#fbfbf2"/>
<rect x="1332" y="588" width="9" height="9" fill="#fafaf0"/>
<rect x="1340" y="588" width="9" height="9" fill="#f9f9ee"/>
<rect x="1348" y="588" width="9" height="9" fill="#f9f9ed"/>
<rect x="1356" y="588" width="9" height="9" fill="#f9f9eb"/>
<rect x="1364" y="588" width="9" height="9" fill="#f8f8ea"/>
<rect x="1372" y="588" width="9" height="9" fill="#f8f8e8"/>
<rect x="1380" y="588" width="9" height="9" fill="#f7f7e5"/>
<rect x="1388" y="588" width="9" height="9" fill="#f5f5e2"/>
<rect x="1396" y="588" width="9" height="9" fill="#f4f4de"/>
<rect x="1404" y="588" width="9" height="9" fill="#f3f3da"/>
<rect x="1412" y="588" width="9" height="9" fill="#f2f2d6"/>
<rect x="1420" y="588" width="9" height="9" fill="#f2f2d6"/>
<rect x="1428" y="588" width="9" height="9" fill="#f2f2d6"/>
<rect x="1436" y="588" width="9" height="9" fill="#f2f2d6"/>
<rect x="1036" y="596" width="9" height="9" fill="#764b4b"/>
<rect x="1044" y="596" width="9" height="9" fill="#764b4b"/>
<rect x="1052" y="596" width="9" height="9" fill="#764b4b"/>
<rect x="1060" y="596" width="9" height="9" fill="#7e5050"/>
<rect x="1068" y="596" width="9" height="9" fill="#8e5b5b"/>
<rect x="1076" y="596" width="9" height="9" fill="#9f6767"/>
<rect x="1084" y="596" width="9" height="9" fill="#ae7171"/>
<rect x="1092" y="596" width="9" height="9" fill="#bd7b7b"/>
<rect x="1100" y="596" width="9" height="9" fill="#c68b84"/>
<rect x="1108" y="596" width="9" height="9" fill="#ca9a8b"/>
<rect x="1116" y="596" width="9" height="9" fill="#cea691"/>
<rect x="1124" y="596" width="9" height="9" fill="#d2b296"/>
<rect x="1132" y="596" width="9" height="9" fill="#d6bc9c"/>
<rect x="1140" y="596" width="9" height="9" fill="#dac6a1"/>
<rect x="1148" y="596" width="9" height="9" fill="#dfd1a7"/>
<rect x="1156" y="596" width="9" height="9" fill="#e2daac"/>
<rect x="1164" y="596" width="9" height="9" fill="#e6e2b0"/>
<rect x="1172" y="596" width="9" height="9" fill="#e9e9b6"/>
<rect x="1180" y="596" width="9" height="9" fill="#ececc2"/>
<rect x="1188" y="596" width="9" height="9" fill="#efefcc"/>
<rect x="1196" y="596" width="9" height="9" fill="#f3f3d8"/>
<rect x="1204" y="596" width="9" height="9" fill="#f6f6e3"/>
<rect x="1212" y="596" width="9" height="9" fill="#f9f9eb"/>
<rect x="1220" y="596" width="9" height="9" fill="#fafaf1"/>
<rect x="1228" y="596" width="9" height="9" fill="#fbfbf4"/>
<rect x="1236" y="596" width="9" height="9" fill="#fcfcf7"/>
<rect x="1244" y="596" width="9" height="9" fill="#fdfdf8"/>
<rect x="1252" y="596" width="9" height="9" fill="#fdfdf8"/>
<rect x="1260" y="596" width="9" height="9" fill="#fdfdf9"/>
<rect x="1268" y="596" width="9" height="9" fill="#fdfdf9"/>
<rect x="1276" y="596" width="9" height="9" fill="#fdfdf8"/>
<rect x="1284" y="596" width="9" height="9" fill="#fcfcf7"/>
<rect x="1292" y="596" width="9" height="9" fill="#fcfcf6"/>
<rect x="1300" y="596" width="9" height="9" fill="#fbfbf4"/>
<rect x="1308" y="596" width="9" height="9" fill="#fbfbf4"/>
<rect x="1316" y="596" width="9" height="9" fill="#fbfbf3"/>
<rect x="1324" y="596" width="9" height="9" fill="#fafaf1"/>
<rect x="1332" y="596" width="9" height="9" fill="#fafaef"/>
<rect x="1340" y="596" width="9" height="9" fill="#f9f9ed"/>
<rect x="1348" y="596" width="9" height="9" fill="#f8f8ea"/>
<rect x="1356" y="596" width="9" height="9" fill="#f8f8e9"/>
<rect x="1364" y="596" width="9" height="9" fill="#f8f8e8"/>
<rect x="1372" y="596" width="9" height="9" fill="#f7f7e6"/>
<rect x="1380" y="596" width="9" height="9" fill="#f6f6e4"/>
<rect x="1388" y="596" width="9" height="9" fill="#f5f5e0"/>
<rect x="1396" y="596" width="9" height="9" fill="#f4f4de"/>
<rect x="1404" y="596" width="9" height="9" fill="#f3f3db"/>
<rect x="1412" y="596" width="9" height="9" fill="#f3f3d8"/>
<rect x="1420" y="596" width="9" height="9" fill="#f3f3d8"/>
<rect x="1428" y="596" width="9" height="9" fill="#f3f3d8"/>
<rect x="1436" y="596" width="9" height="9" fill="#f3f3d8"/>
<rect x="1036" y="604" width="9" height="9" fill="#7c4f4f"/>
<rect x="1044" y="604" width="9" height="9" fill="#7c4f4f"/>
<rect x="1052" y="604" width="9" height="9" fill="#7c4f4f"/>
<rect x="1060" y="604" width="9" height="9" fill="#845454"/>
<rect x="1068" y="604" width="9" height="9" fill="#956060"/>
<rect x="1076" y="604" width="9" height="9" fill="#a46a6a"/>
<rect x="1084" y="604" width="9" height="9" fill="#b47575"/>
<rect x="1092" y="604" width="9" height="9" fill="#c27f7e"/>
<rect x="1100" y="604" width="9" height="9" fill="#c89287"/>
<rect x="1108" y="604" width="9" height="9" fill="#cca08e"/>
<rect x="1116" y="604" width="9" height="9" fill="#d0ab93"/>
<rect x="1124" y="604" width="9" height="9" fill="#d4b598"/>
<rect x="1132" y="604" width="9" height="9" fill="#d7be9d"/>
<rect x="1140" y="604" width="9" height="9" fill="#dbc7a2"/>
<rect x="1148" y="604" width="9" height="9" fill="#ded0a6"/>
<rect x="1156" y="604" width="9" height="9" fill="#e2d9ab"/>
<rect x="1164" y="604" width="9" height="9" fill="#e5e1b0"/>
<rect x="1172" y="604" width="9" height="9" fill="#e9e9b6"/>
<rect x="1180" y="604" width="9" height="9" fill="#ececc1"/>
<rect x="1188" y="604" width="9" height="9" fill="#efefcc"/>
<rect x="1196" y="604" width="9" height="9" fill="#f2f2d7"/>
<rect x="1204" y="604" width="9" height="9" fill="#f5f5e0"/>
<rect x="1212" y="604" width="9" height="9" fill="#f8f8e8"/>
<rect x="1220" y="604" width="9" height="9" fill="#f9f9ee"/>
<rect x="1228" y="604" width="9" height="9" fill="#fbfbf2"/>
<rect x="1236" y="604" width="9" height="9" fill="#fcfcf5"/>
<rect x="1244" y="604" width="9" height="9" fill="#fcfcf6"/>
<rect x="1252" y="604" width="9" height="9" fill="#fdfdf8"/>
<rect x="1260" y="604" width="9" height="9" fill="#fdfdf9"/>
<rect x="1268" y="604" width="9" height="9" fill="#fdfdfa"/>
<rect x="1276" y="604" width="9" height="9" fill="#fdfdfa"/>
<rect x="1284" y="604" width="9" height="9" fill="#fdfdf9"/>
<rect x="1292" y="604" width="9" height="9" fill="#fcfcf6"/>
<rect x="1300" y="604" width="9" height="9" fill="#fcfcf5"/>
<rect x="1308" y="604" width="9" height="9" fill="#fbfbf4"/>
<rect x="1316" y="604" width="9" height="9" fill="#fbfbf3"/>
<rect x="1324" y="604" width="9" height="9" fill="#fafaf1"/>
<rect x="1332" y="604" width="9" height="9" fill="#fafaef"/>
<rect x="1340" y="604" width="9" height="9" fill="#f9f9eb"/>
<rect x="1348" y="604" width="9" height="9" fill="#f8f8e8"/>
<rect x="1356" y="604" width="9" height="9" fill="#f7f7e6"/>
<rect x="1364" y="604" width="9" height="9" fill="#f7f7e5"/>
<rect x="1372" y="604" width="9" height="9" fill="#f6f6e4"/>
<rect x="1380" y="604" width="9" height="9" fill="#f6f6e3"/>
<rect x="1388" y="604" width="9" height="9" fill="#f5f5e2"/>
<rect x="1396" y="604" width="9" height="9" fill="#f5f5e0"/>
<rect x="1404" y="604" width="9" height="9" fill="#f5f5df"/>
<rect x="1412" y="604" width="9" height="9" fill="#f4f4de"/>
<rect x="1420" y="604" width="9" height="9" fill="#f4f4de"/>
<rect x="1428" y="604" width="9" height="9" fill="#f4f4de"/>
<rect x="1436" y="604" width="9" height="9" fill="#f4f4de"/>
<rect x="1036" y="612" width="9" height="9" fill="#815252"/>
<rect x="1044" y="612" width="9" height="9" fill="#815252"/>
<rect x="1052" y="612" width="9" height="9" fill="#815252"/>
<rect x="1060" y="612" width="9" height="9" fill="#8a5858"/>
<rect x="1068" y="612" width="9" height="9" fill="#9a6363"/>
<rect x="1076" y="612" width="9" height="9" fill="#aa6e6e"/>
<rect x="1084" y="612" width="9" height="9" fill="#ba7979"/>
<rect x="1092" y="612" width="9" height="9" fill="#c58882"/>
<rect x="1100" y="612" width="9" height="9" fill="#ca9a8b"/>
<rect x="1108" y="612" width="9" height="9" fill="#cea691"/>
<rect x="1116" y="612" width="9" height="9" fill="#d2af95"/>
<rect x="1124" y="612" width="9" height="9" fill="#d5b89a"/>
<rect x="1132" y="612" width="9" height="9" fill="#d8bf9e"/>
<rect x="1140" y="612" width="9" height="9" fill="#dbc7a2"/>
<rect x="1148" y="612" width="9" height="9" fill="#decfa6"/>
<rect x="1156" y="612" width="9" height="9" fill="#e2d8ab"/>
<rect x="1164" y="612" width="9" height="9" fill="#e5e0af"/>
<rect x="1172" y="612" width="9" height="9" fill="#e9e9b5"/>
<rect x="1180" y="612" width="9" height="9" fill="#ececc1"/>
<rect x="1188" y="612" width="9" height="9" fill="#efefcc"/>
<rect x="1196" y="612" width="9" height="9" fill="#f2f2d6"/>
<rect x="1204" y="612" width="9" height="9" fill="#f5f5df"/>
<rect x="1212" y="612" width="9" height="9" fill="#f7f7e6"/>
<rect x="1220" y="612" width="9" height="9" fill="#f9f9eb"/>
<rect x="1228" y="612" width="9" height="9" fill="#fafaf1"/>
<rect x="1236" y="612" width="9" height="9" fill="#fbfbf4"/>
<rect x="1244" y="612" width="9" height="9" fill="#fcfcf6"/>
<rect x="1252" y="612" width="9" height="9" fill="#fcfcf7"/>
<rect x="1260" y="612" width="9" height="9" fill="#fdfdf9"/>
<rect x="1268" y="612" width="9" height="9" fill="#fdfdfa"/>
<rect x="1276" y="612" width="9" height="9" fill="#fdfdfa"/>
<rect x="1284" y="612" width="9" height="9" fill="#fdfdf9"/>
<rect x="1292" y="612" width="9" height="9" fill="#fcfcf7"/>
<rect x="1300" y="612" width="9" height="9" fill="#fcfcf5"/>
<rect x="1308" y="612" width="9" height="9" fill="#fbfbf4"/>
<rect x="1316" y="612" width="9" height="9" fill="#fbfbf4"/>
<rect x="1324" y="612" width="9" height="9" fill="#fbfbf2"/>
<rect x="1332" y="612" width="9" height="9" fill="#fafaef"/>
<rect x="1340" y="612" width="9" height="9" fill="#f9f9eb"/>
<rect x="1348" y="612" width="9" height="9" fill="#f8f8e8"/>
<rect x="1356" y="612" width="9" height="9" fill="#f7f7e6"/>
<rect x="1364" y="612" width="9" height="9" fill="#f7f7e5"/>
<rect x="1372" y="612" width="9" height="9" fill="#f6f6e4"/>
<rect x="1380" y="612" width="9" height="9" fill="#f6f6e4"/>
<rect x="1388" y="612" width="9" height="9" fill="#f6f6e4"/>
<rect x="1396" y="612" width="9" height="9" fill="#f6f6e4"/>
<rect x="1404" y="612" width="9" height="9" fill="#f6f6e4"/>
<rect x="1412" y="612" width="9" height="9" fill="#f6f6e4"/>
<rect x="1420" y="612" width="9" height="9" fill="#f6f6e4"/>
<rect x="1428" y="612" width="9" height="9" fill="#f6f6e4"/>
<rect x="1436" y="612" width="9" height="9" fill="#f6f6e4"/>
<rect x="1036" y="620" width="9" height="9" fill="#845454"/>
<rect x="1044" y="620" width="9" height="9" fill="#845454"/>
<rect x="1052" y="620" width="9" height="9" fill="#845454"/>
<rect x="1060" y="620" width="9" height="9" fill="#8e5b5b"/>
<rect x="1068" y="620" width="9" height="9" fill="#9f6767"/>
<rect x="1076" y="620" width="9" height="9" fill="#af7272"/>
<rect x="1084" y="620" width="9" height="9" fill="#c07c7c"/>
<rect x="1092" y="620" width="9" height="9" fill="#c79186"/>
<rect x="1100" y="620" width="9" height="9" fill="#cda18e"/>
<rect x="1108" y="620" width="9" height="9" fill="#d0ac94"/>
<rect x="1116" y="620" width="9" height="9" fill="#d3b497"/>
<rect x="1124" y="620" width="9" height="9" fill="#d6ba9b"/>
<rect x="1132" y="620" width="9" height="9" fill="#d8c09e"/>
<rect x="1140" y="620" width="9" height="9" fill="#dbc7a2"/>
<rect x="1148" y="620" width="9" height="9" fill="#ddcea5"/>
<rect x="1156" y="620" width="9" height="9" fill="#e1d7aa"/>
<rect x="1164" y="620" width="9" height="9" fill="#e5e0af"/>
<rect x="1172" y="620" width="9" height="9" fill="#e8e7b3"/>
<rect x="1180" y="620" width="9" height="9" fill="#ececc0"/>
<rect x="1188" y="620" width="9" height="9" fill="#efefcb"/>
<rect x="1196" y="620" width="9" height="9" fill="#f2f2d6"/>
<rect x="1204" y="620" width="9" height="9" fill="#f4f4de"/>
<rect x="1212" y="620" width="9" height="9" fill="#f7f7e6"/>
<rect x="1220" y="620" width="9" height="9" fill="#f9f9ed"/>
<rect x="1228" y="620" width="9" height="9" fill="#fbfbf2"/>
<rect x="1236" y="620" width="9" height="9" fill="#fcfcf5"/>
<rect x="1244" y="620" width="9" height="9" fill="#fcfcf6"/>
<rect x="1252" y="620" width="9" height="9" fill="#fcfcf7"/>
<rect x="1260" y="620" width="9" height="9" fill="#fdfdf9"/>
<rect x="1268" y="620" width="9" height="9" fill="#fdfdfa"/>
<rect x="1276" y="620" width="9" height="9" fill="#fdfdfa"/>
<rect x="1284" y="620" width="9" height="9" fill="#fdfdf9"/>
<rect x="1292" y="620" width="9" height="9" fill="#fcfcf7"/>
<rect x="1300" y="620" width="9" height="9" fill="#fcfcf5"/>
<rect x="1308" y="620" width="9" height="9" fill="#fbfbf4"/>
<rect x="1316" y="620" width="9" height="9" fill="#fbfbf4"/>
<rect x="1324" y="620" width="9" height="9" fill="#fbfbf3"/>
<rect x="1332" y="620" width="9" height="9" fill="#fafaf0"/>
<rect x="1340" y="620" width="9" height="9" fill="#f9f9ee"/>
<rect x="1348" y="620" width="9" height="9" fill="#f8f8ea"/>
<rect x="1356" y="620" width="9" height="9" fill="#f8f8e9"/>
<rect x="1364" y="620" width="9" height="9" fill="#f7f7e7"/>
<rect x="1372" y="620" width="9" height="9" fill="#f7f7e7"/>
<rect x="1380" y="620" width="9" height="9" fill="#f7f7e7"/>
<rect x="1388" y="620" width="9" height="9" fill="#f8f8e8"/>
<rect x="1396" y="620" width="9" height="9" fill="#f8f8e8"/>
<rect x="1404" y="620" width="9" height="9" fill="#f8f8e9"/>
<rect x="1412" y="620" width="9" height="9" fill="#f8f8e9"/>
<rect x="1420" y="620" width="9" height="9" fill="#f8f8e9"/>
<rect x="1428" y="620" width="9" height="9" fill="#f8f8e9"/>
<rect x="1436" y="620" width="9" height="9" fill="#f8f8e9"/>
<rect x="1036" y="628" width="9" height="9" fill="#875656"/>
<rect x="1044" y="628" width="9" height="9" fill="#875656"/>
<rect x="1052" y="628" width="9" height="9" fill="#875656"/>
<rect x="1060" y="628" width="9" height="9" fill="#915d5d"/>
<rect x="1068" y="628" width="9" height="9" fill="#a46a6a"/>
<rect x="1076" y="628" width="9" height="9" fill="#b47575"/>
<rect x="1084" y="628" width="9" height="9" fill="#c38280"/>
<rect x="1092" y="628" width="9" height="9" fill="#ca988a"/>
<rect x="1100" y="628" width="9" height="9" fill="#cfa791"/>
<rect x="1108" y="628" width="9" height="9" fill="#d2b296"/>
<rect x="1116" y="628" width="9" height="9" fill="#d4b799"/>
<rect x="1124" y="628" width="9" height="9" fill="#d6bb9b"/>
<rect x="1132" y="628" width="9" height="9" fill="#d8c09e"/>
<rect x="1140" y="628" width="9" height="9" fill="#dac6a1"/>
<rect x="1148" y="628" width="9" height="9" fill="#ddcda5"/>
<rect x="1156" y="628" width="9" height="9" fill="#e1d6a9"/>
<rect x="1164" y="628" width="9" height="9" fill="#e4deae"/>
<rect x="1172" y="628" width="9" height="9" fill="#e8e7b3"/>
<rect x="1180" y="628" width="9" height="9" fill="#ebebbe"/>
<rect x="1188" y="628" width="9" height="9" fill="#efefcb"/>
<rect x="1196" y="628" width="9" height="9" fill="#f2f2d6"/>
<rect x="1204" y="628" width="9" height="9" fill="#f5f5df"/>
<rect x="1212" y="628" width="9" height="9" fill="#f8f8e8"/>
<rect x="1220" y="628" width="9" height="9" fill="#fafaf0"/>
<rect x="1228" y="628" width="9" height="9" fill="#fcfcf5"/>
<rect x="1236" y="628" width="9" height="9" fill="#fdfdf8"/>
<rect x="1244" y="628" width="9" height="9" fill="#fdfdf8"/>
<rect x="1252" y="628" width="9" height="9" fill="#fdfdf8"/>
<rect x="1260" y="628" width="9" height="9" fill="#fdfdf8"/>
<rect x="1268" y="628" width="9" height="9" fill="#fdfdf9"/>
<rect x="1276" y="628" width="9" height="9" fill="#fdfdf9"/>
<rect x="1284" y="628" width="9" height="9" fill="#fdfdf8"/>
<rect x="1292" y="628" width="9" height="9" fill="#fcfcf7"/>
<rect x="1300" y="628" width="9" height="9" fill="#fcfcf5"/>
<rect x="1308" y="628" width="9" height="9" fill="#fcfcf5"/>
<rect x="1316" y="628" width="9" height="9" fill="#fbfbf4"/>
<rect x="1324" y="628" width="9" height="9" fill="#fbfbf4"/>
<rect x="1332" y="628" width="9" height="9" fill="#fbfbf2"/>
<rect x="1340" y="628" width="9" height="9" fill="#fafaf1"/>
<rect x="1348" y="628" width="9" height="9" fill="#fafaf0"/>
<rect x="1356" y="628" width="9" height="9" fill="#fafaef"/>
<rect x="1364" y="628" width="9" height="9" fill="#f9f9ee"/>
<rect x="1372" y="628" width="9" height="9" fill="#f9f9ee"/>
<rect x="1380" y="628" width="9" height="9" fill="#f9f9ee"/>
<rect x="1388" y="628" width="9" height="9" fill="#f9f9ee"/>
<rect x="1396" y="628" width="9" height="9" fill="#fafaef"/>
<rect x="1404" y="628" width="9" height="9" fill="#fafaef"/>
<rect x="1412" y="628" width="9" height="9" fill="#fafaef"/>
<rect x="1420" y="628" width="9" height="9" fill="#fafaef"/>
<rect x="1428" y="628" width="9" height="9" fill="#fafaef"/>
<rect x="1436" y="628" width="9" height="9" fill="#fafaef"/>
<rect x="1036" y="636" width="9" height="9" fill="#885757"/>
<rect x="1044" y="636" width="9" height="9" fill="#885757"/>
<rect x="1052" y="636" width="9" height="9" fill="#885757"/>
<rect x="1060" y="636" width="9" height="9" fill="#935f5f"/>
<rect x="1068" y="636" width="9" height="9" fill="#a66c6c"/>
<rect x="1076" y="636" width="9" height="9" fill="#b87777"/>
<rect x="1084" y="636" width="9" height="9" fill="#c58882"/>
<rect x="1092" y="636" width="9" height="9" fill="#cb9c8c"/>
<rect x="1100" y="636" width="9" height="9" fill="#d0ab93"/>
<rect x="1108" y="636" width="9" height="9" fill="#d3b497"/>
<rect x="1116" y="636" width="9" height="9" fill="#d5b89a"/>
<rect x="1124" y="636" width="9" height="9" fill="#d6bb9b"/>
<rect x="1132" y="636" width="9" height="9" fill="#d7be9d"/>
<rect x="1140" y="636" width="9" height="9" fill="#d9c29f"/>
<rect x="1148" y="636" width="9" height="9" fill="#dcc9a3"/>
<rect x="1156" y="636" width="9" height="9" fill="#dfd1a7"/>
<rect x="1164" y="636" width="9" height="9" fill="#e2d9ab"/>
<rect x="1172" y="636" width="9" height="9" fill="#e6e2b0"/>
<rect x="1180" y="636" width="9" height="9" fill="#e9e9b8"/>
<rect x="1188" y="636" width="9" height="9" fill="#ededc5"/>
<rect x="1196" y="636" width="9" height="9" fill="#f1f1d1"/>
<rect x="1204" y="636" width="9" height="9" fill="#f4f4dc"/>
<rect x="1212" y="636" width="9" height="9" fill="#f7f7e6"/>
<rect x="1220" y="636" width="9" height="9" fill="#f9f9ee"/>
<rect x="1228" y="636" width="9" height="9" fill="#fbfbf4"/>
<rect x="1236" y="636" width="9" height="9" fill="#fcfcf7"/>
<rect x="1244" y="636" width="9" height="9" fill="#fcfcf7"/>
<rect x="1252" y="636" width="9" height="9" fill="#fcfcf6"/>
<rect x="1260" y="636" width="9" height="9" fill="#fcfcf6"/>
<rect x="1268" y="636" width="9" height="9" fill="#fcfcf7"/>
<rect x="1276" y="636" width="9" height="9" fill="#fcfcf7"/>
<rect x="1284" y="636" width="9" height="9" fill="#fcfcf7"/>
<rect x="1292" y="636" width="9" height="9" fill="#fcfcf5"/>
<rect x="1300" y="636" width="9" height="9" fill="#fbfbf4"/>
<rect x="1308" y="636" width="9" height="9" fill="#fbfbf4"/>
<rect x="1316" y="636" width="9" height="9" fill="#fbfbf4"/>
<rect x="1324" y="636" width="9" height="9" fill="#fbfbf4"/>
<rect x="1332" y="636" width="9" height="9" fill="#fbfbf3"/>
<rect x="1340" y="636" width="9" height="9" fill="#fbfbf3"/>
<rect x="1348" y="636" width="9" height="9" fill="#fbfbf3"/>
<rect x="1356" y="636" width="9" height="9" fill="#fbfbf2"/>
<rect x="1364" y="636" width="9" height="9" fill="#fbfbf2"/>
<rect x="1372" y="636" width="9" height="9" fill="#fbfbf2"/>
<rect x="1380" y="636" width="9" height="9" fill="#fbfbf2"/>
<rect x="1388" y="636" width="9" height="9" fill="#fbfbf2"/>
<rect x="1396" y="636" width="9" height="9" fill="#fbfbf2"/>
<rect x="1404" y="636" width="9" height="9" fill="#fbfbf2"/>
<rect x="1412" y="636" width="9" height="9" fill="#fbfbf2"/>
<rect x="1420" y="636" width="9" height="9" fill="#fbfbf2"/>
<rect x="1428" y="636" width="9" height="9" fill="#fbfbf2"/>
<rect x="1436" y="636" width="9" height="9" fill="#fbfbf2"/>
<rect x="1036" y="644" width="9" height="9" fill="#8a5858"/>
<rect x="1044" y="644" width="9" height="9" fill="#8a5858"/>
<rect x="1052" y="644" width="9" height="9" fill="#8a5858"/>
<rect x="1060" y="644" width="9" height="9" fill="#956060"/>
<rect x="1068" y="644" width="9" height="9" fill="#a96d6d"/>
<rect x="1076" y="644" width="9" height="9" fill="#ba7979"/>
<rect x="1084" y="644" width="9" height="9" fill="#c58a83"/>
<rect x="1092" y="644" width="9" height="9" fill="#cb9c8c"/>
<rect x="1100" y="644" width="9" height="9" fill="#d0aa92"/>
<rect x="1108" y="644" width="9" height="9" fill="#d2b296"/>
<rect x="1116" y="644" width="9" height="9" fill="#d4b699"/>
<rect x="1124" y="644" width="9" height="9" fill="#d5b89a"/>
<rect x="1132" y="644" width="9" height="9" fill="#d5b99a"/>
<rect x="1140" y="644" width="9" height="9" fill="#d6ba9b"/>
<rect x="1148" y="644" width="9" height="9" fill="#d7be9d"/>
<rect x="1156" y="644" width="9" height="9" fill="#dac6a1"/>
<rect x="1164" y="644" width="9" height="9" fill="#decfa6"/>
<rect x="1172" y="644" width="9" height="9" fill="#e2d8ab"/>
<rect x="1180" y="644" width="9" height="9" fill="#e6e2b0"/>
<rect x="1188" y="644" width="9" height="9" fill="#e9e9b8"/>
<rect x="1196" y="644" width="9" height="9" fill="#ededc5"/>
<rect x="1204" y="644" width="9" height="9" fill="#f0f0d0"/>
<rect x="1212" y="644" width="9" height="9" fill="#f3f3da"/>
<rect x="1220" y="644" width="9" height="9" fill="#f6f6e3"/>
<rect x="1228" y="644" width="9" height="9" fill="#f8f8ea"/>
<rect x="1236" y="644" width="9" height="9" fill="#fafaef"/>
<rect x="1244" y="644" width="9" height="9" fill="#fafaef"/>
<rect x="1252" y="644" width="9" height="9" fill="#fafaef"/>
<rect x="1260" y="644" width="9" height="9" fill="#fafaf0"/>
<rect x="1268" y="644" width="9" height="9" fill="#fbfbf2"/>
<rect x="1276" y="644" width="9" height="9" fill="#fbfbf3"/>
<rect x="1284" y="644" width="9" height="9" fill="#fbfbf3"/>
<rect x="1292" y="644" width="9" height="9" fill="#fbfbf2"/>
<rect x="1300" y="644" width="9" height="9" fill="#fafaf1"/>
<rect x="1308" y="644" width="9" height="9" fill="#fafaf1"/>
<rect x="1316" y="644" width="9" height="9" fill="#fafaf1"/>
<rect x="1324" y="644" width="9" height="9" fill="#fafaf1"/>
<rect x="1332" y="644" width="9" height="9" fill="#fbfbf2"/>
<rect x="1340" y="644" width="9" height="9" fill="#fbfbf2"/>
<rect x="1348" y="644" width="9" height="9" fill="#fbfbf2"/>
<rect x="1356" y="644" width="9" height="9" fill="#fbfbf2"/>
<rect x="1364" y="644" width="9" height="9" fill="#fbfbf2"/>
<rect x="1372" y="644" width="9" height="9" fill="#fbfbf2"/>
<rect x="1380" y="644" width="9" height="9" fill="#fbfbf2"/>
<rect x="1388" y="644" width="9" height="9" fill="#fbfbf2"/>
<rect x="1396" y="644" width="9" height="9" fill="#fbfbf2"/>
<rect x="1404" y="644" width="9" height="9" fill="#fbfbf2"/>
<rect x="1412" y="644" width="9" height="9" fill="#fbfbf2"/>
<rect x="1420" y="644" width="9" height="9" fill="#fbfbf2"/>
<rect x="1428" y="644" width="9" height="9" fill="#fbfbf2"/>
<rect x="1436" y="644" width="9" height="9" fill="#fbfbf2"/>
<rect x="1036" y="652" width="9" height="9" fill="#885757"/>
<rect x="1044" y="652" width="9" height="9" fill="#885757"/>
<rect x="1052" y="652" width="9" height="9" fill="#885757"/>
<rect x="1060" y="652" width="9" height="9" fill="#956060"/>
<rect x="1068" y="652" width="9" height="9" fill="#aa6e6e"/>
<rect x="1076" y="652" width="9" height="9" fill="#ba7979"/>
<rect x="1084" y="652" width="9" height="9" fill="#c48782"/>
<rect x="1092" y="652" width="9" height="9" fill="#c99789"/>
<rect x="1100" y="652" width="9" height="9" fill="#cea48f"/>
<rect x="1108" y="652" width="9" height="9" fill="#d0ac94"/>
<rect x="1116" y="652" width="9" height="9" fill="#d2b096"/>
<rect x="1124" y="652" width="9" height="9" fill="#d2b296"/>
<rect x="1132" y="652" width="9" height="9" fill="#d2af95"/>
<rect x="1140" y="652" width="9" height="9" fill="#d0ac94"/>
<rect x="1148" y="652" width="9" height="9" fill="#d1ae95"/>
<rect x="1156" y="652" width="9" height="9" fill="#d4b699"/>
<rect x="1164" y="652" width="9" height="9" fill="#d8bf9e"/>
<rect x="1172" y="652" width="9" height="9" fill="#dcc9a3"/>
<rect x="1180" y="652" width="9" height="9" fill="#e0d4a8"/>
<rect x="1188" y="652" width="9" height="9" fill="#e4ddad"/>
<rect x="1196" y="652" width="9" height="9" fill="#e7e5b2"/>
<rect x="1204" y="652" width="9" height="9" fill="#eaeab9"/>
<rect x="1212" y="652" width="9" height="9" fill="#ededc4"/>
<rect x="1220" y="652" width="9" height="9" fill="#f0f0ce"/>
<rect x="1228" y="652" width="9" height="9" fill="#f2f2d6"/>
<rect x="1236" y="652" width="9" height="9" fill="#f4f4dd"/>
<rect x="1244" y="652" width="9" height="9" fill="#f5f5e0"/>
<rect x="1252" y="652" width="9" height="9" fill="#f6f6e3"/>
<rect x="1260" y="652" width="9" height="9" fill="#f7f7e6"/>
<rect x="1268" y="652" width="9" height="9" fill="#f8f8ea"/>
<rect x="1276" y="652" width="9" height="9" fill="#f9f9ee"/>
<rect x="1284" y="652" width="9" height="9" fill="#fafaef"/>
<rect x="1292" y="652" width="9" height="9" fill="#f9f9ed"/>
<rect x="1300" y="652" width="9" height="9" fill="#f9f9ed"/>
<rect x="1308" y="652" width="9" height="9" fill="#f9f9eb"/>
<rect x="1316" y="652" width="9" height="9" fill="#f9f9ed"/>
<rect x="1324" y="652" width="9" height="9" fill="#f9f9ed"/>
<rect x="1332" y="652" width="9" height="9" fill="#f9f9ed"/>
<rect x="1340" y="652" width="9" height="9" fill="#f9f9ee"/>
<rect x="1348" y="652" width="9" height="9" fill="#f9f9ee"/>
<rect x="1356" y="652" width="9" height="9" fill="#f9f9ee"/>
<rect x="1364" y="652" width="9" height="9" fill="#f9f9ee"/>
<rect x="1372" y="652" width="9" height="9" fill="#f9f9ee"/>
<rect x="1380" y="652" width="9" height="9" fill="#f9f9ee"/>
<rect x="1388" y="652" width="9" height="9" fill="#f9f9ee"/>
<rect x="1396" y="652" width="9" height="9" fill="#f9f9ee"/>
<rect x="1404" y="652" width="9" height="9" fill="#f9f9ee"/>
<rect x="1412" y="652" width="9" height="9" fill="#f9f9ee"/>
<rect x="1420" y="652" width="9" height="9" fill="#f9f9ee"/>
<rect x="1428" y="652" width="9" height="9" fill="#f9f9ee"/>
<rect x="1436" y="652" width="9" height="9" fill="#f9f9ee"/>
<rect x="1036" y="660" width="9" height="9" fill="#875656"/>
<rect x="1044" y="660" width="9" height="9" fill="#875656"/>
<rect x="1052" y="660" width="9" height="9" fill="#875656"/>
<rect x="1060" y="660" width="9" height="9" fill="#935f5f"/>
<rect x="1068" y="660" width="9" height="9" fill="#a96d6d"/>
<rect x="1076" y="660" width="9" height="9" fill="#b87777"/>
<rect x="1084" y="660" width="9" height="9" fill="#c2817f"/>
<rect x="1092" y="660" width="9" height="9" fill="#c68e85"/>
<rect x="1100" y="660" width="9" height="9" fill="#ca988a"/>
<rect x="1108" y="660" width="9" height="9" fill="#cda18e"/>
<rect x="1116" y="660" width="9" height="9" fill="#cfa791"/>
<rect x="1124" y="660" width="9" height="9" fill="#cfa791"/>
<rect x="1132" y="660" width="9" height="9" fill="#cda18e"/>
<rect x="1140" y="660" width="9" height="9" fill="#c99789"/>
<rect x="1148" y="660" width="9" height="9" fill="#c99789"/>
<rect x="1156" y="660" width="9" height="9" fill="#cc9f8d"/>
<rect x="1164" y="660" width="9" height="9" fill="#d0ab93"/>
<rect x="1172" y="660" width="9" height="9" fill="#d4b699"/>
<rect x="1180" y="660" width="9" height="9" fill="#d8c09e"/>
<rect x="1188" y="660" width="9" height="9" fill="#dcc9a3"/>
<rect x="1196" y="660" width="9" height="9" fill="#dfd1a7"/>
<rect x="1204" y="660" width="9" height="9" fill="#e1d8aa"/>
<rect x="1212" y="660" width="9" height="9" fill="#e4dfae"/>
<rect x="1220" y="660" width="9" height="9" fill="#e7e5b2"/>
<rect x="1228" y="660" width="9" height="9" fill="#eaeab9"/>
<rect x="1236" y="660" width="9" height="9" fill="#ececc2"/>
<rect x="1244" y="660" width="9" height="9" fill="#eeeeca"/>
<rect x="1252" y="660" width="9" height="9" fill="#f0f0d0"/>
<rect x="1260" y="660" width="9" height="9" fill="#f2f2d7"/>
<rect x="1268" y="660" width="9" height="9" fill="#f5f5df"/>
<rect x="1276" y="660" width="9" height="9" fill="#f6f6e4"/>
<rect x="1284" y="660" width="9" height="9" fill="#f7f7e6"/>
<rect x="1292" y="660" width="9" height="9" fill="#f7f7e5"/>
<rect x="1300" y="660" width="9" height="9" fill="#f6f6e4"/>
<rect x="1308" y="660" width="9" height="9" fill="#f6f6e4"/>
<rect x="1316" y="660" width="9" height="9" fill="#f6f6e4"/>
<rect x="1324" y="660" width="9" height="9" fill="#f6f6e4"/>
<rect x="1332" y="660" width="9" height="9" fill="#f6f6e4"/>
<rect x="1340" y="660" width="9" height="9" fill="#f6f6e4"/>
<rect x="1348" y="660" width="9" height="9" fill="#f6f6e4"/>
<rect x="1356" y="660" width="9" height="9" fill="#f6f6e4"/>
<rect x="1364" y="660" width="9" height="9" fill="#f6f6e4"/>
<rect x="1372" y="660" width="9" height="9" fill="#f6f6e4"/>
<rect x="1380" y="660" width="9" height="9" fill="#f6f6e4"/>
<rect x="1388" y="660" width="9" height="9" fill="#f6f6e4"/>
<rect x="1396" y="660" width="9" height="9" fill="#f6f6e4"/>
<rect x="1404" y="660" width="9" height="9" fill="#f6f6e4"/>
<rect x="1412" y="660" width="9" height="9" fill="#f6f6e4"/>
<rect x="1420" y="660" width="9" height="9" fill="#f6f6e4"/>
<rect x="1428" y="660" width="9" height="9" fill="#f6f6e4"/>
<rect x="1436" y="660" width="9" height="9" fill="#f6f6e4"/>
<rect x="1036" y="668" width="9" height="9" fill="#815252"/>
<rect x="1044" y="668" width="9" height="9" fill="#815252"/>
<rect x="1052" y="668" width="9" height="9" fill="#815252"/>
<rect x="1060" y="668" width="9" height="9" fill="#8e5b5b"/>
<rect x="1068" y="668" width="9" height="9" fill="#a36969"/>
<rect x="1076" y="668" width="9" height="9" fill="#b17272"/>
<rect x="1084" y="668" width="9" height="9" fill="#bb7a7a"/>
<rect x="1092" y="668" width="9" height="9" fill="#c27f7e"/>
<rect x="1100" y="668" width="9" height="9" fill="#c58882"/>
<rect x="1108" y="668" width="9" height="9" fill="#c89287"/>
<rect x="1116" y="668" width="9" height="9" fill="#ca988a"/>
<rect x="1124" y="668" width="9" height="9" fill="#ca988a"/>
<rect x="1132" y="668" width="9" height="9" fill="#c78f86"/>
<rect x="1140" y="668" width="9" height="9" fill="#c38480"/>
<rect x="1148" y="668" width="9" height="9" fill="#c2817f"/>
<rect x="1156" y="668" width="9" height="9" fill="#c58882"/>
<rect x="1164" y="668" width="9" height="9" fill="#c99588"/>
<rect x="1172" y="668" width="9" height="9" fill="#cda18e"/>
<rect x="1180" y="668" width="9" height="9" fill="#d0ac94"/>
<rect x="1188" y="668" width="9" height="9" fill="#d4b699"/>
<rect x="1196" y="668" width="9" height="9" fill="#d7bd9c"/>
<rect x="1204" y="668" width="9" height="9" fill="#d9c3a0"/>
<rect x="1212" y="668" width="9" height="9" fill="#dcc9a3"/>
<rect x="1220" y="668" width="9" height="9" fill="#ded0a6"/>
<rect x="1228" y="668" width="9" height="9" fill="#e1d8aa"/>
<rect x="1236" y="668" width="9" height="9" fill="#e4deae"/>
<rect x="1244" y="668" width="9" height="9" fill="#e7e5b2"/>
<rect x="1252" y="668" width="9" height="9" fill="#e9e9b8"/>
<rect x="1260" y="668" width="9" height="9" fill="#ececc2"/>
<rect x="1268" y="668" width="9" height="9" fill="#efefcc"/>
<rect x="1276" y="668" width="9" height="9" fill="#f1f1d3"/>
<rect x="1284" y="668" width="9" height="9" fill="#f2f2d5"/>
<rect x="1292" y="668" width="9" height="9" fill="#f1f1d4"/>
<rect x="1300" y="668" width="9" height="9" fill="#f1f1d4"/>
<rect x="1308" y="668" width="9" height="9" fill="#f1f1d3"/>
<rect x="1316" y="668" width="9" height="9" fill="#f1f1d4"/>
<rect x="1324" y="668" width="9" height="9" fill="#f1f1d4"/>
<rect x="1332" y="668" width="9" height="9" fill="#f1f1d4"/>
<rect x="1340" y="668" width="9" height="9" fill="#f1f1d4"/>
<rect x="1348" y="668" width="9" height="9" fill="#f1f1d4"/>
<rect x="1356" y="668" width="9" height="9" fill="#f1f1d4"/>
<rect x="1364" y="668" width="9" height="9" fill="#f1f1d4"/>
<rect x="1372" y="668" width="9" height="9" fill="#f1f1d4"/>
<rect x="1380" y="668" width="9" height="9" fill="#f1f1d4"/>
<rect x="1388" y="668" width="9" height="9" fill="#f1f1d4"/>
<rect x="1396" y="668" width="9" height="9" fill="#f1f1d4"/>
<rect x="1404" y="668" width="9" height="9" fill="#f1f1d4"/>
<rect x="1412" y="668" width="9" height="9" fill="#f1f1d4"/>
<rect x="1420" y="668" width="9" height="9" fill="#f1f1d4"/>
<rect x="1428" y="668" width="9" height="9" fill="#f1f1d4"/>
<rect x="1436" y="668" width="9" height="9" fill="#f1f1d4"/>
<rect x="1036" y="676" width="9" height="9" fill="#774c4c"/>
<rect x="1044" y="676" width="9" height="9" fill="#774c4c"/>
<rect x="1052" y="676" width="9" height="9" fill="#774c4c"/>
<rect x="1060" y="676" width="9" height="9" fill="#845454"/>
<rect x="1068" y="676" width="9" height="9" fill="#976262"/>
<rect x="1076" y="676" width="9" height="9" fill="#a56b6b"/>
<rect x="1084" y="676" width="9" height="9" fill="#ae7171"/>
<rect x="1092" y="676" width="9" height="9" fill="#b47575"/>
<rect x="1100" y="676" width="9" height="9" fill="#b97878"/>
<rect x="1108" y="676" width="9" height="9" fill="#c07c7c"/>
<rect x="1116" y="676" width="9" height="9" fill="#c38480"/>
<rect x="1124" y="676" width="9" height="9" fill="#c38480"/>
<rect x="1132" y="676" width="9" height="9" fill="#c07c7c"/>
<rect x="1140" y="676" width="9" height="9" fill="#b77777"/>
<rect x="1148" y="676" width="9" height="9" fill="#b67676"/>
<rect x="1156" y="676" width="9" height="9" fill="#ba7979"/>
<rect x="1164" y="676" width="9" height="9" fill="#c27f7e"/>
<rect x="1172" y="676" width="9" height="9" fill="#c68c84"/>
<rect x="1180" y="676" width="9" height="9" fill="#c99789"/>
<rect x="1188" y="676" width="9" height="9" fill="#cca08e"/>
<rect x="1196" y="676" width="9" height="9" fill="#cfa791"/>
<rect x="1204" y="676" width="9" height="9" fill="#d1ad94"/>
<rect x="1212" y="676" width="9" height="9" fill="#d3b497"/>
<rect x="1220" y="676" width="9" height="9" fill="#d6ba9b"/>
<rect x="1228" y="676" width="9" height="9" fill="#d8c19f"/>
<rect x="1236" y="676" width="9" height="9" fill="#dbc8a2"/>
<rect x="1244" y="676" width="9" height="9" fill="#ded0a6"/>
<rect x="1252" y="676" width="9" height="9" fill="#e2d8ab"/>
<rect x="1260" y="676" width="9" height="9" fill="#e4dfae"/>
<rect x="1268" y="676" width="9" height="9" fill="#e7e6b2"/>
<rect x="1276" y="676" width="9" height="9" fill="#e9e9b6"/>
<rect x="1284" y="676" width="9" height="9" fill="#eaeaba"/>
<rect x="1292" y="676" width="9" height="9" fill="#eaeab9"/>
<rect x="1300" y="676" width="9" height="9" fill="#eaeab9"/>
<rect x="1308" y="676" width="9" height="9" fill="#eaeab9"/>
<rect x="1316" y="676" width="9" height="9" fill="#eaeab9"/>
<rect x="1324" y="676" width="9" height="9" fill="#eaeab9"/>
<rect x="1332" y="676" width="9" height="9" fill="#eaeab9"/>
<rect x="1340" y="676" width="9" height="9" fill="#eaeab9"/>
<rect x="1348" y="676" width="9" height="9" fill="#eaeab9"/>
<rect x="1356" y="676" width="9" height="9" fill="#eaeab9"/>
<rect x="1364" y="676" width="9" height="9" fill="#eaeab9"/>
<rect x="1372" y="676" width="9" height="9" fill="#eaeab9"/>
<rect x="1380" y="676" width="9" height="9" fill="#eaeab9"/>
<rect x="1388" y="676" width="9" height="9" fill="#eaeab9"/>
<rect x="1396" y="676" width="9" height="9" fill="#eaeab9"/>
<rect x="1404" y="676" width="9" height="9" fill="#eaeab9"/>
<rect x="1412" y="676" width="9" height="9" fill="#eaeab9"/>
<rect x="1420" y="676" width="9" height="9" fill="#eaeab9"/>
<rect x="1428" y="676" width="9" height="9" fill="#eaeab9"/>
<rect x="1436" y="676" width="9" height="9" fill="#eaeab9"/>
<rect x="1036" y="684" width="9" height="9" fill="#684141"/>
<rect x="1044" y="684" width="9" height="9" fill="#684141"/>
<rect x="1052" y="684" width="9" height="9" fill="#684141"/>
<rect x="1060" y="684" width="9" height="9" fill="#744a4a"/>
<rect x="1068" y="684" width="9" height="9" fill="#855555"/>
<rect x="1076" y="684" width="9" height="9" fill="#925e5e"/>
<rect x="1084" y="684" width="9" height="9" fill="#9a6363"/>
<rect x="1092" y="684" width="9" height="9" fill="#a06767"/>
<rect x="1100" y="684" width="9" height="9" fill="#a56b6b"/>
<rect x="1108" y="684" width="9" height="9" fill="#ac6f6f"/>
<rect x="1116" y="684" width="9" height="9" fill="#b27373"/>
<rect x="1124" y="684" width="9" height="9" fill="#b37474"/>
<rect x="1132" y="684" width="9" height="9" fill="#af7272"/>
<rect x="1140" y="684" width="9" height="9" fill="#aa6e6e"/>
<rect x="1148" y="684" width="9" height="9" fill="#aa6e6e"/>
<rect x="1156" y="684" width="9" height="9" fill="#ae7171"/>
<rect x="1164" y="684" width="9" height="9" fill="#b67676"/>
<rect x="1172" y="684" width="9" height="9" fill="#bc7a7a"/>
<rect x="1180" y="684" width="9" height="9" fill="#c2817f"/>
<rect x="1188" y="684" width="9" height="9" fill="#c58a83"/>
<rect x="1196" y="684" width="9" height="9" fill="#c79186"/>
<rect x="1204" y="684" width="9" height="9" fill="#c99689"/>
<rect x="1212" y="684" width="9" height="9" fill="#cb9b8b"/>
<rect x="1220" y="684" width="9" height="9" fill="#cda28f"/>
<rect x="1228" y="684" width="9" height="9" fill="#cfa892"/>
<rect x="1236" y="684" width="9" height="9" fill="#d2b096"/>
<rect x="1244" y="684" width="9" height="9" fill="#d5b89a"/>
<rect x="1252" y="684" width="9" height="9" fill="#d8bf9e"/>
<rect x="1260" y="684" width="9" height="9" fill="#dac6a1"/>
<rect x="1268" y="684" width="9" height="9" fill="#ddcca4"/>
<rect x="1276" y="684" width="9" height="9" fill="#dfd1a7"/>
<rect x="1284" y="684" width="9" height="9" fill="#dfd3a8"/>
<rect x="1292" y="684" width="9" height="9" fill="#e0d4a8"/>
<rect x="1300" y="684" width="9" height="9" fill="#e0d4a8"/>
<rect x="1308" y="684" width="9" height="9" fill="#e0d4a8"/>
<rect x="1316" y="684" width="9" height="9" fill="#e0d4a8"/>
<rect x="1324" y="684" width="9" height="9" fill="#e0d4a8"/>
<rect x="1332" y="684" width="9" height="9" fill="#e0d4a8"/>
<rect x="1340" y="684" width="9" height="9" fill="#e0d4a8"/>
<rect x="1348" y="684" width="9" height="9" fill="#e0d4a8"/>
<rect x="1356" y="684" width="9" height="9" fill="#e0d4a8"/>
<rect x="1364" y="684" width="9" height="9" fill="#e0d4a8"/>
<rect x="1372" y="684" width="9" height="9" fill="#e0d4a8"/>
<rect x="1380" y="684" width="9" height="9" fill="#e0d4a8"/>
<rect x="1388" y="684" width="9" height="9" fill="#e0d4a8"/>
<rect x="1396" y="684" width="9" height="9" fill="#e0d4a8"/>
<rect x="1404" y="684" width="9" height="9" fill="#e0d4a8"/>
<rect x="1412" y="684" width="9" height="9" fill="#e0d4a8"/>
<rect x="1420" y="684" width="9" height="9" fill="#e0d4a8"/>
<rect x="1428" y="684" width="9" height="9" fill="#e0d4a8"/>
<rect x="1436" y="684" width="9" height="9" fill="#e0d4a8"/>
<rect x="1036" y="692" width="9" height="9" fill="#503131"/>
<rect x="1044" y="692" width="9" height="9" fill="#503131"/>
<rect x="1052" y="692" width="9" height="9" fill="#503131"/>
<rect x="1060" y="692" width="9" height="9" fill="#593737"/>
<rect x="1068" y="692" width="9" height="9" fill="#694242"/>
<rect x="1076" y="692" width="9" height="9" fill="#744a4a"/>
<rect x="1084" y="692" width="9" height="9" fill="#7e5050"/>
<rect x="1092" y="692" width="9" height="9" fill="#845454"/>
<rect x="1100" y="692" width="9" height="9" fill="#8b5959"/>
<rect x="1108" y="692" width="9" height="9" fill="#915d5d"/>
<rect x="1116" y="692" width="9" height="9" fill="#966161"/>
<rect x="1124" y="692" width="9" height="9" fill="#9a6363"/>
<rect x="1132" y="692" width="9" height="9" fill="#9b6464"/>
<rect x="1140" y="692" width="9" height="9" fill="#9e6666"/>
<rect x="1148" y="692" width="9" height="9" fill="#a06767"/>
<rect x="1156" y="692" width="9" height="9" fill="#a56b6b"/>
<rect x="1164" y="692" width="9" height="9" fill="#aa6e6e"/>
<rect x="1172" y="692" width="9" height="9" fill="#af7272"/>
<rect x="1180" y="692" width="9" height="9" fill="#b47575"/>
<rect x="1188" y="692" width="9" height="9" fill="#b87777"/>
<rect x="1196" y="692" width="9" height="9" fill="#bc7a7a"/>
<rect x="1204" y="692" width="9" height="9" fill="#c07c7c"/>
<rect x="1212" y="692" width="9" height="9" fill="#c2817f"/>
<rect x="1220" y="692" width="9" height="9" fill="#c48782"/>
<rect x="1228" y="692" width="9" height="9" fill="#c68c84"/>
<rect x="1236" y="692" width="9" height="9" fill="#c89387"/>
<rect x="1244" y="692" width="9" height="9" fill="#ca9a8b"/>
<rect x="1252" y="692" width="9" height="9" fill="#cca08e"/>
<rect x="1260" y="692" width="9" height="9" fill="#cea590"/>
<rect x="1268" y="692" width="9" height="9" fill="#d0aa92"/>
<rect x="1276" y="692" width="9" height="9" fill="#d0ac94"/>
<rect x="1284" y="692" width="9" height="9" fill="#d2af95"/>
<rect x="1292" y="692" width="9" height="9" fill="#d2b296"/>
<rect x="1300" y="692" width="9" height="9" fill="#d3b397"/>
<rect x="1308" y="692" width="9" height="9" fill="#d3b397"/>
<rect x="1316" y="692" width="9" height="9" fill="#d3b397"/>
<rect x="1324" y="692" width="9" height="9" fill="#d2b296"/>
<rect x="1332" y="692" width="9" height="9" fill="#d2b296"/>
<rect x="1340" y="692" width="9" height="9" fill="#d2b296"/>
<rect x="1348" y="692" width="9" height="9" fill="#d2b296"/>
<rect x="1356" y="692" width="9" height="9" fill="#d2b296"/>
<rect x="1364" y="692" width="9" height="9" fill="#d2b296"/>
<rect x="1372" y="692" width="9" height="9" fill="#d2b296"/>
<rect x="1380" y="692" width="9" height="9" fill="#d2b296"/>
<rect x="1388" y="692" width="9" height="9" fill="#d2b296"/>
<rect x="1396" y="692" width="9" height="9" fill="#d2b296"/>
<rect x="1404" y="692" width="9" height="9" fill="#d2b296"/>
<rect x="1412" y="692" width="9" height="9" fill="#d2b296"/>
<rect x="1420" y="692" width="9" height="9" fill="#d2b296"/>
<rect x="1428" y="692" width="9" height="9" fill="#d2b296"/>
<rect x="1436" y="692" width="9" height="9" fill="#d2b296"/>
<rect x="1036" y="700" width="9" height="9" fill="#4b2d2d"/>
<rect x="1044" y="700" width="9" height="9" fill="#4b2d2d"/>
<rect x="1052" y="700" width="9" height="9" fill="#4b2d2d"/>
<rect x="1060" y="700" width="9" height="9" fill="#553434"/>
<rect x="1068" y="700" width="9" height="9" fill="#643e3e"/>
<rect x="1076" y="700" width="9" height="9" fill="#6f4646"/>
<rect x="1084" y="700" width="9" height="9" fill="#774c4c"/>
<rect x="1092" y="700" width="9" height="9" fill="#7f5151"/>
<rect x="1100" y="700" width="9" height="9" fill="#855555"/>
<rect x="1108" y="700" width="9" height="9" fill="#8b5959"/>
<rect x="1116" y="700" width="9" height="9" fill="#915d5d"/>
<rect x="1124" y="700" width="9" height="9" fill="#956060"/>
<rect x="1132" y="700" width="9" height="9" fill="#996262"/>
<rect x="1140" y="700" width="9" height="9" fill="#9b6464"/>
<rect x="1148" y="700" width="9" height="9" fill="#9f6767"/>
<rect x="1156" y="700" width="9" height="9" fill="#a46a6a"/>
<rect x="1164" y="700" width="9" height="9" fill="#a96d6d"/>
<rect x="1172" y="700" width="9" height="9" fill="#ad7070"/>
<rect x="1180" y="700" width="9" height="9" fill="#b17272"/>
<rect x="1188" y="700" width="9" height="9" fill="#b57575"/>
<rect x="1196" y="700" width="9" height="9" fill="#b97878"/>
<rect x="1204" y="700" width="9" height="9" fill="#bd7b7b"/>
<rect x="1212" y="700" width="9" height="9" fill="#c17d7d"/>
<rect x="1220" y="700" width="9" height="9" fill="#c38280"/>
<rect x="1228" y="700" width="9" height="9" fill="#c48782"/>
<rect x="1236" y="700" width="9" height="9" fill="#c68e85"/>
<rect x="1244" y="700" width="9" height="9" fill="#c89387"/>
<rect x="1252" y="700" width="9" height="9" fill="#ca9a8b"/>
<rect x="1260" y="700" width="9" height="9" fill="#cc9f8d"/>
<rect x="1268" y="700" width="9" height="9" fill="#cda28f"/>
<rect x="1276" y="700" width="9" height="9" fill="#cea590"/>
<rect x="1284" y="700" width="9" height="9" fill="#cfa791"/>
<rect x="1292" y="700" width="9" height="9" fill="#d0aa92"/>
<rect x="1300" y="700" width="9" height="9" fill="#d0ac94"/>
<rect x="1308" y="700" width="9" height="9" fill="#d0ac94"/>
<rect x="1316" y="700" width="9" height="9" fill="#d0ac94"/>
<rect x="1324" y="700" width="9" height="9" fill="#d0ab93"/>
<rect x="1332" y="700" width="9" height="9" fill="#d0ab93"/>
<rect x="1340" y="700" width="9" height="9" fill="#d0ab93"/>
<rect x="1348" y="700" width="9" height="9" fill="#d0ac94"/>
<rect x="1356" y="700" width="9" height="9" fill="#d0ac94"/>
<rect x="1364" y="700" width="9" height="9" fill="#d0ac94"/>
<rect x="1372" y="700" width="9" height="9" fill="#d0ab93"/>
<rect x="1380" y="700" width="9" height="9" fill="#d0ab93"/>
<rect x="1388" y="700" width="9" height="9" fill="#d0ac94"/>
<rect x="1396" y="700" width="9" height="9" fill="#d0ac94"/>
<rect x="1404" y="700" width="9" height="9" fill="#d0ac94"/>
<rect x="1412" y="700" width="9" height="9" fill="#d0ab93"/>
<rect x="1420" y="700" width="9" height="9" fill="#d0ab93"/>
<rect x="1428" y="700" width="9" height="9" fill="#d0ab93"/>
<rect x="1436" y="700" width="9" height="9" fill="#d0ab93"/>
<rect x="1036" y="708" width="9" height="9" fill="#4b2d2d"/>
<rect x="1044" y="708" width="9" height="9" fill="#4b2d2d"/>
<rect x="1052" y="708" width="9" height="9" fill="#4b2d2d"/>
<rect x="1060" y="708" width="9" height="9" fill="#553434"/>
<rect x="1068" y="708" width="9" height="9" fill="#643e3e"/>
<rect x="1076" y="708" width="9" height="9" fill="#6f4646"/>
<rect x="1084" y="708" width="9" height="9" fill="#774c4c"/>
<rect x="1092" y="708" width="9" height="9" fill="#7f5151"/>
<rect x="1100" y="708" width="9" height="9" fill="#855555"/>
<rect x="1108" y="708" width="9" height="9" fill="#8b5959"/>
<rect x="1116" y="708" width="9" height="9" fill="#915d5d"/>
<rect x="1124" y="708" width="9" height="9" fill="#956060"/>
<rect x="1132" y="708" width="9" height="9" fill="#996262"/>
<rect x="1140" y="708" width="9" height="9" fill="#9b6464"/>
<rect x="1148" y="708" width="9" height="9" fill="#9f6767"/>
<rect x="1156" y="708" width="9" height="9" fill="#a46a6a"/>
<rect x="1164" y="708" width="9" height="9" fill="#a96d6d"/>
<rect x="1172" y="708" width="9" height="9" fill="#ad7070"/>
<rect x="1180" y="708" width="9" height="9" fill="#b17272"/>
<rect x="1188" y="708" width="9" height="9" fill="#b57575"/>
<rect x="1196" y="708" width="9" height="9" fill="#b97878"/>
<rect x="1204" y="708" width="9" height="9" fill="#bd7b7b"/>
<rect x="1212" y="708" width="9" height="9" fill="#c17d7d"/>
<rect x="1220" y="708" width="9" height="9" fill="#c38280"/>
<rect x="1228" y="708" width="9" height="9" fill="#c48782"/>
<rect x="1236" y="708" width="9" height="9" fill="#c68e85"/>
<rect x="1244" y="708" width="9" height="9" fill="#c89387"/>
<rect x="1252" y="708" width="9" height="9" fill="#ca9a8b"/>
<rect x="1260" y="708" width="9" height="9" fill="#cc9f8d"/>
<rect x="1268" y="708" width="9" height="9" fill="#cda28f"/>
<rect x="1276" y="708" width="9" height="9" fill="#cea590"/>
<rect x="1284" y="708" width="9" height="9" fill="#cfa791"/>
<rect x="1292" y="708" width="9" height="9" fill="#d0aa92"/>
<rect x="1300" y="708" width="9" height="9" fill="#d0ac94"/>
<rect x="1308" y="708" width="9" height="9" fill="#d0ac94"/>
<rect x="1316" y="708" width="9" height="9" fill="#d0ac94"/>
<rect x="1324" y="708" width="9" height="9" fill="#d0ab93"/>
<rect x="1332" y="708" width="9" height="9" fill="#d0ab93"/>
<rect x="1340" y="708" width="9" height="9" fill="#d0ab93"/>
<rect x="1348" y="708" width="9" height="9" fill="#d0ac94"/>
<rect x="1356" y="708" width="9" height="9" fill="#d0ac94"/>
<rect x="1364" y="708" width="9" height="9" fill="#d0ac94"/>
<rect x="1372" y="708" width="9" height="9" fill="#d0ab93"/>
<rect x="1380" y="708" width="9" height="9" fill="#d0ab93"/>
<rect x="1388" y="708" width="9" height="9" fill="#d0ac94"/>
<rect x="1396" y="708" width="9" height="9" fill="#d0ac94"/>
<rect x="1404" y="708" width="9" height="9" fill="#d0ac94"/>
<rect x="1412" y="708" width="9" height="9" fill="#d0ab93"/>
<rect x="1420" y="708" width="9" height="9" fill="#d0ab93"/>
<rect x="1428" y="708" width="9" height="9" fill="#d0ab93"/>
<rect x="1436" y="708" width="9" height="9" fill="#d0ab93"/>
<rect x="1036" y="716" width="9" height="9" fill="#4b2d2d"/>
<rect x="1044" y="716" width="9" height="9" fill="#4b2d2d"/>
<rect x="1052" y="716" width="9" height="9" fill="#4b2d2d"/>
<rect x="1060" y="716" width="9" height="9" fill="#553434"/>
<rect x="1068" y="716" width="9" height="9" fill="#643e3e"/>
<rect x="1076" y="716" width="9" height="9" fill="#6f4646"/>
<rect x="1084" y="716" width="9" height="9" fill="#774c4c"/>
<rect x="1092" y="716" width="9" height="9" fill="#7f5151"/>
<rect x="1100" y="716" width="9" height="9" fill="#855555"/>
<rect x="1108" y="716" width="9" height="9" fill="#8b5959"/>
<rect x="1116" y="716" width="9" height="9" fill="#915d5d"/>
<rect x="1124" y="716" width="9" height="9" fill="#956060"/>
<rect x="1132" y="716" width="9" height="9" fill="#996262"/>
<rect x="1140" y="716" width="9" height="9" fill="#9b6464"/>
<rect x="1148" y="716" width="9" height="9" fill="#9f6767"/>
<rect x="1156" y="716" width="9" height="9" fill="#a46a6a"/>
<rect x="1164" y="716" width="9" height="9" fill="#a96d6d"/>
<rect x="1172" y="716" width="9" height="9" fill="#ad7070"/>
<rect x="1180" y="716" width="9" height="9" fill="#b17272"/>
<rect x="1188" y="716" width="9" height="9" fill="#b57575"/>
<rect x="1196" y="716" width="9" height="9" fill="#b97878"/>
<rect x="1204" y="716" width="9" height="9" fill="#bd7b7b"/>
<rect x="1212" y="716" width="9" height="9" fill="#c17d7d"/>
<rect x="1220" y="716" width="9" height="9" fill="#c38280"/>
<rect x="1228" y="716" width="9" height="9" fill="#c48782"/>
<rect x="1236" y="716" width="9" height="9" fill="#c68e85"/>
<rect x="1244" y="716" width="9" height="9" fill="#c89387"/>
<rect x="1252" y="716" width="9" height="9" fill="#ca9a8b"/>
<rect x="1260" y="716" width="9" height="9" fill="#cc9f8d"/>
<rect x="1268" y="716" width="9" height="9" fill="#cda28f"/>
<rect x="1276" y="716" width="9" height="9" fill="#cea590"/>
<rect x="1284" y="716" width="9" height="9" fill="#cfa791"/>
<rect x="1292" y="716" width="9" height="9" fill="#d0aa92"/>
<rect x="1300" y="716" width="9" height="9" fill="#d0ac94"/>
<rect x="1308" y="716" width="9" height="9" fill="#d0ac94"/>
<rect x="1316" y="716" width="9" height="9" fill="#d0ac94"/>
<rect x="1324" y="716" width="9" height="9" fill="#d0ab93"/>
<rect x="1332" y="716" width="9" height="9" fill="#d0ab93"/>
<rect x="1340" y="716" width="9" height="9" fill="#d0ab93"/>
<rect x="1348" y="716" width="9" height="9" fill="#d0ac94"/>
<rect x="1356" y="716" width="9" height="9" fill="#d0ac94"/>
<rect x="1364" y="716" width="9" height="9" fill="#d0ac94"/>
<rect x="1372" y="716" width="9" height="9" fill="#d0ab93"/>
<rect x="1380" y="716" width="9" height="9" fill="#d0ab93"/>
<rect x="1388" y="716" width="9" height="9" fill="#d0ac94"/>
<rect x="1396" y="716" width="9" height="9" fill="#d0ac94"/>
<rect x="1404" y="716" width="9" height="9" fill="#d0ac94"/>
<rect x="1412" y="716" width="9" height="9" fill="#d0ab93"/>
<rect x="1420" y="716" width="9" height="9" fill="#d0ab93"/>
<rect x="1428" y="716" width="9" height="9" fill="#d0ab93"/>
<rect x="1436" y="716" width="9" height="9" fill="#d0ab93"/></g></g>
<path d="M1059.9 142.27L1236.8 38.3L1059.9 38.3Z M1236.8 350.2L1413.7 246.23L1413.7 350.2Z" fill="#fff"/><path d="M1059.9 142.27L1236.8 38.3 M1236.8 350.2L1413.7 246.23" stroke="#1a1a1a" stroke-width="2.6" stroke-dasharray="10.2 2.9" fill="none"/>
<rect x="1059.9" y="38.3" width="353.8" height="311.9" fill="none" stroke="#777" stroke-width="1"/>
<path d="M1055 350.2H1059.9" stroke="#777" stroke-width="1"/>
<text x="1050.3" y="354.4" text-anchor="end" class="bl">S<tspan class="sb" dy="5">3</tspan></text>
<path d="M1055 298.22H1059.9" stroke="#777" stroke-width="1"/>
<text x="1050.3" y="304.3" text-anchor="end" class="bl">S<tspan class="sb" dy="5">2</tspan><tspan dy="-5">P</tspan></text>
<path d="M1055 246.23H1059.9" stroke="#777" stroke-width="1"/>
<text x="1050.3" y="252.1" text-anchor="end" class="bl">SP<tspan class="sb" dy="5">2</tspan></text>
<path d="M1055 194.25H1059.9" stroke="#777" stroke-width="1"/>
<text x="1050.3" y="200.9" text-anchor="end" class="bl">P<tspan class="sb" dy="5">3</tspan></text>
<path d="M1055 142.27H1059.9" stroke="#777" stroke-width="1"/>
<text x="1050.3" y="150.3" text-anchor="end" class="bl">SiP<tspan class="sb" dy="5">2</tspan></text>
<path d="M1055 90.28H1059.9" stroke="#777" stroke-width="1"/>
<text x="1050.3" y="99" text-anchor="end" class="bl">Si<tspan class="sb" dy="5">2</tspan><tspan dy="-5">P</tspan></text>
<path d="M1055 38.3H1059.9" stroke="#777" stroke-width="1"/>
<text x="1050.3" y="46.8" text-anchor="end" class="bl">Si<tspan class="sb" dy="5">3</tspan></text>
<text transform="translate(1098.5 99.7) rotate(-30.4)" class="bl" style="font-size:27.5px">&gt;M<tspan style="font-size:16.5px" dy="-8.5">5+</tspan></text>
<text transform="translate(1322 334) rotate(-30.4)" class="bl" style="font-size:27.5px">&lt;M<tspan style="font-size:16.5px" dy="-8.5">2+</tspan></text>
<path d="M1059.9 485.37L1236.8 379.6L1059.9 379.6Z M1236.8 696.9L1413.7 591.13L1413.7 696.9Z" fill="#fff"/><path d="M1059.9 485.37L1236.8 379.6 M1236.8 696.9L1413.7 591.13" stroke="#1a1a1a" stroke-width="2.6" stroke-dasharray="10.2 2.9" fill="none"/>
<rect x="1059.9" y="379.6" width="353.8" height="317.3" fill="none" stroke="#777" stroke-width="1"/>
<path d="M1055 696.9H1059.9" stroke="#777" stroke-width="1"/>
<text x="1050.3" y="701" text-anchor="end" class="bl">S<tspan class="sb" dy="5">3</tspan></text>
<path d="M1055 644.02H1059.9" stroke="#777" stroke-width="1"/>
<text x="1050.3" y="651" text-anchor="end" class="bl">S<tspan class="sb" dy="5">2</tspan><tspan dy="-5">P</tspan></text>
<path d="M1055 591.13H1059.9" stroke="#777" stroke-width="1"/>
<text x="1050.3" y="599" text-anchor="end" class="bl">SP<tspan class="sb" dy="5">2</tspan></text>
<path d="M1055 538.25H1059.9" stroke="#777" stroke-width="1"/>
<text x="1050.3" y="548.3" text-anchor="end" class="bl">P<tspan class="sb" dy="5">3</tspan></text>
<path d="M1055 485.37H1059.9" stroke="#777" stroke-width="1"/>
<text x="1050.3" y="496.9" text-anchor="end" class="bl">SiP<tspan class="sb" dy="5">2</tspan></text>
<path d="M1055 432.48H1059.9" stroke="#777" stroke-width="1"/>
<text x="1050.3" y="445.9" text-anchor="end" class="bl">Si<tspan class="sb" dy="5">2</tspan><tspan dy="-5">P</tspan></text>
<path d="M1055 379.6H1059.9" stroke="#777" stroke-width="1"/>
<text x="1050.3" y="394.1" text-anchor="end" class="bl">Si<tspan class="sb" dy="5">3</tspan></text>
<text transform="translate(1098.5 439.4) rotate(-30.4)" class="bl" style="font-size:27.5px">&gt;M<tspan style="font-size:16.5px" dy="-8.5">5+</tspan></text>
<text transform="translate(1327.3 682.6) rotate(-30.4)" class="bl" style="font-size:27.5px">&lt;M<tspan style="font-size:16.5px" dy="-8.5">2+</tspan></text>
<path d="M1059.9 696.9V701" stroke="#777" stroke-width="1"/>
<text x="1059.9" y="726.6" text-anchor="middle" style="font-size:23.3px">0</text>
<path d="M1148.35 696.9V701" stroke="#777" stroke-width="1"/>
<text x="1148.35" y="726.6" text-anchor="middle" style="font-size:23.3px">1</text>
<path d="M1236.8 696.9V701" stroke="#777" stroke-width="1"/>
<text x="1236.8" y="726.6" text-anchor="middle" style="font-size:23.3px">2</text>
<path d="M1325.25 696.9V701" stroke="#777" stroke-width="1"/>
<text x="1325.25" y="726.6" text-anchor="middle" style="font-size:23.3px">3</text>
<path d="M1413.7 696.9V701" stroke="#777" stroke-width="1"/>
<text x="1413.7" y="726.6" text-anchor="middle" style="font-size:23.3px">4</text>
<text x="1089.3" y="755.3" style="font-size:25px"><tspan style="font-style:italic">x</tspan> in Na<tspan style="font-size:15.5px;font-style:italic" dy="3.5">x</tspan><tspan dy="-3.5">M</tspan><tspan style="font-size:15.5px;font-style:italic" dy="3.5">y</tspan><tspan dy="-3.5">M&#8217;</tspan><tspan style="font-size:15.5px" dy="3.5">2-<tspan style="font-style:italic">y</tspan></tspan><tspan dy="-3.5">(AO</tspan><tspan style="font-size:15.5px" dy="3.5">4</tspan><tspan dy="-3.5">)</tspan><tspan style="font-size:15.5px;font-style:italic" dy="3.5">z</tspan><tspan dy="-3.5">(BO</tspan><tspan style="font-size:15.5px" dy="3.5">4</tspan><tspan dy="-3.5">)</tspan><tspan style="font-size:15.5px" dy="3.5">3-<tspan style="font-style:italic">z</tspan></tspan></text>
<text transform="translate(993.1 364.2) rotate(-90)" text-anchor="middle" style="font-size:27px">Polyanion composition</text>
<rect x="1441.3" y="72.1" width="19.4" height="260.6" fill="url(#gE2)" stroke="#555" stroke-width="1"/>
<rect x="1441.3" y="420" width="19.4" height="260" fill="url(#gF2)" stroke="#555" stroke-width="1"/>
<path d="M1460.7 332.7H1465" class="tk"/>
<text x="1469.3" y="339.3" class="cb" style="font-size:21px">0</text>
<path d="M1460.7 258.2H1465" class="tk"/>
<text x="1469.3" y="264.8" class="cb" style="font-size:21px">20</text>
<path d="M1460.7 183.7H1465" class="tk"/>
<text x="1469.3" y="190.3" class="cb" style="font-size:21px">40</text>
<path d="M1460.7 109.2H1465" class="tk"/>
<text x="1469.3" y="115.8" class="cb" style="font-size:21px">60</text>
<path d="M1460.7 445.5H1465" class="tk"/>
<text x="1469.3" y="452.1" class="cb" style="font-size:21px">0.1</text>
<path d="M1460.7 550.6H1465" class="tk"/>
<text x="1469.3" y="557.2" class="cb" style="font-size:21px">0.5</text>
<path d="M1460.7 654.4H1465" class="tk"/>
<text x="1469.3" y="661" class="cb" style="font-size:21px">0.9</text>
<text x="1430" y="54.9" style="font-size:27px">E<tspan style="font-size:16.5px" dy="3.4">hull</tspan></text>
<text x="1418" y="402.6" style="font-size:27px">f<tspan style="font-size:17px" dy="1.2">accessible</tspan></text>
</svg></body></html>
